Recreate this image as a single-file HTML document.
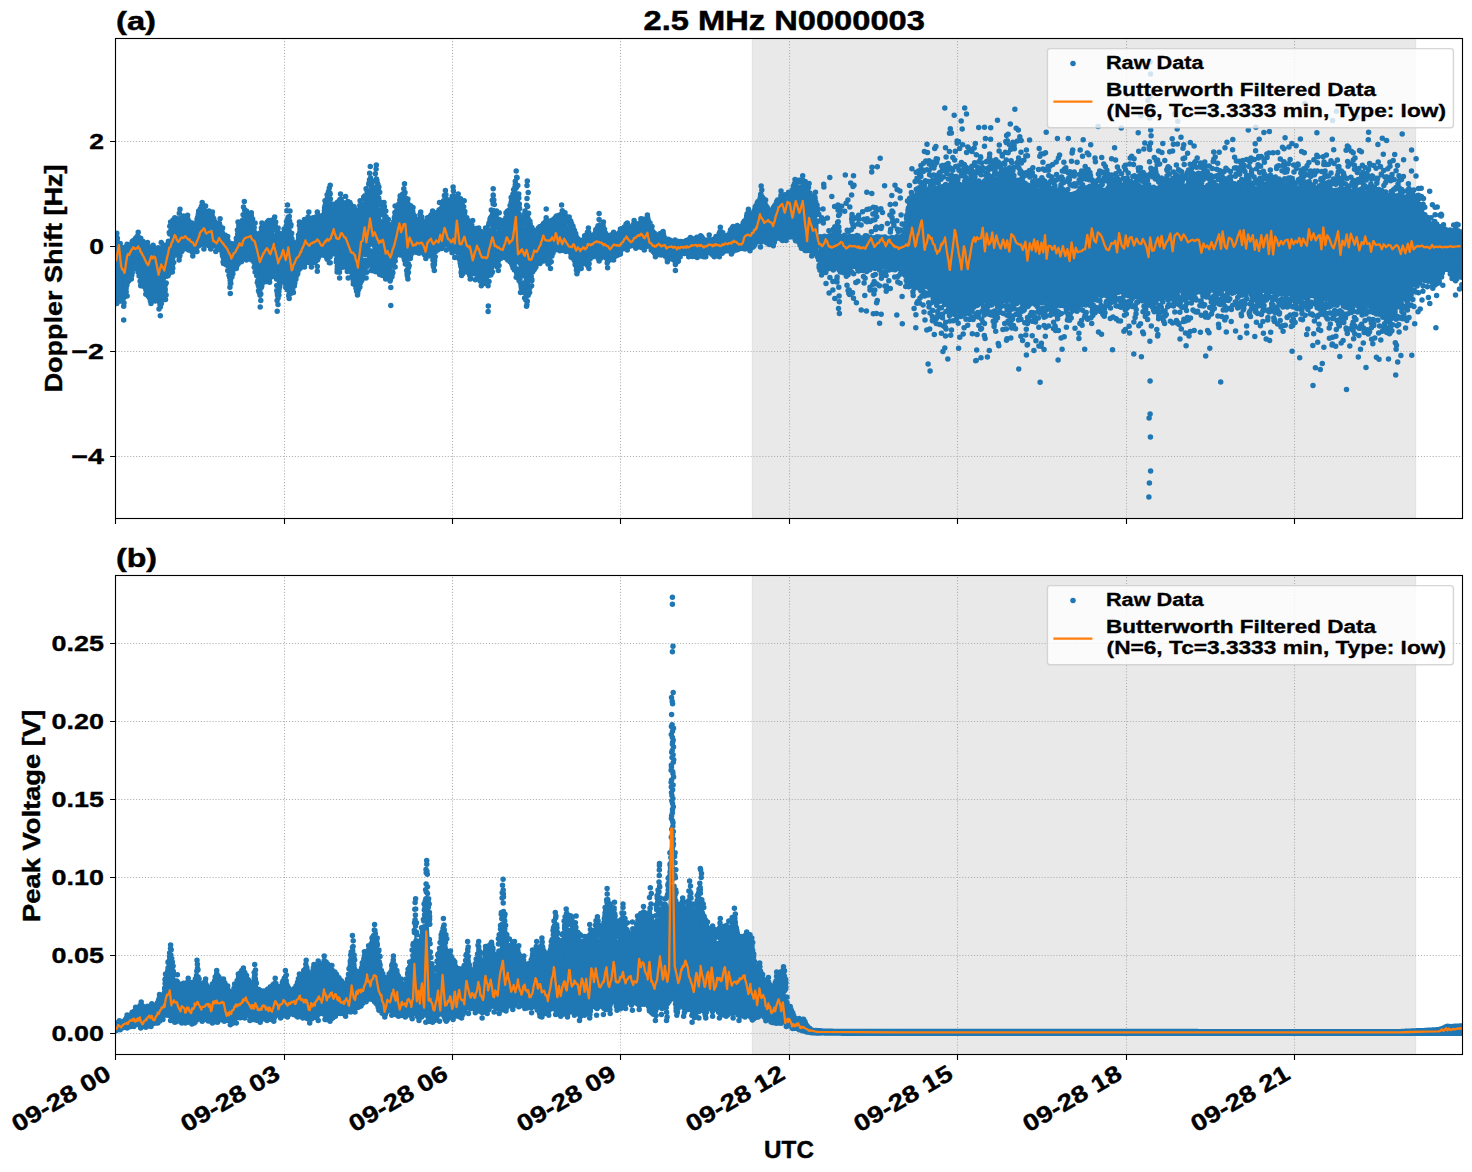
<!DOCTYPE html>
<html lang="en"><head><meta charset="utf-8"><title>2.5 MHz N0000003</title>
<style>html,body{margin:0;padding:0;background:#fff}svg{display:block}text{font-family:"Liberation Sans",sans-serif;font-weight:bold;fill:#000}</style></head><body>
<svg width="1472" height="1172" viewBox="0 0 1472 1172">
<rect width="1472" height="1172" fill="#fff"/>
<clipPath id="ca"><rect x="115.5" y="38.5" width="1347.0" height="480.0"/></clipPath>
<g clip-path="url(#ca)">
<rect x="752.4" y="33.5" width="663.2" height="490.0" fill="#d3d3d3" fill-opacity="0.5" stroke="#d3d3d3" stroke-opacity="0.5" stroke-width="1.11"/>
<path d="M115.50 518.5V38.5M284.50 518.5V38.5M452.50 518.5V38.5M620.50 518.5V38.5M789.50 518.5V38.5M957.50 518.5V38.5M1126.50 518.5V38.5M1294.50 518.5V38.5M115.5 141.50H1462.5M115.5 246.50H1462.5M115.5 351.50H1462.5M115.5 456.50H1462.5" stroke="#b0b0b0" stroke-width="1.11" stroke-dasharray="1.11 1.83" fill="none"/>
<path d="M115.5 246.3 116.5 244.8 117.5 246.5 118.5 245.2 119.5 249.0 120.5 255.7 121.5 255.9 122.5 255.8 123.5 256.7 124.5 257.1 125.5 255.2 126.5 253.3 127.5 252.0 128.5 251.6 129.5 251.2 130.5 249.6 131.5 247.7 132.5 246.0 133.5 245.0 134.5 244.4 135.5 244.2 136.5 242.9 137.5 241.6 138.5 241.9 139.5 244.7 140.5 247.2 141.5 247.7 142.5 247.9 143.5 249.2 144.5 251.1 145.5 252.9 146.5 253.4 147.5 254.0 148.5 254.6 149.5 256.0 150.5 256.2 151.5 255.0 152.5 252.9 153.5 252.0 154.5 254.3 155.5 256.9 156.5 258.0 157.5 257.5 158.5 256.9 159.5 256.7 160.5 256.3 161.5 255.3 162.5 254.7 163.5 254.0 164.5 255.5 165.5 255.9 166.5 254.6 167.5 251.7 168.5 246.3 169.5 239.3 170.5 233.3 171.5 232.0 172.5 230.0 173.5 227.6 174.5 225.7 175.5 225.1 176.5 225.0 177.5 226.2 178.5 227.6 179.5 227.6 180.5 226.8 181.5 227.3 182.5 227.5 183.5 227.7 184.5 226.8 185.5 225.3 186.5 223.9 187.5 224.1 188.5 227.3 189.5 230.8 190.5 232.3 191.5 233.7 192.5 234.5 193.5 234.8 194.5 235.0 195.5 233.9 196.5 229.3 197.5 224.6 198.5 221.1 199.5 218.4 200.5 216.5 201.5 215.1 202.5 214.5 203.5 216.1 204.5 218.3 205.5 220.2 206.5 220.7 207.5 220.6 208.5 221.5 209.5 222.3 210.5 222.6 211.5 221.6 212.5 222.0 213.5 224.9 214.5 228.0 215.5 231.0 216.5 231.8 217.5 231.1 218.5 230.3 219.5 229.7 220.5 230.9 221.5 233.9 222.5 237.2 223.5 239.2 224.5 239.8 225.5 240.3 226.5 242.0 227.5 244.8 228.5 248.6 229.5 250.5 230.5 251.5 231.5 251.0 232.5 250.3 233.5 249.9 234.5 248.7 235.5 247.0 236.5 244.1 237.5 236.5 238.5 231.7 239.5 231.0 240.5 231.7 241.5 232.5 242.5 230.2 243.5 223.4 244.5 218.9 245.5 223.0 246.5 226.9 247.5 225.7 248.5 223.4 249.5 221.4 250.5 221.8 251.5 222.8 252.5 226.5 253.5 231.2 254.5 235.9 255.5 238.8 256.5 242.4 257.5 245.5 258.5 247.6 259.5 248.8 260.5 244.3 261.5 239.1 262.5 236.5 263.5 236.1 264.5 236.4 265.5 235.7 266.5 234.0 267.5 232.7 268.5 233.0 269.5 233.4 270.5 233.2 271.5 231.3 272.5 229.4 273.5 229.4 274.5 232.0 275.5 237.8 276.5 240.0 277.5 241.5 278.5 243.8 279.5 247.4 280.5 250.0 281.5 248.6 282.5 246.6 283.5 245.2 284.5 243.6 285.5 240.0 286.5 235.2 287.5 230.1 288.5 230.9 289.5 232.3 290.5 236.5 291.5 246.4 292.5 250.3 293.5 251.6 294.5 251.8 295.5 252.0 296.5 252.0 297.5 251.6 298.5 244.2 299.5 235.0 300.5 233.2 301.5 231.6 302.5 232.1 303.5 232.5 304.5 231.7 305.5 229.3 306.5 227.5 307.5 227.1 308.5 227.1 309.5 227.8 310.5 228.0 311.5 228.3 312.5 230.2 313.5 232.0 314.5 232.4 315.5 229.1 316.5 225.7 317.5 224.6 318.5 226.8 319.5 229.0 320.5 229.4 321.5 229.6 322.5 227.1 323.5 223.5 324.5 219.8 325.5 215.8 326.5 212.1 327.5 208.4 328.5 206.4 329.5 205.9 330.5 211.5 331.5 216.0 332.5 219.6 333.5 218.3 334.5 216.3 335.5 215.7 336.5 216.3 337.5 215.7 338.5 214.4 339.5 213.0 340.5 211.1 341.5 211.8 342.5 213.2 343.5 213.9 344.5 214.5 345.5 215.3 346.5 215.5 347.5 215.4 348.5 215.8 349.5 217.4 350.5 218.8 351.5 221.1 352.5 223.9 353.5 226.4 354.5 225.7 355.5 224.4 356.5 225.0 357.5 227.6 358.5 228.1 359.5 226.3 360.5 224.1 361.5 221.1 362.5 216.3 363.5 210.6 364.5 208.1 365.5 209.3 366.5 210.1 367.5 204.4 368.5 198.8 369.5 194.5 370.5 193.7 371.5 197.3 372.5 200.1 373.5 201.5 374.5 200.4 375.5 197.0 376.5 194.7 377.5 199.4 378.5 205.2 379.5 208.6 380.5 213.9 381.5 218.9 382.5 220.4 383.5 219.3 384.5 219.4 385.5 223.8 386.5 227.7 387.5 231.1 388.5 234.3 389.5 236.0 390.5 236.8 391.5 236.1 392.5 235.6 393.5 230.9 394.5 226.4 395.5 222.3 396.5 219.1 397.5 215.9 398.5 212.6 399.5 209.5 400.5 208.4 401.5 207.3 402.5 205.5 403.5 204.1 404.5 203.6 405.5 208.5 406.5 213.0 407.5 217.1 408.5 216.7 409.5 215.6 410.5 215.9 411.5 218.0 412.5 220.4 413.5 222.8 414.5 224.4 415.5 226.1 416.5 228.7 417.5 228.3 418.5 228.0 419.5 225.8 420.5 223.5 421.5 225.2 422.5 228.3 423.5 231.8 424.5 235.0 425.5 235.9 426.5 234.1 427.5 229.8 428.5 227.0 429.5 225.3 430.5 224.0 431.5 223.5 432.5 224.1 433.5 224.9 434.5 224.8 435.5 223.5 436.5 222.5 437.5 221.1 438.5 220.2 439.5 218.5 440.5 217.0 441.5 217.1 442.5 214.5 443.5 210.0 444.5 205.9 445.5 205.8 446.5 209.1 447.5 212.1 448.5 214.5 449.5 213.8 450.5 212.4 451.5 211.1 452.5 209.2 453.5 208.6 454.5 210.4 455.5 209.9 456.5 208.2 457.5 209.3 458.5 210.4 459.5 211.5 460.5 212.5 461.5 215.0 462.5 216.4 463.5 217.9 464.5 220.8 465.5 226.1 466.5 229.3 467.5 229.2 468.5 230.6 469.5 233.3 470.5 236.0 471.5 237.4 472.5 238.6 473.5 238.3 474.5 237.4 475.5 236.6 476.5 236.9 477.5 237.9 478.5 239.4 479.5 239.7 480.5 239.7 481.5 241.1 482.5 243.0 483.5 244.3 484.5 243.4 485.5 242.5 486.5 240.4 487.5 238.1 488.5 235.1 489.5 232.1 490.5 229.1 491.5 220.6 492.5 212.5 493.5 209.8 494.5 217.3 495.5 224.5 496.5 230.5 497.5 230.4 498.5 229.8 499.5 229.3 500.5 228.9 501.5 228.4 502.5 229.2 503.5 229.7 504.5 229.0 505.5 225.7 506.5 221.7 507.5 219.9 508.5 220.0 509.5 220.1 510.5 216.4 511.5 212.0 512.5 207.8 513.5 204.2 514.5 200.3 515.5 194.8 516.5 194.6 517.5 204.3 518.5 213.4 519.5 221.1 520.5 230.2 521.5 237.6 522.5 236.1 523.5 232.4 524.5 228.4 525.5 224.1 526.5 220.5 527.5 220.1 528.5 226.2 529.5 232.9 530.5 235.9 531.5 237.5 532.5 238.4 533.5 239.7 534.5 241.3 535.5 242.0 536.5 239.7 537.5 237.2 538.5 235.5 539.5 234.6 540.5 234.0 541.5 232.8 542.5 230.8 543.5 229.5 544.5 230.4 545.5 231.6 546.5 230.6 547.5 229.5 548.5 228.6 549.5 229.5 550.5 230.4 551.5 229.4 552.5 227.4 553.5 226.2 554.5 225.3 555.5 224.1 556.5 223.9 557.5 224.0 558.5 223.8 559.5 222.4 560.5 222.0 561.5 222.1 562.5 222.3 563.5 221.7 564.5 222.3 565.5 223.7 566.5 224.8 567.5 225.4 568.5 225.9 569.5 226.8 570.5 229.0 571.5 231.3 572.5 233.4 573.5 235.3 574.5 238.0 575.5 240.1 576.5 242.0 577.5 243.4 578.5 245.2 579.5 247.1 580.5 246.3 581.5 245.0 582.5 244.3 583.5 244.8 584.5 245.6 585.5 244.0 586.5 240.9 587.5 237.9 588.5 238.0 589.5 240.2 590.5 240.9 591.5 240.7 592.5 240.0 593.5 238.7 594.5 237.8 595.5 236.7 596.5 235.1 597.5 233.3 598.5 231.8 599.5 231.2 600.5 231.8 601.5 231.6 602.5 231.5 603.5 232.0 604.5 234.9 605.5 237.8 606.5 241.3 607.5 243.0 608.5 242.8 609.5 241.7 610.5 240.4 611.5 239.8 612.5 239.8 613.5 239.6 614.5 239.3 615.5 238.9 616.5 238.7 617.5 238.7 618.5 238.6 619.5 237.3 620.5 235.8 621.5 234.2 622.5 233.6 623.5 233.0 624.5 231.8 625.5 230.4 626.5 229.1 627.5 229.7 628.5 230.7 629.5 231.5 630.5 232.1 631.5 232.2 632.5 230.7 633.5 229.1 634.5 228.2 635.5 228.7 636.5 229.3 637.5 229.1 638.5 228.4 639.5 227.7 640.5 226.4 641.5 225.4 642.5 225.4 643.5 226.2 644.5 227.0 645.5 226.1 646.5 225.0 647.5 224.4 648.5 226.6 649.5 229.3 650.5 231.7 651.5 234.2 652.5 236.6 653.5 237.3 654.5 238.1 655.5 239.5 656.5 241.0 657.5 240.9 658.5 239.9 659.5 238.9 660.5 238.2 661.5 237.9 662.5 237.5 663.5 238.6 664.5 241.1 665.5 243.5 666.5 243.6 667.5 243.5 668.5 243.6 669.5 243.7 670.5 243.7 671.5 244.5 672.5 244.9 673.5 245.3 674.5 245.6 675.5 245.9 676.5 245.5 677.5 245.3 678.5 245.0 679.5 244.8 680.5 244.7 681.5 244.9 682.5 245.3 683.5 245.2 684.5 245.0 685.5 244.2 686.5 243.5 687.5 243.2 688.5 242.8 689.5 242.4 690.5 241.9 691.5 241.8 692.5 242.3 693.5 242.8 694.5 242.7 695.5 241.9 696.5 241.0 697.5 241.3 698.5 241.6 699.5 241.7 700.5 241.1 701.5 240.7 702.5 241.4 703.5 242.6 704.5 243.6 705.5 243.4 706.5 243.2 707.5 242.9 708.5 242.6 709.5 242.5 710.5 242.6 711.5 242.8 712.5 242.8 713.5 242.4 714.5 241.9 715.5 242.2 716.5 242.1 717.5 241.4 718.5 239.8 719.5 237.9 720.5 236.3 721.5 236.8 722.5 237.5 723.5 239.5 724.5 241.5 725.5 241.1 726.5 240.4 727.5 239.9 728.5 238.5 729.5 236.7 730.5 234.8 731.5 234.1 732.5 233.2 733.5 232.9 734.5 233.7 735.5 234.6 736.5 234.6 737.5 234.6 738.5 234.4 739.5 233.7 740.5 232.9 741.5 231.9 742.5 230.8 743.5 229.0 744.5 226.8 745.5 224.8 746.5 222.9 747.5 220.8 748.5 219.1 749.5 221.6 750.5 224.0 751.5 224.9 752.5 223.2 753.5 219.8 754.5 216.9 755.5 214.7 756.5 212.6 757.5 210.6 758.5 208.6 759.5 206.0 760.5 203.7 761.5 203.0 762.5 205.2 763.5 207.3 764.5 209.6 765.5 211.8 766.5 212.6 767.5 213.6 768.5 214.7 769.5 216.1 770.5 217.0 771.5 218.0 772.5 218.1 773.5 216.5 774.5 212.6 775.5 210.1 776.5 207.7 777.5 206.0 778.5 205.4 779.5 204.4 780.5 203.4 781.5 202.4 782.5 202.6 783.5 203.2 784.5 202.6 785.5 201.6 786.5 201.0 787.5 200.5 788.5 201.0 789.5 201.0 790.5 200.9 791.5 200.2 792.5 199.2 793.5 196.0 794.5 192.8 795.5 190.3 796.5 190.4 797.5 191.0 798.5 191.6 799.5 191.9 800.5 191.1 801.5 191.0 802.5 190.9 803.5 193.2 804.5 194.6 805.5 195.8 806.5 199.8 807.5 203.3 808.5 203.7 809.5 204.3 810.5 207.3 811.5 208.4 812.5 207.7 813.5 206.4 814.5 207.7 815.5 209.4 816.5 214.0 817.5 218.4 818.5 222.7 L818.5 252.0 817.5 248.8 816.5 245.5 815.5 243.2 814.5 242.8 813.5 242.5 812.5 242.2 811.5 241.5 810.5 240.4 809.5 238.8 808.5 239.0 807.5 241.3 806.5 241.4 805.5 239.5 804.5 237.0 803.5 234.4 802.5 232.7 801.5 233.2 800.5 233.6 799.5 232.2 798.5 229.6 797.5 228.1 796.5 228.1 795.5 228.6 794.5 227.9 793.5 227.3 792.5 227.8 791.5 227.6 790.5 227.5 789.5 225.7 788.5 223.5 787.5 221.6 786.5 224.4 785.5 227.5 784.5 229.5 783.5 229.9 782.5 230.3 781.5 229.8 780.5 229.3 779.5 228.8 778.5 227.5 777.5 227.0 776.5 229.3 775.5 232.4 774.5 235.0 773.5 235.5 772.5 234.8 771.5 234.7 770.5 235.7 769.5 236.8 768.5 236.2 767.5 235.6 766.5 234.9 765.5 233.6 764.5 232.2 763.5 231.8 762.5 232.1 761.5 232.4 760.5 231.8 759.5 232.3 758.5 233.6 757.5 235.0 756.5 236.4 755.5 237.7 754.5 239.0 753.5 240.3 752.5 241.2 751.5 241.9 750.5 242.6 749.5 242.9 748.5 242.7 747.5 242.3 746.5 242.1 745.5 242.3 744.5 243.2 743.5 244.3 742.5 245.1 741.5 245.5 740.5 245.7 739.5 246.0 738.5 245.7 737.5 245.1 736.5 244.4 735.5 244.3 734.5 245.5 733.5 246.9 732.5 247.7 731.5 247.9 730.5 247.0 729.5 247.1 728.5 247.3 727.5 247.2 726.5 246.5 725.5 246.6 724.5 247.6 723.5 248.6 722.5 249.6 721.5 249.0 720.5 248.3 719.5 248.9 718.5 250.0 717.5 250.9 716.5 250.4 715.5 249.7 714.5 249.5 713.5 250.4 712.5 251.3 711.5 250.8 710.5 249.8 709.5 248.8 708.5 248.8 707.5 248.9 706.5 249.6 705.5 250.9 704.5 252.3 703.5 252.4 702.5 252.3 701.5 251.9 700.5 250.9 699.5 250.0 698.5 250.0 697.5 250.4 696.5 250.8 695.5 251.4 694.5 252.0 693.5 252.3 692.5 252.2 691.5 252.1 690.5 251.3 689.5 250.6 688.5 250.1 687.5 250.2 686.5 250.4 685.5 250.5 684.5 250.6 683.5 250.8 682.5 250.6 681.5 250.4 680.5 250.8 679.5 253.1 678.5 256.2 677.5 257.2 676.5 257.6 675.5 258.0 674.5 255.9 673.5 253.4 672.5 251.7 671.5 252.7 670.5 253.8 669.5 254.4 668.5 255.1 667.5 255.3 666.5 254.2 665.5 252.6 664.5 251.5 663.5 250.7 662.5 250.3 661.5 250.1 660.5 250.5 659.5 250.4 658.5 250.2 657.5 250.1 656.5 250.6 655.5 250.8 654.5 249.6 653.5 247.9 652.5 246.9 651.5 246.1 650.5 245.3 649.5 244.4 648.5 241.2 647.5 239.4 646.5 240.4 645.5 242.0 644.5 243.4 643.5 243.1 642.5 242.7 641.5 242.2 640.5 241.9 639.5 241.8 638.5 242.0 637.5 242.2 636.5 242.2 635.5 241.8 634.5 241.7 633.5 241.7 632.5 242.6 631.5 243.6 630.5 244.1 629.5 242.9 628.5 242.8 627.5 242.5 626.5 242.4 625.5 243.2 624.5 244.0 623.5 244.8 622.5 245.4 621.5 246.1 620.5 247.4 619.5 248.8 618.5 250.1 617.5 250.6 616.5 251.0 615.5 251.4 614.5 251.7 613.5 252.0 612.5 253.0 611.5 253.9 610.5 254.9 609.5 255.4 608.5 255.7 607.5 256.3 606.5 254.0 605.5 251.2 604.5 250.3 603.5 250.9 602.5 251.5 601.5 251.6 600.5 251.8 599.5 252.3 598.5 251.9 597.5 250.5 596.5 248.7 595.5 247.6 594.5 248.3 593.5 249.2 592.5 250.5 591.5 251.8 590.5 252.7 589.5 254.4 588.5 256.7 587.5 258.5 586.5 258.4 585.5 258.1 584.5 257.7 583.5 258.2 582.5 258.8 581.5 259.2 580.5 260.0 579.5 260.7 578.5 262.0 577.5 263.7 576.5 263.2 575.5 259.5 574.5 255.4 573.5 253.8 572.5 253.3 571.5 251.8 570.5 249.3 569.5 248.4 568.5 247.9 567.5 246.4 566.5 244.8 565.5 243.2 564.5 244.1 563.5 244.7 562.5 245.9 561.5 244.0 560.5 243.3 559.5 243.1 558.5 244.1 557.5 244.2 556.5 243.8 555.5 243.8 554.5 244.7 553.5 245.0 552.5 246.5 551.5 250.2 550.5 254.8 549.5 255.4 548.5 255.8 547.5 253.3 546.5 250.6 545.5 249.1 544.5 249.1 543.5 249.1 542.5 250.6 541.5 252.0 540.5 253.3 539.5 254.2 538.5 255.0 537.5 256.4 536.5 258.4 535.5 261.0 534.5 262.5 533.5 263.6 532.5 266.1 531.5 271.6 530.5 276.7 529.5 280.0 528.5 281.5 527.5 282.8 526.5 285.0 525.5 284.2 524.5 282.2 523.5 278.8 522.5 275.5 521.5 274.6 520.5 272.5 519.5 269.4 518.5 266.6 517.5 261.8 516.5 255.6 515.5 253.4 514.5 254.4 513.5 254.3 512.5 254.1 511.5 253.6 510.5 252.5 509.5 251.6 508.5 250.7 507.5 250.0 506.5 250.0 505.5 250.1 504.5 250.2 503.5 250.1 502.5 252.0 501.5 252.0 500.5 252.7 499.5 253.0 498.5 254.6 497.5 256.7 496.5 258.5 495.5 256.8 494.5 254.2 493.5 252.3 492.5 255.2 491.5 261.5 490.5 264.7 489.5 265.7 488.5 267.0 487.5 269.0 486.5 269.5 485.5 270.7 484.5 272.6 483.5 274.5 482.5 273.8 481.5 272.4 480.5 270.7 479.5 269.4 478.5 268.1 477.5 266.3 476.5 265.1 475.5 264.5 474.5 264.0 473.5 263.7 472.5 264.6 471.5 265.9 470.5 267.5 469.5 265.0 468.5 262.0 467.5 259.7 466.5 258.9 465.5 258.5 464.5 258.5 463.5 259.9 462.5 261.7 461.5 261.5 460.5 256.5 459.5 250.4 458.5 242.2 457.5 237.3 456.5 236.7 455.5 239.7 454.5 244.5 453.5 242.9 452.5 244.6 451.5 244.3 450.5 243.5 449.5 242.5 448.5 241.5 447.5 239.4 446.5 236.1 445.5 234.6 444.5 234.0 443.5 237.6 442.5 241.0 441.5 242.1 440.5 239.7 439.5 240.3 438.5 244.3 437.5 243.7 436.5 244.6 435.5 250.1 434.5 256.4 433.5 255.8 432.5 252.5 431.5 249.2 430.5 247.6 429.5 248.4 428.5 249.1 427.5 249.3 426.5 250.3 425.5 253.6 424.5 251.1 423.5 248.8 422.5 247.1 421.5 246.0 420.5 245.6 419.5 246.3 418.5 247.2 417.5 247.3 416.5 247.3 415.5 246.9 414.5 246.9 413.5 247.5 412.5 246.5 411.5 246.8 410.5 250.7 409.5 255.2 408.5 261.2 407.5 263.5 406.5 257.5 405.5 251.5 404.5 245.9 403.5 244.5 402.5 244.0 401.5 244.0 400.5 243.2 399.5 241.6 398.5 241.6 397.5 242.3 396.5 245.3 395.5 248.3 394.5 252.9 393.5 258.8 392.5 264.7 391.5 268.4 390.5 270.6 389.5 269.1 388.5 267.5 387.5 265.8 386.5 265.1 385.5 264.6 384.5 263.5 383.5 262.6 382.5 262.5 381.5 261.1 380.5 258.1 379.5 255.1 378.5 255.7 377.5 256.1 376.5 256.1 375.5 254.9 374.5 253.9 373.5 252.1 372.5 248.7 371.5 244.3 370.5 243.5 369.5 245.2 368.5 248.8 367.5 252.4 366.5 256.0 365.5 255.1 364.5 254.2 363.5 257.2 362.5 261.8 361.5 265.9 360.5 269.8 359.5 273.4 358.5 277.2 357.5 280.4 356.5 278.1 355.5 275.3 354.5 272.4 353.5 269.7 352.5 266.3 351.5 263.0 350.5 260.7 349.5 260.4 348.5 260.0 347.5 257.6 346.5 254.1 345.5 250.9 344.5 250.3 343.5 251.0 342.5 253.1 341.5 254.4 340.5 256.4 339.5 259.5 338.5 259.6 337.5 257.9 336.5 251.4 335.5 243.5 334.5 238.8 333.5 241.9 332.5 245.8 331.5 246.4 330.5 246.6 329.5 246.9 328.5 248.7 327.5 250.4 326.5 249.4 325.5 248.2 324.5 247.8 323.5 248.5 322.5 249.0 321.5 248.2 320.5 249.1 319.5 249.6 318.5 251.1 317.5 252.5 316.5 253.2 315.5 254.4 314.5 255.4 313.5 255.0 312.5 254.3 311.5 253.8 310.5 254.6 309.5 255.4 308.5 254.8 307.5 253.6 306.5 252.7 305.5 254.3 304.5 256.6 303.5 258.4 302.5 259.1 301.5 259.9 300.5 261.0 299.5 262.2 298.5 264.4 297.5 266.7 296.5 269.6 295.5 272.4 294.5 275.3 293.5 278.3 292.5 280.8 291.5 282.5 290.5 281.8 289.5 281.5 288.5 279.5 287.5 276.6 286.5 275.0 285.5 273.5 284.5 271.6 283.5 269.5 282.5 269.7 281.5 270.8 280.5 272.6 279.5 278.4 278.5 284.2 277.5 287.9 276.5 279.8 275.5 268.7 274.5 261.1 273.5 257.3 272.5 260.7 271.5 264.5 270.5 268.4 269.5 270.5 268.5 270.5 267.5 270.5 266.5 270.2 265.5 270.2 264.5 269.4 263.5 268.3 262.5 271.5 261.5 277.2 260.5 283.7 259.5 282.8 258.5 276.7 257.5 272.8 256.5 267.0 255.5 260.4 254.5 255.3 253.5 252.7 252.5 250.1 251.5 248.0 250.5 248.4 249.5 249.1 248.5 249.8 247.5 250.4 246.5 250.7 245.5 249.9 244.5 249.3 243.5 250.4 242.5 252.0 241.5 252.9 240.5 253.8 239.5 254.8 238.5 256.3 237.5 258.2 236.5 260.6 235.5 261.2 234.5 261.5 233.5 262.2 232.5 265.2 231.5 270.7 230.5 275.2 229.5 270.9 228.5 264.6 227.5 260.0 226.5 259.1 225.5 258.1 224.5 257.0 223.5 255.9 222.5 250.4 221.5 244.9 220.5 241.9 219.5 241.6 218.5 242.6 217.5 243.6 216.5 245.1 215.5 244.4 214.5 243.6 213.5 242.9 212.5 240.9 211.5 239.5 210.5 239.6 209.5 239.7 208.5 239.8 207.5 239.5 206.5 238.3 205.5 236.3 204.5 236.0 203.5 236.8 202.5 238.3 201.5 238.5 200.5 238.8 199.5 239.6 198.5 241.1 197.5 242.7 196.5 244.7 195.5 247.3 194.5 247.1 193.5 247.9 192.5 248.2 191.5 246.8 190.5 244.9 189.5 243.2 188.5 242.4 187.5 242.5 186.5 242.8 185.5 242.9 184.5 243.2 183.5 243.2 182.5 243.1 181.5 245.0 180.5 247.0 179.5 249.4 178.5 249.7 177.5 248.1 176.5 246.5 175.5 246.3 174.5 248.5 173.5 254.3 172.5 259.3 171.5 260.6 170.5 260.2 169.5 260.7 168.5 263.6 167.5 269.8 166.5 275.6 165.5 281.9 164.5 285.0 163.5 286.7 162.5 288.9 161.5 291.3 160.5 292.8 159.5 291.4 158.5 289.6 157.5 288.5 156.5 287.7 155.5 286.0 154.5 283.6 153.5 281.7 152.5 283.3 151.5 286.4 150.5 288.7 149.5 287.4 148.5 286.1 147.5 284.3 146.5 281.6 145.5 278.9 144.5 278.1 143.5 277.6 142.5 276.5 141.5 274.4 140.5 271.7 139.5 268.1 138.5 264.8 137.5 261.7 136.5 260.3 135.5 259.6 134.5 259.4 133.5 261.3 132.5 265.2 131.5 267.4 130.5 269.3 129.5 271.1 128.5 273.2 127.5 275.1 126.5 278.0 125.5 281.4 124.5 285.1 123.5 289.0 122.5 290.7 121.5 289.7 120.5 285.1 119.5 280.1 118.5 279.9 117.5 282.5 116.5 284.4 115.5 284.4ZM819.0 238.9 820.0 238.9 821.0 238.9 822.0 238.8 823.0 238.8 824.0 238.8 825.0 238.8 826.0 238.9 827.0 238.9 828.0 238.9 829.0 239.0 830.0 239.1 831.0 239.2 832.0 239.2 833.0 239.2 834.0 239.2 835.0 239.2 836.0 239.1 837.0 239.0 838.0 239.0 839.0 238.9 840.0 238.9 841.0 238.9 842.0 239.0 843.0 239.0 844.0 239.1 845.0 239.2 846.0 239.2 847.0 239.3 848.0 239.3 849.0 239.3 850.0 239.3 851.0 239.3 852.0 239.3 853.0 239.3 854.0 239.3 855.0 239.3 856.0 239.3 857.0 239.4 858.0 239.4 859.0 239.4 860.0 239.4 861.0 239.5 862.0 239.5 863.0 239.4 864.0 239.4 865.0 239.3 866.0 239.2 867.0 239.0 868.0 238.9 869.0 238.8 870.0 238.8 871.0 238.7 872.0 238.7 873.0 238.7 874.0 238.8 875.0 238.8 876.0 238.8 877.0 238.8 878.0 238.7 879.0 238.6 880.0 238.5 881.0 238.5 882.0 238.6 883.0 238.6 884.0 238.6 885.0 238.5 886.0 238.6 887.0 238.6 888.0 238.7 889.0 238.7 890.0 238.8 891.0 238.8 892.0 238.8 893.0 239.0 894.0 239.1 895.0 239.2 896.0 239.3 897.0 239.4 898.0 239.4 899.0 239.4 900.0 239.4 901.0 239.4 902.0 239.4 903.0 239.3 904.0 238.1 905.0 232.0 906.0 225.9 907.0 219.6 908.0 213.3 909.0 207.6 910.0 206.0 911.0 204.6 912.0 203.1 913.0 201.5 914.0 199.9 915.0 198.3 916.0 196.8 917.0 195.3 918.0 193.6 919.0 192.1 920.0 191.3 921.0 190.9 922.0 190.5 923.0 190.1 924.0 189.7 925.0 189.3 926.0 189.0 927.0 188.8 928.0 188.4 929.0 187.9 930.0 187.3 931.0 186.9 932.0 186.5 933.0 186.6 934.0 186.6 935.0 186.5 936.0 186.4 937.0 186.3 938.0 186.1 939.0 185.8 940.0 185.4 941.0 185.0 942.0 184.6 943.0 184.4 944.0 184.2 945.0 184.3 946.0 184.4 947.0 184.4 948.0 184.3 949.0 184.1 950.0 183.8 951.0 183.3 952.0 182.7 953.0 182.2 954.0 181.6 955.0 181.1 956.0 180.9 957.0 180.8 958.0 181.0 959.0 181.4 960.0 181.8 961.0 182.1 962.0 182.5 963.0 182.9 964.0 183.2 965.0 183.3 966.0 183.3 967.0 183.1 968.0 183.1 969.0 183.1 970.0 183.0 971.0 182.7 972.0 182.4 973.0 182.0 974.0 181.8 975.0 181.6 976.0 181.5 977.0 181.4 978.0 181.5 979.0 181.6 980.0 181.7 981.0 180.8 982.0 180.0 983.0 179.3 984.0 178.5 985.0 177.7 986.0 177.3 987.0 177.2 988.0 177.2 989.0 177.2 990.0 177.2 991.0 177.3 992.0 177.3 993.0 177.3 994.0 177.2 995.0 177.2 996.0 177.1 997.0 177.0 998.0 176.9 999.0 176.7 1000.0 176.6 1001.0 176.4 1002.0 176.3 1003.0 176.1 1004.0 176.0 1005.0 175.8 1006.0 175.6 1007.0 175.5 1008.0 175.3 1009.0 175.2 1010.0 175.0 1011.0 174.9 1012.0 175.5 1013.0 176.1 1014.0 176.7 1015.0 177.3 1016.0 178.0 1017.0 178.7 1018.0 179.4 1019.0 180.1 1020.0 180.8 1021.0 181.5 1022.0 182.2 1023.0 182.8 1024.0 183.5 1025.0 184.1 1026.0 184.7 1027.0 185.3 1028.0 185.8 1029.0 186.4 1030.0 187.0 1031.0 187.5 1032.0 187.9 1033.0 188.0 1034.0 188.2 1035.0 188.3 1036.0 188.4 1037.0 188.5 1038.0 188.6 1039.0 188.7 1040.0 188.8 1041.0 188.9 1042.0 189.0 1043.0 189.1 1044.0 189.3 1045.0 189.4 1046.0 189.5 1047.0 189.6 1048.0 189.8 1049.0 189.9 1050.0 190.0 1051.0 190.2 1052.0 190.3 1053.0 190.4 1054.0 190.6 1055.0 190.7 1056.0 190.9 1057.0 191.1 1058.0 191.3 1059.0 191.5 1060.0 191.8 1061.0 192.1 1062.0 192.5 1063.0 192.7 1064.0 192.7 1065.0 192.8 1066.0 192.7 1067.0 192.7 1068.0 192.6 1069.0 192.4 1070.0 192.2 1071.0 192.0 1072.0 191.7 1073.0 191.4 1074.0 191.0 1075.0 190.7 1076.0 190.4 1077.0 190.1 1078.0 189.7 1079.0 189.4 1080.0 189.1 1081.0 188.8 1082.0 188.4 1083.0 188.1 1084.0 187.7 1085.0 187.4 1086.0 187.0 1087.0 186.7 1088.0 186.3 1089.0 186.2 1090.0 186.2 1091.0 186.2 1092.0 186.2 1093.0 186.3 1094.0 186.3 1095.0 186.5 1096.0 186.6 1097.0 186.8 1098.0 186.9 1099.0 187.1 1100.0 187.2 1101.0 187.3 1102.0 187.5 1103.0 187.6 1104.0 187.7 1105.0 187.8 1106.0 187.9 1107.0 188.0 1108.0 188.0 1109.0 188.1 1110.0 188.2 1111.0 188.3 1112.0 188.4 1113.0 188.5 1114.0 188.4 1115.0 188.3 1116.0 188.1 1117.0 187.9 1118.0 187.7 1119.0 187.6 1120.0 187.4 1121.0 187.2 1122.0 187.0 1123.0 186.8 1124.0 186.7 1125.0 186.5 1126.0 186.3 1127.0 186.1 1128.0 185.9 1129.0 185.7 1130.0 185.5 1131.0 185.4 1132.0 185.2 1133.0 185.0 1134.0 184.8 1135.0 184.7 1136.0 184.5 1137.0 184.4 1138.0 184.3 1139.0 184.2 1140.0 184.4 1141.0 184.6 1142.0 184.8 1143.0 185.0 1144.0 185.2 1145.0 185.4 1146.0 185.5 1147.0 185.7 1148.0 185.9 1149.0 186.1 1150.0 186.2 1151.0 186.3 1152.0 186.3 1153.0 186.4 1154.0 186.4 1155.0 186.4 1156.0 186.4 1157.0 186.4 1158.0 186.3 1159.0 186.3 1160.0 186.3 1161.0 186.3 1162.0 186.3 1163.0 186.3 1164.0 186.3 1165.0 186.3 1166.0 186.2 1167.0 186.1 1168.0 186.0 1169.0 185.9 1170.0 185.8 1171.0 185.7 1172.0 185.6 1173.0 185.5 1174.0 185.4 1175.0 185.3 1176.0 185.2 1177.0 185.1 1178.0 185.0 1179.0 184.9 1180.0 184.8 1181.0 184.7 1182.0 184.6 1183.0 184.5 1184.0 184.5 1185.0 184.4 1186.0 184.4 1187.0 184.4 1188.0 184.4 1189.0 184.4 1190.0 184.4 1191.0 184.4 1192.0 184.4 1193.0 184.4 1194.0 184.4 1195.0 184.4 1196.0 184.4 1197.0 184.4 1198.0 184.4 1199.0 184.4 1200.0 184.4 1201.0 184.6 1202.0 184.7 1203.0 184.8 1204.0 184.9 1205.0 184.9 1206.0 185.0 1207.0 185.0 1208.0 185.0 1209.0 185.0 1210.0 184.9 1211.0 184.9 1212.0 184.8 1213.0 184.8 1214.0 184.7 1215.0 184.7 1216.0 184.6 1217.0 184.6 1218.0 184.6 1219.0 184.6 1220.0 184.7 1221.0 184.7 1222.0 184.8 1223.0 184.9 1224.0 185.0 1225.0 185.1 1226.0 185.3 1227.0 185.4 1228.0 185.4 1229.0 185.5 1230.0 185.5 1231.0 185.6 1232.0 185.6 1233.0 185.5 1234.0 185.5 1235.0 185.4 1236.0 185.4 1237.0 185.4 1238.0 185.4 1239.0 185.4 1240.0 185.4 1241.0 185.5 1242.0 185.5 1243.0 185.6 1244.0 185.6 1245.0 185.7 1246.0 185.7 1247.0 185.8 1248.0 185.8 1249.0 185.9 1250.0 186.0 1251.0 186.0 1252.0 186.0 1253.0 186.1 1254.0 186.1 1255.0 186.1 1256.0 186.2 1257.0 186.2 1258.0 186.2 1259.0 186.2 1260.0 186.2 1261.0 186.3 1262.0 186.3 1263.0 186.3 1264.0 186.3 1265.0 186.3 1266.0 186.4 1267.0 186.4 1268.0 186.4 1269.0 186.4 1270.0 186.4 1271.0 186.4 1272.0 186.5 1273.0 186.5 1274.0 186.5 1275.0 186.5 1276.0 186.4 1277.0 186.4 1278.0 186.4 1279.0 186.4 1280.0 186.4 1281.0 186.3 1282.0 186.3 1283.0 186.3 1284.0 186.3 1285.0 186.3 1286.0 186.2 1287.0 186.2 1288.0 186.2 1289.0 186.2 1290.0 186.1 1291.0 186.1 1292.0 186.1 1293.0 186.1 1294.0 186.1 1295.0 186.1 1296.0 186.1 1297.0 186.1 1298.0 186.1 1299.0 186.1 1300.0 186.1 1301.0 186.1 1302.0 186.1 1303.0 186.1 1304.0 186.1 1305.0 186.1 1306.0 186.1 1307.0 186.1 1308.0 186.1 1309.0 186.1 1310.0 186.1 1311.0 186.1 1312.0 186.1 1313.0 186.1 1314.0 186.1 1315.0 186.1 1316.0 186.2 1317.0 186.2 1318.0 186.3 1319.0 186.3 1320.0 186.4 1321.0 186.5 1322.0 186.6 1323.0 186.8 1324.0 186.9 1325.0 187.0 1326.0 187.2 1327.0 187.3 1328.0 187.4 1329.0 187.6 1330.0 187.7 1331.0 187.8 1332.0 188.0 1333.0 188.1 1334.0 188.2 1335.0 188.3 1336.0 188.3 1337.0 188.4 1338.0 188.5 1339.0 188.5 1340.0 188.6 1341.0 188.6 1342.0 188.6 1343.0 188.6 1344.0 188.7 1345.0 188.8 1346.0 188.8 1347.0 188.9 1348.0 189.0 1349.0 189.1 1350.0 189.1 1351.0 189.2 1352.0 189.3 1353.0 189.3 1354.0 189.4 1355.0 189.5 1356.0 189.6 1357.0 189.6 1358.0 189.7 1359.0 189.8 1360.0 189.8 1361.0 189.9 1362.0 190.0 1363.0 190.1 1364.0 190.3 1365.0 190.4 1366.0 190.6 1367.0 190.8 1368.0 191.0 1369.0 191.2 1370.0 191.5 1371.0 191.8 1372.0 192.0 1373.0 192.3 1374.0 192.5 1375.0 192.7 1376.0 192.9 1377.0 193.0 1378.0 193.2 1379.0 193.4 1380.0 193.6 1381.0 193.8 1382.0 194.0 1383.0 194.2 1384.0 194.4 1385.0 194.5 1386.0 194.7 1387.0 194.9 1388.0 195.1 1389.0 195.3 1390.0 195.4 1391.0 195.6 1392.0 195.8 1393.0 196.0 1394.0 196.1 1395.0 196.3 1396.0 196.5 1397.0 196.7 1398.0 196.9 1399.0 197.0 1400.0 197.2 1401.0 197.4 1402.0 197.6 1403.0 197.8 1404.0 197.9 1405.0 198.1 1406.0 198.3 1407.0 198.4 1408.0 198.8 1409.0 199.6 1410.0 200.5 1411.0 201.3 1412.0 202.1 1413.0 202.9 1414.0 203.7 1415.0 204.5 1416.0 206.7 1417.0 208.9 1418.0 211.1 1419.0 213.3 1420.0 215.6 1421.0 216.9 1422.0 218.3 1423.0 219.7 1424.0 221.1 1425.0 222.5 1426.0 223.9 1427.0 225.3 1428.0 226.7 1429.0 227.2 1430.0 227.8 1431.0 228.3 1432.0 228.9 1433.0 229.5 1434.0 230.0 1435.0 230.6 1436.0 231.0 1437.0 231.2 1438.0 231.4 1439.0 231.6 1440.0 231.8 1441.0 232.0 1442.0 232.2 1443.0 232.4 1444.0 232.6 1445.0 232.8 1446.0 233.0 1447.0 233.1 1448.0 233.3 1449.0 233.4 1450.0 233.5 1451.0 233.6 1452.0 233.7 1453.0 233.9 1454.0 234.0 1455.0 234.1 1456.0 234.2 1457.0 234.3 1458.0 234.5 1459.0 234.6 1460.0 234.7 1461.0 234.8 1462.0 235.0 L1462.0 270.1 1461.0 269.7 1460.0 269.3 1459.0 268.9 1458.0 268.5 1457.0 268.1 1456.0 267.7 1455.0 267.3 1454.0 266.9 1453.0 266.4 1452.0 266.0 1451.0 265.6 1450.0 265.2 1449.0 264.8 1448.0 264.4 1447.0 264.0 1446.0 263.6 1445.0 264.7 1444.0 265.8 1443.0 266.9 1442.0 268.0 1441.0 269.1 1440.0 270.2 1439.0 271.3 1438.0 272.4 1437.0 273.5 1436.0 274.6 1435.0 275.0 1434.0 275.0 1433.0 275.0 1432.0 275.0 1431.0 275.0 1430.0 275.0 1429.0 275.0 1428.0 275.0 1427.0 275.0 1426.0 274.9 1425.0 274.9 1424.0 274.9 1423.0 274.9 1422.0 274.9 1421.0 274.9 1420.0 274.9 1419.0 275.8 1418.0 276.6 1417.0 277.5 1416.0 278.4 1415.0 279.3 1414.0 281.8 1413.0 284.2 1412.0 286.7 1411.0 289.2 1410.0 291.7 1409.0 294.2 1408.0 296.6 1407.0 298.1 1406.0 298.8 1405.0 299.5 1404.0 300.2 1403.0 300.9 1402.0 301.6 1401.0 302.3 1400.0 302.9 1399.0 303.6 1398.0 304.3 1397.0 305.0 1396.0 305.7 1395.0 306.4 1394.0 306.6 1393.0 306.7 1392.0 306.8 1391.0 306.8 1390.0 306.9 1389.0 307.0 1388.0 307.1 1387.0 307.1 1386.0 307.2 1385.0 307.3 1384.0 307.3 1383.0 307.4 1382.0 307.5 1381.0 307.6 1380.0 307.6 1379.0 307.7 1378.0 307.8 1377.0 307.8 1376.0 307.9 1375.0 308.0 1374.0 308.0 1373.0 308.1 1372.0 308.1 1371.0 308.1 1370.0 308.1 1369.0 308.1 1368.0 307.8 1367.0 307.6 1366.0 307.3 1365.0 307.0 1364.0 306.8 1363.0 306.6 1362.0 306.4 1361.0 306.2 1360.0 306.0 1359.0 305.8 1358.0 305.7 1357.0 305.5 1356.0 305.4 1355.0 305.2 1354.0 305.0 1353.0 304.9 1352.0 304.7 1351.0 304.5 1350.0 304.4 1349.0 304.2 1348.0 304.1 1347.0 303.9 1346.0 303.7 1345.0 303.6 1344.0 303.4 1343.0 303.3 1342.0 303.1 1341.0 303.0 1340.0 302.9 1339.0 302.8 1338.0 302.7 1337.0 302.5 1336.0 302.4 1335.0 302.2 1334.0 302.0 1333.0 301.8 1332.0 301.7 1331.0 301.4 1330.0 301.2 1329.0 301.0 1328.0 300.8 1327.0 300.6 1326.0 300.4 1325.0 300.2 1324.0 300.0 1323.0 299.8 1322.0 299.6 1321.0 299.4 1320.0 299.2 1319.0 299.1 1318.0 298.9 1317.0 298.8 1316.0 298.6 1315.0 298.5 1314.0 298.4 1313.0 298.3 1312.0 298.2 1311.0 298.1 1310.0 298.0 1309.0 297.9 1308.0 297.8 1307.0 297.7 1306.0 297.6 1305.0 297.5 1304.0 297.5 1303.0 297.4 1302.0 297.3 1301.0 297.2 1300.0 297.1 1299.0 297.0 1298.0 296.9 1297.0 296.8 1296.0 296.7 1295.0 296.6 1294.0 296.5 1293.0 296.4 1292.0 296.3 1291.0 296.2 1290.0 296.1 1289.0 296.0 1288.0 295.9 1287.0 295.8 1286.0 295.7 1285.0 295.5 1284.0 295.4 1283.0 295.3 1282.0 295.2 1281.0 295.1 1280.0 295.0 1279.0 294.9 1278.0 294.7 1277.0 294.6 1276.0 294.5 1275.0 294.4 1274.0 294.2 1273.0 294.1 1272.0 294.0 1271.0 293.8 1270.0 293.7 1269.0 293.5 1268.0 293.4 1267.0 293.2 1266.0 293.1 1265.0 292.9 1264.0 292.8 1263.0 292.6 1262.0 292.5 1261.0 292.3 1260.0 292.2 1259.0 292.0 1258.0 291.9 1257.0 291.8 1256.0 291.6 1255.0 291.4 1254.0 291.3 1253.0 291.1 1252.0 291.0 1251.0 290.8 1250.0 290.6 1249.0 290.4 1248.0 290.3 1247.0 290.1 1246.0 289.9 1245.0 289.7 1244.0 289.5 1243.0 289.4 1242.0 289.2 1241.0 289.0 1240.0 289.1 1239.0 289.1 1238.0 289.2 1237.0 289.3 1236.0 289.4 1235.0 289.6 1234.0 289.7 1233.0 289.9 1232.0 290.0 1231.0 290.1 1230.0 290.2 1229.0 290.2 1228.0 290.3 1227.0 290.3 1226.0 290.3 1225.0 290.3 1224.0 290.3 1223.0 290.3 1222.0 290.3 1221.0 290.4 1220.0 290.4 1219.0 290.5 1218.0 290.6 1217.0 290.7 1216.0 290.8 1215.0 291.0 1214.0 291.1 1213.0 291.3 1212.0 291.4 1211.0 291.5 1210.0 291.7 1209.0 291.8 1208.0 291.9 1207.0 292.0 1206.0 292.1 1205.0 292.2 1204.0 292.2 1203.0 292.3 1202.0 292.3 1201.0 292.3 1200.0 292.3 1199.0 292.3 1198.0 292.3 1197.0 292.3 1196.0 292.3 1195.0 292.3 1194.0 292.3 1193.0 292.3 1192.0 292.3 1191.0 292.3 1190.0 292.3 1189.0 292.3 1188.0 292.4 1187.0 292.4 1186.0 292.4 1185.0 292.4 1184.0 292.5 1183.0 292.5 1182.0 292.6 1181.0 292.7 1180.0 292.8 1179.0 292.9 1178.0 293.0 1177.0 293.1 1176.0 293.2 1175.0 293.3 1174.0 293.4 1173.0 293.5 1172.0 293.6 1171.0 293.7 1170.0 293.8 1169.0 293.9 1168.0 293.9 1167.0 294.0 1166.0 294.1 1165.0 294.3 1164.0 294.3 1163.0 294.4 1162.0 294.5 1161.0 294.5 1160.0 294.6 1159.0 294.7 1158.0 294.8 1157.0 294.9 1156.0 295.0 1155.0 295.1 1154.0 295.1 1153.0 295.2 1152.0 295.2 1151.0 295.2 1150.0 295.2 1149.0 295.2 1148.0 295.1 1147.0 295.1 1146.0 295.0 1145.0 294.9 1144.0 294.8 1143.0 294.7 1142.0 294.6 1141.0 294.5 1140.0 294.4 1139.0 294.3 1138.0 294.2 1137.0 294.0 1136.0 293.9 1135.0 293.8 1134.0 293.7 1133.0 293.6 1132.0 293.5 1131.0 293.4 1130.0 293.4 1129.0 293.3 1128.0 293.2 1127.0 293.1 1126.0 293.1 1125.0 293.0 1124.0 292.9 1123.0 292.8 1122.0 292.8 1121.0 292.7 1120.0 292.6 1119.0 292.5 1118.0 292.4 1117.0 292.3 1116.0 292.3 1115.0 292.2 1114.0 292.1 1113.0 292.1 1112.0 292.3 1111.0 292.5 1110.0 292.7 1109.0 292.9 1108.0 293.0 1107.0 293.2 1106.0 293.4 1105.0 293.6 1104.0 293.7 1103.0 293.9 1102.0 294.0 1101.0 294.2 1100.0 294.3 1099.0 294.4 1098.0 294.6 1097.0 294.7 1096.0 294.8 1095.0 294.9 1094.0 295.1 1093.0 295.2 1092.0 295.4 1091.0 295.7 1090.0 295.9 1089.0 296.2 1088.0 296.5 1087.0 296.9 1086.0 297.2 1085.0 297.5 1084.0 297.9 1083.0 298.2 1082.0 298.5 1081.0 298.8 1080.0 299.1 1079.0 299.4 1078.0 299.8 1077.0 300.1 1076.0 300.4 1075.0 300.7 1074.0 301.0 1073.0 301.3 1072.0 301.6 1071.0 301.9 1070.0 302.1 1069.0 302.3 1068.0 302.5 1067.0 302.6 1066.0 302.7 1065.0 302.7 1064.0 302.7 1063.0 302.7 1062.0 302.6 1061.0 302.5 1060.0 302.4 1059.0 302.4 1058.0 302.4 1057.0 302.4 1056.0 302.4 1055.0 302.4 1054.0 302.5 1053.0 302.6 1052.0 302.7 1051.0 302.7 1050.0 302.8 1049.0 302.9 1048.0 303.0 1047.0 303.1 1046.0 303.1 1045.0 303.2 1044.0 303.3 1043.0 303.4 1042.0 303.5 1041.0 303.6 1040.0 303.7 1039.0 303.8 1038.0 303.9 1037.0 304.0 1036.0 304.1 1035.0 304.2 1034.0 304.3 1033.0 304.4 1032.0 304.4 1031.0 304.5 1030.0 304.5 1029.0 304.4 1028.0 304.4 1027.0 304.4 1026.0 304.3 1025.0 304.3 1024.0 304.2 1023.0 304.1 1022.0 304.0 1021.0 303.9 1020.0 303.7 1019.0 303.6 1018.0 303.4 1017.0 303.2 1016.0 303.1 1015.0 303.0 1014.0 302.9 1013.0 302.8 1012.0 302.7 1011.0 302.7 1010.0 302.7 1009.0 302.8 1008.0 302.8 1007.0 302.9 1006.0 303.0 1005.0 303.0 1004.0 303.1 1003.0 303.2 1002.0 303.2 1001.0 303.3 1000.0 303.4 999.0 303.4 998.0 303.5 997.0 303.5 996.0 303.5 995.0 303.5 994.0 303.5 993.0 303.4 992.0 303.4 991.0 303.3 990.0 303.2 989.0 303.1 988.0 303.0 987.0 303.0 986.0 302.9 985.0 302.9 984.0 302.9 983.0 302.8 982.0 302.8 981.0 302.8 980.0 302.9 979.0 302.9 978.0 302.9 977.0 302.9 976.0 303.0 975.0 303.2 974.0 303.5 973.0 303.8 972.0 304.2 971.0 304.6 970.0 304.9 969.0 305.0 968.0 305.1 967.0 305.3 966.0 305.5 965.0 305.6 964.0 305.6 963.0 305.4 962.0 305.2 961.0 305.0 960.0 304.7 959.0 304.5 958.0 304.2 957.0 303.9 956.0 303.5 955.0 303.4 954.0 303.4 953.0 303.5 952.0 303.5 951.0 303.6 950.0 303.7 949.0 303.6 948.0 303.3 947.0 303.0 946.0 302.6 945.0 302.1 944.0 301.4 943.0 300.8 942.0 300.2 941.0 299.8 940.0 299.4 939.0 299.0 938.0 298.4 937.0 297.9 936.0 297.2 935.0 296.5 934.0 295.8 933.0 295.0 932.0 294.3 931.0 293.2 930.0 292.3 929.0 291.5 928.0 290.6 927.0 289.6 926.0 288.5 925.0 287.4 924.0 286.4 923.0 285.4 922.0 284.4 921.0 283.4 920.0 282.5 919.0 281.7 918.0 280.9 917.0 280.2 916.0 279.4 915.0 278.7 914.0 278.0 913.0 277.3 912.0 276.5 911.0 275.7 910.0 274.8 909.0 274.1 908.0 272.2 907.0 270.2 906.0 268.2 905.0 266.1 904.0 263.9 903.0 263.5 902.0 263.6 901.0 263.6 900.0 263.6 899.0 263.6 898.0 263.6 897.0 263.6 896.0 263.5 895.0 263.5 894.0 263.3 893.0 263.2 892.0 263.1 891.0 263.1 890.0 263.1 889.0 263.0 888.0 263.0 887.0 262.9 886.0 262.9 885.0 262.9 884.0 262.9 883.0 262.9 882.0 262.9 881.0 262.9 880.0 262.9 879.0 262.9 878.0 263.0 877.0 263.1 876.0 263.1 875.0 263.1 874.0 263.1 873.0 263.0 872.0 263.0 871.0 263.0 870.0 263.1 869.0 263.1 868.0 263.2 867.0 263.3 866.0 263.4 865.0 263.5 864.0 263.6 863.0 263.6 862.0 263.7 861.0 263.7 860.0 263.6 859.0 263.6 858.0 263.6 857.0 263.6 856.0 263.5 855.0 263.5 854.0 263.5 853.0 263.5 852.0 263.5 851.0 263.5 850.0 263.5 849.0 263.5 848.0 263.5 847.0 263.5 846.0 263.5 845.0 263.4 844.0 263.4 843.0 263.3 842.0 263.3 841.0 263.2 840.0 263.2 839.0 263.2 838.0 263.2 837.0 263.3 836.0 263.3 835.0 263.4 834.0 263.4 833.0 263.5 832.0 263.5 831.0 263.4 830.0 263.3 829.0 263.2 828.0 263.2 827.0 263.2 826.0 263.1 825.0 263.1 824.0 263.1 823.0 263.1 822.0 263.1 821.0 263.2 820.0 263.2 819.0 263.2Z" fill="#1f77b4"/>
<path d="M115.1 235.3h0M115.9 244.3h0M115.4 246.0h0M115.6 295.9h0M115.3 286.8h0M115.3 286.5h0M116.2 234.4h0M116.9 238.6h0M116.4 235.4h0M116.8 296.5h0M116.5 287.5h0M116.8 290.3h0M117.4 238.3h0M117.0 246.4h0M117.2 246.2h0M117.6 293.0h0M117.3 281.8h0M117.8 284.9h0M118.5 243.1h0M118.3 248.2h0M118.8 248.9h0M118.7 291.3h0M118.1 284.5h0M118.3 280.8h0M119.3 248.4h0M119.8 248.0h0M119.5 250.1h0M119.3 290.1h0M119.9 279.9h0M120.0 283.0h0M120.6 249.5h0M120.7 253.9h0M120.4 255.0h0M120.8 295.5h0M120.1 295.1h0M120.4 284.5h0M121.4 248.1h0M122.0 250.3h0M121.7 251.4h0M121.6 300.9h0M121.2 294.8h0M121.7 289.1h0M122.6 247.8h0M122.9 255.4h0M122.3 254.6h0M122.8 300.5h0M122.9 300.7h0M122.2 290.1h0M123.2 247.7h0M123.7 249.1h0M123.9 250.5h0M124.0 297.6h0M123.1 291.6h0M123.9 292.2h0M124.3 248.2h0M124.1 257.2h0M124.7 257.1h0M124.4 292.2h0M124.3 292.2h0M124.3 288.9h0M125.4 247.0h0M125.1 252.9h0M125.6 251.0h0M126.0 288.8h0M125.3 288.8h0M125.8 282.7h0M126.6 246.3h0M126.8 248.4h0M126.5 252.4h0M126.9 284.9h0M126.8 284.2h0M126.0 282.0h0M127.7 245.6h0M127.1 251.2h0M127.8 249.0h0M127.7 281.9h0M127.0 277.3h0M127.9 279.4h0M128.6 246.0h0M128.3 251.3h0M128.8 248.9h0M128.8 280.7h0M128.6 276.5h0M128.7 273.7h0M129.4 245.9h0M129.9 246.7h0M129.2 246.2h0M129.5 277.7h0M129.9 271.5h0M130.0 278.2h0M130.2 244.7h0M130.7 245.0h0M130.7 245.0h0M130.7 275.8h0M130.9 274.9h0M130.9 271.2h0M132.0 242.9h0M131.6 245.6h0M131.3 247.4h0M131.0 274.9h0M131.3 268.6h0M131.3 267.6h0M132.2 241.6h0M133.0 243.0h0M132.7 245.6h0M132.2 272.8h0M132.9 266.3h0M132.1 271.4h0M133.1 240.8h0M134.0 243.7h0M133.1 241.0h0M133.4 267.2h0M133.9 264.8h0M133.9 263.9h0M134.2 240.1h0M134.2 244.0h0M134.7 242.5h0M134.7 264.4h0M134.6 262.4h0M134.4 262.4h0M135.8 239.6h0M135.7 240.1h0M135.1 241.3h0M135.5 265.0h0M135.2 260.7h0M135.8 261.0h0M136.9 237.8h0M136.4 242.6h0M136.8 239.7h0M136.1 266.8h0M136.6 260.5h0M136.4 260.5h0M137.1 236.4h0M137.4 240.3h0M137.3 239.2h0M137.3 269.3h0M137.0 265.9h0M137.0 264.4h0M138.2 236.8h0M138.1 239.7h0M138.8 239.6h0M138.8 272.2h0M138.0 272.0h0M138.0 270.9h0M140.0 239.6h0M139.6 241.2h0M139.1 241.1h0M139.1 275.9h0M139.3 268.8h0M139.4 273.0h0M140.5 241.6h0M140.8 243.3h0M140.3 242.6h0M140.1 281.2h0M140.7 271.7h0M140.8 271.6h0M141.7 241.2h0M141.6 246.9h0M141.7 243.5h0M141.0 284.2h0M141.9 276.2h0M141.3 277.0h0M142.8 241.2h0M142.1 247.3h0M142.4 241.6h0M142.3 286.1h0M142.9 277.2h0M142.3 283.6h0M143.9 242.7h0M144.0 247.4h0M143.8 249.1h0M143.3 286.2h0M143.3 278.5h0M143.8 277.6h0M144.8 244.6h0M144.3 247.5h0M144.3 250.9h0M144.0 286.5h0M144.3 281.4h0M144.3 279.2h0M145.2 246.4h0M145.8 252.5h0M145.4 248.3h0M145.6 287.7h0M145.8 287.0h0M145.6 281.2h0M146.7 246.2h0M146.0 250.8h0M146.9 249.4h0M146.2 290.5h0M146.2 282.7h0M146.7 288.8h0M147.3 246.1h0M147.4 253.8h0M147.8 246.0h0M147.1 293.0h0M147.9 293.3h0M147.1 291.5h0M149.0 247.7h0M148.5 249.7h0M148.9 253.3h0M148.3 296.2h0M148.0 285.8h0M148.3 292.2h0M149.3 249.3h0M149.8 253.9h0M149.1 253.9h0M149.7 297.9h0M149.9 291.6h0M149.4 289.7h0M150.7 251.6h0M150.9 254.4h0M150.4 256.9h0M150.4 301.1h0M150.8 287.9h0M150.6 287.9h0M151.4 248.9h0M151.2 250.2h0M151.3 252.8h0M151.5 297.6h0M151.1 292.5h0M151.7 292.0h0M153.0 245.4h0M152.8 247.1h0M152.5 247.8h0M152.2 292.6h0M153.0 289.9h0M152.6 282.9h0M153.1 245.2h0M153.9 248.9h0M153.2 251.2h0M153.8 290.7h0M153.7 290.9h0M153.8 281.4h0M154.6 247.7h0M155.0 250.2h0M154.1 251.6h0M154.6 293.8h0M154.2 290.4h0M154.0 287.6h0M155.0 251.9h0M155.2 254.6h0M155.4 256.0h0M155.3 297.5h0M155.5 287.3h0M155.2 297.1h0M156.0 251.4h0M156.8 252.1h0M156.1 252.9h0M156.7 298.3h0M156.7 291.5h0M156.9 288.0h0M157.6 249.8h0M157.4 254.0h0M157.2 257.7h0M157.1 298.0h0M157.2 292.7h0M157.4 293.9h0M158.3 247.8h0M158.7 257.0h0M158.2 249.5h0M158.9 299.0h0M158.8 295.5h0M158.4 296.0h0M159.8 248.5h0M159.9 250.7h0M159.6 248.5h0M159.6 302.2h0M159.0 294.6h0M159.8 292.6h0M160.9 248.1h0M160.2 250.6h0M160.0 251.1h0M160.3 303.6h0M160.0 304.8h0M160.1 300.3h0M161.8 247.7h0M161.6 252.4h0M161.4 254.7h0M161.4 303.6h0M161.6 291.1h0M161.4 294.8h0M163.0 245.8h0M163.0 246.1h0M162.1 253.1h0M162.9 299.7h0M162.1 290.5h0M162.2 299.2h0M163.4 244.9h0M163.4 254.0h0M163.5 247.3h0M163.0 295.1h0M163.4 286.7h0M163.4 291.3h0M164.8 246.6h0M164.6 248.4h0M164.7 255.4h0M164.7 292.9h0M164.6 290.3h0M164.8 286.7h0M166.0 249.4h0M165.2 254.9h0M165.7 255.4h0M165.2 289.2h0M165.5 284.2h0M165.5 283.9h0M166.6 248.8h0M166.8 248.7h0M166.4 248.8h0M166.2 282.9h0M166.8 276.3h0M166.6 276.2h0M167.4 246.9h0M167.9 250.9h0M167.1 246.3h0M168.0 275.7h0M167.4 270.9h0M167.2 270.4h0M168.4 241.3h0M168.4 245.2h0M169.0 241.4h0M168.3 269.4h0M168.8 264.5h0M168.2 268.8h0M169.3 232.5h0M169.8 234.1h0M169.4 232.9h0M169.0 267.5h0M169.4 265.6h0M169.3 261.1h0M170.9 225.0h0M170.5 231.2h0M170.5 232.8h0M170.9 268.2h0M170.7 266.8h0M170.7 263.5h0M171.4 223.7h0M171.8 225.2h0M171.4 230.8h0M171.0 269.7h0M171.2 269.1h0M171.2 267.0h0M172.5 222.2h0M172.3 229.6h0M172.0 229.8h0M172.8 268.2h0M172.4 259.8h0M172.5 261.2h0M173.0 219.9h0M174.0 226.3h0M173.5 224.3h0M173.7 262.5h0M173.6 254.5h0M173.1 257.0h0M174.3 219.2h0M174.4 225.7h0M174.1 225.1h0M174.6 255.1h0M174.7 250.1h0M174.4 254.5h0M175.9 218.5h0M175.5 224.2h0M175.4 222.8h0M175.8 252.4h0M175.4 251.7h0M175.8 247.3h0M176.3 218.2h0M176.2 223.0h0M176.2 222.3h0M176.3 252.6h0M176.3 246.8h0M176.3 247.6h0M177.8 219.7h0M177.9 225.3h0M177.0 223.9h0M177.1 254.1h0M178.0 249.0h0M178.0 250.5h0M178.3 220.9h0M178.2 226.9h0M178.6 222.8h0M178.5 255.8h0M178.9 255.3h0M178.7 249.8h0M179.4 221.1h0M179.6 227.2h0M179.1 227.2h0M179.7 256.1h0M179.9 255.2h0M179.8 253.8h0M180.5 221.0h0M180.4 224.4h0M180.5 224.9h0M180.0 253.6h0M180.8 247.4h0M180.2 252.7h0M181.2 221.9h0M181.4 222.8h0M181.5 222.0h0M181.8 251.3h0M181.7 245.3h0M181.7 251.4h0M182.4 222.9h0M182.2 227.1h0M182.8 223.3h0M182.2 248.3h0M182.8 245.0h0M182.9 243.5h0M183.7 222.6h0M183.9 227.4h0M183.6 226.6h0M183.7 248.8h0M183.3 248.8h0M183.2 247.5h0M184.7 221.3h0M184.7 225.9h0M184.1 226.5h0M184.5 248.7h0M184.1 244.0h0M184.4 243.6h0M185.5 219.0h0M185.5 225.1h0M185.0 224.2h0M185.6 248.5h0M185.2 246.3h0M185.1 245.3h0M186.8 217.1h0M186.5 223.3h0M186.3 217.7h0M186.1 247.5h0M186.8 243.7h0M186.3 247.1h0M187.3 217.3h0M187.3 223.6h0M187.6 218.6h0M187.6 246.9h0M187.6 245.4h0M187.5 243.3h0M188.2 221.6h0M188.9 226.2h0M189.0 221.7h0M188.3 246.6h0M188.3 243.6h0M188.9 246.7h0M189.5 226.5h0M189.7 229.0h0M189.7 226.7h0M189.6 247.0h0M189.6 246.6h0M189.8 245.1h0M190.8 227.9h0M191.0 231.4h0M190.2 229.3h0M190.3 249.1h0M190.1 245.4h0M190.9 246.4h0M191.5 229.1h0M191.2 232.1h0M191.3 230.9h0M191.8 251.6h0M191.0 250.0h0M191.3 248.4h0M192.3 230.2h0M192.0 231.6h0M192.6 230.3h0M192.8 253.0h0M192.3 251.5h0M192.6 248.7h0M193.9 230.1h0M193.8 234.2h0M193.2 230.9h0M193.6 252.3h0M193.5 248.8h0M193.4 249.8h0M194.3 230.0h0M194.8 231.3h0M194.7 234.6h0M194.6 250.6h0M194.6 250.9h0M194.4 248.6h0M195.7 228.8h0M195.1 228.4h0M195.9 232.7h0M195.3 249.6h0M195.1 248.1h0M195.0 247.0h0M196.1 223.5h0M196.3 227.8h0M196.1 225.5h0M196.2 248.4h0M196.4 246.3h0M196.3 245.0h0M197.7 217.2h0M197.0 220.2h0M197.1 218.9h0M197.4 246.8h0M197.1 243.1h0M197.7 245.5h0M199.0 213.8h0M198.3 214.2h0M198.7 216.9h0M198.8 245.7h0M198.6 245.3h0M198.3 244.4h0M199.3 210.9h0M199.6 217.2h0M199.5 214.5h0M199.8 244.1h0M199.9 241.6h0M199.4 241.0h0M200.3 209.0h0M200.9 216.3h0M200.3 211.7h0M200.7 243.7h0M200.5 240.5h0M200.5 243.9h0M201.4 206.4h0M202.0 213.9h0M201.4 212.9h0M201.8 243.9h0M201.7 238.7h0M201.6 244.0h0M202.9 206.5h0M202.5 214.6h0M202.6 214.0h0M202.9 244.6h0M202.5 238.5h0M202.1 239.3h0M203.6 209.8h0M203.5 214.8h0M203.1 214.1h0M203.0 242.7h0M203.8 237.1h0M203.3 241.1h0M204.9 211.9h0M204.2 218.1h0M204.6 213.3h0M204.8 241.0h0M204.6 240.7h0M204.1 240.8h0M205.7 214.5h0M205.5 215.4h0M205.3 217.2h0M205.6 240.7h0M205.5 241.2h0M205.8 237.0h0M206.1 214.5h0M206.5 214.4h0M206.2 220.3h0M206.9 243.3h0M206.0 242.1h0M206.3 241.4h0M207.7 214.3h0M207.3 219.6h0M207.8 214.6h0M207.7 244.6h0M207.8 244.9h0M207.3 243.2h0M208.9 215.8h0M208.7 218.8h0M208.5 221.0h0M208.7 245.3h0M208.2 242.0h0M208.5 245.6h0M209.8 216.5h0M210.0 221.0h0M209.8 222.1h0M209.7 245.0h0M209.5 240.0h0M209.3 241.8h0M210.6 217.0h0M211.0 221.3h0M210.4 221.8h0M210.1 244.9h0M210.1 240.1h0M210.8 244.1h0M211.3 215.5h0M211.1 218.3h0M211.2 221.4h0M211.2 244.7h0M211.2 243.3h0M211.7 242.5h0M212.2 215.3h0M212.3 219.9h0M212.3 220.8h0M212.2 245.3h0M212.8 242.3h0M212.8 241.3h0M213.6 218.4h0M213.5 218.2h0M214.0 219.9h0M213.5 246.1h0M213.7 246.1h0M213.4 243.9h0M215.0 222.1h0M214.5 225.7h0M214.0 225.7h0M214.7 245.8h0M214.7 244.6h0M214.4 245.3h0M215.2 225.7h0M215.7 228.6h0M215.2 228.6h0M215.0 246.0h0M215.6 244.2h0M215.7 244.1h0M216.5 226.5h0M216.5 231.1h0M216.2 231.1h0M216.6 246.6h0M216.2 245.1h0M216.7 245.2h0M217.1 225.9h0M217.3 226.8h0M217.5 228.8h0M217.3 246.7h0M217.7 243.9h0M217.9 245.5h0M218.9 225.6h0M219.0 228.4h0M218.3 229.8h0M218.4 246.3h0M218.9 244.5h0M218.1 243.4h0M219.6 224.7h0M219.2 225.1h0M219.4 227.8h0M219.8 245.3h0M219.6 245.0h0M219.9 243.2h0M220.3 226.4h0M220.7 229.2h0M220.7 230.1h0M220.1 244.9h0M220.9 243.7h0M221.0 244.6h0M222.0 229.5h0M221.9 230.1h0M221.7 233.5h0M221.9 248.8h0M221.1 245.8h0M221.7 246.9h0M222.4 233.1h0M222.7 236.7h0M222.6 236.7h0M222.5 255.7h0M222.2 252.8h0M222.3 253.9h0M223.4 235.3h0M223.5 236.6h0M223.1 238.2h0M223.1 262.1h0M223.4 258.0h0M223.3 256.9h0M224.9 235.0h0M224.3 236.2h0M224.6 237.4h0M224.6 262.9h0M224.1 257.2h0M224.3 261.6h0M225.1 235.2h0M225.3 237.8h0M225.0 240.0h0M225.5 264.3h0M225.0 262.2h0M225.3 260.3h0M226.7 237.0h0M226.2 241.6h0M226.7 237.5h0M226.5 265.1h0M226.2 260.4h0M226.5 260.7h0M227.9 240.4h0M228.0 243.8h0M227.6 243.5h0M227.4 265.5h0M227.7 263.3h0M227.0 260.3h0M228.3 244.3h0M228.9 247.1h0M228.2 247.6h0M228.3 270.8h0M228.5 266.3h0M228.8 264.9h0M229.8 245.4h0M229.2 248.8h0M229.9 246.9h0M229.7 277.6h0M229.3 271.1h0M229.0 275.2h0M230.4 245.2h0M230.0 246.9h0M230.6 250.6h0M230.3 283.6h0M230.5 280.3h0M230.2 280.4h0M231.2 245.4h0M231.8 247.9h0M231.3 250.8h0M231.9 277.0h0M231.4 270.9h0M231.1 277.3h0M232.1 245.9h0M232.4 248.2h0M232.3 247.4h0M232.9 270.2h0M232.9 265.8h0M232.2 265.6h0M233.5 245.7h0M233.5 248.9h0M233.3 249.4h0M233.1 267.0h0M233.6 264.8h0M233.0 263.8h0M234.1 244.9h0M234.4 246.1h0M234.1 245.2h0M234.0 266.4h0M234.6 266.2h0M234.2 262.6h0M235.4 243.2h0M235.5 246.5h0M235.8 245.8h0M235.8 266.9h0M235.1 266.0h0M235.7 264.4h0M236.9 239.8h0M236.6 242.4h0M236.4 241.8h0M236.5 266.8h0M236.3 263.0h0M236.9 264.5h0M237.4 230.1h0M237.7 234.1h0M237.8 235.4h0M237.7 264.6h0M237.1 261.4h0M237.9 261.8h0M238.8 224.5h0M238.5 231.5h0M238.9 227.0h0M238.2 263.7h0M238.3 257.1h0M238.4 260.0h0M239.7 224.4h0M239.9 226.7h0M239.0 224.9h0M239.6 261.7h0M239.9 259.2h0M239.5 255.4h0M240.2 225.3h0M240.4 231.6h0M240.0 231.2h0M240.6 260.2h0M240.9 257.2h0M240.3 254.8h0M241.1 226.4h0M241.1 229.4h0M241.1 227.9h0M241.3 258.5h0M241.6 258.6h0M241.2 257.2h0M242.7 223.6h0M242.6 228.5h0M242.8 227.5h0M242.8 257.8h0M242.1 254.3h0M243.0 255.3h0M243.1 214.7h0M243.1 223.0h0M243.2 220.4h0M243.9 257.1h0M243.5 256.6h0M243.7 252.5h0M244.6 209.7h0M244.5 219.1h0M244.2 215.2h0M244.4 257.7h0M245.0 256.5h0M244.3 254.2h0M245.9 215.4h0M245.6 222.1h0M245.3 218.3h0M245.3 257.4h0M245.7 258.6h0M245.6 252.9h0M246.9 221.4h0M246.3 226.7h0M246.4 226.8h0M246.4 258.4h0M246.2 254.0h0M246.3 251.2h0M247.7 219.0h0M247.3 221.0h0M247.4 220.5h0M247.7 257.9h0M247.8 253.1h0M247.2 256.2h0M248.3 216.4h0M249.0 223.4h0M248.7 215.4h0M248.0 258.0h0M248.7 255.3h0M249.0 256.0h0M249.8 213.2h0M249.4 219.8h0M249.3 217.3h0M249.9 256.3h0M249.9 251.2h0M249.3 254.2h0M250.3 213.0h0M250.6 218.1h0M250.7 221.6h0M250.4 255.6h0M250.7 248.6h0M250.2 249.2h0M251.3 215.3h0M251.1 216.7h0M251.6 220.0h0M251.5 254.3h0M251.5 248.5h0M251.3 253.8h0M252.7 219.1h0M252.6 225.1h0M252.2 224.7h0M252.1 256.7h0M252.4 250.3h0M252.8 251.4h0M253.3 224.6h0M253.6 228.2h0M253.6 228.1h0M253.2 258.9h0M253.1 255.2h0M253.5 257.4h0M254.1 231.2h0M254.3 233.7h0M254.9 234.3h0M254.1 262.4h0M254.3 257.0h0M254.7 260.2h0M255.8 233.5h0M255.1 238.1h0M255.6 238.3h0M255.7 267.8h0M255.4 260.7h0M255.6 266.5h0M256.2 237.1h0M256.2 238.1h0M256.5 242.2h0M256.6 275.6h0M256.2 269.8h0M256.5 270.7h0M257.3 238.9h0M257.7 244.0h0M258.0 239.2h0M257.4 282.2h0M257.8 280.8h0M257.3 282.5h0M258.6 241.1h0M258.2 243.8h0M258.1 240.8h0M258.9 285.6h0M258.2 283.6h0M258.8 286.4h0M259.8 240.7h0M259.2 239.9h0M259.2 248.3h0M259.2 292.6h0M259.8 291.8h0M259.3 284.3h0M260.2 232.9h0M260.3 243.4h0M260.1 237.9h0M260.8 294.1h0M260.6 284.3h0M260.9 284.5h0M261.4 228.0h0M261.5 228.5h0M261.2 237.0h0M261.3 287.4h0M261.9 276.8h0M261.8 285.9h0M262.4 225.8h0M262.1 235.4h0M262.3 235.4h0M262.2 280.1h0M262.5 274.7h0M262.6 271.7h0M263.8 227.3h0M263.2 232.5h0M263.2 230.3h0M263.3 276.3h0M263.8 268.7h0M263.3 268.8h0M264.4 227.9h0M264.9 234.5h0M265.0 228.9h0M264.4 278.8h0M264.4 273.6h0M264.3 279.2h0M265.8 227.5h0M265.8 234.8h0M265.8 230.6h0M265.1 280.4h0M266.0 273.3h0M265.3 279.7h0M266.0 225.2h0M266.6 228.3h0M266.3 232.1h0M266.2 281.6h0M266.4 272.7h0M266.7 270.2h0M267.2 222.1h0M267.2 231.7h0M268.0 225.2h0M267.3 281.3h0M267.8 279.2h0M267.9 276.0h0M268.6 222.4h0M269.0 232.2h0M268.9 233.4h0M268.1 280.2h0M268.5 279.7h0M268.5 280.0h0M269.3 224.2h0M269.6 233.1h0M269.3 222.9h0M269.3 280.2h0M269.6 272.3h0M269.5 277.5h0M270.7 223.8h0M270.6 233.7h0M270.2 233.7h0M270.4 277.4h0M270.4 273.6h0M270.6 275.3h0M271.6 221.4h0M271.5 228.0h0M271.1 231.8h0M271.2 273.1h0M271.7 264.9h0M271.2 266.8h0M272.2 219.9h0M272.2 228.3h0M272.5 223.9h0M272.7 268.9h0M272.3 261.0h0M272.6 260.7h0M273.3 220.7h0M273.4 219.9h0M273.8 229.3h0M273.5 264.4h0M273.5 260.7h0M273.0 259.3h0M274.6 223.7h0M274.1 226.6h0M274.3 229.4h0M274.7 268.7h0M274.7 261.9h0M274.1 265.7h0M275.6 229.6h0M275.9 236.9h0M275.6 238.0h0M275.7 276.7h0M275.5 276.7h0M275.0 276.7h0M276.2 230.2h0M277.0 234.7h0M276.8 236.7h0M276.8 290.4h0M276.5 279.1h0M276.7 285.4h0M277.2 230.5h0M277.6 237.4h0M277.9 239.2h0M277.1 300.5h0M277.7 294.2h0M277.5 295.3h0M278.9 233.1h0M278.7 237.5h0M278.1 235.6h0M278.9 295.0h0M278.9 291.3h0M278.8 286.4h0M279.7 240.0h0M279.5 244.6h0M279.2 240.0h0M279.2 288.3h0M279.8 286.3h0M279.4 280.1h0M280.6 244.9h0M281.0 248.4h0M280.1 247.8h0M280.4 280.7h0M280.6 272.8h0M280.7 275.8h0M281.2 243.7h0M281.6 247.6h0M281.7 245.0h0M281.8 279.4h0M281.1 271.5h0M281.1 279.0h0M282.2 241.6h0M282.9 245.9h0M283.0 243.0h0M282.7 278.6h0M282.3 271.8h0M282.8 271.8h0M283.9 239.4h0M283.6 239.6h0M283.1 244.8h0M283.8 277.9h0M283.7 278.7h0M283.9 269.2h0M284.1 236.6h0M284.9 239.3h0M284.6 242.7h0M284.6 280.3h0M284.5 273.0h0M284.6 280.1h0M285.6 230.6h0M285.1 234.1h0M285.5 232.4h0M285.2 283.4h0M285.8 273.2h0M285.4 280.9h0M286.2 226.0h0M286.8 235.7h0M286.2 228.3h0M286.1 286.7h0M286.5 279.4h0M286.8 280.5h0M287.3 219.9h0M287.2 227.7h0M287.4 225.5h0M287.3 289.8h0M287.7 278.6h0M287.2 276.3h0M288.7 220.5h0M288.4 231.1h0M288.4 228.1h0M288.7 295.7h0M288.2 288.1h0M288.8 284.7h0M289.0 220.9h0M289.2 230.9h0M289.7 222.1h0M289.0 294.8h0M289.1 290.6h0M289.5 281.4h0M290.3 224.5h0M290.7 226.2h0M290.1 224.0h0M290.4 293.7h0M290.1 284.1h0M290.1 292.6h0M291.0 235.1h0M291.9 238.7h0M291.2 245.0h0M291.4 292.0h0M291.3 286.8h0M291.7 288.5h0M292.9 242.0h0M292.9 244.4h0M292.4 243.9h0M292.2 289.6h0M292.7 288.9h0M292.1 287.2h0M293.3 244.3h0M293.4 250.6h0M293.7 245.4h0M293.0 285.3h0M293.6 280.4h0M293.4 280.5h0M294.5 245.6h0M294.4 251.4h0M294.3 250.2h0M294.8 282.9h0M295.0 279.6h0M294.5 279.5h0M295.6 246.7h0M295.9 246.9h0M295.2 249.9h0M295.9 279.3h0M295.4 274.2h0M295.8 273.1h0M296.9 246.7h0M296.2 251.5h0M296.4 251.1h0M296.7 275.6h0M296.7 271.7h0M296.6 269.8h0M297.1 247.2h0M297.6 247.0h0M297.2 249.8h0M297.8 272.0h0M297.1 270.0h0M297.9 267.8h0M298.6 237.5h0M298.7 238.8h0M298.0 240.9h0M298.2 270.6h0M298.7 265.2h0M298.0 265.5h0M299.4 225.6h0M299.6 232.8h0M299.8 233.8h0M299.9 268.5h0M299.4 268.9h0M299.9 264.2h0M300.9 223.6h0M300.3 226.2h0M300.5 233.5h0M300.2 268.2h0M300.4 262.6h0M300.7 265.6h0M301.8 222.9h0M301.3 229.6h0M301.5 229.7h0M301.6 266.7h0M301.4 266.3h0M301.2 262.8h0M302.6 224.0h0M302.5 227.5h0M302.4 231.9h0M302.2 266.7h0M302.7 266.1h0M302.9 266.3h0M303.3 225.0h0M303.4 230.0h0M303.1 230.6h0M303.9 265.6h0M303.4 261.9h0M303.5 262.0h0M304.7 224.8h0M304.4 230.9h0M304.7 226.3h0M304.3 264.7h0M304.2 259.5h0M304.6 261.7h0M305.3 221.9h0M305.2 228.8h0M305.5 226.1h0M305.8 261.2h0M305.6 259.1h0M305.4 255.0h0M306.8 219.9h0M306.9 222.0h0M306.3 220.9h0M307.0 258.7h0M306.6 255.7h0M306.8 257.9h0M307.5 219.4h0M307.4 219.9h0M307.5 224.8h0M307.0 260.4h0M307.8 254.3h0M307.9 253.6h0M308.5 219.3h0M308.9 219.6h0M308.8 225.3h0M308.4 262.6h0M308.3 255.2h0M308.6 262.5h0M309.1 219.4h0M309.9 221.0h0M309.0 219.1h0M309.3 262.6h0M309.5 255.9h0M309.9 256.5h0M310.4 219.4h0M310.7 227.7h0M310.5 225.3h0M310.6 261.2h0M310.9 257.2h0M310.9 257.8h0M311.7 220.4h0M311.1 225.3h0M311.9 224.7h0M312.0 260.2h0M311.9 254.6h0M311.0 254.2h0M312.2 222.4h0M312.8 229.6h0M312.9 227.6h0M312.1 261.2h0M312.2 255.3h0M312.9 259.1h0M313.6 225.6h0M313.7 229.2h0M313.8 226.8h0M313.5 262.2h0M313.2 257.2h0M313.8 255.1h0M314.2 226.3h0M314.0 232.2h0M314.6 230.6h0M314.8 262.4h0M314.6 257.2h0M314.2 255.3h0M315.6 221.8h0M315.9 224.9h0M315.4 227.6h0M315.3 262.1h0M315.8 254.8h0M315.8 258.0h0M316.5 216.4h0M316.2 221.1h0M316.0 222.5h0M316.6 260.1h0M316.0 257.0h0M316.4 256.1h0M318.0 215.2h0M317.7 221.3h0M317.9 221.7h0M317.5 259.9h0M317.2 256.8h0M317.5 252.8h0M318.9 219.1h0M318.2 222.7h0M318.8 225.5h0M318.3 257.8h0M318.6 252.3h0M318.2 255.2h0M319.9 222.1h0M319.9 225.2h0M319.5 223.3h0M319.3 255.5h0M319.9 252.0h0M319.8 250.6h0M320.2 222.6h0M320.4 229.3h0M320.4 224.3h0M320.1 254.4h0M320.5 250.2h0M320.3 249.3h0M321.1 223.5h0M321.6 224.9h0M321.2 228.9h0M321.6 253.1h0M321.8 249.4h0M321.9 250.4h0M322.4 219.6h0M322.3 221.2h0M322.8 222.0h0M322.6 254.5h0M322.2 253.9h0M322.9 254.8h0M323.0 215.0h0M323.9 214.5h0M324.0 219.3h0M323.3 255.0h0M323.2 250.1h0M323.9 249.0h0M324.4 210.6h0M324.7 217.7h0M324.4 214.3h0M324.3 254.8h0M324.2 248.8h0M325.0 250.8h0M325.1 205.5h0M325.9 215.9h0M325.4 204.9h0M325.3 255.7h0M325.9 252.5h0M325.7 251.5h0M326.9 199.2h0M326.0 207.6h0M326.7 210.5h0M326.8 258.2h0M326.6 253.4h0M326.9 257.0h0M327.1 194.7h0M327.7 200.8h0M327.4 207.5h0M327.2 259.2h0M327.9 250.3h0M327.2 250.0h0M328.5 191.4h0M328.2 198.5h0M328.5 207.0h0M328.6 258.0h0M328.3 250.9h0M328.3 255.6h0M329.0 192.2h0M329.2 194.0h0M330.0 198.7h0M329.7 255.4h0M329.9 246.8h0M329.7 251.3h0M330.4 198.9h0M330.3 206.4h0M330.6 203.7h0M330.9 254.7h0M330.2 250.7h0M330.7 248.1h0M331.4 207.1h0M331.1 211.0h0M331.1 215.4h0M331.7 254.2h0M331.6 251.3h0M331.5 247.8h0M332.1 212.8h0M332.1 214.4h0M332.7 218.6h0M332.1 253.7h0M332.2 251.7h0M332.1 253.7h0M333.3 212.2h0M333.8 217.5h0M333.2 217.0h0M333.9 249.3h0M333.5 244.9h0M333.1 244.9h0M334.7 208.6h0M334.2 216.5h0M334.5 208.8h0M334.6 244.5h0M334.1 240.3h0M334.3 244.3h0M335.4 205.8h0M335.4 208.2h0M335.5 214.2h0M335.9 249.0h0M335.9 243.7h0M335.1 246.4h0M336.7 205.1h0M336.8 205.7h0M336.5 214.8h0M336.6 259.3h0M336.1 254.6h0M336.1 251.7h0M337.7 203.4h0M337.5 211.3h0M337.2 211.2h0M337.6 269.3h0M337.2 269.1h0M337.2 261.8h0M339.0 201.0h0M338.8 205.6h0M338.1 208.0h0M339.0 271.4h0M338.7 262.9h0M338.7 271.2h0M339.9 199.5h0M339.2 204.8h0M339.3 213.8h0M339.2 271.6h0M339.5 261.6h0M339.9 259.9h0M341.0 198.9h0M340.2 205.2h0M340.3 211.8h0M340.9 267.8h0M340.9 265.2h0M340.5 264.2h0M341.2 200.0h0M341.8 212.6h0M341.3 206.5h0M341.0 266.4h0M341.2 257.4h0M341.1 263.7h0M342.5 202.2h0M342.2 207.2h0M342.2 208.4h0M342.2 263.8h0M342.5 261.3h0M342.5 252.5h0M343.1 203.9h0M343.7 205.3h0M343.7 206.9h0M343.4 261.3h0M343.7 258.6h0M343.6 257.4h0M344.8 203.5h0M344.9 214.7h0M344.5 206.0h0M344.7 259.0h0M344.2 250.0h0M344.3 257.0h0M345.8 204.1h0M345.1 209.1h0M345.2 213.1h0M345.4 259.4h0M345.8 252.5h0M345.6 253.5h0M346.3 202.8h0M346.6 212.2h0M346.8 212.7h0M346.2 263.2h0M346.5 255.2h0M346.7 261.4h0M348.0 201.6h0M347.6 203.7h0M347.9 211.1h0M347.6 266.7h0M347.5 257.2h0M347.4 265.3h0M348.4 203.0h0M348.8 212.8h0M348.2 212.7h0M348.1 269.4h0M348.6 259.9h0M348.1 263.6h0M349.0 203.0h0M349.9 205.7h0M349.4 218.3h0M349.7 269.5h0M349.6 263.4h0M349.6 267.8h0M350.7 204.6h0M350.7 218.4h0M350.6 205.0h0M350.3 268.2h0M350.6 261.9h0M350.5 260.6h0M351.6 206.3h0M351.0 207.4h0M351.0 219.4h0M351.3 271.9h0M351.1 262.8h0M351.5 267.2h0M352.4 211.3h0M352.6 216.1h0M352.3 214.9h0M352.1 276.0h0M352.5 267.6h0M352.9 274.0h0M353.3 214.6h0M353.8 224.0h0M353.9 215.3h0M353.3 280.7h0M353.5 276.8h0M353.4 278.4h0M354.4 211.7h0M354.7 220.9h0M355.0 223.5h0M354.4 284.6h0M354.2 272.6h0M354.9 282.1h0M355.6 211.1h0M355.0 225.6h0M356.0 223.9h0M355.9 287.8h0M355.0 277.4h0M355.7 284.0h0M356.6 209.9h0M356.2 216.1h0M356.4 223.1h0M356.6 291.2h0M356.2 282.7h0M356.1 288.6h0M357.2 211.9h0M357.2 217.3h0M357.8 228.8h0M357.7 292.9h0M357.9 287.8h0M357.8 282.1h0M358.8 214.3h0M358.1 227.1h0M358.9 221.3h0M358.6 289.5h0M358.1 282.1h0M358.8 282.7h0M359.0 213.7h0M359.4 224.7h0M359.2 220.9h0M359.9 287.1h0M359.4 278.2h0M359.1 282.4h0M360.8 213.6h0M360.4 221.9h0M360.2 213.8h0M360.5 282.8h0M360.6 273.9h0M360.7 275.2h0M361.8 210.0h0M361.3 218.4h0M361.8 221.1h0M361.9 278.0h0M362.0 275.3h0M361.5 279.5h0M362.1 204.5h0M362.1 217.1h0M362.9 210.5h0M362.9 273.8h0M362.7 262.0h0M362.1 267.7h0M363.7 196.9h0M363.7 206.1h0M363.8 206.5h0M363.6 268.4h0M363.9 266.3h0M364.0 263.0h0M364.9 195.8h0M364.8 203.7h0M364.4 206.2h0M364.9 265.6h0M364.9 263.9h0M364.9 260.2h0M365.2 197.4h0M365.3 208.3h0M365.8 205.7h0M365.6 265.5h0M365.4 254.5h0M365.9 261.5h0M366.9 195.2h0M366.8 199.7h0M367.0 203.0h0M366.4 265.9h0M366.5 267.0h0M366.6 266.8h0M367.7 190.9h0M367.1 205.6h0M367.1 191.8h0M367.5 263.6h0M367.2 261.7h0M367.8 253.9h0M368.7 184.0h0M368.7 199.3h0M369.0 194.6h0M368.4 260.6h0M368.2 250.0h0M368.2 254.4h0M369.5 179.8h0M369.2 182.7h0M369.9 194.9h0M369.4 257.0h0M369.3 244.5h0M369.1 245.3h0M370.4 179.3h0M371.0 185.0h0M370.2 192.9h0M370.2 256.4h0M370.6 251.0h0M370.4 243.4h0M371.5 183.5h0M371.8 188.3h0M371.5 186.9h0M372.0 255.1h0M371.5 255.6h0M371.1 253.6h0M372.5 186.5h0M372.6 196.7h0M372.3 186.9h0M372.8 260.9h0M372.5 252.7h0M372.0 259.7h0M373.8 188.2h0M373.3 197.2h0M373.7 202.1h0M373.1 265.1h0M373.5 251.0h0M373.8 257.1h0M374.0 187.6h0M374.3 192.8h0M374.7 192.7h0M374.3 267.9h0M374.4 257.2h0M374.3 257.7h0M375.2 180.7h0M375.2 193.9h0M375.4 191.2h0M375.2 269.2h0M375.6 260.8h0M375.8 269.3h0M376.5 178.9h0M376.0 188.6h0M376.4 189.8h0M376.4 271.7h0M376.5 260.2h0M376.1 271.8h0M377.3 183.0h0M377.4 197.6h0M377.9 184.5h0M377.3 269.8h0M377.7 261.8h0M377.3 261.8h0M378.5 190.2h0M378.9 201.2h0M378.9 204.3h0M378.7 266.3h0M378.3 257.4h0M378.6 262.0h0M379.1 192.8h0M379.0 200.2h0M379.1 204.4h0M379.3 264.7h0M379.4 259.9h0M379.0 262.9h0M380.7 202.5h0M380.1 214.8h0M380.9 210.4h0M380.0 269.4h0M380.2 266.3h0M380.8 258.7h0M381.9 208.6h0M381.0 210.8h0M381.8 213.8h0M381.8 273.0h0M381.5 268.1h0M381.7 271.3h0M382.6 209.9h0M382.6 211.4h0M382.1 211.5h0M382.4 275.4h0M382.2 267.8h0M382.7 261.8h0M383.2 207.8h0M383.0 207.5h0M383.9 212.9h0M383.5 273.7h0M383.7 263.2h0M384.0 262.5h0M384.4 206.4h0M385.0 216.1h0M384.7 220.0h0M384.3 274.5h0M384.7 264.2h0M384.3 268.6h0M385.8 211.1h0M385.4 224.7h0M385.8 222.0h0M385.8 273.2h0M385.9 266.5h0M385.5 270.8h0M386.1 217.0h0M386.7 226.1h0M387.0 221.6h0M386.6 273.4h0M386.4 267.4h0M386.3 273.8h0M387.0 220.3h0M387.8 231.5h0M387.4 229.9h0M387.2 273.8h0M387.3 273.4h0M387.9 273.0h0M388.9 224.4h0M388.3 233.0h0M388.7 227.4h0M388.5 275.3h0M388.0 275.5h0M388.2 276.0h0M389.9 226.3h0M389.6 227.3h0M389.4 229.1h0M389.2 277.1h0M389.8 269.3h0M389.8 272.3h0M390.2 225.8h0M390.5 230.3h0M390.7 236.9h0M390.2 278.9h0M390.6 271.4h0M390.4 279.5h0M391.6 226.0h0M391.7 230.6h0M391.8 233.8h0M391.8 276.9h0M392.0 276.2h0M391.2 271.5h0M392.0 227.1h0M392.3 229.7h0M392.0 227.9h0M392.4 271.7h0M392.6 265.9h0M392.9 272.8h0M393.5 222.0h0M393.6 230.9h0M393.1 230.6h0M393.1 265.8h0M393.5 260.2h0M393.3 264.3h0M394.3 217.9h0M394.3 225.1h0M394.1 224.2h0M394.9 259.3h0M394.6 254.6h0M394.5 255.6h0M395.0 212.9h0M395.9 221.3h0M395.6 222.6h0M395.0 254.9h0M395.7 248.7h0M395.5 248.4h0M396.7 210.7h0M396.9 217.2h0M396.2 215.7h0M396.8 252.0h0M396.3 246.0h0M396.6 249.6h0M397.2 207.1h0M397.4 216.2h0M397.8 211.6h0M397.4 249.2h0M397.9 242.7h0M397.5 244.0h0M398.6 204.2h0M398.8 212.9h0M398.6 212.8h0M398.9 249.3h0M398.7 248.1h0M398.1 243.9h0M399.8 200.3h0M399.8 207.8h0M399.2 207.5h0M399.9 250.5h0M399.6 249.6h0M400.0 242.0h0M400.3 198.0h0M400.2 207.5h0M400.4 208.9h0M400.9 252.2h0M400.5 248.6h0M400.2 252.1h0M402.0 196.5h0M401.2 208.0h0M401.2 207.4h0M401.6 253.1h0M401.4 253.7h0M401.2 253.1h0M402.7 193.9h0M402.6 196.8h0M402.5 204.1h0M402.3 253.2h0M402.6 253.3h0M402.2 244.6h0M403.6 193.6h0M403.3 199.7h0M403.7 201.7h0M403.1 255.7h0M403.2 250.4h0M403.4 254.6h0M404.8 193.1h0M404.1 199.3h0M405.0 200.0h0M404.1 258.0h0M404.6 256.7h0M404.9 247.4h0M405.7 198.1h0M405.2 207.4h0M405.6 208.1h0M405.3 263.9h0M405.5 263.8h0M405.6 255.1h0M406.8 201.6h0M406.9 202.2h0M406.8 213.7h0M406.7 270.4h0M406.2 256.7h0M406.2 259.4h0M407.6 204.4h0M407.9 211.1h0M407.5 218.0h0M407.3 275.8h0M407.8 265.9h0M407.5 270.8h0M408.4 205.0h0M408.5 215.2h0M408.8 205.8h0M408.4 272.5h0M408.3 263.8h0M408.0 265.1h0M409.2 205.3h0M409.9 214.9h0M409.5 216.1h0M409.2 265.8h0M409.2 255.5h0M409.9 257.2h0M410.7 205.8h0M410.3 214.7h0M410.4 215.2h0M410.3 258.4h0M410.5 256.4h0M410.4 250.5h0M411.7 207.8h0M411.3 217.3h0M411.8 217.7h0M411.8 253.4h0M411.7 249.4h0M411.7 248.4h0M412.7 211.3h0M413.0 213.5h0M412.0 217.0h0M412.2 249.5h0M412.2 246.5h0M412.8 247.3h0M413.2 214.4h0M414.0 219.6h0M413.4 218.1h0M413.8 249.8h0M413.5 247.6h0M413.9 248.6h0M414.4 215.7h0M414.0 220.4h0M414.9 221.8h0M414.6 250.8h0M414.8 248.8h0M414.7 249.8h0M415.1 218.8h0M415.9 225.4h0M415.3 222.7h0M415.4 251.8h0M415.1 248.2h0M415.4 248.8h0M416.8 221.5h0M416.1 228.2h0M416.8 221.7h0M416.9 252.4h0M416.2 251.5h0M416.1 250.9h0M417.4 222.1h0M417.9 227.6h0M417.6 226.6h0M417.9 252.4h0M417.9 251.4h0M417.8 249.6h0M419.0 221.4h0M418.1 224.9h0M418.7 225.3h0M418.8 252.6h0M418.7 250.4h0M418.5 249.7h0M419.5 218.5h0M419.5 222.7h0M419.3 225.0h0M419.2 251.3h0M419.0 248.7h0M419.3 247.0h0M420.0 214.5h0M420.6 220.8h0M420.9 219.1h0M420.6 250.5h0M420.3 246.1h0M420.9 246.0h0M421.7 217.5h0M421.7 217.7h0M421.8 217.1h0M421.4 250.8h0M421.5 247.4h0M421.7 249.3h0M422.7 221.0h0M422.1 221.1h0M422.3 228.0h0M422.8 251.7h0M422.2 250.7h0M422.4 247.5h0M423.6 224.7h0M423.5 225.1h0M423.6 228.8h0M424.0 253.0h0M423.3 249.4h0M423.5 250.9h0M424.3 228.4h0M424.3 231.5h0M424.7 234.9h0M424.2 254.4h0M425.0 251.1h0M424.5 252.3h0M425.6 230.0h0M425.2 230.1h0M425.5 234.9h0M425.7 255.4h0M425.0 252.6h0M425.1 253.1h0M426.7 228.7h0M426.2 230.4h0M426.2 232.1h0M426.0 255.0h0M427.0 254.1h0M426.7 254.2h0M427.5 223.7h0M427.5 227.0h0M427.5 228.3h0M427.1 255.3h0M428.0 250.3h0M427.9 252.2h0M428.8 220.3h0M428.6 224.5h0M428.1 227.1h0M428.4 255.7h0M428.2 249.2h0M428.9 249.4h0M429.2 217.8h0M429.6 219.7h0M429.3 224.1h0M429.2 254.3h0M429.4 248.6h0M429.7 252.3h0M430.4 216.1h0M430.7 220.9h0M430.4 219.5h0M430.5 253.6h0M430.1 247.8h0M430.7 247.9h0M431.2 214.8h0M431.8 214.9h0M431.1 220.7h0M431.2 256.1h0M431.5 250.0h0M431.1 255.2h0M432.1 215.7h0M432.5 223.9h0M432.3 217.6h0M432.9 259.9h0M432.4 255.8h0M432.7 253.6h0M433.7 216.1h0M433.6 220.0h0M434.0 222.0h0M433.1 264.6h0M433.9 258.6h0M433.9 258.0h0M434.5 215.7h0M434.9 218.9h0M434.4 221.8h0M434.4 264.4h0M434.6 260.6h0M434.1 260.3h0M435.6 215.4h0M435.9 216.0h0M435.6 219.0h0M435.2 256.8h0M435.7 250.1h0M435.4 251.8h0M436.2 214.1h0M436.4 219.2h0M436.6 214.5h0M436.3 250.0h0M436.8 244.8h0M436.7 244.8h0M437.1 212.6h0M437.3 220.3h0M437.4 220.9h0M437.1 245.2h0M437.3 241.3h0M437.6 241.2h0M438.8 212.1h0M438.6 220.4h0M439.0 220.0h0M438.2 243.7h0M438.9 243.5h0M438.0 242.9h0M439.0 210.0h0M439.9 215.6h0M439.3 218.3h0M439.6 243.3h0M439.3 243.2h0M439.7 240.0h0M440.3 209.2h0M440.2 213.9h0M441.0 215.6h0M440.2 245.9h0M440.3 242.7h0M440.7 241.9h0M441.2 208.5h0M441.7 216.5h0M442.0 213.2h0M441.5 248.5h0M442.0 242.6h0M441.6 245.9h0M442.8 205.0h0M442.1 207.2h0M442.9 214.4h0M442.8 247.2h0M442.8 247.0h0M442.2 241.4h0M443.6 200.7h0M443.7 201.7h0M443.6 208.8h0M444.0 243.5h0M443.5 243.9h0M443.7 239.5h0M444.4 195.7h0M444.2 205.6h0M444.4 202.1h0M444.7 239.7h0M444.3 234.5h0M444.3 238.2h0M445.9 194.8h0M445.4 206.4h0M446.0 205.7h0M445.9 239.7h0M445.6 236.7h0M445.7 237.4h0M446.9 199.4h0M446.1 204.5h0M446.4 202.9h0M446.8 241.2h0M446.7 241.0h0M447.0 238.8h0M447.7 201.2h0M447.6 212.4h0M447.4 211.4h0M447.3 242.8h0M447.6 242.7h0M447.6 242.7h0M448.6 204.8h0M448.0 205.2h0M448.2 214.7h0M449.0 244.5h0M448.3 240.6h0M448.2 241.8h0M449.2 202.9h0M449.1 206.0h0M449.9 209.2h0M449.4 246.3h0M449.1 241.2h0M449.6 242.6h0M450.9 200.8h0M451.0 207.9h0M450.6 209.0h0M450.6 248.3h0M450.6 245.3h0M450.7 243.4h0M451.6 200.1h0M451.4 209.4h0M451.0 210.2h0M451.9 251.1h0M452.0 247.1h0M451.0 247.4h0M452.0 197.7h0M453.0 207.4h0M452.4 199.4h0M452.1 252.7h0M452.2 244.9h0M452.3 251.0h0M453.9 197.5h0M453.3 195.8h0M453.7 200.4h0M453.8 250.3h0M453.1 246.4h0M453.3 244.8h0M454.2 198.5h0M454.0 210.3h0M454.3 204.2h0M454.6 248.0h0M454.4 245.9h0M454.2 248.0h0M455.8 198.8h0M455.1 207.5h0M455.1 202.2h0M455.3 245.5h0M455.4 244.1h0M455.3 242.3h0M456.4 199.9h0M456.9 208.2h0M456.3 201.7h0M456.4 244.1h0M456.8 237.1h0M456.8 241.7h0M457.4 200.2h0M457.1 204.4h0M457.3 203.3h0M457.3 245.2h0M457.4 244.1h0M457.1 238.5h0M458.1 199.7h0M458.6 210.9h0M458.4 202.7h0M458.5 248.9h0M458.5 244.5h0M458.5 248.7h0M459.3 198.5h0M459.6 207.5h0M459.9 208.5h0M459.4 259.3h0M459.4 250.4h0M460.0 257.2h0M460.6 198.7h0M460.0 212.1h0M460.6 213.5h0M460.8 266.3h0M460.2 263.1h0M460.7 256.1h0M461.8 201.2h0M461.8 210.1h0M461.4 215.1h0M461.1 272.2h0M461.4 265.2h0M461.2 272.7h0M462.2 204.6h0M462.4 213.3h0M462.7 216.3h0M462.7 273.7h0M462.1 272.0h0M463.0 273.1h0M463.0 207.0h0M463.1 217.1h0M463.3 217.8h0M463.1 271.5h0M463.5 271.4h0M463.0 260.6h0M464.8 211.5h0M464.6 212.9h0M464.0 217.2h0M465.0 269.7h0M464.8 258.6h0M464.7 264.0h0M465.4 217.6h0M465.7 220.0h0M465.0 223.1h0M465.3 268.2h0M465.5 258.3h0M466.0 260.5h0M466.9 220.4h0M466.5 229.1h0M466.0 227.7h0M466.6 267.6h0M466.0 265.9h0M466.8 259.3h0M467.7 220.2h0M467.2 225.7h0M467.0 226.2h0M467.0 267.0h0M467.5 259.6h0M467.3 259.7h0M468.4 222.0h0M468.3 225.6h0M468.1 221.5h0M468.2 270.3h0M468.3 264.0h0M469.0 261.7h0M469.8 225.4h0M469.7 233.5h0M469.2 228.8h0M469.7 275.2h0M469.4 267.2h0M469.9 274.0h0M470.7 228.1h0M470.3 236.1h0M470.7 236.2h0M470.5 278.1h0M470.2 268.7h0M470.2 274.3h0M471.6 229.4h0M471.2 229.7h0M471.7 237.3h0M471.8 274.0h0M471.1 266.9h0M471.8 273.3h0M473.0 230.6h0M472.1 238.3h0M472.3 238.0h0M472.7 270.5h0M472.7 265.3h0M472.9 266.1h0M473.1 230.1h0M473.2 234.9h0M474.0 230.8h0M473.8 269.4h0M473.4 264.2h0M473.4 270.0h0M474.5 229.3h0M475.0 230.1h0M474.9 230.3h0M474.1 270.8h0M474.9 268.7h0M474.4 265.8h0M476.0 228.5h0M475.8 236.6h0M475.7 230.5h0M475.6 271.7h0M475.6 270.5h0M475.9 271.1h0M476.6 228.7h0M476.4 228.9h0M476.4 237.1h0M476.3 273.3h0M476.0 272.7h0M476.8 266.2h0M477.2 230.3h0M477.2 236.8h0M477.9 233.1h0M477.9 275.5h0M477.4 273.7h0M477.9 268.3h0M478.7 231.6h0M478.6 231.9h0M478.5 238.6h0M478.5 276.8h0M478.0 268.6h0M478.0 275.1h0M479.3 231.9h0M479.0 238.5h0M479.2 236.3h0M479.5 278.6h0M479.3 271.1h0M479.4 270.1h0M481.0 231.4h0M480.3 236.7h0M480.7 239.4h0M480.2 279.7h0M480.5 274.5h0M480.0 270.4h0M481.3 231.8h0M481.8 234.3h0M481.9 240.1h0M481.6 281.4h0M481.1 278.3h0M481.9 272.8h0M482.7 234.5h0M482.3 240.7h0M482.6 234.9h0M482.3 283.5h0M482.9 274.4h0M482.2 278.4h0M483.1 236.6h0M483.5 244.4h0M483.3 242.4h0M483.8 283.4h0M483.7 282.4h0M483.8 283.6h0M484.7 235.3h0M484.1 242.9h0M484.4 243.6h0M484.4 281.5h0M484.0 277.8h0M484.4 277.5h0M485.5 233.5h0M485.2 236.9h0M485.9 237.4h0M485.9 278.8h0M485.4 271.5h0M485.2 275.1h0M486.7 231.2h0M486.1 239.2h0M486.7 234.1h0M486.4 277.2h0M486.5 270.1h0M486.7 275.7h0M487.6 228.9h0M487.3 236.1h0M487.7 238.4h0M487.0 276.8h0M487.9 270.5h0M487.4 273.0h0M488.7 224.6h0M488.2 231.2h0M488.8 230.0h0M488.9 275.3h0M489.0 270.3h0M488.6 267.7h0M489.2 222.5h0M489.1 232.1h0M490.0 223.5h0M489.4 275.3h0M489.6 269.8h0M489.7 269.7h0M490.0 219.1h0M491.0 223.3h0M491.0 220.4h0M490.8 275.0h0M490.1 270.1h0M490.2 267.4h0M491.3 210.1h0M491.6 216.4h0M491.9 216.1h0M491.7 273.3h0M491.1 264.8h0M491.3 272.2h0M492.3 200.3h0M492.8 212.9h0M492.7 213.1h0M492.2 264.6h0M492.3 254.7h0M493.0 254.9h0M493.2 195.1h0M494.0 210.8h0M493.1 203.8h0M493.4 262.0h0M493.8 253.1h0M493.2 258.8h0M494.3 204.5h0M494.2 217.4h0M494.7 216.9h0M494.9 262.6h0M494.5 260.6h0M494.5 256.7h0M495.4 215.8h0M495.2 222.1h0M495.8 215.9h0M495.8 264.9h0M495.8 258.5h0M495.0 257.2h0M496.7 223.2h0M496.5 227.3h0M496.0 227.5h0M496.9 266.8h0M496.3 258.3h0M496.4 261.5h0M497.2 222.9h0M497.5 226.6h0M497.6 224.7h0M497.3 263.8h0M497.4 263.6h0M497.3 260.3h0M498.7 222.2h0M498.9 226.3h0M498.4 222.2h0M498.3 261.1h0M498.3 255.4h0M498.8 254.9h0M499.9 220.9h0M499.3 229.5h0M499.9 220.9h0M500.0 258.1h0M499.6 258.0h0M499.1 258.7h0M500.6 220.6h0M500.6 222.9h0M500.9 228.4h0M500.6 258.4h0M501.0 252.8h0M501.0 252.8h0M501.5 220.4h0M501.5 224.2h0M501.8 220.4h0M501.4 258.1h0M501.8 253.2h0M501.3 253.2h0M502.6 222.2h0M502.2 227.9h0M502.2 229.4h0M502.7 255.5h0M502.4 255.3h0M502.0 250.5h0M503.9 223.5h0M503.7 223.8h0M503.3 227.2h0M503.5 255.8h0M503.4 250.7h0M503.5 255.6h0M504.5 222.5h0M504.9 226.6h0M504.7 225.4h0M504.8 256.0h0M504.8 254.1h0M504.6 251.9h0M505.9 218.1h0M505.5 219.9h0M506.0 221.8h0M505.6 257.2h0M505.5 256.1h0M505.2 250.3h0M506.4 212.6h0M506.7 221.9h0M506.0 221.4h0M506.0 258.1h0M506.0 255.9h0M506.8 251.5h0M507.3 211.3h0M507.9 220.3h0M507.9 215.1h0M507.8 257.5h0M507.7 253.8h0M507.1 253.9h0M508.7 210.2h0M508.2 210.8h0M508.3 219.7h0M508.9 258.4h0M509.0 251.0h0M508.1 253.3h0M509.4 210.4h0M509.9 218.0h0M509.3 220.5h0M509.4 259.4h0M509.7 254.2h0M509.1 253.9h0M510.1 205.6h0M510.8 214.8h0M510.2 215.7h0M510.0 261.8h0M510.2 256.3h0M510.1 258.2h0M511.6 198.8h0M511.3 206.3h0M511.8 212.2h0M511.5 263.2h0M511.3 253.5h0M511.1 258.2h0M512.9 194.3h0M512.5 205.1h0M512.1 205.0h0M512.1 264.9h0M512.9 263.9h0M512.9 264.3h0M513.6 189.8h0M513.4 195.2h0M513.6 196.3h0M513.0 267.7h0M513.9 265.7h0M513.5 261.9h0M514.9 187.4h0M514.7 191.3h0M514.3 201.3h0M514.5 269.4h0M514.8 255.6h0M514.4 270.1h0M515.3 181.3h0M515.3 184.7h0M515.2 192.9h0M515.3 269.3h0M515.1 267.6h0M515.2 267.9h0M516.7 177.3h0M516.1 185.6h0M516.4 187.6h0M516.4 270.3h0M516.1 259.9h0M516.8 254.6h0M517.8 185.5h0M517.7 202.9h0M517.5 201.0h0M517.3 274.5h0M517.8 261.7h0M517.9 261.0h0M518.3 197.6h0M518.8 213.5h0M518.2 209.8h0M518.9 277.5h0M518.5 276.0h0M518.7 270.7h0M519.0 206.3h0M519.1 216.5h0M519.3 220.1h0M519.0 280.5h0M519.0 270.0h0M520.0 278.7h0M520.0 219.3h0M520.8 230.5h0M520.7 227.0h0M520.9 284.1h0M520.6 273.7h0M520.3 277.1h0M522.0 228.5h0M521.9 229.2h0M521.6 232.0h0M521.1 286.3h0M521.8 285.6h0M521.9 275.4h0M522.1 227.2h0M522.2 234.8h0M522.8 229.8h0M522.4 287.5h0M522.4 285.7h0M522.7 275.3h0M523.9 222.3h0M523.4 223.9h0M523.6 229.2h0M523.9 292.4h0M523.8 286.3h0M523.1 285.0h0M524.2 214.5h0M524.9 222.9h0M524.6 216.8h0M524.6 298.0h0M524.5 282.7h0M524.9 286.6h0M525.0 211.1h0M525.6 213.3h0M525.4 218.0h0M525.8 299.9h0M525.3 283.4h0M525.2 284.7h0M526.7 205.3h0M526.2 218.3h0M526.8 218.8h0M526.9 304.8h0M526.5 292.9h0M527.0 284.3h0M527.6 206.4h0M527.6 215.1h0M527.0 217.5h0M527.3 301.3h0M527.8 281.6h0M527.8 289.1h0M528.6 213.2h0M528.2 218.9h0M528.7 226.9h0M528.2 295.2h0M528.4 293.5h0M528.9 287.5h0M529.8 221.2h0M529.7 223.0h0M529.8 222.9h0M529.6 292.6h0M529.2 279.2h0M529.2 291.8h0M530.2 224.0h0M530.4 235.4h0M530.7 236.4h0M530.1 287.4h0M530.5 279.5h0M531.0 278.9h0M531.9 227.6h0M531.1 233.1h0M531.2 231.4h0M531.1 279.6h0M531.2 276.3h0M531.8 279.6h0M532.1 229.2h0M532.4 237.9h0M532.5 232.7h0M532.6 272.1h0M532.2 266.9h0M532.8 266.2h0M533.8 232.7h0M533.8 232.9h0M533.4 237.2h0M533.9 269.9h0M534.0 264.2h0M533.1 267.7h0M534.1 234.8h0M534.3 235.9h0M534.7 236.6h0M534.3 269.5h0M534.1 263.2h0M534.7 263.7h0M535.5 236.8h0M535.6 240.2h0M535.1 239.6h0M535.3 267.7h0M535.8 264.9h0M535.9 263.4h0M536.8 233.8h0M536.9 236.5h0M536.2 238.6h0M536.6 263.7h0M536.2 260.7h0M536.7 262.1h0M537.6 230.3h0M537.4 236.1h0M537.1 230.2h0M537.6 261.4h0M537.5 258.4h0M537.8 256.8h0M538.4 228.0h0M538.2 233.8h0M538.8 229.2h0M538.0 260.3h0M538.2 255.3h0M538.5 255.6h0M539.0 227.5h0M539.9 227.4h0M539.3 234.5h0M539.1 259.6h0M539.4 256.5h0M539.5 255.3h0M540.0 227.7h0M540.4 233.9h0M540.8 230.1h0M540.0 259.0h0M540.0 258.1h0M540.6 254.2h0M541.3 226.8h0M541.2 229.8h0M541.0 228.6h0M541.3 258.3h0M541.9 256.5h0M541.4 257.5h0M542.4 225.3h0M542.2 228.5h0M542.3 227.7h0M542.3 256.3h0M542.6 256.3h0M542.7 252.1h0M543.5 223.5h0M543.2 227.7h0M543.1 229.3h0M543.0 254.9h0M543.2 250.3h0M543.5 249.3h0M544.4 224.9h0M544.3 224.6h0M544.0 225.9h0M544.7 255.0h0M544.5 249.3h0M544.8 251.1h0M545.7 226.0h0M545.2 231.4h0M545.5 228.9h0M545.9 254.0h0M545.8 253.3h0M545.6 250.0h0M546.7 224.4h0M546.4 229.6h0M546.8 229.8h0M546.8 257.1h0M546.1 255.5h0M546.2 255.5h0M547.1 222.8h0M547.6 228.5h0M547.6 222.6h0M547.0 260.7h0M547.3 258.7h0M547.7 255.4h0M548.2 221.4h0M549.0 225.9h0M548.6 227.4h0M548.0 263.9h0M548.4 263.6h0M548.5 264.3h0M549.3 222.3h0M549.8 229.5h0M549.8 228.7h0M549.9 262.8h0M549.3 256.7h0M549.5 259.7h0M550.4 223.9h0M550.3 225.0h0M550.6 229.4h0M550.2 261.9h0M550.1 254.8h0M550.4 256.2h0M551.5 223.0h0M551.2 228.2h0M551.5 228.7h0M551.9 255.9h0M551.3 255.9h0M551.2 251.3h0M552.7 221.5h0M552.1 221.1h0M552.4 227.3h0M552.5 252.3h0M553.0 249.2h0M552.7 248.3h0M553.7 219.6h0M553.6 223.3h0M553.2 220.5h0M553.7 250.1h0M553.8 245.6h0M553.9 246.6h0M554.3 218.7h0M554.0 225.0h0M554.4 225.2h0M555.0 249.5h0M554.5 248.1h0M554.6 247.1h0M555.6 217.3h0M555.2 224.0h0M555.3 218.4h0M555.3 249.3h0M555.4 244.4h0M555.9 246.4h0M556.1 217.5h0M556.5 223.8h0M556.3 223.7h0M556.1 249.8h0M556.5 247.9h0M556.6 245.4h0M557.0 217.2h0M557.7 217.1h0M557.6 220.4h0M557.6 249.0h0M557.3 248.5h0M557.6 244.9h0M559.0 216.6h0M558.6 217.5h0M558.7 217.9h0M558.7 248.8h0M558.3 244.6h0M558.2 246.4h0M559.0 215.2h0M560.0 222.4h0M559.1 222.4h0M559.6 248.4h0M559.5 243.5h0M559.1 246.1h0M560.2 215.3h0M560.8 221.8h0M560.1 220.0h0M560.2 248.8h0M560.1 245.6h0M560.6 246.8h0M561.1 214.5h0M561.3 217.9h0M561.9 215.8h0M561.1 250.0h0M561.0 244.2h0M562.0 244.2h0M562.8 214.0h0M562.7 218.2h0M562.3 221.1h0M562.0 250.3h0M562.1 247.1h0M562.2 247.6h0M563.3 213.4h0M563.4 221.6h0M563.1 215.7h0M563.0 250.2h0M563.3 245.5h0M563.8 246.0h0M564.4 214.1h0M564.3 220.6h0M564.2 222.0h0M564.9 249.4h0M564.4 249.1h0M564.3 244.3h0M565.4 216.5h0M565.2 221.9h0M565.7 217.3h0M565.5 247.6h0M565.5 243.6h0M565.6 247.1h0M566.3 217.4h0M566.7 222.6h0M566.3 222.3h0M566.3 246.6h0M566.6 244.0h0M566.8 243.5h0M567.6 217.1h0M567.7 221.1h0M567.7 219.4h0M567.4 248.2h0M568.0 244.9h0M567.6 245.3h0M568.7 218.2h0M568.5 218.0h0M568.6 219.2h0M568.4 250.0h0M568.1 248.6h0M568.5 248.3h0M569.1 218.4h0M569.0 222.4h0M570.0 226.5h0M569.9 252.0h0M569.3 249.2h0M569.9 248.1h0M570.7 220.9h0M570.2 226.5h0M570.2 228.8h0M571.0 254.1h0M570.9 250.1h0M570.5 250.2h0M571.6 223.6h0M571.0 230.3h0M571.4 231.1h0M571.1 257.2h0M571.6 253.1h0M571.6 252.6h0M572.7 226.9h0M573.0 226.3h0M572.6 232.2h0M572.8 258.3h0M572.9 257.1h0M572.4 255.4h0M573.7 229.3h0M573.1 233.6h0M573.1 230.1h0M573.8 258.8h0M574.0 255.7h0M573.3 254.3h0M574.2 231.6h0M574.1 236.2h0M574.4 234.2h0M574.4 260.5h0M574.8 256.5h0M574.7 256.0h0M575.7 233.6h0M575.2 238.8h0M575.1 235.6h0M575.3 264.9h0M575.1 260.1h0M575.1 264.5h0M576.2 236.3h0M576.5 239.0h0M576.4 238.5h0M576.4 270.0h0M576.7 266.5h0M576.9 264.4h0M577.6 238.6h0M577.9 240.3h0M577.8 239.8h0M577.5 271.2h0M577.6 270.0h0M577.1 268.3h0M578.1 240.4h0M578.7 244.4h0M578.1 242.3h0M578.7 267.7h0M578.5 267.5h0M578.2 264.8h0M579.7 243.0h0M579.8 242.9h0M579.8 246.4h0M579.2 265.5h0M579.9 265.6h0M579.0 264.5h0M580.9 242.2h0M580.9 245.8h0M580.2 242.8h0M580.4 265.2h0M580.7 262.8h0M580.4 262.0h0M581.1 240.5h0M581.2 243.5h0M581.3 244.5h0M582.0 264.3h0M581.7 261.3h0M581.7 259.6h0M582.2 239.9h0M582.3 241.0h0M582.8 243.6h0M582.1 263.7h0M582.6 262.4h0M582.3 263.1h0M583.9 240.9h0M583.8 244.0h0M583.8 243.5h0M583.8 263.4h0M583.6 258.9h0M583.2 260.6h0M584.5 241.7h0M584.7 242.1h0M584.7 242.1h0M584.9 262.7h0M584.5 260.6h0M584.2 260.4h0M585.5 239.8h0M585.3 240.1h0M585.2 242.7h0M585.4 262.9h0M585.1 263.0h0M585.7 262.3h0M586.3 236.2h0M586.6 239.7h0M586.6 239.9h0M586.6 263.9h0M586.7 258.9h0M586.8 263.8h0M587.4 232.2h0M587.7 237.7h0M587.1 236.7h0M587.5 265.5h0M587.5 258.8h0M588.0 260.7h0M588.7 232.2h0M588.1 236.1h0M588.3 237.7h0M588.7 263.1h0M588.6 258.2h0M588.2 257.0h0M589.0 235.8h0M589.3 238.9h0M589.3 236.2h0M590.0 259.1h0M589.2 255.2h0M589.5 255.1h0M590.2 236.7h0M590.1 239.6h0M590.1 240.4h0M590.6 257.0h0M590.6 253.9h0M590.7 254.6h0M591.2 236.4h0M591.2 237.8h0M591.8 237.6h0M591.5 255.7h0M591.4 253.6h0M591.4 252.4h0M592.6 235.9h0M592.2 238.7h0M592.5 239.5h0M592.0 254.4h0M592.9 252.4h0M592.0 252.9h0M593.1 235.0h0M593.9 237.5h0M593.5 237.9h0M593.7 252.9h0M593.9 250.6h0M593.6 249.6h0M594.7 233.9h0M594.7 237.1h0M594.1 235.1h0M594.8 252.0h0M594.1 251.1h0M594.3 249.2h0M595.8 233.0h0M595.6 236.3h0M595.4 232.7h0M595.9 251.4h0M595.7 250.3h0M595.4 248.0h0M596.0 230.4h0M596.6 232.1h0M596.2 231.5h0M596.7 253.6h0M596.8 251.0h0M596.7 250.2h0M597.4 227.8h0M597.2 231.4h0M597.7 228.4h0M597.9 255.7h0M597.9 251.2h0M597.1 254.2h0M598.1 225.7h0M598.1 228.4h0M598.2 230.7h0M598.3 258.8h0M598.9 252.3h0M598.1 258.1h0M599.9 224.9h0M599.3 229.9h0M599.4 226.5h0M599.8 258.7h0M599.6 252.4h0M599.7 253.6h0M600.4 226.0h0M600.9 226.9h0M600.9 227.1h0M600.3 258.4h0M600.5 257.7h0M601.0 251.9h0M601.4 225.5h0M602.0 228.0h0M601.5 229.0h0M601.1 258.0h0M601.0 251.9h0M601.4 251.8h0M602.5 225.4h0M602.1 228.3h0M602.8 225.7h0M602.6 257.0h0M602.7 253.2h0M602.1 256.5h0M603.1 225.5h0M603.7 231.8h0M603.8 232.0h0M603.6 256.3h0M603.2 252.5h0M603.8 251.2h0M604.5 229.2h0M604.1 234.5h0M604.4 230.6h0M604.7 255.1h0M604.3 250.7h0M604.4 252.3h0M605.6 233.2h0M605.7 237.3h0M605.5 236.9h0M605.3 255.4h0M605.4 255.7h0M605.9 253.7h0M606.0 237.6h0M607.0 240.6h0M606.4 240.3h0M606.6 258.5h0M606.7 257.0h0M606.3 256.3h0M607.5 239.1h0M607.4 242.0h0M607.4 241.7h0M607.8 261.2h0M608.0 256.8h0M607.7 256.6h0M608.5 239.0h0M608.4 241.1h0M608.9 241.5h0M608.4 260.0h0M608.2 260.6h0M608.1 259.2h0M609.3 237.3h0M609.6 241.4h0M609.6 237.9h0M610.0 259.9h0M609.3 257.1h0M609.4 256.3h0M610.3 235.3h0M610.5 237.9h0M610.9 237.2h0M610.9 259.1h0M610.2 255.6h0M610.0 256.8h0M611.6 234.7h0M611.2 239.3h0M611.8 238.7h0M611.0 257.9h0M612.0 255.5h0M611.5 256.5h0M612.1 235.2h0M612.4 238.7h0M612.5 239.4h0M612.6 257.5h0M612.4 256.4h0M612.9 255.9h0M613.1 235.3h0M613.6 238.7h0M613.2 236.1h0M613.0 256.0h0M613.6 255.8h0M613.8 256.6h0M614.9 235.3h0M614.2 236.0h0M614.5 237.7h0M614.9 256.3h0M614.1 252.7h0M614.1 252.6h0M616.0 234.5h0M615.1 237.9h0M615.7 238.3h0M615.9 256.1h0M615.3 252.9h0M615.6 251.9h0M616.3 234.7h0M616.1 238.1h0M616.5 238.1h0M616.1 255.8h0M616.4 254.1h0M616.3 255.6h0M617.2 234.8h0M617.2 236.6h0M618.0 237.8h0M617.7 255.3h0M617.7 251.7h0M617.2 252.9h0M618.9 234.6h0M618.1 234.6h0M618.4 236.4h0M618.8 254.6h0M618.7 250.7h0M618.2 250.6h0M619.1 232.7h0M619.8 232.7h0M619.9 233.1h0M619.8 252.9h0M619.2 249.9h0M619.1 251.7h0M620.7 230.9h0M620.8 233.1h0M620.7 231.9h0M620.5 251.0h0M620.6 248.5h0M620.4 249.4h0M621.2 229.5h0M621.6 233.6h0M621.2 229.2h0M621.8 249.2h0M621.9 247.2h0M621.5 248.0h0M622.5 228.5h0M623.0 231.9h0M622.7 231.4h0M622.9 248.7h0M622.2 246.2h0M622.3 248.2h0M623.0 228.2h0M623.5 231.1h0M623.9 232.3h0M623.3 248.7h0M623.4 245.5h0M623.9 248.2h0M624.3 226.9h0M624.6 231.5h0M624.7 229.4h0M624.2 247.8h0M624.9 245.0h0M624.7 245.1h0M625.8 225.7h0M625.4 228.3h0M625.3 226.5h0M625.6 246.9h0M625.1 244.2h0M625.3 244.8h0M626.1 224.0h0M626.9 228.7h0M626.7 224.0h0M626.0 246.6h0M626.4 245.7h0M626.5 246.0h0M627.2 224.9h0M627.4 226.6h0M627.4 229.4h0M627.2 246.1h0M627.6 244.3h0M627.1 245.1h0M628.3 226.4h0M628.5 226.9h0M628.1 227.9h0M628.3 246.7h0M628.0 243.5h0M628.7 243.9h0M629.6 226.7h0M629.1 228.6h0M629.7 227.9h0M629.9 246.3h0M629.2 244.9h0M629.4 244.7h0M630.8 227.5h0M630.7 231.7h0M630.3 231.7h0M630.4 246.1h0M630.7 243.5h0M630.7 244.0h0M631.1 227.7h0M631.6 231.4h0M631.9 230.3h0M631.9 245.3h0M631.9 244.7h0M631.7 242.6h0M632.9 225.7h0M632.4 230.2h0M632.1 229.5h0M632.6 245.2h0M632.1 242.5h0M632.3 242.4h0M633.2 224.4h0M633.5 227.2h0M633.9 227.6h0M633.3 245.4h0M633.1 245.5h0M633.6 244.3h0M634.5 223.1h0M634.2 226.7h0M634.4 225.6h0M634.7 245.5h0M634.5 243.8h0M634.4 242.2h0M635.3 224.0h0M635.4 227.4h0M635.7 226.3h0M635.7 245.8h0M635.9 242.2h0M635.2 244.8h0M636.8 225.3h0M636.1 228.7h0M636.8 228.9h0M636.8 247.0h0M636.5 243.7h0M636.7 243.2h0M637.6 225.2h0M637.5 227.5h0M637.5 227.1h0M637.7 247.0h0M637.3 244.0h0M637.7 244.0h0M638.5 224.2h0M638.1 223.8h0M638.3 226.7h0M638.9 246.4h0M639.0 243.7h0M638.4 246.0h0M639.8 223.3h0M639.6 226.9h0M639.8 227.2h0M639.3 246.6h0M639.6 244.4h0M639.5 244.0h0M641.0 221.2h0M640.6 222.4h0M640.1 225.8h0M641.0 246.7h0M640.0 244.7h0M640.5 243.1h0M641.1 219.6h0M641.9 222.2h0M641.4 224.9h0M641.1 247.0h0M641.0 243.1h0M641.3 247.4h0M642.4 219.1h0M642.9 223.8h0M642.4 224.8h0M642.7 247.9h0M642.5 243.2h0M642.9 244.5h0M643.4 220.8h0M643.7 226.1h0M643.8 225.3h0M643.2 248.1h0M644.0 245.1h0M643.9 247.3h0M644.1 221.6h0M644.8 225.7h0M644.7 226.5h0M644.5 247.9h0M644.1 244.9h0M644.3 247.0h0M645.3 220.1h0M645.1 224.9h0M646.0 220.8h0M645.9 246.7h0M645.4 243.3h0M645.9 242.5h0M646.2 218.8h0M646.5 222.0h0M646.7 220.6h0M647.0 244.8h0M646.5 242.8h0M646.3 243.2h0M647.8 218.3h0M647.9 223.4h0M647.3 224.1h0M647.1 243.3h0M647.8 240.3h0M647.8 241.3h0M648.5 221.1h0M648.7 226.3h0M648.8 225.6h0M648.5 245.1h0M648.0 242.2h0M648.5 241.9h0M650.0 222.9h0M649.1 223.6h0M649.0 229.1h0M649.2 246.0h0M649.3 244.7h0M650.0 244.2h0M650.8 226.6h0M650.6 228.9h0M650.9 230.2h0M650.6 246.6h0M650.8 244.3h0M650.6 246.2h0M651.5 229.5h0M651.7 233.4h0M651.5 231.9h0M651.1 247.6h0M651.1 247.5h0M651.3 245.7h0M652.8 232.6h0M652.3 235.8h0M652.8 234.5h0M652.9 249.3h0M652.4 247.6h0M652.2 247.7h0M653.6 232.6h0M653.5 233.9h0M653.4 236.0h0M653.1 251.4h0M653.1 250.6h0M653.3 248.7h0M654.8 233.6h0M654.7 234.0h0M654.6 234.3h0M654.4 252.9h0M654.9 251.1h0M654.4 250.8h0M655.7 234.9h0M655.4 235.5h0M655.8 236.3h0M655.3 254.4h0M655.7 251.3h0M655.8 252.9h0M656.8 237.1h0M656.4 240.5h0M656.4 239.6h0M656.7 254.2h0M657.0 253.5h0M656.4 251.5h0M657.6 237.5h0M657.8 237.7h0M657.2 238.9h0M657.9 254.0h0M657.4 253.1h0M657.3 252.4h0M658.4 236.4h0M658.9 236.5h0M658.5 237.4h0M659.0 253.9h0M658.4 251.3h0M658.8 250.9h0M659.8 234.6h0M659.6 234.8h0M659.6 238.3h0M659.4 254.7h0M659.4 251.1h0M659.2 253.1h0M660.2 233.5h0M661.0 237.5h0M660.8 234.0h0M660.6 254.7h0M660.6 252.5h0M660.1 254.5h0M661.5 232.9h0M661.7 237.3h0M661.0 236.9h0M661.5 254.0h0M661.6 253.5h0M661.8 251.5h0M662.3 232.8h0M662.9 234.2h0M662.9 234.8h0M662.7 254.1h0M662.7 252.0h0M662.2 250.9h0M663.4 234.0h0M664.0 236.8h0M663.8 236.2h0M663.4 254.6h0M663.8 253.1h0M663.3 251.4h0M664.3 237.6h0M664.5 240.4h0M664.1 237.6h0M664.6 255.3h0M664.6 252.9h0M664.4 252.0h0M665.6 240.4h0M665.9 240.5h0M665.3 240.6h0M665.3 256.3h0M666.0 253.1h0M665.1 254.4h0M666.1 240.2h0M666.4 240.9h0M666.2 241.1h0M667.0 258.1h0M666.1 255.1h0M666.5 256.0h0M667.3 239.6h0M667.9 241.1h0M667.1 243.0h0M667.3 259.3h0M667.3 256.7h0M667.8 259.3h0M668.7 239.6h0M668.5 243.1h0M668.5 240.9h0M668.5 259.3h0M668.1 257.6h0M668.6 255.5h0M669.5 239.9h0M669.5 240.6h0M669.8 241.9h0M669.7 258.6h0M670.0 255.5h0M669.5 257.7h0M670.3 240.3h0M670.4 243.2h0M671.0 241.0h0M670.3 257.8h0M671.0 257.9h0M670.2 256.2h0M671.6 241.6h0M671.1 243.8h0M671.4 241.8h0M671.7 256.1h0M671.4 255.0h0M671.2 253.6h0M672.7 242.8h0M672.4 242.9h0M672.8 244.3h0M672.0 254.5h0M672.2 252.9h0M672.9 253.4h0M673.6 244.0h0M673.3 245.1h0M673.6 244.6h0M673.6 256.9h0M673.8 254.2h0M673.9 255.8h0M674.1 243.1h0M674.7 243.4h0M674.4 243.5h0M674.5 259.7h0M674.6 259.8h0M674.1 257.4h0M675.3 241.8h0M675.9 244.4h0M675.1 243.4h0M675.2 262.1h0M675.4 258.7h0M675.8 259.2h0M676.3 241.7h0M676.5 244.9h0M676.1 244.7h0M676.4 261.9h0M676.7 261.7h0M676.6 259.1h0M677.8 241.7h0M677.4 242.3h0M677.8 243.1h0M677.6 261.8h0M677.8 257.8h0M677.5 258.0h0M678.7 241.4h0M678.8 243.5h0M678.2 242.9h0M678.4 260.9h0M678.0 256.6h0M678.4 256.8h0M679.1 241.7h0M679.4 244.2h0M679.0 243.2h0M679.5 256.4h0M679.2 253.8h0M679.8 254.5h0M680.7 241.6h0M680.1 242.6h0M680.0 242.1h0M680.5 253.4h0M680.8 251.5h0M681.0 252.4h0M681.7 242.1h0M681.3 243.9h0M681.5 241.9h0M681.2 252.6h0M681.9 252.3h0M681.6 251.1h0M682.6 242.6h0M682.2 243.4h0M682.8 242.8h0M682.6 253.2h0M682.9 252.7h0M682.2 251.5h0M683.7 243.3h0M683.9 244.5h0M683.9 245.0h0M683.1 253.2h0M683.9 253.4h0M683.8 252.8h0M684.8 242.5h0M684.8 244.4h0M684.4 243.7h0M684.7 253.4h0M685.0 252.6h0M684.1 253.0h0M685.8 241.0h0M685.2 243.0h0M685.1 242.7h0M685.7 253.2h0M685.3 251.6h0M686.0 252.7h0M686.3 240.4h0M686.9 242.1h0M686.0 241.7h0M686.5 253.1h0M686.8 251.6h0M686.7 252.3h0M687.7 239.9h0M687.3 242.6h0M687.8 242.6h0M687.2 253.2h0M687.3 251.0h0M687.7 253.0h0M688.8 239.5h0M688.2 242.1h0M688.8 240.3h0M688.4 252.9h0M688.6 250.9h0M688.0 251.9h0M689.6 239.1h0M689.5 241.7h0M689.2 239.4h0M689.1 253.7h0M689.4 251.2h0M689.8 251.3h0M690.2 238.3h0M690.7 238.5h0M690.2 241.2h0M690.2 254.7h0M690.4 251.9h0M690.8 254.5h0M691.2 238.0h0M691.5 240.3h0M691.2 239.6h0M691.2 256.0h0M691.2 252.8h0M691.7 256.1h0M692.8 239.0h0M692.5 240.6h0M692.6 241.8h0M692.5 256.4h0M692.2 253.4h0M692.7 254.6h0M693.6 239.9h0M693.1 240.6h0M693.0 242.1h0M694.0 256.2h0M693.1 253.6h0M693.6 253.5h0M694.6 239.6h0M694.7 242.1h0M695.0 242.1h0M694.3 255.9h0M694.9 252.6h0M694.3 252.7h0M695.9 238.3h0M695.6 238.5h0M695.4 239.7h0M695.2 255.2h0M695.9 254.9h0M695.6 253.0h0M696.9 237.3h0M696.0 240.2h0M696.9 240.4h0M696.0 254.2h0M696.2 251.4h0M696.8 253.0h0M697.9 237.8h0M697.6 239.3h0M697.9 239.3h0M697.3 253.9h0M697.4 251.7h0M698.0 253.2h0M698.3 238.4h0M698.8 240.4h0M698.5 240.6h0M698.1 253.4h0M698.9 250.8h0M698.0 252.9h0M700.0 238.4h0M699.2 240.4h0M699.3 240.5h0M699.1 253.1h0M699.7 251.3h0M699.7 252.0h0M700.2 237.6h0M700.1 240.5h0M700.2 240.6h0M700.3 254.6h0M700.2 252.8h0M700.4 251.4h0M701.7 236.8h0M701.5 238.4h0M701.8 240.3h0M701.3 256.0h0M701.8 252.3h0M702.0 252.9h0M702.1 237.7h0M702.1 239.6h0M702.6 238.3h0M702.9 256.5h0M702.9 252.7h0M702.4 253.5h0M703.3 239.3h0M703.6 239.5h0M703.3 241.9h0M703.8 256.7h0M703.8 253.0h0M703.3 254.5h0M704.8 240.9h0M704.5 242.7h0M704.0 240.8h0M704.5 256.6h0M704.5 255.4h0M704.5 255.2h0M705.3 240.5h0M705.2 242.3h0M705.7 242.7h0M705.4 254.7h0M705.1 253.8h0M705.9 254.2h0M706.5 240.3h0M706.8 241.6h0M706.0 242.2h0M706.2 252.7h0M706.7 251.0h0M706.3 252.3h0M707.8 240.1h0M707.7 240.9h0M707.5 241.8h0M707.1 251.7h0M707.6 250.1h0M707.3 251.5h0M708.5 240.1h0M708.1 241.6h0M708.6 241.2h0M708.3 251.7h0M709.0 249.5h0M708.3 251.9h0M709.6 239.7h0M709.3 241.5h0M709.6 241.8h0M709.5 251.9h0M709.2 250.1h0M709.9 250.8h0M710.7 239.9h0M710.3 240.0h0M710.3 240.1h0M710.7 253.1h0M710.9 252.1h0M710.5 250.5h0M711.4 240.1h0M711.9 241.0h0M711.4 240.2h0M711.7 254.3h0M711.1 251.9h0M711.3 252.8h0M713.0 240.2h0M712.6 241.6h0M712.2 241.8h0M713.0 255.2h0M712.7 254.8h0M712.3 253.6h0M713.8 239.3h0M713.6 240.8h0M713.3 240.0h0M713.6 254.1h0M713.5 251.5h0M713.8 251.8h0M714.3 238.9h0M714.8 240.3h0M714.9 239.8h0M714.7 252.5h0M714.2 252.0h0M714.5 250.8h0M715.5 239.1h0M715.1 241.1h0M715.6 239.5h0M715.2 253.1h0M715.3 251.1h0M715.1 252.3h0M716.8 239.3h0M716.2 240.2h0M716.3 240.9h0M716.4 254.2h0M716.4 250.9h0M716.6 252.3h0M717.1 238.3h0M717.1 240.5h0M717.7 240.3h0M717.6 255.2h0M717.3 252.8h0M717.8 253.5h0M718.5 236.3h0M718.5 238.7h0M718.7 236.8h0M718.1 253.9h0M718.6 253.0h0M718.5 250.9h0M719.2 233.6h0M719.8 233.3h0M719.3 236.9h0M719.4 252.2h0M719.8 250.0h0M719.1 249.6h0M720.0 231.4h0M720.9 232.4h0M721.0 233.6h0M720.3 251.8h0M720.4 248.9h0M720.5 249.5h0M721.6 232.0h0M721.2 234.9h0M721.4 235.2h0M721.5 252.9h0M721.2 249.5h0M721.7 250.4h0M722.8 232.8h0M723.0 234.8h0M722.2 235.7h0M722.2 253.3h0M722.3 250.4h0M722.0 252.4h0M723.7 235.9h0M723.3 236.5h0M723.4 237.3h0M723.3 252.1h0M723.3 251.5h0M723.7 250.6h0M724.5 238.9h0M724.8 240.5h0M724.0 240.8h0M724.3 250.7h0M724.2 250.1h0M724.7 250.4h0M726.0 238.5h0M725.9 239.7h0M725.3 240.4h0M725.6 249.2h0M725.2 248.6h0M725.3 248.0h0M726.8 237.5h0M726.1 239.4h0M726.5 238.9h0M726.7 249.5h0M726.9 248.7h0M726.6 248.2h0M727.2 237.1h0M727.8 237.8h0M727.6 239.0h0M728.0 250.6h0M728.0 248.4h0M727.7 250.3h0M728.0 234.9h0M728.5 237.1h0M728.7 235.9h0M728.1 250.8h0M728.1 250.4h0M728.3 247.9h0M730.0 232.4h0M729.8 236.1h0M729.7 234.6h0M730.0 250.8h0M730.0 247.9h0M729.0 250.7h0M730.5 230.0h0M730.4 232.7h0M730.2 233.5h0M730.8 250.7h0M730.7 247.6h0M730.8 248.2h0M732.0 228.9h0M731.4 231.2h0M731.3 233.8h0M731.8 252.2h0M732.0 251.5h0M731.1 251.9h0M732.1 228.1h0M732.0 229.8h0M732.5 232.7h0M732.0 252.5h0M732.8 251.3h0M732.5 248.1h0M733.7 228.3h0M733.9 229.4h0M733.5 230.3h0M733.0 251.5h0M733.4 247.7h0M733.9 247.2h0M734.1 229.3h0M734.3 233.1h0M734.1 232.8h0M734.3 249.4h0M734.1 248.0h0M734.7 249.3h0M735.5 230.6h0M736.0 232.4h0M735.5 231.6h0M735.7 247.8h0M735.4 245.3h0M735.5 245.0h0M736.4 230.5h0M736.2 234.1h0M736.0 233.9h0M736.1 247.7h0M737.0 245.0h0M736.8 246.2h0M738.0 230.6h0M737.6 232.9h0M737.8 233.9h0M737.3 248.8h0M737.3 248.5h0M737.4 245.9h0M738.5 229.9h0M738.1 233.9h0M738.3 232.3h0M738.4 249.3h0M738.2 249.3h0M738.4 249.0h0M739.7 229.3h0M739.8 232.0h0M739.2 229.8h0M740.0 248.4h0M739.5 246.8h0M739.4 246.2h0M740.2 228.1h0M740.2 232.2h0M740.2 231.8h0M740.3 247.7h0M740.9 246.6h0M740.7 247.6h0M741.6 227.1h0M741.2 226.5h0M741.7 227.3h0M741.4 247.9h0M742.0 246.3h0M741.5 247.0h0M742.8 225.6h0M742.8 230.1h0M742.9 230.5h0M743.0 248.5h0M742.3 246.0h0M742.8 245.4h0M743.1 223.0h0M743.6 223.8h0M743.8 226.2h0M743.4 248.6h0M743.9 246.0h0M743.4 244.7h0M744.1 221.3h0M744.1 224.6h0M744.7 225.9h0M744.3 247.7h0M744.2 244.6h0M744.9 243.6h0M746.0 219.2h0M745.1 224.1h0M745.6 220.2h0M745.4 247.0h0M745.6 247.3h0M745.3 245.8h0M746.7 216.1h0M746.9 218.7h0M746.2 221.5h0M746.2 247.5h0M746.2 242.7h0M746.9 246.8h0M747.0 214.1h0M747.9 213.9h0M747.4 220.2h0M747.5 248.3h0M747.7 244.3h0M748.0 245.4h0M748.3 211.8h0M748.4 215.3h0M748.5 214.9h0M748.6 248.7h0M748.3 245.7h0M749.0 243.8h0M750.0 214.5h0M749.0 220.9h0M749.8 221.4h0M749.7 249.2h0M750.0 243.2h0M749.5 248.4h0M751.0 218.7h0M750.4 223.4h0M750.1 223.7h0M750.5 248.7h0M750.8 246.8h0M750.2 246.0h0M751.2 219.7h0M751.6 224.0h0M751.4 222.5h0M751.4 247.4h0M751.3 242.8h0M751.7 244.7h0M752.6 218.0h0M752.9 222.9h0M752.1 218.7h0M752.7 247.3h0M752.8 242.5h0M752.2 245.5h0M753.9 213.3h0M753.3 219.4h0M753.6 215.6h0M753.8 246.2h0M753.8 240.5h0M753.5 246.3h0M754.3 210.2h0M754.4 214.3h0M754.3 213.7h0M754.9 244.5h0M755.0 239.2h0M754.7 241.0h0M755.1 207.0h0M755.5 209.4h0M755.1 213.8h0M755.2 243.4h0M755.9 238.5h0M755.9 240.7h0M756.0 205.4h0M756.7 212.3h0M756.0 208.8h0M757.0 242.0h0M756.6 236.7h0M757.0 239.8h0M757.4 202.4h0M757.6 210.2h0M757.6 207.2h0M757.4 241.5h0M757.1 235.3h0M758.0 235.3h0M758.3 201.6h0M758.1 201.5h0M758.7 205.6h0M758.9 241.0h0M758.8 237.5h0M758.5 233.8h0M760.0 198.7h0M759.9 199.7h0M759.6 204.6h0M759.7 240.2h0M759.7 238.2h0M759.2 232.1h0M760.7 196.6h0M760.1 202.4h0M760.6 196.1h0M760.4 239.9h0M760.3 235.5h0M761.0 234.3h0M761.0 194.3h0M761.9 196.7h0M761.7 203.2h0M761.2 241.5h0M761.8 232.3h0M761.0 232.5h0M762.8 197.7h0M762.2 205.2h0M762.5 203.3h0M762.3 240.1h0M762.9 237.1h0M762.3 235.8h0M763.4 200.2h0M763.8 207.2h0M763.0 203.8h0M763.3 238.5h0M763.2 236.8h0M763.4 232.7h0M764.9 201.8h0M764.1 208.6h0M764.5 209.3h0M764.4 238.0h0M764.5 233.0h0M764.4 236.4h0M765.8 205.2h0M765.7 207.5h0M765.4 210.6h0M765.9 239.7h0M765.4 239.9h0M765.7 238.2h0M766.8 206.9h0M766.9 208.8h0M766.0 212.3h0M766.3 242.5h0M766.3 235.7h0M766.7 236.6h0M767.4 208.1h0M767.5 212.0h0M767.0 208.6h0M767.2 242.9h0M767.2 237.5h0M767.7 239.2h0M768.4 209.5h0M768.6 214.4h0M768.3 214.3h0M768.8 244.2h0M768.7 239.8h0M768.4 236.1h0M769.0 211.4h0M769.2 215.4h0M769.6 211.6h0M769.3 244.6h0M769.9 236.6h0M769.1 236.7h0M770.5 212.4h0M770.3 216.4h0M770.4 216.6h0M770.1 242.6h0M770.8 238.5h0M770.4 240.7h0M771.1 213.4h0M771.6 216.6h0M771.7 215.1h0M771.3 240.8h0M771.9 239.3h0M771.3 236.6h0M772.1 213.0h0M772.0 214.5h0M772.4 217.4h0M772.5 240.8h0M772.7 239.9h0M773.0 236.7h0M773.4 210.5h0M773.6 213.8h0M773.1 216.3h0M774.0 242.0h0M773.3 236.5h0M773.1 235.8h0M774.6 205.8h0M774.6 211.6h0M774.1 206.7h0M774.3 242.2h0M774.3 235.1h0M774.0 242.0h0M775.9 204.0h0M775.6 208.1h0M775.4 209.6h0M775.6 239.0h0M775.8 232.5h0M775.1 238.2h0M776.7 201.6h0M776.7 205.6h0M777.0 207.5h0M776.3 236.1h0M776.5 229.9h0M776.5 234.7h0M777.6 199.9h0M777.9 202.8h0M777.3 204.4h0M777.8 234.0h0M777.1 232.4h0M777.3 232.6h0M778.3 199.9h0M778.5 203.7h0M778.7 200.5h0M778.5 235.5h0M778.0 227.6h0M778.3 235.0h0M779.4 200.6h0M779.3 202.9h0M779.4 201.7h0M779.0 237.4h0M779.6 236.2h0M779.5 234.2h0M780.5 199.8h0M780.2 203.8h0M781.0 200.8h0M780.7 238.9h0M781.0 238.6h0M781.0 234.5h0M781.6 198.8h0M781.5 200.8h0M781.5 200.7h0M782.0 239.3h0M781.9 233.6h0M781.8 231.3h0M782.5 198.7h0M782.6 202.2h0M782.7 202.9h0M782.5 240.5h0M782.8 230.8h0M782.6 238.6h0M783.1 197.9h0M783.4 202.9h0M783.3 198.9h0M783.6 239.3h0M783.5 231.1h0M783.6 233.1h0M784.5 196.4h0M784.5 201.9h0M784.5 202.1h0M784.1 238.6h0M784.0 233.3h0M784.5 233.0h0M785.1 194.8h0M785.2 196.5h0M785.4 200.0h0M785.4 235.8h0M785.1 233.5h0M785.3 229.0h0M786.9 195.1h0M786.4 199.3h0M786.5 200.2h0M786.7 232.5h0M786.9 226.9h0M786.0 227.6h0M787.5 195.2h0M787.2 196.8h0M787.5 195.1h0M787.6 228.5h0M787.6 226.0h0M787.6 221.6h0M788.9 196.3h0M788.4 198.3h0M788.8 197.5h0M788.5 231.9h0M788.5 226.5h0M788.2 224.9h0M789.3 195.7h0M789.0 200.8h0M789.0 197.5h0M789.6 234.0h0M789.9 231.3h0M789.5 229.5h0M790.3 194.6h0M790.9 199.9h0M790.9 200.3h0M790.0 236.5h0M790.7 233.0h0M790.1 237.1h0M792.0 192.7h0M792.0 194.9h0M791.2 200.1h0M791.1 235.2h0M791.9 227.4h0M791.7 233.0h0M792.5 189.9h0M792.4 198.4h0M793.0 199.1h0M792.4 234.4h0M792.2 231.5h0M792.6 227.8h0M793.3 186.2h0M794.0 194.0h0M793.8 186.3h0M793.8 235.3h0M793.9 228.4h0M793.3 232.9h0M794.4 183.7h0M794.4 192.1h0M794.1 190.8h0M794.6 236.9h0M794.0 233.1h0M794.6 227.8h0M795.9 181.0h0M795.2 189.1h0M796.0 188.7h0M795.0 239.1h0M795.6 235.1h0M795.6 240.8h0M796.7 180.9h0M796.5 188.0h0M796.4 182.1h0M796.3 239.3h0M796.9 230.3h0M796.5 227.8h0M797.1 181.1h0M797.7 189.3h0M798.0 188.9h0M797.8 237.5h0M797.1 228.6h0M797.8 228.3h0M798.6 180.2h0M798.6 182.0h0M798.8 191.7h0M798.4 239.0h0M798.7 233.8h0M798.2 229.2h0M799.5 180.8h0M800.0 188.5h0M799.6 190.2h0M799.3 242.8h0M799.1 233.2h0M799.7 238.4h0M800.9 179.9h0M800.7 187.3h0M800.7 189.4h0M800.1 245.3h0M800.9 244.4h0M800.6 243.0h0M801.1 180.9h0M801.8 191.2h0M801.9 186.9h0M801.0 245.0h0M801.0 232.5h0M801.4 232.3h0M802.8 182.3h0M802.7 186.6h0M802.9 182.9h0M802.6 247.1h0M802.3 234.1h0M802.1 234.8h0M803.1 184.0h0M803.2 193.6h0M803.5 189.4h0M803.6 246.9h0M803.9 235.7h0M803.9 239.6h0M804.8 183.5h0M805.0 188.5h0M804.0 193.3h0M804.5 249.2h0M804.8 236.4h0M804.9 248.2h0M805.2 181.5h0M805.2 191.9h0M805.5 196.3h0M805.1 250.5h0M805.3 243.8h0M805.9 250.2h0M806.6 186.1h0M806.6 199.9h0M806.7 198.6h0M807.0 250.4h0M807.0 243.1h0M806.0 249.5h0M807.8 191.9h0M807.6 190.8h0M807.3 203.8h0M807.1 249.8h0M807.9 248.4h0M807.8 241.2h0M808.3 193.3h0M808.6 199.4h0M808.8 202.2h0M808.5 249.5h0M808.6 242.4h0M808.3 245.6h0M809.0 195.5h0M809.1 202.4h0M809.4 203.5h0M809.7 249.8h0M809.8 248.6h0M809.3 239.3h0M810.7 199.8h0M810.8 202.9h0M810.4 207.2h0M810.7 250.9h0M810.1 245.7h0M810.9 245.4h0M811.5 199.9h0M811.8 202.9h0M811.8 201.6h0M811.5 251.4h0M811.2 242.2h0M812.0 241.0h0M813.0 198.5h0M812.7 199.6h0M812.4 205.3h0M812.5 251.2h0M812.3 246.5h0M812.7 247.2h0M813.9 196.1h0M813.1 206.3h0M813.8 204.9h0M813.8 251.8h0M813.5 246.8h0M813.6 247.1h0M814.7 197.0h0M814.5 197.6h0M814.5 208.2h0M814.3 250.9h0M814.9 250.8h0M814.1 244.1h0M815.1 198.6h0M815.3 209.8h0M815.7 202.1h0M815.5 251.8h0M815.8 248.3h0M815.0 244.6h0M817.0 205.0h0M816.7 214.3h0M816.4 210.2h0M816.1 254.0h0M816.8 246.2h0M816.5 246.4h0M817.6 210.1h0M817.8 213.3h0M817.9 209.1h0M817.9 257.2h0M817.4 256.8h0M817.0 252.0h0M818.8 214.3h0M818.3 213.8h0M818.5 221.3h0M818.6 259.7h0M818.4 254.0h0M818.2 256.7h0M116.8 233.2h0M116.4 238.8h0M117.8 242.3h0M120.2 243.4h0M120.9 247.9h0M119.4 252.2h0M127.1 244.3h0M126.8 248.5h0M127.8 252.9h0M135.6 238.3h0M138.2 232.3h0M138.1 236.7h0M140.7 238.3h0M139.7 244.5h0M147.5 242.6h0M147.6 249.3h0M161.2 242.6h0M162.0 249.4h0M168.0 243.4h0M168.5 247.7h0M170.6 222.1h0M169.8 226.2h0M171.5 233.0h0M174.8 217.8h0M174.4 224.5h0M180.0 209.3h0M179.3 213.3h0M180.4 218.6h0M183.4 216.1h0M182.4 221.6h0M187.6 215.3h0M188.6 220.7h0M191.9 223.0h0M191.7 228.8h0M195.3 224.7h0M195.7 229.7h0M198.7 211.0h0M198.4 217.4h0M202.2 202.5h0M201.5 206.3h0M202.2 212.3h0M205.6 205.9h0M206.2 211.2h0M205.6 215.6h0M209.0 211.0h0M209.0 217.0h0M212.4 211.9h0M211.7 215.7h0M215.8 223.0h0M215.0 229.1h0M220.1 218.7h0M219.4 223.4h0M222.6 228.1h0M227.7 236.6h0M227.4 240.9h0M231.2 243.4h0M231.9 247.7h0M236.3 238.3h0M236.7 242.0h0M238.0 222.1h0M238.9 226.2h0M238.1 230.0h0M242.3 220.4h0M243.1 225.8h0M244.3 201.6h0M243.5 207.1h0M244.9 210.7h0M244.0 216.0h0M246.5 211.0h0M246.9 215.6h0M247.1 220.2h0M251.3 212.7h0M251.0 216.5h0M252.0 222.7h0M255.1 223.0h0M254.2 227.5h0M254.2 232.6h0M259.3 238.3h0M259.6 244.8h0M261.9 223.0h0M262.2 227.9h0M262.6 234.3h0M261.7 238.3h0M268.7 220.4h0M268.8 224.7h0M269.0 228.5h0M274.7 217.0h0M275.7 222.1h0M275.5 226.1h0M278.1 228.1h0M277.6 232.1h0M277.4 239.0h0M280.6 234.9h0M280.5 240.6h0M280.2 245.2h0M284.1 228.9h0M283.3 233.3h0M284.3 237.2h0M287.5 205.0h0M286.9 210.7h0M288.1 217.2h0M286.5 221.5h0M290.0 211.0h0M289.3 216.5h0M289.6 220.9h0M291.0 224.8h0M291.7 233.2h0M290.9 240.1h0M291.7 247.0h0M297.7 243.4h0M297.7 248.2h0M299.4 222.1h0M300.0 229.0h0M298.5 234.9h0M304.5 219.5h0M303.8 225.8h0M308.8 211.9h0M308.1 217.1h0M309.0 223.8h0M313.1 217.8h0M312.8 222.4h0M313.2 228.2h0M317.3 211.9h0M318.3 217.2h0M317.6 224.0h0M321.6 216.1h0M321.3 222.4h0M325.0 200.8h0M324.6 207.4h0M324.2 214.0h0M329.3 188.0h0M329.9 193.0h0M328.7 197.2h0M329.8 202.5h0M330.2 193.9h0M329.4 200.7h0M330.1 206.7h0M333.7 204.2h0M334.3 209.1h0M333.4 214.4h0M337.1 202.5h0M336.4 206.1h0M336.3 211.1h0M337.0 217.1h0M340.5 193.9h0M340.1 200.0h0M341.3 205.3h0M340.8 212.1h0M345.6 196.5h0M345.7 202.8h0M344.9 209.5h0M346.4 214.0h0M349.9 202.5h0M349.6 207.5h0M350.0 211.7h0M349.3 215.4h0M354.1 206.7h0M353.8 212.6h0M353.7 216.2h0M353.9 220.6h0M360.1 200.8h0M359.8 205.4h0M360.3 209.9h0M360.3 216.0h0M366.1 188.8h0M366.8 195.5h0M365.1 199.3h0M365.3 203.8h0M370.3 166.6h0M369.6 173.3h0M370.6 177.9h0M369.6 182.8h0M376.3 164.9h0M376.1 169.1h0M375.3 173.8h0M376.9 180.4h0M378.9 187.1h0M379.7 192.3h0M378.7 198.1h0M378.4 203.4h0M384.0 202.5h0M383.8 207.5h0M384.4 212.0h0M384.7 216.7h0M388.3 219.5h0M389.0 226.4h0M388.4 230.9h0M392.5 224.7h0M392.8 228.4h0M391.7 233.0h0M395.1 205.9h0M394.9 212.4h0M394.4 217.2h0M400.2 195.7h0M400.6 200.4h0M399.8 207.1h0M404.5 183.7h0M403.8 188.8h0M405.0 192.5h0M404.6 197.4h0M407.9 199.1h0M407.8 203.1h0M408.9 207.9h0M407.0 212.2h0M413.0 207.6h0M413.2 214.2h0M413.6 218.0h0M416.4 219.5h0M415.6 223.0h0M420.7 211.9h0M421.5 216.6h0M421.0 220.5h0M424.1 226.4h0M424.5 232.5h0M427.5 217.8h0M426.6 221.9h0M427.5 226.3h0M432.6 211.0h0M432.2 215.3h0M432.6 218.9h0M439.5 202.5h0M440.2 209.2h0M440.1 213.2h0M445.4 190.5h0M444.4 195.5h0M444.5 201.3h0M446.0 205.3h0M448.8 200.8h0M448.6 207.3h0M448.6 211.5h0M453.1 187.1h0M453.4 191.0h0M452.2 196.2h0M453.3 201.7h0M458.2 193.9h0M457.8 200.2h0M457.7 207.1h0M464.2 200.8h0M463.7 206.7h0M463.8 211.4h0M464.8 216.3h0M466.8 217.8h0M467.4 223.6h0M466.3 227.3h0M472.7 220.4h0M471.8 225.1h0M472.3 230.3h0M472.8 234.0h0M478.7 228.1h0M479.4 232.8h0M478.5 238.0h0M485.5 228.1h0M486.5 234.0h0M485.5 239.1h0M490.6 217.8h0M490.7 224.0h0M491.6 229.7h0M493.2 188.8h0M493.2 195.5h0M493.8 200.1h0M493.2 203.9h0M496.6 211.0h0M496.1 215.8h0M496.8 221.8h0M499.2 212.7h0M498.6 219.3h0M498.7 223.9h0M506.0 212.7h0M505.9 217.6h0M505.3 223.4h0M511.1 197.4h0M511.1 202.2h0M511.4 206.5h0M511.4 212.1h0M516.2 170.9h0M517.1 177.7h0M515.5 184.7h0M515.3 188.8h0M518.8 193.9h0M518.8 197.9h0M519.3 204.0h0M519.6 208.4h0M521.4 219.5h0M521.3 223.5h0M521.1 229.3h0M527.3 181.1h0M527.0 185.5h0M528.2 192.5h0M527.0 198.4h0M529.9 221.2h0M529.9 228.1h0M529.5 231.9h0M535.0 230.6h0M535.7 235.8h0M540.0 226.4h0M539.9 231.5h0M541.1 226.4h0M540.2 233.2h0M546.2 217.8h0M545.3 221.7h0M545.6 225.8h0M551.3 220.4h0M551.5 226.4h0M556.5 216.1h0M556.1 219.8h0M557.0 223.7h0M561.6 205.0h0M562.3 210.7h0M562.1 215.5h0M565.0 212.7h0M565.2 218.6h0M569.2 217.0h0M569.3 221.6h0M574.4 230.6h0M575.3 235.0h0M579.5 240.0h0M584.6 235.8h0M584.3 241.7h0M588.4 228.1h0M588.6 232.3h0M592.3 235.8h0M595.7 229.8h0M599.1 219.5h0M599.9 226.2h0M603.4 222.1h0M603.2 227.0h0M606.8 234.9h0M607.5 240.0h0M613.6 232.3h0M613.0 236.9h0M620.4 228.9h0M620.8 232.6h0M627.3 223.0h0M627.3 228.0h0M634.1 220.4h0M634.2 227.3h0M640.9 218.7h0M641.3 223.0h0M647.7 217.8h0M648.2 222.8h0M652.0 226.4h0M652.3 231.1h0M656.3 235.8h0M663.1 231.5h0M668.2 239.2h0M675.1 240.0h0M683.6 241.7h0M690.4 237.5h0M700.6 235.8h0M709.2 234.9h0M716.0 236.6h0M720.3 227.2h0M719.9 232.1h0M724.5 236.6h0M733.1 226.4h0M732.7 232.0h0M737.3 225.5h0M737.5 231.0h0M743.3 223.0h0M742.5 227.7h0M748.4 209.3h0M747.6 214.3h0M752.8 212.8h0M753.0 219.3h0M761.2 185.9h0M761.8 190.0h0M760.7 194.3h0M760.3 199.4h0M765.6 200.0h0M766.1 206.9h0M773.3 207.7h0M773.1 212.8h0M781.0 191.1h0M780.9 195.6h0M788.6 192.3h0M789.5 197.3h0M795.0 179.5h0M795.7 186.0h0M795.8 189.7h0M802.7 175.7h0M802.7 179.9h0M803.2 186.7h0M809.1 183.4h0M808.5 187.4h0M809.9 193.0h0M809.1 199.8h0M815.5 192.3h0M815.0 197.4h0M814.6 202.6h0M116.8 303.6h0M117.2 298.8h0M116.5 293.8h0M116.4 290.2h0M120.2 301.1h0M119.3 297.1h0M120.2 292.8h0M120.5 287.2h0M123.7 306.2h0M122.9 300.7h0M123.5 295.9h0M122.7 292.1h0M127.1 296.0h0M126.2 291.7h0M126.2 287.6h0M126.2 282.9h0M131.3 278.9h0M131.8 275.2h0M132.0 269.2h0M133.9 268.6h0M134.7 262.3h0M137.3 268.6h0M137.4 261.8h0M140.7 285.7h0M141.3 281.1h0M140.0 276.1h0M145.8 294.2h0M145.6 288.9h0M146.5 284.8h0M151.0 303.6h0M151.8 299.5h0M150.4 292.5h0M151.8 288.6h0M155.2 301.1h0M155.0 296.9h0M156.2 292.8h0M154.6 287.1h0M160.3 307.0h0M160.3 300.2h0M160.3 295.5h0M160.3 291.4h0M165.5 299.4h0M166.1 295.0h0M165.1 291.0h0M168.9 273.8h0M169.6 269.2h0M172.3 272.1h0M172.4 266.1h0M172.2 260.0h0M174.8 255.0h0M173.9 249.2h0M179.1 260.1h0M179.5 256.5h0M179.1 252.7h0M182.5 249.9h0M182.7 244.9h0M188.5 249.9h0M188.3 246.0h0M192.8 255.9h0M197.0 251.6h0M203.9 249.0h0M203.4 242.4h0M210.7 249.0h0M211.4 244.4h0M215.8 251.6h0M220.9 249.9h0M220.9 246.3h0M223.5 263.5h0M224.1 259.0h0M227.7 270.4h0M227.1 264.2h0M230.3 293.4h0M229.9 287.2h0M230.8 283.5h0M232.9 273.8h0M233.3 269.6h0M236.3 268.6h0M235.7 264.6h0M241.4 261.8h0M242.2 257.6h0M246.5 260.1h0M245.6 254.8h0M251.6 260.1h0M252.0 256.3h0M252.5 252.0h0M255.1 272.1h0M254.2 267.3h0M255.7 263.1h0M258.5 290.8h0M258.4 285.4h0M258.9 278.5h0M260.2 307.0h0M260.8 300.5h0M260.0 295.3h0M260.1 288.8h0M263.6 282.3h0M264.1 276.3h0M264.6 271.7h0M269.6 282.3h0M269.9 277.4h0M268.6 272.3h0M273.8 272.1h0M273.0 268.2h0M274.0 261.8h0M277.2 311.3h0M278.0 304.4h0M278.1 298.0h0M277.3 292.9h0M280.6 282.3h0M281.0 278.4h0M280.3 273.5h0M285.8 287.4h0M285.4 280.7h0M286.0 276.2h0M289.2 298.5h0M289.4 292.8h0M288.8 286.7h0M289.5 281.3h0M293.4 292.5h0M294.3 285.9h0M297.7 273.8h0M298.3 267.5h0M304.5 266.9h0M305.5 260.0h0M311.4 266.9h0M311.2 262.4h0M310.6 258.9h0M317.3 271.2h0M317.3 266.6h0M316.3 259.9h0M321.6 255.0h0M322.1 250.3h0M329.3 262.7h0M329.8 255.7h0M329.7 252.1h0M330.2 262.7h0M330.1 256.7h0M330.2 252.4h0M334.5 251.6h0M334.6 244.7h0M337.1 272.1h0M337.3 266.2h0M336.3 262.1h0M337.2 258.1h0M339.6 278.0h0M339.5 272.2h0M339.6 268.1h0M338.9 264.4h0M343.9 266.9h0M343.5 261.1h0M344.3 254.2h0M348.2 278.0h0M347.3 271.4h0M348.9 264.7h0M353.3 284.0h0M353.8 277.2h0M353.1 273.3h0M357.5 295.1h0M357.3 288.3h0M357.7 281.7h0M361.8 280.6h0M362.7 276.3h0M362.2 269.7h0M360.9 262.8h0M366.1 278.0h0M366.8 272.3h0M365.1 266.6h0M366.9 260.4h0M371.2 270.4h0M371.4 265.6h0M370.2 261.6h0M371.4 256.3h0M374.6 271.2h0M374.2 264.3h0M375.5 259.6h0M374.6 254.0h0M379.7 274.6h0M379.7 269.2h0M380.2 264.7h0M379.7 259.0h0M385.7 278.9h0M385.2 273.9h0M385.0 268.0h0M390.8 287.4h0M390.1 281.1h0M391.7 275.6h0M395.1 266.9h0M395.2 260.9h0M395.4 256.5h0M400.2 255.0h0M400.4 248.6h0M400.8 243.8h0M404.5 260.1h0M405.3 253.1h0M404.4 246.3h0M407.9 278.9h0M407.1 273.7h0M408.5 267.8h0M412.2 253.3h0M412.7 248.0h0M419.0 253.3h0M425.8 258.4h0M425.2 253.2h0M430.9 255.0h0M431.7 251.1h0M434.3 270.4h0M433.5 266.8h0M434.6 261.0h0M437.7 249.9h0M438.1 244.0h0M446.3 249.9h0M447.2 244.7h0M445.3 240.3h0M454.8 257.6h0M455.7 251.6h0M458.2 253.3h0M457.9 248.6h0M457.4 242.6h0M461.6 275.5h0M461.6 269.5h0M460.7 264.5h0M466.8 272.1h0M467.3 268.5h0M466.2 263.4h0M470.2 278.9h0M470.5 274.6h0M470.5 270.6h0M469.4 265.4h0M475.3 279.7h0M475.5 274.1h0M474.4 270.0h0M481.3 285.7h0M480.3 281.3h0M480.3 277.1h0M488.1 285.7h0M489.0 281.5h0M487.5 274.9h0M492.4 272.1h0M491.4 268.1h0M492.4 263.8h0M492.3 259.7h0M498.3 270.4h0M499.1 265.5h0M499.2 259.3h0M502.6 256.7h0M502.6 251.9h0M507.7 260.1h0M507.3 255.1h0M506.9 251.1h0M512.8 266.9h0M512.7 260.8h0M512.6 254.2h0M516.2 277.2h0M516.7 273.3h0M517.1 269.2h0M515.3 262.6h0M520.5 292.5h0M521.4 288.3h0M520.4 282.6h0M520.0 276.2h0M526.5 306.2h0M526.6 300.7h0M526.3 296.8h0M526.2 289.9h0M531.6 285.7h0M531.9 280.6h0M530.8 275.5h0M535.9 266.9h0M535.7 261.0h0M540.0 263.5h0M540.7 259.8h0M539.6 255.4h0M543.7 261.0h0M544.4 254.3h0M550.5 268.6h0M551.2 261.7h0M549.7 258.1h0M553.0 253.3h0M553.7 247.9h0M559.9 250.7h0M559.5 244.0h0M565.8 251.6h0M565.0 245.4h0M571.0 256.7h0M571.9 252.4h0M576.9 273.8h0M576.6 266.8h0M581.2 268.6h0M581.9 262.6h0M588.9 268.6h0M589.1 263.7h0M593.1 256.7h0M592.3 251.7h0M595.7 253.3h0M595.6 248.3h0M599.1 261.0h0M599.6 255.6h0M605.1 256.7h0M607.6 267.8h0M607.2 262.9h0M613.6 260.1h0M620.4 254.1h0M619.7 250.1h0M627.3 249.9h0M626.5 245.2h0M635.8 248.2h0M635.8 242.8h0M644.3 249.9h0M651.2 249.9h0M650.3 246.2h0M655.4 256.7h0M661.4 255.0h0M661.1 251.1h0M667.4 261.8h0M672.5 259.3h0M675.4 270.4h0M675.4 264.6h0M680.2 256.7h0M688.7 256.7h0M697.2 257.6h0M705.8 256.7h0M714.3 256.7h0M719.4 256.7h0M719.3 252.5h0M726.2 250.7h0M731.4 254.1h0M731.3 249.0h0M736.5 249.9h0M745.0 249.0h0M744.2 244.1h0M750.0 250.7h0M750.9 245.1h0M760.5 247.0h0M761.3 242.1h0M760.8 237.2h0M773.3 245.7h0M773.2 240.8h0M786.1 240.6h0M786.9 234.5h0M785.6 229.9h0M801.4 248.3h0M802.3 244.5h0M800.9 238.7h0M801.5 232.1h0M811.7 255.9h0M811.7 249.4h0M811.1 243.8h0M123.7 320.0h0M160.3 315.8h0M390.8 305.5h0M488.1 311.5h0M488.3 306.0h0M330.2 185.2h0M124.0 303.0h0M159.0 309.0h0M546.2 209.1h0M599.1 213.4h0M647.4 215.1h0M819.3 239.8h0M818.8 238.6h0M819.1 238.8h0M819.2 265.2h0M819.2 265.3h0M819.1 267.6h0M819.5 238.9h0M820.2 237.0h0M820.3 236.7h0M820.4 266.7h0M820.0 270.2h0M819.7 260.0h0M820.7 239.2h0M821.3 239.2h0M821.0 239.7h0M820.5 265.0h0M820.9 263.2h0M821.1 262.3h0M822.2 237.4h0M822.4 236.9h0M821.5 237.2h0M821.6 275.1h0M822.3 260.5h0M822.3 261.4h0M822.8 238.9h0M823.5 239.4h0M823.3 239.2h0M822.5 271.1h0M823.3 265.8h0M823.4 263.7h0M824.2 238.6h0M823.8 239.0h0M824.0 239.3h0M824.0 264.8h0M824.1 271.7h0M824.0 269.2h0M825.0 237.1h0M824.7 236.2h0M825.3 239.6h0M825.1 260.5h0M824.6 271.0h0M824.8 263.2h0M826.5 238.7h0M826.4 239.4h0M826.0 238.5h0M826.2 266.5h0M826.2 269.1h0M826.1 262.6h0M827.0 239.1h0M826.6 237.0h0M826.7 239.0h0M826.6 261.8h0M827.2 265.0h0M826.5 263.6h0M827.9 238.9h0M828.3 238.3h0M828.4 237.4h0M828.3 264.7h0M828.3 261.0h0M828.1 263.1h0M829.0 238.7h0M828.7 239.4h0M829.0 236.3h0M828.5 261.6h0M829.1 268.6h0M829.4 262.4h0M830.2 237.2h0M830.5 240.0h0M829.5 239.3h0M830.5 264.1h0M830.1 260.1h0M830.3 262.8h0M831.3 239.2h0M830.6 238.9h0M830.8 239.3h0M830.8 264.4h0M831.1 262.5h0M831.5 262.8h0M831.6 235.6h0M832.0 238.9h0M832.0 239.6h0M831.8 264.7h0M832.1 260.9h0M832.1 267.7h0M832.8 239.9h0M833.0 239.8h0M832.8 239.8h0M832.6 261.9h0M832.5 262.0h0M832.6 262.7h0M833.8 240.0h0M834.0 237.2h0M834.4 240.0h0M834.4 262.6h0M834.2 268.7h0M834.3 261.2h0M834.9 239.8h0M835.5 238.6h0M834.9 237.7h0M835.1 262.3h0M835.0 265.4h0M834.7 261.5h0M835.9 239.9h0M835.6 239.8h0M836.4 234.9h0M836.0 262.9h0M835.8 261.9h0M835.9 262.9h0M837.0 237.8h0M837.5 236.1h0M837.4 237.6h0M837.2 266.2h0M837.4 261.0h0M836.6 265.9h0M837.6 238.4h0M837.5 237.9h0M838.0 237.9h0M838.3 267.3h0M837.5 262.9h0M838.2 260.5h0M838.6 239.1h0M838.8 238.2h0M838.9 238.9h0M839.2 270.0h0M838.9 263.4h0M838.6 261.4h0M839.7 235.9h0M840.5 238.8h0M839.6 236.8h0M839.5 264.3h0M840.3 272.1h0M839.9 263.2h0M840.7 238.5h0M841.2 239.2h0M840.9 236.6h0M840.8 267.9h0M841.2 263.6h0M841.4 264.3h0M841.6 238.1h0M842.1 237.6h0M842.3 239.8h0M841.7 269.4h0M842.4 261.7h0M842.1 262.6h0M842.5 238.3h0M842.7 237.8h0M842.8 239.4h0M842.9 272.1h0M842.9 260.7h0M843.5 264.0h0M844.0 239.5h0M844.3 239.5h0M843.8 239.4h0M843.6 263.1h0M843.7 272.7h0M844.0 266.0h0M844.6 239.9h0M844.7 237.1h0M845.5 237.1h0M844.7 266.7h0M844.9 266.6h0M845.1 269.5h0M845.9 239.7h0M845.7 240.2h0M845.5 240.0h0M846.2 266.2h0M845.6 261.0h0M845.7 268.5h0M847.4 237.3h0M847.5 238.9h0M846.8 239.2h0M847.4 262.2h0M847.4 262.0h0M847.0 261.6h0M848.2 239.4h0M847.8 237.6h0M847.7 240.4h0M847.9 263.7h0M848.4 260.7h0M847.6 270.5h0M849.1 239.7h0M849.0 237.7h0M848.6 237.8h0M848.7 264.0h0M848.9 264.4h0M849.0 261.5h0M849.7 239.7h0M850.3 237.7h0M850.3 236.5h0M849.6 260.9h0M850.5 264.7h0M849.5 261.0h0M851.5 239.7h0M851.3 238.5h0M850.7 240.2h0M851.2 262.9h0M850.9 266.7h0M850.8 263.9h0M852.5 240.4h0M851.8 239.2h0M852.5 236.6h0M851.9 262.4h0M852.1 261.3h0M852.3 263.9h0M852.8 240.3h0M852.9 239.1h0M852.9 240.0h0M852.7 266.2h0M852.8 264.5h0M853.5 262.7h0M854.0 237.5h0M853.9 239.7h0M853.7 240.0h0M853.8 262.9h0M854.1 261.2h0M854.0 262.2h0M855.4 238.7h0M854.6 240.6h0M855.3 238.2h0M855.2 261.9h0M855.2 262.8h0M854.5 261.0h0M855.8 240.4h0M856.5 239.1h0M855.9 239.8h0M855.5 266.5h0M855.9 265.0h0M856.5 261.2h0M856.9 239.7h0M856.9 235.5h0M857.2 237.8h0M856.8 261.0h0M856.7 264.3h0M857.0 261.8h0M857.8 240.5h0M858.0 235.8h0M858.2 237.6h0M858.2 265.1h0M858.4 263.9h0M858.1 268.1h0M859.4 238.3h0M858.9 238.5h0M858.6 238.1h0M859.3 261.6h0M859.4 261.2h0M858.6 270.9h0M860.3 239.5h0M859.9 237.7h0M860.3 239.0h0M860.2 269.9h0M859.5 261.0h0M860.1 265.2h0M861.5 238.3h0M861.5 240.7h0M860.6 240.7h0M860.5 263.1h0M860.9 262.4h0M860.5 263.8h0M862.3 239.7h0M861.8 239.2h0M861.7 240.5h0M862.1 263.6h0M861.6 267.3h0M862.3 262.0h0M862.9 238.7h0M862.8 240.5h0M862.9 238.6h0M863.4 261.0h0M863.5 269.9h0M863.3 270.5h0M863.7 240.5h0M864.3 239.9h0M864.0 240.7h0M864.4 265.6h0M864.0 268.3h0M864.2 263.8h0M864.7 238.5h0M865.4 235.8h0M864.5 240.2h0M865.1 278.2h0M865.1 265.9h0M865.0 268.1h0M866.3 239.4h0M866.4 239.6h0M865.9 239.6h0M866.3 262.3h0M866.0 264.4h0M866.0 260.5h0M867.4 238.8h0M866.9 236.1h0M867.2 238.5h0M866.7 271.6h0M866.6 265.5h0M867.0 260.5h0M867.6 239.4h0M867.8 237.0h0M868.2 239.6h0M867.6 266.9h0M868.0 261.5h0M867.8 260.6h0M869.2 238.9h0M869.0 239.6h0M868.8 238.7h0M869.2 264.2h0M868.7 264.0h0M868.8 262.9h0M869.5 238.2h0M870.4 238.4h0M870.0 237.5h0M869.8 268.5h0M869.7 263.8h0M869.9 268.2h0M870.8 239.1h0M870.7 238.3h0M870.6 237.2h0M870.8 260.0h0M871.0 263.7h0M871.1 263.2h0M872.3 239.2h0M872.0 238.0h0M871.7 238.4h0M872.2 263.2h0M871.6 260.5h0M872.2 261.6h0M872.7 239.2h0M873.4 239.2h0M872.9 239.0h0M872.8 262.0h0M873.2 275.6h0M873.3 267.4h0M874.0 238.8h0M874.0 239.3h0M874.5 237.9h0M873.7 262.5h0M874.1 265.0h0M874.5 268.2h0M875.3 237.6h0M875.3 239.2h0M874.7 238.1h0M874.7 267.8h0M875.4 268.3h0M875.4 260.1h0M876.1 239.0h0M876.3 239.0h0M876.4 238.9h0M875.7 259.9h0M876.0 264.4h0M875.7 264.9h0M877.1 236.8h0M876.8 239.0h0M877.2 238.6h0M877.3 263.8h0M876.8 262.1h0M876.7 263.2h0M878.0 237.8h0M877.7 238.4h0M877.8 239.1h0M878.0 262.0h0M878.0 266.9h0M877.7 264.5h0M879.3 237.1h0M879.2 238.1h0M878.8 239.1h0M879.4 260.1h0M878.6 262.2h0M878.9 268.2h0M879.8 238.6h0M880.1 238.7h0M880.5 238.0h0M879.5 270.0h0M880.3 259.7h0M880.1 265.4h0M881.2 238.3h0M880.7 237.4h0M880.6 238.5h0M880.8 264.8h0M881.5 265.3h0M881.3 265.2h0M881.7 237.2h0M882.5 238.8h0M881.7 238.6h0M882.2 261.4h0M881.7 266.7h0M882.4 265.5h0M882.9 238.0h0M883.4 237.4h0M882.8 238.0h0M882.6 264.7h0M882.9 261.2h0M883.4 259.6h0M883.7 237.3h0M884.1 239.1h0M884.4 238.0h0M883.6 264.5h0M883.6 271.9h0M883.6 263.3h0M884.8 238.3h0M885.2 237.9h0M885.1 237.1h0M884.8 265.1h0M885.2 259.6h0M885.1 262.2h0M885.6 238.3h0M885.8 238.6h0M885.7 238.9h0M885.7 259.6h0M885.5 262.5h0M885.7 266.9h0M887.2 238.7h0M887.0 238.6h0M887.4 238.3h0M887.3 260.8h0M886.7 264.2h0M886.6 260.4h0M888.3 239.2h0M888.3 238.9h0M888.1 238.6h0M888.1 263.5h0M887.6 261.5h0M888.3 259.9h0M889.2 238.3h0M889.0 238.6h0M889.0 239.1h0M888.9 265.0h0M888.7 261.9h0M888.6 263.6h0M890.5 238.4h0M890.4 238.6h0M890.3 238.8h0M889.6 267.1h0M889.7 264.6h0M890.0 263.3h0M891.3 239.4h0M891.3 239.3h0M891.1 238.6h0M891.1 262.2h0M891.3 264.0h0M890.9 265.0h0M892.1 237.6h0M892.4 239.6h0M892.0 239.0h0M891.6 263.4h0M891.7 259.7h0M891.6 261.0h0M893.0 239.3h0M893.3 239.2h0M892.7 239.7h0M893.2 269.6h0M893.4 264.7h0M892.9 262.0h0M894.0 238.7h0M893.8 239.4h0M894.4 239.1h0M894.4 264.5h0M893.7 267.3h0M893.6 267.0h0M895.2 239.7h0M894.6 240.1h0M895.0 239.2h0M894.9 263.8h0M895.3 262.6h0M895.0 269.8h0M896.3 239.3h0M895.6 240.4h0M895.7 240.2h0M896.1 261.0h0M896.5 261.1h0M896.1 261.1h0M896.6 238.6h0M896.7 236.7h0M897.3 239.5h0M897.5 263.7h0M897.1 265.4h0M897.5 262.4h0M897.7 239.7h0M897.8 240.8h0M897.7 239.3h0M897.9 263.0h0M898.1 262.1h0M898.0 263.2h0M899.0 240.2h0M899.0 240.1h0M898.9 240.2h0M899.0 263.2h0M898.7 268.6h0M898.7 261.2h0M900.0 239.2h0M899.8 238.0h0M899.7 240.6h0M900.0 263.2h0M899.7 264.1h0M899.9 261.3h0M901.2 237.1h0M900.7 237.3h0M900.9 238.8h0M901.4 264.4h0M901.1 265.3h0M901.2 261.1h0M901.8 240.3h0M902.2 240.5h0M901.5 240.7h0M901.8 268.3h0M901.9 266.1h0M902.0 271.2h0M903.1 236.3h0M902.7 238.2h0M903.0 240.5h0M903.2 268.6h0M902.9 263.5h0M903.5 261.6h0M903.9 236.8h0M903.8 236.5h0M904.2 238.3h0M903.8 234.3h0M904.2 261.1h0M903.7 268.2h0M903.9 261.1h0M904.1 262.0h0M905.3 227.0h0M905.3 231.0h0M905.0 233.2h0M904.6 231.7h0M905.0 266.5h0M904.9 266.2h0M905.2 275.6h0M904.8 265.4h0M905.7 226.8h0M906.5 218.5h0M906.0 223.1h0M905.6 225.1h0M906.2 264.5h0M905.7 286.5h0M906.3 270.9h0M906.2 280.2h0M906.7 223.0h0M907.2 222.7h0M906.7 215.4h0M907.3 221.0h0M907.1 273.2h0M906.7 269.1h0M907.4 285.5h0M907.1 283.1h0M907.6 214.0h0M907.5 201.1h0M908.4 208.0h0M908.0 210.3h0M907.9 277.3h0M907.6 273.7h0M908.1 276.2h0M908.0 276.9h0M909.3 207.1h0M909.5 185.4h0M909.4 206.6h0M909.4 203.1h0M908.6 281.9h0M908.6 278.0h0M909.0 276.9h0M908.8 286.7h0M909.9 205.3h0M909.5 198.6h0M909.8 202.9h0M909.6 203.5h0M909.7 270.3h0M910.2 285.8h0M909.9 277.3h0M910.4 280.1h0M911.4 192.6h0M910.6 197.7h0M911.4 205.7h0M910.7 207.2h0M911.1 283.1h0M911.0 270.8h0M911.2 278.5h0M911.4 274.0h0M912.0 194.5h0M912.4 208.2h0M911.9 168.8h0M911.7 197.0h0M912.0 281.2h0M911.7 279.2h0M911.7 284.3h0M912.4 272.2h0M913.3 202.4h0M913.0 204.6h0M912.9 203.3h0M912.6 202.8h0M912.7 273.0h0M913.2 273.7h0M913.2 295.6h0M912.9 292.1h0M913.6 199.7h0M914.1 203.9h0M914.0 202.8h0M913.6 198.2h0M914.4 285.0h0M914.1 308.4h0M914.1 274.5h0M914.0 288.6h0M915.1 195.9h0M914.8 202.0h0M914.6 197.2h0M915.1 181.5h0M914.7 283.5h0M915.4 279.2h0M914.6 281.4h0M915.4 277.8h0M916.5 203.2h0M916.2 172.2h0M916.2 199.1h0M916.3 189.3h0M915.9 314.8h0M915.8 327.8h0M916.3 276.3h0M915.8 278.5h0M917.0 201.5h0M917.0 178.2h0M917.2 191.4h0M917.3 197.6h0M916.8 303.2h0M917.1 275.0h0M917.0 277.4h0M917.0 284.9h0M917.6 192.2h0M917.5 200.3h0M918.2 198.6h0M918.0 195.9h0M918.2 282.8h0M918.3 278.5h0M917.8 301.4h0M918.4 274.7h0M918.9 170.8h0M919.1 190.7h0M918.9 172.9h0M918.6 188.1h0M918.9 288.1h0M919.4 302.9h0M919.0 280.5h0M919.5 274.6h0M919.9 182.1h0M920.1 191.2h0M920.5 175.6h0M919.6 176.4h0M919.8 276.0h0M919.9 288.7h0M920.0 276.2h0M919.9 298.2h0M920.9 165.4h0M921.1 169.4h0M920.9 176.5h0M920.9 186.8h0M920.9 285.9h0M920.9 290.7h0M921.4 282.1h0M920.7 276.5h0M922.5 193.9h0M921.7 197.5h0M921.6 197.5h0M922.0 189.9h0M921.7 296.3h0M921.9 287.1h0M922.4 283.3h0M922.3 283.3h0M923.3 193.9h0M922.7 197.5h0M923.3 171.4h0M923.4 163.2h0M923.1 305.0h0M923.3 287.3h0M923.3 279.9h0M922.9 280.8h0M924.4 151.5h0M923.7 170.2h0M924.4 184.8h0M924.2 196.7h0M924.0 311.9h0M924.5 292.4h0M923.9 286.2h0M924.1 295.2h0M924.9 196.8h0M925.4 180.7h0M924.5 181.9h0M925.0 196.4h0M924.7 296.1h0M924.8 279.3h0M924.6 281.1h0M925.0 320.0h0M925.7 189.8h0M925.8 161.1h0M926.0 194.4h0M926.5 194.4h0M926.1 284.8h0M925.9 282.2h0M926.0 286.4h0M925.9 281.7h0M927.0 169.7h0M927.5 152.5h0M927.0 144.3h0M926.6 192.2h0M926.8 330.1h0M927.4 293.2h0M926.5 281.2h0M926.6 285.9h0M928.3 181.6h0M927.7 195.9h0M927.6 189.3h0M927.9 194.0h0M927.6 282.7h0M927.6 284.6h0M928.1 364.1h0M928.2 295.0h0M929.5 194.4h0M929.2 164.0h0M929.2 170.1h0M929.0 160.8h0M928.8 284.9h0M928.7 302.7h0M929.4 285.5h0M929.0 307.1h0M930.2 195.7h0M929.6 174.7h0M930.3 186.3h0M929.5 192.8h0M930.0 313.1h0M930.3 287.2h0M929.7 329.0h0M930.1 371.0h0M931.2 186.6h0M931.2 193.2h0M931.3 175.5h0M930.8 192.5h0M931.3 285.2h0M931.2 292.2h0M930.7 284.1h0M931.0 303.0h0M932.0 189.1h0M931.6 165.7h0M931.7 187.0h0M932.3 162.3h0M932.3 316.6h0M932.1 292.6h0M931.8 291.3h0M932.4 320.7h0M932.9 184.8h0M933.3 186.4h0M932.5 191.2h0M932.5 180.4h0M932.8 295.8h0M933.2 298.3h0M932.8 310.4h0M933.2 297.9h0M933.7 174.9h0M933.9 168.0h0M934.2 180.5h0M933.9 196.6h0M934.3 299.7h0M933.5 299.9h0M934.2 300.7h0M934.3 334.6h0M934.8 165.1h0M934.7 148.5h0M935.4 191.4h0M934.9 182.9h0M934.8 298.0h0M934.9 293.0h0M934.9 302.3h0M935.0 287.9h0M935.8 188.8h0M936.2 158.8h0M935.9 146.6h0M936.3 176.6h0M936.2 323.4h0M935.6 293.9h0M936.4 299.2h0M936.4 318.4h0M936.7 162.4h0M937.4 159.0h0M937.1 182.4h0M937.4 194.9h0M936.5 292.4h0M937.2 300.2h0M936.8 305.6h0M937.4 297.6h0M937.7 191.1h0M938.2 183.2h0M938.0 188.6h0M938.0 178.0h0M938.0 314.1h0M937.7 311.4h0M937.7 315.9h0M938.3 316.5h0M938.7 174.5h0M938.6 192.6h0M939.2 173.2h0M938.6 293.4h0M939.4 307.7h0M939.2 301.6h0M938.6 296.3h0M940.2 172.3h0M940.1 194.8h0M939.7 194.6h0M940.3 175.8h0M939.7 324.4h0M940.3 299.9h0M940.1 294.9h0M939.6 294.0h0M940.6 194.1h0M940.6 192.2h0M940.6 187.6h0M941.0 179.3h0M941.2 299.2h0M941.4 307.8h0M941.3 294.1h0M941.4 333.3h0M942.5 165.5h0M941.6 166.0h0M941.8 187.6h0M942.3 189.8h0M942.5 317.7h0M942.5 314.3h0M942.0 297.6h0M941.9 292.2h0M943.4 177.0h0M942.5 168.8h0M942.6 193.8h0M943.0 186.4h0M942.5 298.3h0M942.9 351.6h0M943.5 326.1h0M943.5 298.0h0M943.8 188.3h0M943.8 169.4h0M944.1 190.7h0M944.4 191.9h0M944.1 302.4h0M944.1 300.3h0M944.3 293.1h0M943.8 295.9h0M944.8 170.9h0M944.5 165.5h0M944.7 190.9h0M944.8 107.9h0M945.4 327.5h0M944.7 298.5h0M944.8 348.1h0M944.7 304.5h0M945.5 147.7h0M945.7 184.6h0M945.7 186.7h0M946.1 157.0h0M945.9 311.4h0M946.0 329.1h0M945.5 336.1h0M945.7 322.2h0M946.5 185.9h0M946.7 172.7h0M947.1 173.6h0M946.6 164.7h0M946.6 302.1h0M947.5 303.0h0M947.0 303.0h0M946.8 298.4h0M948.1 163.5h0M948.3 179.1h0M947.9 196.1h0M947.6 167.1h0M947.8 297.5h0M947.8 359.1h0M947.6 301.2h0M948.2 309.7h0M948.8 193.4h0M949.4 151.6h0M948.5 169.6h0M949.5 133.2h0M948.9 302.4h0M948.9 311.1h0M948.9 308.1h0M949.4 315.8h0M950.3 128.7h0M950.5 168.0h0M950.4 192.2h0M949.5 189.4h0M950.0 321.0h0M949.7 303.7h0M950.0 301.2h0M949.7 299.4h0M951.4 133.0h0M951.3 175.1h0M950.6 184.5h0M951.3 193.7h0M950.7 302.4h0M951.5 329.9h0M951.0 301.8h0M950.7 335.2h0M951.7 175.6h0M951.6 176.9h0M951.7 183.1h0M952.2 169.3h0M952.5 305.4h0M952.2 306.4h0M952.1 298.0h0M952.1 310.9h0M952.8 170.3h0M953.0 192.0h0M953.1 179.2h0M952.8 157.4h0M953.3 301.6h0M952.5 303.4h0M953.2 320.8h0M953.1 309.5h0M954.0 176.7h0M953.9 192.2h0M954.0 184.2h0M954.2 115.3h0M954.2 300.1h0M954.4 314.4h0M954.2 295.4h0M954.1 297.1h0M954.6 160.1h0M954.9 183.9h0M955.3 151.3h0M954.5 181.8h0M954.7 295.2h0M954.9 312.4h0M954.8 296.3h0M954.6 301.2h0M956.5 183.6h0M955.7 166.4h0M955.8 176.4h0M955.6 178.0h0M956.0 302.9h0M956.1 305.1h0M956.2 310.7h0M955.8 298.6h0M957.1 140.9h0M957.2 143.3h0M956.7 192.1h0M956.7 190.1h0M956.9 308.0h0M956.8 304.3h0M957.5 309.6h0M956.6 319.3h0M958.3 166.1h0M957.8 179.7h0M957.7 166.4h0M957.8 191.0h0M957.6 303.0h0M958.1 296.0h0M958.1 296.6h0M958.2 323.3h0M959.0 191.6h0M958.9 170.2h0M959.3 190.2h0M958.5 141.4h0M959.4 316.1h0M958.9 302.1h0M958.8 310.2h0M958.6 348.2h0M960.2 191.6h0M960.4 191.5h0M959.6 148.6h0M960.4 186.6h0M960.1 310.0h0M960.4 304.8h0M960.4 314.0h0M959.8 337.3h0M961.2 120.9h0M961.3 174.6h0M961.4 162.6h0M961.1 175.7h0M961.1 309.8h0M960.6 310.7h0M961.0 316.6h0M960.6 298.7h0M962.5 165.1h0M962.2 129.1h0M962.0 188.4h0M962.0 192.3h0M961.8 296.8h0M962.1 307.1h0M962.1 303.1h0M962.3 303.5h0M962.7 144.7h0M962.9 172.8h0M963.5 193.8h0M962.7 190.6h0M962.6 298.9h0M962.5 307.9h0M963.2 334.1h0M962.8 305.2h0M963.6 169.7h0M963.6 174.9h0M964.3 164.5h0M964.0 190.9h0M963.9 302.1h0M963.6 314.0h0M963.8 308.7h0M964.1 327.8h0M964.7 181.2h0M964.9 176.8h0M965.2 183.4h0M964.7 108.1h0M965.4 312.1h0M964.8 309.1h0M965.3 313.5h0M965.4 303.1h0M966.3 192.2h0M965.8 166.9h0M966.2 177.7h0M965.7 170.5h0M966.0 319.2h0M966.0 318.9h0M966.2 309.4h0M965.8 311.8h0M966.9 180.9h0M967.2 171.8h0M966.6 152.6h0M966.5 113.9h0M967.3 304.7h0M967.1 302.0h0M966.7 304.4h0M967.5 302.9h0M968.2 192.6h0M967.8 146.9h0M967.6 192.7h0M967.7 190.3h0M967.7 325.3h0M967.5 306.8h0M967.9 296.8h0M968.2 310.6h0M968.7 171.7h0M969.4 149.1h0M968.7 180.1h0M969.3 189.8h0M969.1 300.1h0M969.1 300.4h0M969.5 298.2h0M968.7 304.4h0M969.9 183.1h0M970.0 184.2h0M969.7 185.9h0M970.1 179.1h0M969.9 314.2h0M970.2 296.9h0M969.7 319.4h0M970.3 309.8h0M970.8 167.8h0M971.0 174.2h0M971.4 171.7h0M970.7 186.8h0M970.7 307.7h0M971.2 300.4h0M970.6 298.4h0M971.0 298.7h0M972.1 192.5h0M971.9 151.4h0M972.4 170.9h0M971.9 166.2h0M972.3 295.1h0M971.7 306.6h0M972.3 333.8h0M972.1 311.0h0M973.2 187.9h0M973.0 176.4h0M973.1 184.4h0M973.2 171.7h0M973.2 298.9h0M973.0 306.2h0M973.4 317.6h0M973.1 319.4h0M974.3 180.9h0M974.2 165.3h0M974.2 148.1h0M974.1 188.6h0M974.2 293.7h0M974.1 296.1h0M974.5 297.1h0M974.0 306.9h0M975.4 191.4h0M974.6 162.8h0M975.3 143.4h0M974.9 177.0h0M974.9 304.1h0M974.6 303.7h0M974.6 317.1h0M975.5 293.0h0M976.4 172.2h0M975.8 190.7h0M976.5 184.8h0M976.3 154.8h0M976.2 360.6h0M975.8 303.6h0M975.7 360.7h0M975.9 314.2h0M976.6 186.3h0M976.5 189.4h0M976.8 183.7h0M977.4 167.1h0M976.6 300.7h0M976.7 350.0h0M977.1 334.5h0M977.5 305.3h0M978.1 182.8h0M978.4 172.8h0M977.6 182.6h0M977.9 170.2h0M978.1 299.2h0M978.4 314.1h0M977.7 312.4h0M978.3 317.1h0M979.4 189.6h0M978.9 181.1h0M979.1 161.5h0M978.7 127.6h0M979.1 302.4h0M978.9 325.6h0M978.7 295.8h0M979.5 299.9h0M980.0 187.1h0M980.5 186.4h0M979.6 185.5h0M979.6 189.2h0M980.2 302.0h0M979.8 296.9h0M980.1 292.3h0M979.7 296.9h0M981.1 174.8h0M980.7 157.6h0M980.5 185.7h0M980.5 156.7h0M981.2 301.7h0M981.0 357.7h0M981.5 328.6h0M980.7 329.2h0M981.7 186.8h0M982.5 186.3h0M982.4 170.7h0M981.6 162.7h0M981.7 319.2h0M982.5 295.1h0M982.2 311.1h0M981.6 303.4h0M982.6 187.0h0M982.8 188.8h0M982.5 167.6h0M982.7 188.1h0M983.4 306.7h0M982.6 291.8h0M983.0 295.7h0M982.8 322.2h0M984.1 184.0h0M984.5 146.3h0M984.5 186.3h0M983.9 185.2h0M984.2 301.0h0M984.5 323.4h0M984.3 335.5h0M984.1 315.1h0M984.9 180.8h0M984.5 127.3h0M985.4 138.4h0M985.3 185.0h0M984.7 293.9h0M985.1 338.4h0M984.6 299.0h0M984.8 311.5h0M985.9 183.2h0M986.1 185.3h0M986.3 161.8h0M985.9 175.6h0M985.8 301.0h0M985.9 314.1h0M986.0 310.6h0M986.4 306.3h0M986.8 173.2h0M986.6 161.5h0M987.2 183.2h0M987.2 168.4h0M987.4 307.1h0M986.7 296.0h0M987.5 297.9h0M987.4 356.9h0M988.2 183.1h0M988.3 170.1h0M988.4 160.4h0M988.4 174.9h0M988.0 294.9h0M988.2 293.1h0M987.5 301.0h0M988.2 304.5h0M989.4 161.9h0M989.3 168.7h0M988.8 187.5h0M989.5 157.3h0M989.3 350.5h0M988.9 312.5h0M989.4 312.0h0M988.7 296.1h0M989.7 153.9h0M989.9 166.7h0M989.9 180.7h0M989.9 176.2h0M989.8 314.6h0M989.5 305.1h0M989.9 296.9h0M990.4 299.8h0M990.5 180.0h0M990.6 139.2h0M990.8 184.1h0M990.7 127.7h0M990.9 303.3h0M991.2 314.9h0M990.7 293.0h0M990.6 313.2h0M992.0 160.8h0M992.4 177.5h0M992.4 178.9h0M992.0 188.7h0M992.1 299.5h0M991.6 305.1h0M992.0 303.9h0M992.0 301.1h0M993.2 181.9h0M992.8 169.0h0M993.2 177.6h0M992.5 183.6h0M993.5 297.7h0M993.2 297.7h0M992.7 312.0h0M993.2 321.2h0M993.8 188.6h0M994.2 164.1h0M994.2 186.8h0M993.7 187.1h0M993.8 292.9h0M994.2 324.1h0M994.5 311.0h0M994.1 326.5h0M995.2 183.8h0M995.1 170.8h0M995.0 168.5h0M994.7 173.4h0M994.8 303.0h0M995.0 316.7h0M995.2 311.6h0M994.9 316.0h0M995.5 180.5h0M996.5 174.1h0M995.9 159.8h0M996.4 186.2h0M995.8 320.4h0M995.7 331.2h0M996.0 315.6h0M995.6 293.3h0M996.7 188.2h0M996.7 187.2h0M997.4 180.1h0M996.5 300.8h0M997.5 296.7h0M997.2 303.9h0M997.1 296.5h0M998.2 161.9h0M997.5 120.2h0M997.7 165.3h0M997.8 182.4h0M997.5 306.5h0M998.2 343.5h0M998.1 294.1h0M997.5 317.8h0M999.3 145.1h0M999.1 150.9h0M999.3 176.2h0M999.1 175.7h0M998.9 293.4h0M998.6 301.1h0M998.8 312.7h0M998.8 345.7h0M1000.2 173.6h0M999.7 181.7h0M1000.3 167.5h0M1000.2 177.3h0M999.8 311.3h0M1000.2 296.9h0M999.6 295.9h0M1000.0 297.8h0M1000.8 164.0h0M1001.1 172.1h0M1000.6 177.2h0M1000.8 177.6h0M1001.4 293.3h0M1001.0 299.8h0M1001.2 304.9h0M1000.5 298.6h0M1001.5 179.9h0M1002.2 154.8h0M1002.1 172.6h0M1002.3 156.1h0M1001.6 306.2h0M1002.4 305.7h0M1001.9 297.0h0M1001.6 292.4h0M1002.8 171.3h0M1003.1 187.1h0M1002.8 183.9h0M1003.2 174.1h0M1002.9 329.5h0M1003.3 313.6h0M1003.4 300.5h0M1002.8 292.2h0M1003.6 163.3h0M1003.9 184.6h0M1004.0 187.0h0M1003.9 175.7h0M1003.7 296.8h0M1003.9 297.9h0M1003.6 296.7h0M1003.8 296.5h0M1005.3 169.3h0M1004.7 164.3h0M1005.4 152.3h0M1005.5 172.4h0M1005.4 296.5h0M1005.5 296.6h0M1004.7 323.5h0M1004.8 299.4h0M1006.5 142.8h0M1006.3 160.1h0M1005.6 173.1h0M1005.8 141.6h0M1006.3 328.9h0M1006.4 297.3h0M1006.4 306.6h0M1006.5 340.3h0M1007.3 140.7h0M1006.5 174.0h0M1006.6 135.5h0M1007.2 170.8h0M1006.7 315.0h0M1007.1 309.5h0M1006.9 305.1h0M1007.0 338.8h0M1008.2 181.3h0M1008.0 180.7h0M1008.1 134.2h0M1008.1 152.7h0M1008.2 295.3h0M1008.0 321.2h0M1007.7 294.5h0M1007.5 296.3h0M1009.2 172.3h0M1008.7 180.7h0M1009.5 178.0h0M1009.2 181.4h0M1008.9 297.6h0M1009.4 306.7h0M1009.0 312.7h0M1008.7 316.1h0M1010.3 123.9h0M1009.6 167.8h0M1010.3 183.8h0M1009.7 145.0h0M1010.3 294.7h0M1009.9 324.3h0M1010.2 310.0h0M1010.4 293.6h0M1010.9 172.3h0M1010.6 149.4h0M1011.1 160.8h0M1010.6 173.3h0M1010.8 338.1h0M1011.2 320.6h0M1011.1 298.3h0M1011.3 307.5h0M1012.1 181.7h0M1011.5 183.4h0M1011.7 162.5h0M1011.7 180.4h0M1012.1 296.0h0M1012.0 309.1h0M1012.2 302.7h0M1011.7 328.1h0M1012.8 180.7h0M1012.9 142.2h0M1012.9 170.7h0M1012.7 175.6h0M1012.6 319.1h0M1012.9 315.9h0M1013.2 292.5h0M1012.9 297.2h0M1013.9 175.4h0M1014.1 145.3h0M1013.9 167.6h0M1014.4 148.7h0M1014.1 308.7h0M1014.1 304.5h0M1013.5 300.2h0M1013.5 325.4h0M1015.1 184.7h0M1015.0 186.9h0M1014.9 109.2h0M1015.4 183.8h0M1015.1 299.1h0M1014.5 293.9h0M1015.4 300.1h0M1015.3 299.4h0M1016.0 184.2h0M1016.4 180.2h0M1016.0 180.9h0M1016.2 128.2h0M1016.1 314.3h0M1015.6 303.9h0M1015.6 328.8h0M1015.5 301.8h0M1017.0 163.1h0M1017.4 165.5h0M1016.7 187.6h0M1017.4 141.0h0M1016.6 300.8h0M1016.8 303.4h0M1016.8 295.1h0M1017.1 298.4h0M1017.6 183.1h0M1017.8 187.9h0M1018.3 129.9h0M1017.8 162.1h0M1018.5 320.0h0M1018.5 310.8h0M1018.2 310.1h0M1018.0 309.9h0M1018.8 181.8h0M1019.0 168.2h0M1019.0 189.6h0M1018.5 158.0h0M1018.9 313.7h0M1019.1 294.4h0M1019.3 295.7h0M1018.7 369.1h0M1020.3 191.7h0M1020.0 173.3h0M1019.8 136.8h0M1019.6 179.9h0M1020.0 296.6h0M1020.2 294.1h0M1019.6 315.3h0M1019.8 312.4h0M1020.5 170.7h0M1021.4 163.0h0M1021.2 140.6h0M1021.0 152.2h0M1021.4 311.4h0M1021.0 319.3h0M1020.6 311.4h0M1020.9 336.2h0M1021.5 190.3h0M1022.0 178.1h0M1021.8 160.9h0M1022.3 179.7h0M1021.7 311.1h0M1021.9 307.8h0M1022.3 303.6h0M1022.0 294.0h0M1023.0 188.7h0M1023.1 193.2h0M1023.3 189.1h0M1023.1 183.5h0M1023.3 310.7h0M1022.6 340.5h0M1023.3 294.6h0M1023.5 304.1h0M1023.6 188.1h0M1023.9 160.3h0M1024.3 176.0h0M1023.8 172.9h0M1024.4 300.3h0M1024.1 299.1h0M1023.6 297.3h0M1024.2 310.0h0M1025.2 191.2h0M1025.1 183.3h0M1025.3 185.8h0M1024.6 191.3h0M1024.7 299.7h0M1024.8 322.8h0M1025.5 304.0h0M1024.9 300.4h0M1025.8 156.0h0M1025.6 192.1h0M1026.5 189.1h0M1026.4 149.9h0M1026.3 298.8h0M1026.3 329.3h0M1026.4 355.1h0M1025.8 334.9h0M1027.5 155.8h0M1026.6 193.4h0M1027.1 174.7h0M1026.9 172.5h0M1027.5 344.6h0M1027.2 344.9h0M1027.4 323.5h0M1026.8 306.8h0M1028.0 194.3h0M1027.6 184.9h0M1028.3 185.9h0M1028.0 195.8h0M1027.8 301.6h0M1027.8 306.6h0M1027.8 320.5h0M1027.5 317.6h0M1029.1 174.7h0M1029.1 187.2h0M1028.6 189.7h0M1028.8 195.1h0M1028.5 320.3h0M1028.7 296.7h0M1028.6 305.4h0M1028.9 295.4h0M1029.8 177.0h0M1029.6 170.4h0M1029.6 140.1h0M1029.6 195.1h0M1030.2 315.1h0M1030.5 299.1h0M1029.8 295.6h0M1029.7 296.0h0M1031.0 175.9h0M1031.4 194.4h0M1030.7 187.8h0M1031.0 195.9h0M1030.7 303.7h0M1031.4 312.4h0M1030.9 301.3h0M1031.0 315.6h0M1031.8 192.3h0M1032.3 172.6h0M1032.4 188.4h0M1032.4 184.7h0M1031.9 303.0h0M1032.2 335.8h0M1032.2 321.3h0M1032.5 303.1h0M1033.4 195.3h0M1032.9 167.7h0M1032.7 181.7h0M1033.1 184.1h0M1032.8 295.4h0M1033.4 312.8h0M1032.9 296.5h0M1032.5 315.7h0M1034.0 184.8h0M1034.2 190.2h0M1033.9 191.6h0M1033.8 198.5h0M1033.6 297.4h0M1033.9 295.0h0M1033.9 350.5h0M1034.2 298.9h0M1035.2 198.3h0M1035.2 195.1h0M1034.8 189.7h0M1034.8 176.8h0M1034.6 316.8h0M1034.7 320.5h0M1035.1 318.3h0M1035.0 296.4h0M1035.7 198.9h0M1036.3 184.6h0M1035.5 182.2h0M1036.4 186.8h0M1035.7 304.8h0M1035.7 297.4h0M1035.9 340.7h0M1035.5 321.9h0M1037.4 194.6h0M1037.4 181.4h0M1037.0 191.9h0M1037.3 198.3h0M1037.1 296.9h0M1037.2 303.9h0M1036.8 318.3h0M1037.2 306.6h0M1037.9 198.4h0M1038.3 184.2h0M1038.2 199.3h0M1038.1 198.6h0M1037.7 311.9h0M1038.3 298.2h0M1037.6 299.2h0M1038.3 317.9h0M1039.2 148.6h0M1039.3 191.4h0M1038.6 169.4h0M1038.9 193.1h0M1038.8 327.3h0M1038.7 309.4h0M1038.9 345.9h0M1038.6 299.1h0M1039.9 180.9h0M1039.9 180.3h0M1039.6 192.9h0M1039.8 156.3h0M1039.6 308.8h0M1040.1 382.2h0M1039.8 297.3h0M1039.7 312.7h0M1040.7 185.1h0M1041.5 187.5h0M1040.5 196.6h0M1040.9 154.0h0M1041.4 343.2h0M1040.6 299.1h0M1041.1 346.2h0M1040.9 302.7h0M1042.2 183.9h0M1041.9 177.7h0M1042.1 198.0h0M1041.8 181.7h0M1042.2 296.6h0M1042.0 302.3h0M1042.1 308.6h0M1041.9 294.5h0M1042.9 162.3h0M1043.2 188.2h0M1043.2 190.2h0M1043.0 169.1h0M1042.9 311.7h0M1043.4 315.2h0M1043.4 302.7h0M1043.4 309.4h0M1043.8 153.7h0M1043.6 195.2h0M1044.0 197.3h0M1044.1 191.7h0M1044.1 325.4h0M1044.1 317.2h0M1044.0 294.4h0M1044.1 349.4h0M1045.3 186.6h0M1044.6 181.1h0M1045.5 152.7h0M1044.7 170.3h0M1044.7 308.3h0M1045.0 312.4h0M1045.3 336.3h0M1044.6 317.0h0M1045.5 188.4h0M1046.3 170.0h0M1046.2 132.2h0M1045.9 191.6h0M1046.1 308.7h0M1045.9 316.2h0M1045.8 327.6h0M1046.4 300.0h0M1047.3 193.6h0M1046.9 188.1h0M1046.8 182.9h0M1046.6 183.6h0M1046.5 294.7h0M1046.9 300.0h0M1046.8 300.6h0M1046.7 309.6h0M1048.0 166.6h0M1047.8 199.3h0M1048.1 198.3h0M1048.5 170.2h0M1048.5 296.7h0M1047.8 305.7h0M1047.6 299.4h0M1048.1 294.6h0M1048.8 175.5h0M1049.3 193.0h0M1049.4 194.9h0M1048.6 185.5h0M1048.6 326.1h0M1048.8 297.1h0M1049.1 295.8h0M1048.6 300.5h0M1050.5 196.6h0M1049.8 187.9h0M1049.9 166.2h0M1050.0 197.6h0M1050.2 298.5h0M1050.4 315.3h0M1049.7 304.7h0M1049.6 298.6h0M1050.7 181.2h0M1050.6 181.5h0M1051.2 196.8h0M1050.5 196.9h0M1051.1 306.3h0M1050.7 300.3h0M1051.5 312.1h0M1051.0 308.6h0M1051.8 177.1h0M1051.7 193.3h0M1052.0 178.6h0M1052.1 193.1h0M1052.1 306.2h0M1051.8 309.6h0M1052.3 296.8h0M1052.1 314.2h0M1052.7 195.6h0M1053.5 190.5h0M1052.7 164.4h0M1052.6 198.1h0M1052.6 310.2h0M1053.2 293.0h0M1052.9 295.4h0M1053.0 303.5h0M1053.6 191.5h0M1054.0 183.2h0M1053.5 194.5h0M1054.3 193.7h0M1054.3 297.3h0M1053.6 322.3h0M1053.5 328.6h0M1054.2 298.7h0M1054.6 188.3h0M1055.2 192.0h0M1055.0 189.5h0M1054.9 185.8h0M1055.2 326.7h0M1055.0 326.0h0M1054.5 297.3h0M1054.7 311.1h0M1056.4 180.1h0M1056.2 162.0h0M1056.3 196.8h0M1056.3 198.4h0M1056.0 296.8h0M1055.8 306.1h0M1055.6 330.6h0M1055.8 294.0h0M1056.6 174.5h0M1057.4 138.4h0M1057.0 193.8h0M1057.5 200.6h0M1057.1 311.1h0M1057.0 315.6h0M1056.9 294.4h0M1057.0 301.1h0M1058.4 158.0h0M1058.3 199.5h0M1057.6 193.3h0M1057.7 192.3h0M1058.4 330.5h0M1058.1 359.9h0M1057.6 318.7h0M1058.3 312.1h0M1059.4 193.7h0M1059.2 197.9h0M1059.3 178.5h0M1059.1 200.1h0M1058.6 304.5h0M1059.3 314.4h0M1059.4 296.8h0M1059.0 294.2h0M1060.1 189.0h0M1059.6 154.9h0M1059.8 198.1h0M1060.0 198.1h0M1059.6 300.9h0M1060.2 305.5h0M1060.2 303.4h0M1060.2 295.7h0M1060.8 192.2h0M1061.5 188.2h0M1060.8 187.1h0M1061.0 184.8h0M1061.1 300.2h0M1061.1 337.9h0M1061.3 313.4h0M1061.0 299.0h0M1061.6 188.6h0M1061.5 179.8h0M1061.6 176.9h0M1062.3 171.1h0M1062.1 349.2h0M1061.9 297.5h0M1061.9 303.1h0M1062.4 296.2h0M1063.4 182.7h0M1063.0 195.1h0M1063.0 179.2h0M1063.0 189.4h0M1063.0 305.6h0M1062.8 304.2h0M1063.1 298.3h0M1062.8 296.4h0M1063.9 162.2h0M1063.6 195.0h0M1063.9 194.9h0M1063.9 200.1h0M1064.2 336.8h0M1063.6 303.8h0M1063.7 295.8h0M1063.6 300.3h0M1064.5 192.8h0M1064.6 169.1h0M1065.1 171.3h0M1065.2 196.9h0M1065.0 295.2h0M1064.6 297.2h0M1064.8 302.8h0M1064.6 302.6h0M1066.1 198.2h0M1066.4 200.7h0M1065.8 167.7h0M1065.9 194.0h0M1066.4 327.2h0M1065.5 298.8h0M1066.2 312.3h0M1066.3 309.6h0M1066.7 202.2h0M1067.0 200.3h0M1066.6 201.0h0M1067.2 194.1h0M1067.0 300.7h0M1067.4 320.1h0M1066.5 295.9h0M1066.6 309.4h0M1067.8 189.6h0M1068.3 138.5h0M1067.9 181.5h0M1068.5 172.9h0M1068.2 304.1h0M1068.2 316.2h0M1068.0 305.5h0M1068.1 298.6h0M1068.7 204.0h0M1069.3 179.8h0M1068.6 178.2h0M1069.4 194.8h0M1068.8 308.1h0M1068.5 294.7h0M1069.1 316.8h0M1069.2 300.6h0M1070.5 176.0h0M1069.5 200.4h0M1069.9 171.8h0M1070.1 184.5h0M1069.6 307.4h0M1070.1 314.3h0M1069.6 320.3h0M1070.1 297.6h0M1071.5 161.3h0M1071.5 174.9h0M1071.4 196.6h0M1071.0 197.4h0M1070.6 300.0h0M1071.2 318.1h0M1070.6 317.5h0M1071.0 318.1h0M1072.5 200.1h0M1072.2 152.2h0M1072.0 196.2h0M1072.1 153.1h0M1072.0 296.4h0M1072.1 311.3h0M1071.6 300.2h0M1072.2 301.9h0M1072.5 199.7h0M1072.6 185.8h0M1072.7 150.1h0M1072.8 196.8h0M1072.6 301.9h0M1072.9 309.5h0M1073.0 306.2h0M1072.5 301.3h0M1074.2 176.0h0M1074.2 201.8h0M1074.4 195.1h0M1074.3 172.0h0M1074.2 305.8h0M1074.1 293.7h0M1073.8 295.9h0M1075.4 184.0h0M1075.4 194.5h0M1075.3 186.0h0M1074.5 183.8h0M1075.4 302.0h0M1075.4 293.3h0M1075.0 328.2h0M1074.6 297.5h0M1076.4 194.9h0M1075.9 198.7h0M1076.2 198.3h0M1076.3 198.1h0M1076.4 297.9h0M1076.2 305.2h0M1076.1 296.1h0M1075.9 310.3h0M1077.2 199.8h0M1077.3 193.1h0M1077.4 193.9h0M1077.1 162.2h0M1077.2 292.6h0M1076.5 307.9h0M1077.0 311.3h0M1076.9 305.2h0M1077.6 199.0h0M1078.5 192.7h0M1078.3 183.0h0M1078.1 199.0h0M1078.0 304.7h0M1078.3 292.5h0M1078.2 309.5h0M1078.5 294.7h0M1078.8 195.8h0M1079.2 179.7h0M1079.3 174.4h0M1079.1 190.7h0M1079.0 294.2h0M1078.9 333.2h0M1078.8 299.5h0M1078.9 338.4h0M1080.3 188.3h0M1080.3 195.5h0M1080.2 149.9h0M1079.8 193.1h0M1079.6 298.1h0M1080.4 294.1h0M1080.4 294.2h0M1079.9 323.5h0M1080.7 199.2h0M1081.0 176.0h0M1081.2 179.9h0M1081.1 177.3h0M1080.7 303.2h0M1081.2 304.9h0M1081.1 300.9h0M1080.7 295.9h0M1081.9 194.2h0M1082.4 189.5h0M1082.5 156.3h0M1081.6 171.0h0M1081.5 320.6h0M1082.0 300.6h0M1082.1 293.9h0M1082.1 325.3h0M1082.6 184.7h0M1082.9 193.3h0M1083.2 139.8h0M1082.5 197.8h0M1082.9 303.6h0M1082.6 310.2h0M1083.0 296.0h0M1083.5 297.7h0M1083.6 191.2h0M1084.2 197.8h0M1084.2 192.3h0M1084.1 188.1h0M1084.5 289.0h0M1084.3 302.2h0M1083.6 302.7h0M1083.9 292.3h0M1085.5 188.5h0M1084.8 175.6h0M1085.2 166.4h0M1084.8 172.2h0M1084.7 349.3h0M1084.6 317.1h0M1085.2 314.7h0M1085.1 290.5h0M1086.5 179.0h0M1086.5 169.0h0M1085.9 178.9h0M1086.3 175.5h0M1086.0 316.7h0M1085.7 304.9h0M1086.2 312.6h0M1085.7 304.6h0M1087.2 188.6h0M1086.6 193.7h0M1087.4 194.3h0M1087.3 153.0h0M1087.0 289.0h0M1086.9 297.0h0M1086.5 292.5h0M1087.1 294.9h0M1087.6 187.4h0M1088.4 179.4h0M1087.8 190.1h0M1088.1 169.5h0M1088.2 298.4h0M1087.6 319.2h0M1088.3 295.1h0M1087.7 298.3h0M1089.0 179.7h0M1089.4 193.7h0M1088.8 154.8h0M1088.7 192.8h0M1089.1 302.0h0M1089.1 288.1h0M1088.9 287.6h0M1088.9 299.8h0M1089.6 187.1h0M1089.9 172.4h0M1089.9 192.8h0M1090.1 186.2h0M1090.0 292.2h0M1090.3 305.6h0M1090.3 300.0h0M1089.7 291.3h0M1090.5 175.4h0M1090.5 188.8h0M1090.7 144.8h0M1090.8 195.3h0M1091.0 317.8h0M1091.0 291.9h0M1091.3 295.2h0M1091.3 295.4h0M1092.3 190.3h0M1092.1 191.0h0M1092.0 179.7h0M1092.1 191.5h0M1092.4 300.0h0M1091.7 323.5h0M1092.0 291.9h0M1092.1 311.8h0M1092.6 186.6h0M1092.9 181.5h0M1093.4 189.2h0M1092.8 194.6h0M1092.6 309.7h0M1093.1 291.4h0M1093.1 305.1h0M1092.8 315.5h0M1093.6 191.8h0M1094.3 181.3h0M1094.0 193.8h0M1094.1 188.1h0M1093.7 285.9h0M1094.4 286.5h0M1093.6 294.4h0M1094.2 298.7h0M1095.2 188.4h0M1095.2 184.6h0M1095.0 158.1h0M1095.4 161.7h0M1095.1 312.7h0M1095.4 294.6h0M1094.7 289.8h0M1095.0 288.0h0M1095.5 187.4h0M1095.5 186.2h0M1095.8 190.9h0M1095.9 185.5h0M1096.1 295.2h0M1096.2 307.5h0M1096.2 288.1h0M1095.5 290.2h0M1096.7 181.0h0M1097.3 192.3h0M1096.7 190.5h0M1097.3 188.5h0M1097.2 295.2h0M1096.8 289.3h0M1096.8 300.0h0M1097.3 288.0h0M1098.4 174.1h0M1098.2 180.1h0M1098.1 126.6h0M1097.8 190.0h0M1097.7 285.0h0M1098.0 291.0h0M1097.8 289.7h0M1097.7 292.2h0M1098.8 179.2h0M1098.5 192.0h0M1099.1 174.7h0M1098.5 190.4h0M1098.5 332.0h0M1098.6 308.8h0M1099.1 285.3h0M1099.4 309.6h0M1099.8 187.6h0M1099.7 190.8h0M1099.6 191.8h0M1099.7 171.1h0M1100.4 287.9h0M1099.6 300.6h0M1100.4 311.6h0M1099.9 300.9h0M1100.5 180.9h0M1100.5 186.1h0M1100.6 190.7h0M1101.2 195.1h0M1101.0 308.2h0M1101.1 309.9h0M1101.3 287.7h0M1101.1 305.4h0M1102.4 193.3h0M1101.7 157.4h0M1102.2 184.4h0M1102.2 172.0h0M1102.3 284.9h0M1101.5 295.7h0M1101.5 334.3h0M1101.5 286.0h0M1102.8 196.2h0M1103.3 191.5h0M1103.0 181.1h0M1102.9 314.4h0M1103.0 289.9h0M1102.7 286.9h0M1103.3 285.8h0M1104.3 193.1h0M1103.7 194.9h0M1104.1 177.9h0M1103.8 164.0h0M1103.5 286.5h0M1104.3 287.7h0M1104.3 316.3h0M1103.8 309.6h0M1105.4 166.6h0M1105.3 191.4h0M1104.7 195.6h0M1104.8 173.8h0M1105.0 312.7h0M1104.5 308.7h0M1105.4 285.4h0M1104.6 292.4h0M1106.1 195.4h0M1105.7 195.0h0M1106.2 196.5h0M1106.0 171.5h0M1106.0 306.0h0M1106.1 291.6h0M1106.2 302.5h0M1105.7 293.5h0M1106.6 180.4h0M1106.9 170.2h0M1106.9 191.2h0M1107.0 181.0h0M1106.6 301.5h0M1106.5 295.7h0M1106.5 289.1h0M1107.2 296.0h0M1108.0 188.2h0M1108.2 192.2h0M1108.2 175.6h0M1108.1 195.2h0M1108.1 292.9h0M1108.0 305.3h0M1108.2 291.2h0M1108.0 301.3h0M1109.3 175.0h0M1109.0 174.9h0M1109.2 175.1h0M1109.4 185.3h0M1108.9 305.7h0M1108.5 288.2h0M1109.2 293.3h0M1108.6 295.1h0M1109.8 197.2h0M1110.5 195.3h0M1110.1 190.9h0M1110.1 187.9h0M1110.3 318.4h0M1110.5 308.0h0M1109.6 302.2h0M1110.3 283.6h0M1111.4 175.0h0M1111.1 197.5h0M1110.8 177.2h0M1111.3 182.9h0M1110.8 299.8h0M1111.0 285.4h0M1111.1 302.6h0M1111.2 289.6h0M1111.8 181.4h0M1111.8 182.6h0M1111.7 195.8h0M1111.6 158.8h0M1112.4 284.9h0M1112.1 295.4h0M1111.9 299.7h0M1112.5 290.9h0M1112.7 194.1h0M1113.3 190.3h0M1112.6 179.2h0M1113.2 195.6h0M1112.5 349.8h0M1113.2 297.3h0M1113.0 317.1h0M1112.9 285.2h0M1114.4 193.7h0M1113.7 188.8h0M1114.5 183.8h0M1114.3 191.5h0M1114.0 292.8h0M1114.0 294.3h0M1114.3 295.0h0M1114.3 299.1h0M1115.1 188.5h0M1114.7 184.9h0M1114.6 147.8h0M1114.9 196.5h0M1114.6 283.8h0M1115.0 297.6h0M1114.8 294.3h0M1114.8 301.6h0M1115.6 160.1h0M1116.2 178.5h0M1115.8 173.8h0M1116.0 178.5h0M1116.3 318.9h0M1116.4 284.3h0M1116.2 318.7h0M1116.0 305.8h0M1116.8 176.7h0M1117.4 166.9h0M1116.9 182.1h0M1117.5 179.1h0M1116.7 289.5h0M1116.7 291.5h0M1116.7 305.9h0M1117.0 291.3h0M1118.0 183.4h0M1117.6 181.7h0M1118.3 180.1h0M1118.1 192.6h0M1118.4 292.2h0M1117.9 287.2h0M1118.4 320.7h0M1118.0 286.3h0M1119.4 186.8h0M1119.1 171.0h0M1119.1 193.1h0M1118.5 192.5h0M1118.9 299.8h0M1119.0 288.2h0M1119.4 306.5h0M1118.7 287.9h0M1120.1 193.2h0M1119.8 180.1h0M1120.3 184.3h0M1120.2 187.5h0M1120.4 291.6h0M1119.7 298.5h0M1120.5 321.0h0M1119.7 286.9h0M1120.5 191.0h0M1121.2 188.2h0M1121.3 128.1h0M1121.2 185.1h0M1121.0 305.5h0M1120.9 307.2h0M1120.7 301.8h0M1120.9 285.3h0M1121.6 173.7h0M1121.9 187.5h0M1121.7 192.6h0M1121.7 193.7h0M1122.3 285.8h0M1122.5 289.3h0M1122.0 285.1h0M1122.0 301.3h0M1123.5 190.7h0M1123.1 186.4h0M1123.0 194.2h0M1123.5 178.4h0M1123.0 303.0h0M1123.2 290.2h0M1123.2 300.2h0M1123.3 305.4h0M1123.5 191.7h0M1123.7 189.4h0M1123.7 185.8h0M1124.3 166.8h0M1124.4 315.2h0M1123.7 288.2h0M1123.9 331.3h0M1123.9 295.5h0M1125.5 169.8h0M1125.4 182.9h0M1125.3 165.3h0M1125.2 194.1h0M1125.4 329.6h0M1125.5 308.3h0M1125.2 309.7h0M1124.8 288.2h0M1126.4 187.8h0M1126.0 184.4h0M1125.7 185.7h0M1126.5 178.3h0M1126.3 304.2h0M1125.9 291.2h0M1126.4 308.4h0M1126.3 314.1h0M1127.2 178.0h0M1126.7 186.1h0M1127.3 178.9h0M1127.5 192.0h0M1126.9 304.0h0M1126.6 293.8h0M1127.5 307.5h0M1127.1 288.5h0M1128.5 182.5h0M1128.2 173.1h0M1127.7 181.7h0M1128.1 195.1h0M1127.9 302.1h0M1128.4 303.5h0M1128.0 293.7h0M1128.0 295.6h0M1129.2 186.6h0M1129.4 182.1h0M1128.7 183.6h0M1129.1 190.9h0M1129.1 326.2h0M1129.1 301.2h0M1128.8 291.6h0M1129.5 294.3h0M1130.3 188.4h0M1129.7 164.0h0M1130.4 190.9h0M1130.2 157.9h0M1129.9 285.9h0M1129.6 333.0h0M1130.3 291.6h0M1129.5 294.1h0M1130.9 194.4h0M1131.5 189.2h0M1130.6 189.3h0M1130.7 181.6h0M1131.2 295.2h0M1131.3 293.0h0M1131.4 292.5h0M1130.8 303.4h0M1131.9 188.3h0M1131.6 184.7h0M1131.7 156.2h0M1132.3 191.7h0M1131.7 287.5h0M1132.2 306.4h0M1131.6 299.3h0M1132.2 285.3h0M1132.8 176.5h0M1132.9 189.3h0M1133.5 164.4h0M1133.3 194.0h0M1132.9 290.5h0M1133.2 297.5h0M1133.4 296.6h0M1132.6 292.5h0M1134.0 190.2h0M1134.1 188.4h0M1134.1 158.7h0M1134.4 175.8h0M1134.0 287.3h0M1133.9 322.1h0M1133.8 354.1h0M1133.8 290.9h0M1135.5 187.5h0M1135.4 183.9h0M1135.1 189.3h0M1134.6 189.3h0M1134.6 289.1h0M1135.4 288.7h0M1135.2 305.7h0M1135.1 317.4h0M1136.5 191.7h0M1135.5 190.6h0M1136.1 181.3h0M1136.1 177.1h0M1136.0 313.7h0M1136.4 289.1h0M1136.2 309.5h0M1135.9 294.2h0M1137.4 178.9h0M1137.5 192.1h0M1136.7 177.7h0M1136.7 191.2h0M1136.8 287.8h0M1136.8 302.3h0M1137.4 295.5h0M1137.4 296.7h0M1138.3 168.0h0M1138.5 187.7h0M1138.2 132.8h0M1137.8 176.7h0M1138.5 285.5h0M1137.6 302.2h0M1138.2 285.6h0M1138.5 297.2h0M1138.7 171.1h0M1138.8 185.4h0M1138.7 151.3h0M1139.3 191.0h0M1139.2 287.4h0M1138.8 325.8h0M1139.4 290.2h0M1139.3 291.8h0M1140.2 190.0h0M1140.4 167.8h0M1140.4 175.8h0M1140.0 192.2h0M1139.9 285.4h0M1139.6 292.8h0M1139.9 285.5h0M1140.5 297.0h0M1141.2 191.3h0M1140.9 115.7h0M1141.0 189.1h0M1140.6 180.3h0M1140.6 290.5h0M1141.4 289.9h0M1141.4 356.7h0M1140.5 323.7h0M1141.7 194.1h0M1141.6 193.9h0M1142.4 178.3h0M1142.3 187.6h0M1141.6 289.9h0M1141.5 292.8h0M1142.1 300.8h0M1141.8 288.3h0M1143.1 176.1h0M1142.7 179.7h0M1143.2 172.5h0M1143.5 190.5h0M1142.7 332.0h0M1143.5 333.7h0M1143.0 288.2h0M1143.0 311.8h0M1143.5 181.7h0M1143.9 149.0h0M1144.4 188.4h0M1143.9 174.8h0M1143.7 287.9h0M1144.0 306.2h0M1144.3 299.0h0M1143.9 297.6h0M1144.8 143.1h0M1144.9 189.8h0M1145.3 186.3h0M1145.0 184.8h0M1145.3 316.4h0M1144.5 306.4h0M1145.3 300.9h0M1144.9 309.3h0M1145.5 188.2h0M1145.8 189.9h0M1146.4 187.7h0M1146.0 194.0h0M1146.2 303.4h0M1146.2 298.0h0M1145.9 296.8h0M1145.7 308.7h0M1146.5 195.4h0M1146.9 183.0h0M1147.1 190.9h0M1146.6 175.3h0M1147.0 314.0h0M1146.8 286.7h0M1147.1 302.9h0M1146.5 295.0h0M1147.9 100.4h0M1147.7 176.8h0M1147.5 180.2h0M1147.5 196.1h0M1147.7 313.2h0M1148.5 296.5h0M1147.6 319.4h0M1148.3 290.1h0M1149.2 174.9h0M1149.2 146.3h0M1149.5 161.8h0M1148.7 184.8h0M1149.3 300.5h0M1149.1 303.0h0M1149.2 304.9h0M1149.3 289.2h0M1149.7 149.6h0M1150.3 187.9h0M1150.5 174.9h0M1150.3 196.9h0M1149.9 341.3h0M1150.2 288.6h0M1150.5 296.6h0M1149.6 290.8h0M1150.9 168.2h0M1151.5 169.4h0M1151.1 135.7h0M1150.7 173.4h0M1150.6 294.5h0M1150.9 302.9h0M1151.3 325.9h0M1150.9 294.8h0M1152.4 176.7h0M1151.8 189.4h0M1152.3 169.5h0M1151.6 196.0h0M1152.4 306.9h0M1152.1 300.5h0M1152.2 300.3h0M1152.0 294.3h0M1152.8 194.2h0M1153.3 190.9h0M1152.8 196.3h0M1152.7 174.1h0M1153.3 298.9h0M1152.8 305.2h0M1153.3 288.2h0M1152.9 302.1h0M1154.2 187.9h0M1154.1 190.4h0M1154.3 157.5h0M1153.6 187.2h0M1153.7 307.1h0M1154.0 293.4h0M1153.5 309.9h0M1154.3 311.8h0M1155.2 177.2h0M1155.4 179.1h0M1155.4 176.7h0M1155.4 169.1h0M1155.2 308.5h0M1155.4 294.1h0M1155.2 300.7h0M1155.5 302.0h0M1156.1 160.6h0M1155.6 172.2h0M1156.4 194.0h0M1155.9 172.1h0M1156.3 289.1h0M1155.9 302.2h0M1156.0 295.8h0M1156.5 290.9h0M1157.2 175.6h0M1157.2 164.4h0M1157.4 179.4h0M1157.2 191.0h0M1157.2 292.7h0M1157.5 311.2h0M1156.8 329.6h0M1156.8 307.9h0M1158.2 195.2h0M1158.5 195.4h0M1157.6 160.1h0M1158.3 188.1h0M1157.6 335.9h0M1157.9 334.5h0M1158.2 287.7h0M1157.7 296.1h0M1158.6 151.0h0M1158.8 189.1h0M1158.7 182.1h0M1159.1 195.5h0M1159.3 305.4h0M1159.2 292.4h0M1158.6 318.8h0M1158.7 315.8h0M1160.2 191.5h0M1159.9 194.1h0M1159.6 163.9h0M1159.5 195.4h0M1159.9 292.6h0M1160.1 298.8h0M1160.3 290.4h0M1160.1 297.7h0M1160.7 183.9h0M1161.4 190.1h0M1161.4 178.0h0M1160.6 196.0h0M1161.3 307.3h0M1161.0 288.3h0M1160.8 296.1h0M1160.6 288.2h0M1161.9 152.4h0M1162.3 193.1h0M1162.3 194.3h0M1162.2 194.2h0M1161.8 299.5h0M1162.4 287.5h0M1162.3 290.5h0M1162.0 312.1h0M1162.9 182.1h0M1162.8 143.4h0M1163.0 184.2h0M1162.9 194.3h0M1162.7 293.3h0M1163.3 297.8h0M1162.8 302.0h0M1163.0 317.4h0M1164.2 194.6h0M1164.4 186.0h0M1164.1 195.1h0M1164.5 194.1h0M1163.7 321.3h0M1164.4 285.9h0M1164.5 312.6h0M1164.5 286.8h0M1164.6 193.3h0M1164.9 187.2h0M1164.8 160.6h0M1164.7 191.5h0M1164.6 323.6h0M1165.1 315.9h0M1165.0 311.0h0M1165.0 289.4h0M1166.3 192.0h0M1166.4 183.7h0M1165.5 181.0h0M1166.1 189.4h0M1166.3 292.5h0M1166.3 314.6h0M1166.4 295.3h0M1166.3 285.7h0M1166.6 177.9h0M1167.5 194.2h0M1167.0 176.1h0M1166.8 169.7h0M1166.7 284.9h0M1166.8 287.1h0M1167.3 293.7h0M1167.0 290.2h0M1167.6 168.1h0M1167.6 171.0h0M1168.3 189.8h0M1168.2 166.8h0M1167.7 306.8h0M1168.3 290.7h0M1168.1 300.0h0M1168.3 286.7h0M1168.9 180.6h0M1169.4 174.0h0M1169.1 192.4h0M1169.3 192.3h0M1168.6 295.5h0M1168.5 305.1h0M1168.5 297.2h0M1168.6 293.2h0M1169.5 167.9h0M1169.7 186.2h0M1169.7 187.8h0M1169.7 151.7h0M1169.6 304.8h0M1169.6 289.3h0M1170.4 321.3h0M1169.8 291.7h0M1171.4 194.4h0M1171.3 190.4h0M1171.0 181.5h0M1170.6 180.7h0M1171.0 294.1h0M1170.7 305.3h0M1170.7 289.3h0M1170.9 298.7h0M1171.9 181.5h0M1172.2 138.7h0M1172.0 182.1h0M1171.9 186.2h0M1172.2 298.0h0M1172.5 322.9h0M1171.6 289.6h0M1172.1 291.9h0M1173.5 172.0h0M1173.4 144.2h0M1172.6 150.9h0M1172.8 178.6h0M1172.9 294.7h0M1173.3 304.5h0M1173.5 305.9h0M1172.9 298.3h0M1174.3 183.7h0M1174.2 190.1h0M1174.4 192.7h0M1174.0 187.9h0M1174.3 288.0h0M1174.4 286.4h0M1174.3 298.1h0M1173.5 291.4h0M1174.9 178.1h0M1174.6 178.6h0M1175.2 192.8h0M1174.6 114.1h0M1175.0 289.4h0M1174.7 301.5h0M1174.8 312.0h0M1175.0 290.9h0M1175.8 175.6h0M1176.4 164.9h0M1175.6 174.6h0M1175.9 190.4h0M1175.9 294.4h0M1176.4 320.6h0M1176.0 288.5h0M1175.8 283.9h0M1177.3 175.8h0M1177.5 143.9h0M1176.8 179.5h0M1177.2 129.1h0M1177.3 323.3h0M1177.3 294.8h0M1176.8 293.2h0M1177.3 296.5h0M1178.2 182.7h0M1177.6 188.0h0M1178.4 185.0h0M1177.8 121.2h0M1178.4 285.9h0M1178.0 289.3h0M1178.1 287.6h0M1178.1 322.8h0M1178.6 169.8h0M1179.3 191.4h0M1179.1 192.6h0M1179.3 183.1h0M1178.7 304.4h0M1179.1 285.8h0M1179.2 299.2h0M1179.0 324.5h0M1180.3 171.0h0M1180.5 178.3h0M1179.7 184.2h0M1179.8 193.6h0M1179.9 312.2h0M1180.2 303.1h0M1180.0 338.9h0M1179.5 287.7h0M1181.0 137.2h0M1180.6 180.4h0M1181.3 184.1h0M1180.7 188.9h0M1181.4 286.0h0M1181.1 306.4h0M1181.2 289.2h0M1181.3 329.1h0M1181.8 176.4h0M1181.6 171.7h0M1182.3 181.1h0M1182.2 193.3h0M1181.5 283.5h0M1181.9 290.1h0M1182.4 307.4h0M1181.8 297.5h0M1183.1 158.8h0M1182.6 187.4h0M1183.4 178.4h0M1183.0 148.2h0M1183.1 292.9h0M1183.3 299.8h0M1183.3 291.3h0M1183.4 294.2h0M1183.8 144.7h0M1183.7 192.0h0M1184.3 188.3h0M1184.2 164.6h0M1183.6 321.6h0M1183.9 319.3h0M1184.4 287.3h0M1183.5 283.0h0M1184.9 186.9h0M1184.7 158.1h0M1185.5 187.3h0M1184.6 186.1h0M1185.4 306.2h0M1185.4 321.1h0M1185.4 290.8h0M1184.9 293.2h0M1185.6 191.6h0M1185.9 191.0h0M1185.9 175.5h0M1186.2 186.8h0M1186.1 294.8h0M1185.5 332.9h0M1185.7 293.3h0M1186.1 345.7h0M1186.6 189.8h0M1187.2 178.5h0M1187.2 172.9h0M1186.9 188.7h0M1186.8 303.2h0M1187.4 317.4h0M1186.5 310.4h0M1187.1 298.2h0M1188.4 193.5h0M1188.1 171.5h0M1187.6 153.3h0M1188.1 186.2h0M1188.3 320.1h0M1188.3 293.4h0M1188.2 293.1h0M1188.3 295.5h0M1188.6 182.7h0M1188.6 185.4h0M1189.4 191.5h0M1188.6 170.0h0M1188.6 285.1h0M1188.7 286.6h0M1189.0 336.1h0M1188.8 283.8h0M1190.1 189.3h0M1190.5 173.5h0M1190.3 142.5h0M1190.1 164.3h0M1190.2 331.6h0M1190.4 297.6h0M1189.9 284.5h0M1190.4 289.8h0M1191.2 186.9h0M1190.9 192.8h0M1190.8 183.7h0M1191.5 177.2h0M1190.5 317.9h0M1191.4 303.1h0M1190.9 295.4h0M1191.4 293.3h0M1191.6 168.8h0M1191.5 181.5h0M1192.3 190.7h0M1191.5 192.0h0M1192.3 295.3h0M1191.6 297.5h0M1191.6 290.5h0M1192.1 299.8h0M1193.5 193.2h0M1192.8 178.1h0M1192.9 178.8h0M1193.1 184.6h0M1192.9 296.1h0M1192.7 294.6h0M1193.4 293.0h0M1193.0 309.9h0M1194.1 145.9h0M1194.2 187.0h0M1193.6 173.8h0M1193.6 184.4h0M1194.2 330.6h0M1194.0 284.3h0M1194.1 311.0h0M1194.0 285.5h0M1195.5 174.9h0M1194.7 189.9h0M1194.9 166.0h0M1194.6 162.4h0M1195.4 288.1h0M1194.7 293.8h0M1195.3 286.1h0M1194.6 291.8h0M1195.7 161.3h0M1196.4 192.4h0M1196.0 182.8h0M1195.8 175.0h0M1196.3 300.1h0M1195.6 298.6h0M1196.4 284.1h0M1195.8 312.0h0M1196.6 167.2h0M1197.2 157.9h0M1197.0 183.9h0M1197.0 178.2h0M1197.0 285.7h0M1197.1 292.0h0M1197.4 288.3h0M1196.7 286.6h0M1197.8 186.8h0M1197.5 188.0h0M1197.9 180.3h0M1198.4 173.3h0M1198.2 285.7h0M1197.7 284.5h0M1197.6 312.0h0M1197.6 311.2h0M1198.8 187.8h0M1199.5 191.0h0M1198.5 184.8h0M1198.6 182.7h0M1199.0 284.4h0M1198.8 287.4h0M1199.0 283.4h0M1198.6 283.8h0M1199.7 177.9h0M1199.8 166.9h0M1199.9 181.2h0M1199.5 191.2h0M1199.9 305.5h0M1199.5 284.2h0M1199.8 283.6h0M1200.4 332.2h0M1200.8 188.3h0M1201.2 177.4h0M1201.3 192.3h0M1200.5 162.9h0M1201.1 300.7h0M1201.3 315.3h0M1200.6 300.9h0M1201.2 292.2h0M1202.0 167.5h0M1202.4 165.5h0M1202.3 163.9h0M1201.6 183.1h0M1202.1 290.8h0M1202.0 303.4h0M1202.4 291.2h0M1202.4 305.7h0M1202.6 173.1h0M1202.7 167.0h0M1202.9 194.3h0M1203.1 179.8h0M1202.9 294.7h0M1203.0 292.7h0M1202.9 296.0h0M1203.3 285.1h0M1204.3 172.1h0M1203.5 178.5h0M1204.2 174.0h0M1204.2 170.8h0M1203.6 306.0h0M1204.0 291.0h0M1204.4 290.4h0M1203.9 294.2h0M1205.1 188.5h0M1204.8 162.0h0M1204.7 189.1h0M1204.8 178.3h0M1205.4 289.0h0M1205.5 317.1h0M1205.3 285.2h0M1204.6 304.8h0M1205.9 166.3h0M1205.8 190.4h0M1205.9 189.3h0M1206.0 192.9h0M1205.5 283.8h0M1205.7 355.9h0M1206.3 296.9h0M1205.6 313.0h0M1207.0 192.0h0M1206.7 188.8h0M1207.3 171.9h0M1207.2 171.5h0M1206.7 287.7h0M1206.6 292.3h0M1206.8 284.6h0M1206.6 316.2h0M1207.7 176.4h0M1208.1 187.5h0M1208.4 178.3h0M1207.7 185.4h0M1208.1 317.3h0M1207.9 294.8h0M1207.6 330.6h0M1207.6 284.6h0M1209.2 191.3h0M1209.1 193.5h0M1208.7 178.6h0M1209.2 166.1h0M1209.2 291.3h0M1208.8 288.4h0M1208.6 316.2h0M1209.0 332.7h0M1209.9 174.9h0M1209.7 192.3h0M1210.1 183.1h0M1209.6 179.1h0M1209.7 307.5h0M1209.8 348.2h0M1210.0 297.8h0M1210.0 283.7h0M1211.4 189.8h0M1211.3 177.7h0M1210.6 182.4h0M1210.9 175.6h0M1211.3 302.0h0M1210.9 285.0h0M1211.3 288.8h0M1210.8 285.8h0M1212.2 168.5h0M1211.8 183.5h0M1211.9 180.3h0M1211.5 183.9h0M1212.4 310.6h0M1211.5 314.0h0M1211.8 307.0h0M1211.5 300.0h0M1212.5 190.8h0M1213.0 193.6h0M1212.6 187.0h0M1213.2 161.5h0M1213.1 284.2h0M1213.3 289.6h0M1213.4 287.2h0M1213.0 286.8h0M1213.7 152.0h0M1213.9 182.4h0M1213.8 159.2h0M1213.8 187.8h0M1214.2 283.5h0M1214.0 303.7h0M1213.8 296.3h0M1214.3 308.4h0M1215.2 157.1h0M1215.2 189.8h0M1215.1 192.3h0M1215.3 176.2h0M1215.0 298.1h0M1214.8 285.4h0M1215.1 285.7h0M1214.7 291.2h0M1216.2 188.9h0M1216.1 185.9h0M1215.8 184.9h0M1215.6 191.9h0M1215.9 293.2h0M1215.7 295.9h0M1216.0 300.2h0M1215.8 296.2h0M1217.4 191.5h0M1216.9 189.6h0M1216.8 169.2h0M1217.1 188.1h0M1217.4 292.7h0M1216.8 300.8h0M1216.7 284.0h0M1216.9 285.4h0M1218.1 175.2h0M1218.2 179.6h0M1217.7 188.5h0M1217.7 163.2h0M1218.0 282.9h0M1217.7 298.9h0M1218.4 302.8h0M1217.9 315.9h0M1218.7 187.5h0M1219.2 152.3h0M1219.1 187.9h0M1218.8 186.3h0M1218.5 324.3h0M1218.9 293.6h0M1219.0 303.9h0M1218.9 327.6h0M1220.0 170.7h0M1219.6 193.0h0M1219.6 189.2h0M1220.3 172.7h0M1220.2 289.0h0M1220.4 304.4h0M1220.3 282.5h0M1220.4 282.5h0M1220.9 179.4h0M1221.4 186.0h0M1221.2 184.3h0M1220.9 193.6h0M1221.4 284.3h0M1220.9 299.4h0M1220.7 381.9h0M1220.6 302.3h0M1222.1 174.1h0M1221.6 190.1h0M1222.4 193.9h0M1221.8 189.4h0M1222.4 282.4h0M1221.7 290.6h0M1222.0 298.9h0M1221.7 316.5h0M1222.9 181.0h0M1223.3 178.6h0M1223.1 186.6h0M1223.2 184.5h0M1223.4 301.3h0M1223.2 309.9h0M1222.7 285.7h0M1222.6 295.2h0M1223.6 178.2h0M1224.1 182.4h0M1224.3 179.9h0M1224.1 171.4h0M1224.1 288.4h0M1223.6 302.2h0M1223.8 288.6h0M1223.9 301.4h0M1225.0 147.8h0M1224.7 184.4h0M1224.8 194.0h0M1224.8 186.3h0M1224.7 286.0h0M1225.0 306.5h0M1225.2 283.0h0M1224.8 320.0h0M1225.6 185.6h0M1226.2 191.7h0M1225.9 168.2h0M1226.0 188.6h0M1226.3 332.1h0M1226.4 283.3h0M1226.0 310.0h0M1226.2 317.3h0M1226.6 189.0h0M1227.3 169.7h0M1227.1 194.0h0M1227.0 142.2h0M1227.2 285.8h0M1226.7 287.0h0M1226.8 298.3h0M1227.1 295.3h0M1228.2 178.6h0M1227.8 194.3h0M1228.2 192.5h0M1228.4 181.1h0M1227.8 282.3h0M1227.7 292.6h0M1228.2 287.8h0M1227.6 297.0h0M1228.7 185.1h0M1229.3 181.9h0M1229.0 177.8h0M1229.0 182.6h0M1229.0 287.6h0M1229.3 284.7h0M1228.6 283.4h0M1228.5 300.5h0M1230.4 194.2h0M1230.3 179.7h0M1230.4 171.4h0M1230.2 190.1h0M1230.5 290.1h0M1229.8 298.8h0M1229.6 308.3h0M1230.0 284.2h0M1231.5 185.0h0M1230.8 194.3h0M1230.7 176.6h0M1230.7 181.0h0M1231.2 321.6h0M1231.4 281.3h0M1231.4 309.4h0M1230.9 290.0h0M1232.1 191.9h0M1232.4 189.2h0M1231.8 188.6h0M1232.1 184.5h0M1231.7 290.4h0M1232.2 281.0h0M1232.2 293.2h0M1232.5 281.7h0M1232.5 193.6h0M1232.6 149.7h0M1232.9 189.0h0M1232.8 139.6h0M1232.7 305.3h0M1232.7 283.1h0M1233.2 289.3h0M1233.0 292.3h0M1233.7 187.1h0M1234.0 192.8h0M1234.4 185.6h0M1234.4 183.8h0M1234.0 283.3h0M1234.3 292.5h0M1234.1 291.6h0M1233.5 288.9h0M1235.3 176.3h0M1234.6 157.3h0M1234.8 190.9h0M1234.5 167.9h0M1235.3 303.6h0M1235.3 302.0h0M1235.1 288.4h0M1234.6 284.4h0M1236.1 167.8h0M1236.1 174.0h0M1235.6 185.0h0M1236.4 161.0h0M1235.6 280.9h0M1235.8 301.8h0M1235.6 330.9h0M1236.3 301.9h0M1236.9 168.1h0M1236.9 192.1h0M1236.5 193.3h0M1236.9 190.6h0M1236.7 303.4h0M1237.5 288.6h0M1237.3 284.0h0M1237.0 284.6h0M1238.2 185.7h0M1238.2 184.7h0M1238.2 169.6h0M1237.9 192.8h0M1237.7 308.0h0M1238.0 290.3h0M1237.9 289.5h0M1237.7 297.4h0M1239.0 161.3h0M1239.2 193.3h0M1238.9 168.3h0M1239.3 182.5h0M1239.4 292.6h0M1239.3 281.0h0M1238.6 279.9h0M1238.7 279.8h0M1239.7 174.2h0M1240.1 170.8h0M1240.2 194.0h0M1240.5 191.3h0M1240.3 306.3h0M1240.1 337.4h0M1239.5 295.8h0M1239.7 291.8h0M1240.6 182.9h0M1241.3 165.7h0M1241.2 190.1h0M1241.0 192.9h0M1241.2 314.1h0M1240.8 282.5h0M1241.5 315.8h0M1241.5 286.2h0M1241.6 183.4h0M1241.8 161.5h0M1241.7 179.5h0M1242.5 191.3h0M1241.8 290.4h0M1241.6 301.8h0M1241.9 280.2h0M1242.1 292.1h0M1243.1 192.5h0M1243.1 191.2h0M1243.3 181.1h0M1242.7 160.6h0M1243.2 310.0h0M1242.7 279.8h0M1242.5 292.7h0M1242.6 294.9h0M1243.9 190.1h0M1243.9 170.1h0M1244.0 165.2h0M1243.6 166.4h0M1243.6 306.6h0M1243.8 300.9h0M1244.0 287.0h0M1243.8 308.4h0M1244.9 171.5h0M1244.5 180.2h0M1244.7 189.7h0M1244.9 182.5h0M1244.8 301.0h0M1245.0 304.1h0M1244.6 282.8h0M1245.2 290.0h0M1245.8 188.1h0M1245.6 179.6h0M1246.5 175.9h0M1246.0 183.9h0M1246.4 285.6h0M1245.8 291.9h0M1246.0 295.5h0M1246.4 280.5h0M1246.6 159.6h0M1246.8 192.7h0M1247.2 194.5h0M1246.7 175.2h0M1246.8 299.1h0M1247.1 290.0h0M1246.8 333.1h0M1246.6 325.9h0M1248.2 181.9h0M1247.8 182.8h0M1248.3 129.9h0M1248.4 193.6h0M1248.3 291.6h0M1248.1 282.3h0M1248.5 282.4h0M1247.9 282.2h0M1249.0 179.9h0M1249.0 166.6h0M1249.2 194.2h0M1249.3 175.8h0M1248.5 291.7h0M1249.2 313.0h0M1248.9 283.2h0M1249.1 283.4h0M1249.7 190.9h0M1250.0 185.5h0M1249.9 186.4h0M1249.9 162.0h0M1249.6 291.0h0M1249.7 314.9h0M1249.8 311.5h0M1250.2 304.1h0M1250.8 191.7h0M1251.3 189.2h0M1251.0 158.0h0M1251.3 183.4h0M1251.1 292.1h0M1250.5 316.4h0M1250.7 283.4h0M1251.4 308.9h0M1252.0 187.5h0M1251.5 172.0h0M1251.9 174.9h0M1251.7 170.1h0M1252.4 297.7h0M1251.7 295.1h0M1251.7 301.8h0M1252.0 287.0h0M1252.9 159.4h0M1252.7 191.1h0M1252.6 194.5h0M1253.0 187.9h0M1252.8 296.9h0M1253.2 282.1h0M1252.9 287.4h0M1253.0 285.4h0M1253.6 190.3h0M1254.1 176.9h0M1253.8 189.1h0M1254.3 159.5h0M1254.2 284.8h0M1254.3 307.4h0M1253.6 295.3h0M1254.0 299.0h0M1255.1 181.6h0M1254.7 195.4h0M1255.2 183.1h0M1255.2 143.7h0M1255.5 290.2h0M1255.3 305.9h0M1254.8 336.6h0M1254.8 287.0h0M1255.9 127.2h0M1255.6 150.8h0M1256.4 191.9h0M1256.4 191.7h0M1256.4 322.2h0M1255.8 310.2h0M1256.0 298.1h0M1255.7 312.0h0M1256.6 180.2h0M1256.5 168.7h0M1256.9 194.6h0M1257.5 192.6h0M1256.6 299.9h0M1256.5 286.6h0M1257.3 295.2h0M1257.2 301.3h0M1257.6 191.4h0M1258.0 164.7h0M1258.5 158.0h0M1258.3 194.8h0M1258.1 303.1h0M1258.4 304.1h0M1258.4 296.0h0M1257.6 313.5h0M1258.7 156.4h0M1259.2 139.3h0M1259.0 181.8h0M1259.1 185.6h0M1259.4 304.3h0M1258.6 305.7h0M1259.3 293.6h0M1259.3 294.6h0M1259.7 172.5h0M1260.3 178.9h0M1259.9 178.6h0M1260.2 178.3h0M1260.4 325.7h0M1259.6 300.0h0M1260.0 305.8h0M1259.9 300.5h0M1261.2 156.6h0M1261.2 179.8h0M1260.7 186.6h0M1260.6 166.3h0M1260.9 300.4h0M1261.4 314.4h0M1260.7 295.2h0M1261.0 288.4h0M1262.5 194.8h0M1262.3 179.7h0M1262.2 193.2h0M1262.0 183.9h0M1262.3 284.0h0M1261.6 287.1h0M1262.5 311.5h0M1262.1 287.8h0M1262.9 194.8h0M1262.8 188.1h0M1263.0 177.5h0M1263.4 171.3h0M1263.4 333.2h0M1263.2 304.3h0M1262.9 290.3h0M1262.9 321.6h0M1264.4 162.2h0M1264.0 159.2h0M1263.9 132.5h0M1264.3 178.2h0M1263.6 299.0h0M1264.0 305.6h0M1264.2 287.7h0M1263.6 309.8h0M1264.6 184.4h0M1264.7 189.2h0M1265.0 189.1h0M1264.5 174.2h0M1265.1 288.4h0M1265.2 296.5h0M1265.3 283.7h0M1265.4 289.3h0M1265.9 177.7h0M1265.7 192.9h0M1266.4 192.2h0M1265.9 192.9h0M1265.9 287.9h0M1266.2 339.1h0M1265.8 287.8h0M1266.3 300.1h0M1267.1 157.4h0M1267.4 176.4h0M1266.8 154.0h0M1266.8 191.8h0M1267.1 286.6h0M1266.7 293.4h0M1266.7 310.3h0M1266.6 287.5h0M1267.7 180.0h0M1268.5 184.1h0M1267.7 187.1h0M1268.3 186.4h0M1267.7 320.1h0M1268.0 289.0h0M1268.2 291.9h0M1267.9 317.5h0M1268.9 179.2h0M1269.4 131.5h0M1268.8 152.9h0M1269.1 191.8h0M1268.6 294.1h0M1268.8 291.7h0M1269.1 312.0h0M1269.2 309.7h0M1270.3 181.1h0M1270.3 170.0h0M1269.9 184.7h0M1270.5 175.2h0M1270.2 284.4h0M1269.9 297.3h0M1269.7 340.6h0M1270.5 285.1h0M1270.5 188.8h0M1271.1 184.7h0M1271.3 187.9h0M1270.6 178.4h0M1271.5 286.4h0M1271.3 289.7h0M1270.8 288.6h0M1270.7 332.3h0M1272.0 193.9h0M1272.3 185.0h0M1272.2 184.1h0M1272.1 185.9h0M1272.1 311.0h0M1272.3 299.9h0M1271.7 303.7h0M1271.7 307.1h0M1273.1 187.7h0M1273.0 152.7h0M1273.3 179.1h0M1273.1 181.0h0M1272.9 304.7h0M1272.7 305.0h0M1272.9 291.7h0M1272.9 286.6h0M1274.2 180.7h0M1274.4 195.7h0M1274.4 185.0h0M1273.5 179.0h0M1273.8 318.1h0M1274.0 320.4h0M1274.3 319.3h0M1273.9 296.9h0M1275.4 193.7h0M1275.4 177.0h0M1274.8 179.1h0M1275.3 187.1h0M1274.5 321.4h0M1275.3 312.7h0M1275.4 293.7h0M1274.6 297.1h0M1276.4 180.3h0M1276.0 181.5h0M1276.4 183.7h0M1275.8 182.4h0M1275.7 309.3h0M1275.8 311.6h0M1275.8 299.2h0M1276.1 299.2h0M1276.6 168.5h0M1276.8 166.8h0M1277.4 189.4h0M1277.4 182.2h0M1277.2 293.2h0M1276.8 307.2h0M1277.2 294.8h0M1277.2 291.9h0M1277.7 152.5h0M1278.5 190.8h0M1277.8 185.2h0M1277.8 166.0h0M1278.4 301.2h0M1277.9 292.4h0M1277.7 310.2h0M1277.6 324.0h0M1279.1 178.9h0M1278.7 165.7h0M1278.6 193.2h0M1279.1 179.8h0M1279.3 313.9h0M1279.1 304.8h0M1279.3 292.3h0M1279.5 312.8h0M1279.9 190.7h0M1279.8 185.5h0M1280.3 159.0h0M1279.6 189.7h0M1280.0 302.2h0M1279.7 288.4h0M1280.2 320.5h0M1279.5 289.6h0M1281.3 185.1h0M1280.8 192.3h0M1281.0 187.7h0M1280.5 191.3h0M1280.9 289.3h0M1281.0 327.0h0M1280.9 293.6h0M1281.1 299.8h0M1282.2 180.7h0M1281.7 182.7h0M1282.0 170.7h0M1282.2 193.5h0M1282.0 293.8h0M1282.5 287.8h0M1282.3 300.5h0M1281.9 299.1h0M1283.3 189.4h0M1283.0 186.3h0M1282.9 165.5h0M1282.5 147.3h0M1282.6 325.8h0M1283.4 289.5h0M1283.0 307.1h0M1283.1 331.2h0M1284.3 166.1h0M1284.0 148.8h0M1283.5 189.0h0M1284.0 161.7h0M1284.0 288.3h0M1284.5 288.8h0M1283.6 303.6h0M1283.8 299.9h0M1284.7 178.7h0M1284.9 172.3h0M1285.3 185.6h0M1285.1 137.7h0M1285.4 304.2h0M1285.3 298.4h0M1285.3 299.4h0M1285.3 325.3h0M1285.5 194.9h0M1286.4 186.7h0M1285.6 184.2h0M1286.2 191.1h0M1286.5 294.7h0M1286.1 292.5h0M1286.5 298.9h0M1286.3 302.8h0M1286.7 170.2h0M1287.3 169.6h0M1286.8 171.7h0M1287.3 186.3h0M1287.1 317.5h0M1287.3 306.9h0M1287.4 289.5h0M1287.4 317.0h0M1288.2 186.9h0M1288.2 194.6h0M1288.5 163.8h0M1287.7 183.2h0M1287.9 299.5h0M1288.3 291.2h0M1287.6 287.4h0M1287.9 302.7h0M1288.6 179.2h0M1289.2 184.0h0M1289.0 146.9h0M1288.6 178.1h0M1289.4 303.0h0M1288.8 305.8h0M1288.8 286.8h0M1288.7 300.5h0M1289.9 193.2h0M1290.5 177.9h0M1290.2 178.1h0M1290.1 159.5h0M1290.2 314.9h0M1289.6 301.3h0M1290.0 289.2h0M1289.8 290.4h0M1291.0 193.4h0M1291.4 194.1h0M1291.4 178.4h0M1290.7 188.6h0M1291.3 326.6h0M1290.9 291.4h0M1290.6 299.4h0M1290.7 294.3h0M1291.9 143.6h0M1291.7 191.1h0M1292.2 178.6h0M1292.2 187.5h0M1292.1 351.2h0M1292.4 306.7h0M1291.7 294.2h0M1291.9 321.0h0M1292.6 187.5h0M1292.9 182.8h0M1292.9 182.0h0M1292.7 181.6h0M1293.4 319.4h0M1292.9 299.9h0M1292.5 297.6h0M1292.7 325.4h0M1293.7 165.1h0M1294.0 172.1h0M1293.5 186.8h0M1294.3 191.7h0M1294.0 289.5h0M1294.0 289.2h0M1293.6 295.1h0M1294.1 314.2h0M1294.7 182.7h0M1295.2 184.7h0M1295.3 194.2h0M1294.8 193.6h0M1294.9 293.5h0M1295.1 322.4h0M1295.5 303.0h0M1294.8 290.3h0M1296.1 145.7h0M1296.4 190.6h0M1296.4 168.6h0M1296.4 188.3h0M1296.0 297.3h0M1295.8 314.4h0M1295.9 308.1h0M1295.8 305.9h0M1297.0 194.9h0M1297.2 194.8h0M1296.6 190.1h0M1297.0 165.7h0M1297.4 286.9h0M1297.4 292.9h0M1297.5 302.0h0M1297.4 308.7h0M1297.9 164.0h0M1298.2 164.9h0M1298.4 181.3h0M1298.4 179.8h0M1297.6 300.2h0M1298.2 292.9h0M1297.8 292.2h0M1297.5 286.5h0M1299.0 195.0h0M1299.2 180.9h0M1298.8 193.5h0M1298.6 189.4h0M1299.4 289.9h0M1299.5 292.0h0M1298.6 290.8h0M1298.8 295.8h0M1300.0 193.8h0M1300.4 139.1h0M1300.2 192.0h0M1299.9 189.3h0M1299.7 298.1h0M1300.0 301.4h0M1300.2 286.6h0M1299.7 357.8h0M1301.5 170.0h0M1300.8 173.1h0M1301.1 177.8h0M1300.8 184.5h0M1301.2 309.2h0M1301.3 306.3h0M1300.9 319.3h0M1301.4 297.4h0M1302.4 192.8h0M1301.6 151.6h0M1301.9 189.3h0M1301.7 180.4h0M1302.0 313.6h0M1301.8 310.2h0M1302.5 304.9h0M1302.3 307.7h0M1302.7 179.6h0M1302.7 175.8h0M1302.9 181.4h0M1303.2 186.1h0M1302.5 319.8h0M1303.2 295.9h0M1303.2 292.4h0M1303.3 297.5h0M1303.8 168.7h0M1304.2 193.9h0M1304.3 152.7h0M1303.8 176.3h0M1303.9 305.4h0M1303.9 303.1h0M1304.0 304.5h0M1304.5 291.5h0M1304.8 103.6h0M1304.5 173.5h0M1304.9 182.0h0M1304.8 189.3h0M1305.1 315.2h0M1304.8 287.2h0M1305.1 287.7h0M1305.3 303.0h0M1305.7 187.0h0M1306.4 185.8h0M1305.8 169.2h0M1306.3 186.1h0M1306.1 291.4h0M1305.7 294.7h0M1306.4 306.7h0M1305.5 289.1h0M1306.6 186.3h0M1306.5 187.8h0M1307.3 185.4h0M1307.1 165.8h0M1307.2 303.5h0M1306.6 334.5h0M1307.0 289.5h0M1307.4 292.6h0M1307.9 174.7h0M1307.8 191.1h0M1308.4 194.0h0M1308.5 190.8h0M1307.7 298.4h0M1307.9 309.6h0M1307.5 299.0h0M1307.8 329.0h0M1308.9 162.6h0M1309.3 192.8h0M1309.1 181.5h0M1309.4 186.0h0M1309.4 294.7h0M1308.6 291.6h0M1308.6 295.1h0M1309.3 291.0h0M1309.7 190.3h0M1309.6 174.0h0M1309.8 193.7h0M1310.0 186.7h0M1310.3 306.6h0M1309.8 292.0h0M1310.1 303.8h0M1310.4 314.0h0M1310.5 170.9h0M1311.3 192.3h0M1311.0 192.0h0M1310.7 176.4h0M1310.6 289.3h0M1310.5 306.4h0M1311.5 302.2h0M1310.6 293.4h0M1312.0 185.3h0M1311.5 192.4h0M1312.3 191.6h0M1312.1 187.6h0M1311.9 314.0h0M1312.2 295.2h0M1311.6 286.9h0M1312.0 295.0h0M1312.8 191.7h0M1312.6 187.1h0M1312.9 191.4h0M1313.3 185.0h0M1313.1 315.2h0M1313.0 385.5h0M1312.9 291.7h0M1312.8 345.4h0M1314.4 171.0h0M1313.9 159.7h0M1313.6 186.4h0M1314.4 174.7h0M1313.7 333.8h0M1314.4 321.1h0M1313.7 292.0h0M1314.4 288.1h0M1315.4 190.8h0M1315.0 172.9h0M1315.5 181.5h0M1315.0 173.2h0M1315.4 367.7h0M1314.6 303.5h0M1314.8 290.9h0M1315.1 293.3h0M1316.3 193.5h0M1315.5 188.9h0M1315.7 188.6h0M1316.3 188.7h0M1316.3 304.9h0M1316.3 299.1h0M1315.5 290.2h0M1316.4 301.9h0M1316.9 191.5h0M1316.9 132.8h0M1317.4 171.0h0M1316.8 155.3h0M1317.2 307.8h0M1317.3 297.5h0M1316.8 300.3h0M1317.5 316.8h0M1317.6 190.7h0M1317.7 188.2h0M1317.9 156.7h0M1317.5 162.8h0M1317.6 289.9h0M1318.4 315.2h0M1318.5 294.0h0M1317.7 342.3h0M1319.3 186.6h0M1319.4 191.1h0M1319.3 186.7h0M1319.1 186.0h0M1318.6 329.6h0M1318.6 300.4h0M1319.0 324.2h0M1318.9 300.7h0M1319.9 191.2h0M1319.7 192.1h0M1319.9 188.1h0M1320.2 190.8h0M1320.0 309.3h0M1320.1 314.5h0M1320.3 369.4h0M1319.8 288.7h0M1320.7 190.8h0M1321.1 184.9h0M1320.9 178.8h0M1320.9 180.0h0M1320.7 304.7h0M1321.5 298.4h0M1320.8 293.9h0M1320.7 330.5h0M1321.6 171.5h0M1322.2 192.0h0M1322.5 192.9h0M1322.0 193.4h0M1321.5 300.0h0M1322.3 292.8h0M1322.3 363.6h0M1321.8 289.6h0M1323.1 185.0h0M1323.5 189.6h0M1322.8 181.6h0M1323.1 156.7h0M1323.0 310.9h0M1323.4 295.6h0M1322.6 291.7h0M1322.5 313.0h0M1323.8 164.4h0M1323.7 192.2h0M1323.7 177.7h0M1324.1 162.1h0M1323.9 347.2h0M1323.5 309.6h0M1323.7 304.5h0M1324.3 293.2h0M1325.4 185.0h0M1325.1 171.0h0M1325.1 174.1h0M1325.3 187.7h0M1325.4 313.0h0M1324.6 314.9h0M1324.8 304.1h0M1325.5 305.0h0M1326.5 190.9h0M1326.0 187.4h0M1326.4 164.4h0M1326.4 155.1h0M1325.8 298.8h0M1325.5 314.6h0M1325.7 290.1h0M1325.9 307.6h0M1327.5 183.1h0M1326.7 193.8h0M1326.8 176.2h0M1327.5 194.4h0M1326.6 296.1h0M1327.0 298.3h0M1326.6 303.8h0M1326.9 317.9h0M1328.5 191.9h0M1327.9 191.6h0M1327.7 194.1h0M1328.3 189.7h0M1327.6 319.1h0M1327.8 297.7h0M1328.1 290.1h0M1327.5 305.4h0M1329.2 190.6h0M1328.6 164.2h0M1328.9 182.1h0M1328.7 176.1h0M1329.4 338.3h0M1329.2 307.1h0M1328.5 306.8h0M1329.2 328.1h0M1330.2 183.6h0M1330.5 189.8h0M1329.9 187.6h0M1330.4 183.3h0M1330.3 324.0h0M1330.4 306.3h0M1330.2 296.3h0M1329.7 312.9h0M1330.8 182.0h0M1331.0 172.9h0M1331.0 160.7h0M1330.9 190.5h0M1330.6 302.1h0M1330.6 305.8h0M1331.3 297.3h0M1330.5 313.0h0M1332.0 193.2h0M1331.9 195.1h0M1332.3 139.3h0M1332.1 182.8h0M1332.5 313.0h0M1332.5 300.8h0M1332.0 345.0h0M1332.3 343.9h0M1332.6 190.8h0M1332.8 195.0h0M1332.6 120.4h0M1333.1 183.6h0M1333.4 316.9h0M1333.2 297.1h0M1332.7 337.3h0M1332.5 318.4h0M1333.6 197.2h0M1334.1 163.6h0M1333.7 149.8h0M1333.6 178.9h0M1334.0 304.8h0M1334.0 315.7h0M1334.0 292.1h0M1333.7 291.8h0M1335.0 196.8h0M1334.8 196.7h0M1335.2 196.4h0M1334.9 179.6h0M1334.8 300.7h0M1335.1 297.2h0M1334.7 310.4h0M1334.9 301.7h0M1336.0 190.2h0M1335.8 184.3h0M1336.4 111.3h0M1336.0 183.6h0M1335.7 346.2h0M1336.4 297.5h0M1336.3 329.6h0M1335.9 336.2h0M1336.6 193.3h0M1336.6 194.2h0M1337.4 160.1h0M1337.4 175.2h0M1336.9 312.4h0M1337.1 313.6h0M1337.0 320.6h0M1337.0 305.3h0M1337.9 196.1h0M1337.7 193.1h0M1338.1 167.3h0M1338.3 172.0h0M1338.3 296.9h0M1337.7 311.9h0M1338.4 311.4h0M1337.6 301.5h0M1339.0 190.1h0M1339.0 197.4h0M1339.1 182.6h0M1338.9 166.6h0M1339.3 326.0h0M1338.6 324.1h0M1338.7 300.8h0M1338.9 313.4h0M1339.9 180.4h0M1339.7 197.7h0M1339.8 178.6h0M1340.3 188.9h0M1339.8 319.6h0M1339.8 356.6h0M1340.1 310.7h0M1339.5 302.7h0M1341.3 184.4h0M1340.6 194.0h0M1341.3 171.0h0M1340.8 196.2h0M1341.0 293.7h0M1341.4 316.9h0M1341.2 343.0h0M1341.0 312.0h0M1342.2 190.1h0M1342.4 179.1h0M1341.7 184.2h0M1341.6 188.6h0M1342.0 312.5h0M1341.5 299.1h0M1342.5 318.4h0M1342.1 302.1h0M1343.3 176.4h0M1343.3 192.5h0M1343.0 195.0h0M1343.4 173.1h0M1343.1 340.6h0M1343.4 322.4h0M1343.4 306.1h0M1343.5 304.4h0M1344.5 197.5h0M1344.0 175.3h0M1343.8 190.0h0M1343.6 183.4h0M1343.8 322.6h0M1343.8 317.0h0M1344.0 300.2h0M1344.1 304.1h0M1345.1 189.6h0M1345.4 184.0h0M1344.8 192.5h0M1344.8 190.0h0M1345.0 307.0h0M1345.4 317.9h0M1345.4 317.2h0M1345.3 302.0h0M1346.1 150.3h0M1345.9 195.2h0M1346.4 189.5h0M1345.6 193.9h0M1346.3 329.5h0M1346.1 328.0h0M1346.4 307.2h0M1346.2 305.8h0M1347.0 178.6h0M1347.3 187.5h0M1346.7 194.8h0M1347.4 146.0h0M1346.8 307.1h0M1347.3 333.5h0M1346.5 389.6h0M1346.8 314.1h0M1347.6 161.4h0M1347.8 188.9h0M1348.1 166.3h0M1348.2 186.1h0M1348.5 299.7h0M1347.9 313.7h0M1348.0 300.9h0M1348.1 304.5h0M1348.9 189.1h0M1348.7 147.2h0M1348.6 196.7h0M1349.1 197.1h0M1349.4 308.6h0M1349.4 295.9h0M1348.8 300.1h0M1349.1 307.3h0M1349.7 193.6h0M1349.9 198.1h0M1350.5 197.4h0M1349.5 194.6h0M1349.8 303.1h0M1350.1 328.8h0M1349.8 346.0h0M1350.1 294.6h0M1350.9 177.2h0M1350.7 163.7h0M1351.2 197.5h0M1351.3 151.3h0M1351.3 297.3h0M1350.5 311.5h0M1350.5 303.8h0M1351.3 312.4h0M1351.9 192.4h0M1352.2 182.4h0M1351.7 197.2h0M1351.6 184.9h0M1352.4 308.2h0M1351.7 298.1h0M1352.1 301.0h0M1352.3 325.0h0M1352.9 195.4h0M1353.2 152.8h0M1353.1 197.0h0M1353.3 159.9h0M1353.4 304.9h0M1353.1 322.3h0M1353.4 303.8h0M1353.1 330.6h0M1353.6 184.5h0M1354.4 165.2h0M1354.5 169.3h0M1353.9 180.5h0M1354.0 298.7h0M1353.6 338.8h0M1354.4 317.4h0M1353.6 311.3h0M1354.8 187.4h0M1355.0 188.9h0M1354.7 189.6h0M1355.0 158.0h0M1354.9 326.7h0M1354.7 333.7h0M1354.9 325.9h0M1354.7 295.2h0M1355.7 189.2h0M1355.7 184.2h0M1356.1 196.2h0M1355.7 184.7h0M1355.6 295.3h0M1355.9 305.1h0M1356.0 319.4h0M1356.0 302.3h0M1357.3 172.5h0M1356.6 191.2h0M1356.9 117.2h0M1357.1 190.6h0M1356.6 304.1h0M1356.6 298.2h0M1357.4 295.6h0M1356.9 301.0h0M1358.1 182.2h0M1357.7 192.4h0M1358.1 179.6h0M1357.7 191.9h0M1358.1 299.3h0M1357.6 312.1h0M1358.5 296.1h0M1358.3 357.0h0M1359.5 150.4h0M1359.0 194.4h0M1359.1 192.2h0M1359.0 168.5h0M1359.1 298.5h0M1359.2 308.3h0M1358.9 335.4h0M1359.0 328.2h0M1360.2 197.6h0M1360.4 189.4h0M1359.6 180.3h0M1360.1 181.9h0M1360.2 307.1h0M1360.3 300.1h0M1360.5 349.3h0M1360.4 328.2h0M1360.6 180.0h0M1361.0 194.0h0M1361.0 191.6h0M1361.4 151.7h0M1361.4 299.9h0M1360.6 297.5h0M1360.8 310.1h0M1360.7 325.7h0M1361.5 193.9h0M1362.4 165.2h0M1361.8 173.7h0M1361.5 176.4h0M1362.1 314.9h0M1362.5 296.9h0M1361.6 324.3h0M1361.7 312.7h0M1363.0 180.0h0M1362.9 172.6h0M1362.8 188.1h0M1362.5 190.2h0M1363.2 310.2h0M1363.3 342.9h0M1362.8 304.0h0M1363.1 305.3h0M1363.8 173.6h0M1363.7 185.0h0M1363.9 193.8h0M1364.4 185.4h0M1363.5 328.1h0M1363.7 307.2h0M1364.1 332.6h0M1364.0 305.2h0M1365.0 167.6h0M1364.7 197.3h0M1364.9 176.4h0M1364.9 195.6h0M1364.8 297.2h0M1365.2 310.2h0M1365.1 302.7h0M1365.0 320.5h0M1366.5 188.0h0M1366.2 180.1h0M1366.5 199.2h0M1366.1 187.7h0M1365.9 314.1h0M1365.6 302.2h0M1366.0 367.4h0M1366.2 301.4h0M1366.8 197.4h0M1366.9 196.8h0M1367.0 173.3h0M1366.7 199.8h0M1367.1 329.8h0M1366.8 300.8h0M1367.0 300.0h0M1367.3 299.4h0M1367.8 195.2h0M1368.2 176.4h0M1367.7 187.3h0M1368.3 139.7h0M1368.3 304.6h0M1368.2 334.1h0M1368.3 306.0h0M1367.5 300.4h0M1369.0 192.0h0M1368.9 188.7h0M1368.5 169.4h0M1368.6 132.2h0M1369.5 332.0h0M1368.6 302.0h0M1369.1 318.9h0M1368.9 311.8h0M1369.6 163.6h0M1370.4 191.5h0M1370.2 165.1h0M1370.4 189.0h0M1370.3 305.8h0M1369.6 301.8h0M1369.8 297.6h0M1369.6 306.0h0M1370.9 184.0h0M1371.0 197.8h0M1371.4 185.5h0M1371.4 196.2h0M1371.3 311.5h0M1371.4 327.7h0M1371.3 322.9h0M1371.2 299.3h0M1372.0 176.0h0M1371.6 179.0h0M1372.3 176.0h0M1372.2 197.1h0M1371.6 339.2h0M1372.0 301.8h0M1372.1 301.1h0M1371.6 309.6h0M1373.2 189.9h0M1372.9 198.9h0M1373.1 191.7h0M1372.5 200.1h0M1373.1 319.4h0M1373.2 309.7h0M1373.4 312.5h0M1372.8 343.7h0M1373.7 165.4h0M1373.6 196.3h0M1374.0 192.1h0M1374.4 187.4h0M1373.8 325.6h0M1373.8 324.2h0M1373.7 309.8h0M1374.3 307.3h0M1375.2 201.0h0M1374.8 192.8h0M1374.6 178.0h0M1375.3 194.9h0M1374.8 337.9h0M1375.1 298.8h0M1374.7 312.8h0M1375.1 311.6h0M1376.1 168.3h0M1375.6 194.5h0M1376.3 198.9h0M1376.5 196.4h0M1376.1 298.1h0M1376.3 313.9h0M1376.4 357.3h0M1376.3 308.3h0M1376.8 183.2h0M1377.0 201.1h0M1377.0 180.9h0M1377.0 200.7h0M1376.6 297.6h0M1376.9 298.2h0M1377.4 310.8h0M1377.3 297.4h0M1377.9 198.8h0M1377.9 144.5h0M1378.2 162.0h0M1377.6 178.3h0M1377.9 320.3h0M1377.7 300.3h0M1378.1 307.0h0M1378.2 305.6h0M1378.5 193.2h0M1379.2 194.7h0M1378.8 189.6h0M1379.3 194.7h0M1378.7 332.9h0M1379.0 359.3h0M1378.6 306.6h0M1378.5 299.5h0M1380.4 166.4h0M1379.5 196.9h0M1380.5 166.7h0M1380.1 201.7h0M1380.0 314.5h0M1380.3 306.4h0M1379.6 326.1h0M1380.2 300.8h0M1381.5 190.6h0M1380.7 201.1h0M1381.4 174.7h0M1381.3 173.9h0M1380.8 340.0h0M1380.6 314.2h0M1380.9 312.3h0M1380.9 304.0h0M1382.3 138.2h0M1382.1 191.3h0M1382.3 199.9h0M1382.5 201.2h0M1382.2 331.2h0M1382.0 304.3h0M1381.8 310.8h0M1381.7 312.4h0M1382.9 192.0h0M1382.6 202.9h0M1383.3 154.3h0M1383.0 200.9h0M1382.9 297.9h0M1382.9 317.3h0M1382.7 300.4h0M1382.7 307.6h0M1384.1 202.8h0M1383.9 185.4h0M1383.8 170.4h0M1383.6 198.4h0M1383.7 301.4h0M1384.0 328.3h0M1384.2 305.9h0M1384.5 301.4h0M1385.0 176.9h0M1385.5 182.7h0M1384.8 195.9h0M1384.8 202.4h0M1384.7 307.2h0M1385.3 326.8h0M1385.5 297.2h0M1384.6 323.7h0M1386.4 176.9h0M1386.0 196.6h0M1385.8 198.2h0M1385.6 191.9h0M1386.4 298.2h0M1385.8 311.6h0M1386.3 302.6h0M1386.4 321.6h0M1386.7 200.3h0M1387.0 176.9h0M1386.7 179.8h0M1386.6 140.5h0M1386.7 297.0h0M1386.8 332.4h0M1386.5 313.9h0M1386.8 318.9h0M1387.8 201.1h0M1387.8 168.7h0M1388.3 203.4h0M1387.9 204.4h0M1388.2 307.0h0M1388.3 298.6h0M1388.5 358.9h0M1388.1 299.4h0M1389.3 199.3h0M1389.3 201.9h0M1388.7 204.2h0M1388.8 198.4h0M1388.6 327.9h0M1389.1 302.1h0M1388.8 310.3h0M1389.9 162.3h0M1390.4 194.9h0M1389.7 179.1h0M1390.0 166.2h0M1390.4 332.4h0M1390.3 323.4h0M1389.5 333.8h0M1389.6 314.3h0M1390.8 201.8h0M1391.2 191.4h0M1390.6 180.7h0M1391.0 197.9h0M1390.6 326.9h0M1390.7 319.1h0M1391.2 313.1h0M1390.9 323.9h0M1391.8 177.3h0M1392.1 203.6h0M1391.7 204.9h0M1392.0 174.5h0M1392.0 313.2h0M1391.9 330.7h0M1391.8 304.9h0M1391.9 298.6h0M1393.0 194.5h0M1393.2 160.6h0M1392.9 195.7h0M1393.3 189.9h0M1392.7 304.6h0M1393.4 314.3h0M1392.8 324.7h0M1392.7 308.3h0M1394.1 179.6h0M1394.3 200.3h0M1394.4 198.1h0M1394.2 189.3h0M1393.7 310.2h0M1393.7 316.9h0M1394.1 309.6h0M1394.0 312.3h0M1395.2 199.0h0M1394.6 201.8h0M1395.5 200.5h0M1394.7 154.6h0M1395.0 313.0h0M1395.0 311.2h0M1395.3 318.6h0M1395.3 342.7h0M1395.7 189.0h0M1396.0 187.5h0M1396.1 170.8h0M1396.1 187.4h0M1396.1 349.3h0M1396.1 319.3h0M1395.7 374.9h0M1396.5 345.3h0M1397.5 165.4h0M1396.6 204.5h0M1396.8 198.7h0M1396.6 188.4h0M1397.2 325.8h0M1397.0 307.0h0M1397.1 306.7h0M1397.0 299.3h0M1397.7 202.9h0M1397.6 195.8h0M1398.0 184.0h0M1397.6 197.9h0M1397.6 316.5h0M1397.7 361.9h0M1398.1 295.9h0M1398.3 306.3h0M1399.4 187.9h0M1399.0 175.8h0M1398.6 198.7h0M1399.3 180.4h0M1399.1 332.0h0M1398.7 324.5h0M1399.5 299.4h0M1399.5 317.9h0M1399.5 202.8h0M1400.5 190.4h0M1400.0 201.5h0M1400.4 199.4h0M1400.1 302.7h0M1399.7 298.4h0M1400.3 302.5h0M1400.0 307.1h0M1401.4 197.1h0M1400.6 192.3h0M1400.7 198.7h0M1401.5 179.5h0M1401.4 304.2h0M1400.9 355.6h0M1401.0 301.4h0M1401.3 306.3h0M1401.7 193.6h0M1401.8 202.6h0M1401.8 189.6h0M1402.2 134.1h0M1401.9 311.5h0M1402.1 298.0h0M1402.4 298.7h0M1401.8 317.1h0M1403.4 176.4h0M1403.1 200.0h0M1403.2 205.0h0M1403.2 191.5h0M1403.1 296.5h0M1402.5 318.8h0M1402.5 298.2h0M1402.7 298.7h0M1404.0 199.9h0M1403.7 203.3h0M1403.6 159.7h0M1404.2 198.3h0M1403.8 314.3h0M1404.0 306.6h0M1404.3 292.9h0M1404.1 307.7h0M1404.8 204.0h0M1405.1 205.9h0M1405.5 202.5h0M1405.2 202.8h0M1404.5 298.7h0M1405.2 292.6h0M1405.0 290.6h0M1405.3 294.4h0M1406.3 204.0h0M1406.0 202.5h0M1406.1 196.9h0M1405.9 206.5h0M1405.9 318.3h0M1405.6 328.0h0M1406.2 295.8h0M1406.1 307.1h0M1407.1 190.8h0M1407.4 204.3h0M1406.8 203.5h0M1407.3 190.9h0M1407.1 302.0h0M1406.9 320.6h0M1407.4 310.0h0M1407.5 297.9h0M1407.9 203.6h0M1408.4 183.8h0M1408.3 201.8h0M1407.7 200.9h0M1407.5 298.7h0M1407.7 288.9h0M1407.7 300.0h0M1407.9 297.3h0M1408.9 188.6h0M1408.8 193.2h0M1409.3 208.1h0M1408.6 201.0h0M1409.5 291.4h0M1409.2 287.7h0M1409.0 317.4h0M1409.0 289.4h0M1410.0 199.1h0M1409.6 193.9h0M1410.1 208.1h0M1410.4 195.9h0M1410.4 296.4h0M1409.6 305.5h0M1410.1 285.0h0M1410.3 289.4h0M1411.2 202.3h0M1410.5 208.6h0M1410.6 201.6h0M1411.0 192.2h0M1411.3 291.2h0M1411.1 295.3h0M1411.0 305.1h0M1410.6 286.9h0M1411.6 150.1h0M1411.5 171.1h0M1412.4 192.3h0M1411.8 202.7h0M1412.3 282.7h0M1412.3 285.0h0M1411.6 281.4h0M1411.8 355.3h0M1412.8 204.3h0M1413.5 199.7h0M1412.8 196.7h0M1412.8 209.1h0M1412.6 280.7h0M1412.7 282.4h0M1412.8 299.4h0M1412.7 278.4h0M1413.9 196.8h0M1413.8 189.9h0M1413.9 208.7h0M1413.6 204.8h0M1414.0 290.4h0M1413.6 276.9h0M1414.0 290.2h0M1413.8 283.0h0M1415.1 206.9h0M1414.6 199.6h0M1414.8 207.1h0M1414.8 210.2h0M1415.4 284.2h0M1414.7 280.1h0M1414.7 323.7h0M1414.7 274.5h0M1416.3 196.1h0M1416.0 176.0h0M1416.4 209.4h0M1416.5 204.7h0M1415.7 277.2h0M1415.8 291.9h0M1415.6 274.4h0M1415.6 273.6h0M1416.6 204.9h0M1417.0 210.1h0M1417.5 208.2h0M1417.4 201.0h0M1417.3 276.4h0M1417.1 285.9h0M1417.2 273.7h0M1416.9 279.2h0M1417.8 208.5h0M1418.1 198.6h0M1418.4 195.2h0M1418.0 207.7h0M1418.3 278.2h0M1418.1 277.1h0M1418.4 292.8h0M1418.0 275.2h0M1418.6 188.4h0M1419.3 217.9h0M1418.8 215.9h0M1419.4 219.0h0M1418.5 273.3h0M1418.9 283.3h0M1419.2 281.7h0M1418.9 276.9h0M1419.6 212.1h0M1420.1 218.6h0M1420.2 204.6h0M1420.1 198.3h0M1420.2 278.9h0M1420.1 274.7h0M1419.6 281.7h0M1420.2 308.9h0M1420.6 216.6h0M1421.4 196.5h0M1420.9 219.8h0M1421.2 206.8h0M1421.1 279.3h0M1421.5 273.1h0M1420.5 280.4h0M1421.3 274.9h0M1422.2 223.0h0M1422.1 219.2h0M1421.7 211.2h0M1422.0 204.7h0M1421.8 276.1h0M1422.1 274.1h0M1421.5 279.3h0M1422.1 273.0h0M1423.3 207.7h0M1423.1 204.3h0M1423.1 223.8h0M1422.6 219.5h0M1422.7 274.5h0M1422.5 270.8h0M1423.2 275.1h0M1423.0 285.8h0M1424.1 222.0h0M1423.7 225.0h0M1423.9 219.7h0M1424.0 218.2h0M1424.0 277.7h0M1423.8 273.3h0M1423.9 271.9h0M1424.0 277.6h0M1424.8 207.2h0M1424.6 216.9h0M1424.8 218.6h0M1424.8 214.7h0M1424.8 272.8h0M1424.8 273.5h0M1425.0 270.9h0M1425.3 273.2h0M1426.3 220.6h0M1426.1 222.0h0M1426.5 219.0h0M1426.0 225.3h0M1426.1 272.1h0M1425.6 278.5h0M1425.7 277.4h0M1426.3 271.8h0M1427.4 226.4h0M1427.3 228.9h0M1427.0 217.3h0M1426.6 220.9h0M1426.6 272.0h0M1426.6 271.6h0M1427.4 286.7h0M1427.1 275.5h0M1428.0 230.1h0M1428.2 220.8h0M1428.1 226.4h0M1428.1 222.8h0M1428.1 273.0h0M1427.9 276.3h0M1428.0 273.5h0M1428.2 281.3h0M1429.1 228.0h0M1429.4 225.4h0M1429.4 227.1h0M1428.8 221.2h0M1428.9 273.4h0M1429.5 273.3h0M1428.6 276.9h0M1429.3 272.7h0M1430.2 229.4h0M1430.2 228.6h0M1430.1 230.2h0M1429.9 230.1h0M1430.5 276.5h0M1429.6 271.3h0M1429.9 276.7h0M1429.8 275.3h0M1430.7 223.9h0M1430.9 217.8h0M1430.6 228.6h0M1430.7 228.0h0M1431.1 273.4h0M1431.1 278.7h0M1430.8 271.2h0M1431.2 272.1h0M1432.0 225.2h0M1432.0 231.5h0M1432.2 229.3h0M1431.8 224.9h0M1431.6 272.4h0M1431.6 278.3h0M1431.6 275.2h0M1431.9 278.2h0M1432.6 226.9h0M1433.0 232.4h0M1432.6 230.2h0M1432.7 226.5h0M1432.5 285.4h0M1433.3 275.6h0M1433.3 275.5h0M1433.2 284.7h0M1434.4 226.7h0M1433.7 231.2h0M1434.2 230.0h0M1434.0 223.8h0M1434.1 278.1h0M1433.5 273.9h0M1433.8 275.1h0M1433.6 280.4h0M1434.7 233.1h0M1435.3 224.8h0M1434.7 221.6h0M1434.9 233.2h0M1435.3 276.3h0M1434.7 272.4h0M1434.6 282.0h0M1435.0 285.0h0M1435.9 226.1h0M1435.6 231.5h0M1436.1 232.2h0M1435.7 232.0h0M1436.0 271.4h0M1435.8 270.8h0M1435.9 327.7h0M1436.0 282.8h0M1437.3 232.2h0M1437.0 233.7h0M1436.7 224.1h0M1436.8 227.8h0M1436.6 295.5h0M1437.4 273.6h0M1437.0 275.1h0M1437.2 283.5h0M1438.3 231.0h0M1437.8 234.0h0M1438.4 232.3h0M1437.8 230.5h0M1437.6 272.2h0M1438.1 281.7h0M1438.4 276.8h0M1438.4 275.5h0M1438.8 227.9h0M1439.1 226.4h0M1439.1 228.0h0M1438.9 230.2h0M1439.1 268.4h0M1439.2 268.6h0M1439.3 273.5h0M1439.1 273.6h0M1439.9 233.5h0M1439.9 232.9h0M1440.4 230.3h0M1439.5 234.6h0M1440.2 266.7h0M1440.4 269.8h0M1440.1 268.2h0M1439.7 273.7h0M1441.4 232.9h0M1441.0 228.7h0M1440.9 228.5h0M1440.6 228.1h0M1440.5 265.7h0M1441.1 269.6h0M1441.5 268.8h0M1440.8 271.5h0M1442.3 228.4h0M1441.8 234.6h0M1441.8 231.2h0M1441.8 234.2h0M1441.8 273.3h0M1441.5 270.5h0M1442.3 272.9h0M1442.3 270.8h0M1442.8 227.6h0M1443.1 228.1h0M1442.7 234.0h0M1443.0 233.6h0M1443.1 269.6h0M1442.8 285.3h0M1443.2 264.4h0M1442.9 265.7h0M1443.9 232.9h0M1443.5 224.7h0M1443.7 231.6h0M1444.0 231.3h0M1444.3 266.2h0M1443.6 264.3h0M1443.6 265.5h0M1443.6 265.5h0M1444.8 229.7h0M1444.6 231.7h0M1445.3 229.2h0M1444.8 232.1h0M1444.8 269.5h0M1445.4 264.3h0M1445.1 269.5h0M1444.9 269.2h0M1446.0 235.2h0M1446.1 233.9h0M1446.2 235.0h0M1445.5 235.3h0M1446.1 264.3h0M1445.9 269.0h0M1445.8 264.4h0M1445.7 262.8h0M1447.2 232.9h0M1447.2 233.7h0M1447.4 231.8h0M1447.2 231.8h0M1447.5 269.2h0M1446.8 265.6h0M1446.5 263.0h0M1446.8 261.3h0M1448.3 231.2h0M1448.1 234.2h0M1447.9 231.8h0M1448.2 231.6h0M1448.0 266.2h0M1447.9 267.2h0M1447.6 262.8h0M1447.7 263.7h0M1449.5 234.6h0M1448.8 235.5h0M1448.7 234.9h0M1449.1 233.8h0M1448.6 266.3h0M1449.1 264.9h0M1449.4 262.4h0M1449.5 270.3h0M1449.8 235.4h0M1450.0 229.9h0M1449.6 232.8h0M1449.8 233.1h0M1450.4 263.5h0M1449.6 266.6h0M1450.3 273.9h0M1450.3 265.5h0M1451.0 235.8h0M1450.5 234.8h0M1451.0 235.8h0M1451.1 233.3h0M1450.5 273.4h0M1451.3 262.8h0M1451.1 268.4h0M1450.9 266.2h0M1451.8 231.2h0M1452.0 232.4h0M1451.6 234.2h0M1452.5 231.9h0M1452.1 278.6h0M1451.7 272.6h0M1452.3 271.3h0M1451.7 273.1h0M1453.1 230.7h0M1452.8 231.7h0M1452.8 235.5h0M1453.1 236.0h0M1452.6 264.5h0M1453.0 266.6h0M1453.5 265.2h0M1453.2 266.3h0M1453.7 225.0h0M1454.0 232.2h0M1454.4 230.5h0M1453.8 234.6h0M1454.3 267.7h0M1453.8 268.3h0M1453.8 276.6h0M1454.3 275.1h0M1454.7 235.4h0M1455.4 232.7h0M1455.3 235.2h0M1455.3 236.2h0M1455.1 264.2h0M1455.0 269.5h0M1455.2 263.7h0M1455.3 264.7h0M1456.1 230.9h0M1455.8 236.1h0M1456.4 232.2h0M1455.8 226.5h0M1455.5 294.9h0M1455.6 280.8h0M1456.0 274.5h0M1455.6 273.7h0M1456.8 224.2h0M1456.6 235.6h0M1456.8 231.9h0M1457.2 233.3h0M1457.5 266.7h0M1456.9 278.7h0M1456.7 276.5h0M1457.4 275.1h0M1457.7 235.3h0M1458.1 224.8h0M1458.4 236.5h0M1458.1 230.7h0M1458.4 264.9h0M1457.6 265.8h0M1457.6 272.8h0M1458.3 273.4h0M1459.3 235.1h0M1458.9 232.6h0M1459.2 236.6h0M1458.5 235.3h0M1458.6 266.3h0M1459.2 270.7h0M1459.3 267.2h0M1458.7 267.6h0M1460.2 234.7h0M1460.4 234.0h0M1459.6 235.9h0M1459.9 234.1h0M1460.1 274.3h0M1460.1 268.9h0M1460.1 269.5h0M1459.5 289.0h0M1461.3 236.1h0M1461.3 233.9h0M1460.9 233.9h0M1461.5 234.8h0M1460.5 271.4h0M1461.0 269.0h0M1460.5 266.9h0M1461.4 267.5h0M1461.9 232.1h0M1461.9 233.6h0M1462.4 235.2h0M1461.6 236.5h0M1461.9 270.2h0M1462.4 267.0h0M1462.1 277.5h0M1461.8 284.8h0M823.0 220.7h0M821.7 217.7h0M821.5 266.1h0M822.0 262.6h0M822.6 268.2h0M823.0 209.0h0M823.7 184.3h0M823.9 187.1h0M823.7 219.6h0M823.3 223.1h0M822.9 269.5h0M824.7 267.6h0M823.3 258.9h0M827.4 217.9h0M825.8 272.6h0M826.0 283.5h0M825.8 272.0h0M829.8 177.4h0M828.9 230.8h0M829.1 292.9h0M829.9 277.6h0M830.5 263.8h0M831.8 196.5h0M832.9 290.1h0M833.3 270.0h0M832.0 264.7h0M832.9 281.5h0M833.3 229.3h0M834.6 206.6h0M834.3 230.6h0M833.9 231.0h0M834.8 226.7h0M833.9 269.0h0M834.8 298.5h0M838.2 221.8h0M838.1 210.2h0M837.8 234.9h0M838.0 204.9h0M837.2 225.2h0M837.6 222.4h0M838.6 215.6h0M838.5 308.6h0M837.1 276.9h0M836.9 278.8h0M837.0 281.9h0M839.1 231.2h0M839.6 214.1h0M840.2 210.8h0M839.7 207.7h0M838.8 227.1h0M839.1 296.0h0M839.3 301.8h0M838.8 287.3h0M839.4 313.4h0M840.3 268.9h0M841.6 206.2h0M840.9 269.1h0M841.7 259.8h0M844.5 235.2h0M844.7 211.2h0M845.3 175.0h0M847.2 230.3h0M846.1 203.2h0M847.0 285.3h0M846.4 276.2h0M848.4 231.5h0M848.7 237.0h0M847.9 199.9h0M849.8 207.1h0M849.6 294.6h0M848.8 293.2h0M848.1 290.4h0M848.1 274.8h0M849.2 290.1h0M851.6 195.1h0M852.0 214.5h0M850.7 182.9h0M852.0 216.3h0M851.7 219.1h0M851.3 229.7h0M852.0 221.9h0M851.5 271.8h0M853.6 226.7h0M853.5 219.1h0M852.9 224.7h0M854.0 185.2h0M853.8 217.5h0M853.0 186.5h0M853.5 175.7h0M852.5 292.7h0M853.7 273.7h0M853.5 298.3h0M856.7 237.8h0M855.8 282.4h0M856.4 302.7h0M856.1 282.6h0M857.9 224.0h0M858.6 215.3h0M859.0 219.2h0M858.0 218.5h0M859.0 263.8h0M857.9 281.2h0M857.7 269.2h0M862.1 238.0h0M862.6 211.8h0M861.1 225.1h0M861.8 270.3h0M861.9 267.3h0M861.2 309.9h0M864.0 219.3h0M864.1 283.0h0M863.5 276.6h0M864.8 295.4h0M866.8 192.3h0M867.0 221.7h0M867.2 218.7h0M866.0 221.3h0M867.0 209.4h0M866.5 262.7h0M866.4 311.0h0M866.3 269.5h0M866.1 266.8h0M869.3 208.9h0M870.3 221.4h0M870.0 287.3h0M870.0 290.1h0M870.6 263.3h0M870.7 267.7h0M869.7 269.7h0M871.4 231.7h0M872.5 220.2h0M871.7 172.0h0M871.8 193.6h0M872.9 214.1h0M873.3 207.2h0M872.0 167.3h0M872.8 284.5h0M872.7 262.6h0M873.3 313.8h0M875.7 212.3h0M875.7 227.8h0M874.9 219.7h0M875.7 229.5h0M873.9 294.1h0M874.8 290.1h0M875.3 274.4h0M875.7 260.2h0M874.2 281.6h0M876.7 216.8h0M876.5 227.0h0M875.8 207.7h0M877.3 166.8h0M875.8 261.6h0M877.3 300.5h0M876.4 313.5h0M877.0 284.0h0M876.6 302.8h0M879.4 209.4h0M880.2 158.2h0M880.0 264.6h0M879.4 285.7h0M879.6 323.3h0M882.5 212.5h0M880.9 208.8h0M881.0 228.5h0M881.6 226.5h0M881.3 274.3h0M881.2 314.2h0M881.4 278.3h0M882.4 275.5h0M884.6 185.7h0M885.3 272.4h0M884.2 262.6h0M884.9 286.0h0M884.7 263.2h0M887.4 223.6h0M886.4 287.6h0M886.4 258.2h0M886.2 291.2h0M886.3 286.0h0M886.1 275.5h0M890.7 229.3h0M890.3 232.0h0M889.9 215.1h0M890.2 204.6h0M890.3 288.4h0M889.1 270.1h0M888.8 280.7h0M892.7 222.0h0M893.3 222.1h0M892.0 217.4h0M891.8 195.6h0M892.0 211.1h0M892.8 220.4h0M892.9 212.3h0M893.9 225.4h0M895.4 204.0h0M895.0 185.2h0M894.7 276.9h0M896.8 220.8h0M897.1 189.6h0M898.4 231.8h0M898.6 230.7h0M897.4 229.2h0M897.8 282.1h0M897.6 267.2h0M896.8 314.9h0M897.8 276.6h0M899.9 191.0h0M900.5 229.9h0M900.3 198.0h0M901.1 215.1h0M899.4 269.1h0M899.5 267.3h0M900.2 274.3h0M900.1 283.3h0M902.1 224.1h0M901.6 236.4h0M902.9 224.3h0M902.2 268.8h0M902.1 296.5h0M902.3 323.8h0M1418.8 195.7h0M1429.7 191.2h0M1428.4 297.6h0M1422.9 291.3h0M1429.8 303.4h0M1422.0 300.1h0M1439.9 215.2h0M1415.3 214.1h0M1441.1 215.9h0M1441.6 276.9h0M1441.1 214.2h0M1435.1 207.2h0M1432.4 204.8h0M1432.8 288.2h0M1435.1 214.8h0M1435.5 279.2h0M1429.2 277.8h0M1418.0 311.7h0M1414.9 206.1h0M1423.5 198.4h0M1413.9 306.4h0M1421.2 188.3h0M1438.5 278.1h0M1439.2 281.6h0M1441.6 215.0h0M1437.9 283.2h0M1431.1 281.5h0M1438.0 280.0h0M1424.9 280.6h0M1425.4 280.4h0M1435.6 282.1h0M1437.2 206.9h0M1438.5 278.8h0M1416.1 158.8h0M1150.1 381.0h0M1150.1 414.0h0M1149.1 418.0h0M1150.4 437.0h0M1150.6 471.0h0M1149.4 483.0h0M1148.9 497.0h0M1150.6 143.0h0M1150.7 130.0h0M1149.7 118.0h0M1150.3 108.0h0M1150.0 96.0h0M1150.5 74.0h0M1150.0 62.0h0" stroke="#1f77b4" stroke-width="5.5" stroke-linecap="round" fill="none"/>
<path d="M116.1 261.2 117.0 256.1 118.2 248.7 118.9 245.2 119.6 251.6 120.8 263.2 121.1 266.1 122.2 269.5 123.2 269.7 124.5 273.0 124.7 272.3 125.7 265.5 126.8 258.1 127.1 256.2 128.1 254.0 129.3 254.9 129.6 253.3 130.5 252.0 131.6 249.8 132.8 248.4 133.0 247.4 133.8 247.6 135.0 249.0 135.6 249.0 136.5 248.1 137.6 248.1 138.2 246.4 138.6 247.9 139.7 248.7 140.8 252.4 141.6 252.7 142.3 254.7 143.8 256.8 144.9 259.7 145.0 259.6 146.3 262.5 147.5 264.1 147.9 265.2 148.5 264.5 150.0 260.2 151.0 256.9 151.5 256.3 152.7 258.3 153.8 256.4 154.9 257.5 155.2 257.3 156.0 261.6 157.2 267.6 158.3 272.7 158.6 274.8 159.6 270.4 161.1 265.2 161.2 264.4 162.1 266.2 163.6 268.9 164.3 270.5 164.7 268.3 166.0 262.5 167.0 257.9 168.1 253.7 168.9 249.5 169.3 247.7 170.6 246.8 171.7 242.5 172.3 242.1 173.2 239.1 174.4 236.3 174.8 235.0 175.9 236.9 177.0 240.3 178.0 240.7 178.3 241.9 179.4 240.8 180.6 238.2 180.8 238.1 181.8 237.3 182.9 238.0 184.2 237.4 185.1 236.2 185.6 236.5 186.7 237.7 188.1 239.6 189.3 239.1 190.2 240.8 190.4 241.2 191.7 242.1 192.8 242.4 194.3 245.5 195.3 245.7 195.4 245.4 196.8 241.6 198.2 238.7 199.6 235.0 199.6 233.9 200.9 231.5 202.0 230.8 203.4 228.8 203.9 228.3 204.4 228.7 205.7 232.4 206.4 233.5 207.0 233.1 208.3 232.4 209.0 231.9 209.6 231.8 211.0 231.3 211.5 231.0 212.2 234.5 213.2 241.2 213.2 240.5 214.7 241.6 216.1 242.9 216.7 243.3 217.2 242.2 218.2 240.2 219.2 238.0 219.7 239.2 221.1 241.1 222.5 243.0 223.5 243.7 223.7 244.5 224.9 246.1 226.1 247.3 227.6 249.6 227.7 250.4 228.7 252.3 230.2 254.8 231.2 257.7 231.3 258.5 232.6 256.1 233.9 253.0 235.4 252.2 236.3 249.9 236.8 248.9 238.1 246.8 239.2 244.0 239.7 243.2 240.6 244.8 241.4 245.6 242.1 245.3 243.1 240.8 244.3 239.2 244.8 238.2 245.4 238.0 246.8 237.4 248.2 237.1 249.6 236.5 250.7 235.9 250.8 236.4 251.9 239.1 253.0 240.2 254.4 240.9 255.1 242.4 255.5 244.7 256.8 248.8 258.2 255.0 259.5 260.5 259.8 262.0 260.9 259.3 262.3 256.2 263.4 253.3 263.6 253.7 264.8 251.4 265.9 249.6 266.9 248.7 267.0 248.2 268.2 250.1 269.3 252.8 270.4 254.2 270.4 254.3 271.6 250.2 272.8 248.0 273.8 243.9 273.9 245.2 275.1 249.8 276.5 255.4 277.8 260.8 278.1 263.3 279.1 260.5 280.2 257.8 280.6 257.8 281.3 256.3 282.5 251.8 283.2 249.9 283.7 252.1 285.0 257.3 285.8 260.0 286.5 256.3 287.5 252.8 288.3 247.5 288.9 251.8 290.3 261.2 291.4 268.0 291.7 270.4 292.4 269.5 293.5 264.8 294.7 263.0 295.2 261.4 295.8 260.1 296.8 257.8 298.0 257.2 299.4 255.1 300.6 251.7 301.1 252.2 301.8 249.2 303.1 246.9 304.4 243.8 305.4 240.4 305.5 241.6 306.7 242.9 307.9 244.6 308.8 245.2 309.3 245.8 310.6 243.7 311.9 243.4 313.0 242.3 313.9 242.6 314.0 241.8 315.1 241.8 316.4 240.9 317.3 239.4 317.6 239.8 318.7 240.9 319.7 242.7 321.2 245.4 322.2 245.2 322.5 245.9 323.2 244.4 324.6 242.5 325.9 240.4 326.0 241.7 327.4 238.9 328.6 240.6 330.0 239.2 330.0 238.8 331.0 238.4 331.1 236.9 332.2 233.7 333.5 230.5 333.7 229.2 334.7 233.8 335.8 236.0 336.2 238.1 337.2 238.8 338.6 238.1 338.8 239.1 339.7 237.3 340.8 233.5 341.3 233.1 341.9 233.1 343.2 235.3 344.4 237.3 345.6 237.7 345.7 238.5 346.8 240.6 347.9 244.0 349.3 247.4 350.6 250.9 350.7 251.9 351.8 252.8 353.0 252.7 354.4 255.0 355.0 255.1 355.6 258.8 357.1 262.9 357.9 267.6 358.2 263.3 359.4 255.6 360.7 245.1 361.0 242.0 361.9 241.4 362.7 240.7 363.2 237.2 364.2 230.1 364.7 227.4 365.7 235.0 366.4 242.4 366.9 238.3 368.3 230.8 369.5 222.5 370.0 218.4 370.9 224.4 372.0 231.1 372.9 236.1 373.0 235.9 374.5 232.3 374.6 232.2 375.7 234.9 376.8 237.7 378.0 240.5 378.9 242.5 379.0 243.1 380.2 240.8 381.3 242.1 382.7 239.8 383.1 240.6 383.9 244.3 385.0 249.5 385.7 253.7 386.2 251.6 387.4 251.3 387.5 251.1 388.9 254.7 390.1 256.3 390.3 257.6 391.4 254.7 392.6 249.8 394.0 246.3 395.1 242.1 395.2 241.2 396.5 236.6 397.8 230.0 399.2 224.3 399.4 223.3 400.2 227.5 401.1 232.2 401.3 231.1 402.3 228.9 403.6 224.2 403.7 224.9 405.0 224.1 405.3 224.0 406.0 231.0 407.4 245.7 407.5 247.5 408.8 240.6 409.6 237.5 410.0 238.5 411.2 241.0 412.6 244.8 413.0 245.9 414.1 244.6 415.6 245.2 417.0 242.6 417.3 243.3 418.3 243.3 419.6 243.5 420.8 242.7 421.8 242.7 422.4 243.6 423.3 245.2 424.8 249.2 425.5 251.8 425.9 250.2 426.9 245.4 427.5 242.4 428.2 242.3 429.3 240.1 430.5 239.9 430.9 238.6 432.0 241.6 433.4 244.2 433.5 244.0 434.8 242.9 436.0 240.9 436.1 240.3 437.5 241.5 438.6 242.5 439.0 240.3 440.3 234.7 440.4 234.9 441.9 241.0 442.0 240.5 443.2 233.8 444.5 228.6 444.6 227.8 445.6 230.6 446.8 235.2 448.0 239.0 448.0 239.1 449.5 239.6 450.6 241.7 451.4 242.4 451.8 241.9 453.1 239.0 453.2 239.7 454.5 242.4 454.8 243.3 455.6 233.9 456.8 220.7 456.9 220.6 457.9 229.8 458.9 238.2 459.6 243.8 460.1 243.4 461.2 244.5 461.6 243.9 462.3 241.9 463.4 239.3 464.2 236.7 464.6 237.1 466.0 242.6 466.8 245.8 467.1 245.3 468.6 247.3 469.7 246.2 470.2 247.8 470.9 251.3 472.2 257.5 472.7 260.4 473.5 257.9 475.0 251.5 476.2 249.6 477.0 245.6 477.6 247.8 478.8 249.1 480.3 253.8 481.8 257.2 482.1 257.6 483.0 257.5 484.0 257.5 485.3 257.5 486.5 258.3 487.2 257.4 487.8 256.4 488.9 250.1 490.3 245.7 491.5 240.1 492.4 237.3 492.8 238.3 493.9 242.2 494.9 246.2 495.3 245.4 496.4 246.4 497.7 247.7 498.3 247.2 499.0 247.8 500.1 249.0 501.4 249.4 502.6 250.0 502.8 249.6 504.0 245.8 505.2 243.1 506.5 237.7 506.9 237.3 507.9 239.4 509.1 242.5 509.4 243.5 510.3 241.8 511.4 241.0 512.5 239.7 512.8 238.6 513.8 232.3 514.8 224.3 515.9 217.0 516.1 221.3 517.5 246.7 518.0 254.4 518.6 253.5 519.8 252.6 521.2 249.9 522.2 249.3 522.3 249.8 523.8 254.3 524.8 255.8 525.2 253.7 526.5 250.1 526.5 249.9 527.8 254.4 529.0 259.5 529.3 258.8 530.4 259.9 531.6 259.3 531.8 258.8 533.3 254.1 534.2 250.5 534.7 251.9 535.7 251.2 536.7 251.8 536.9 251.5 538.4 249.0 539.4 246.4 540.0 245.7 540.6 244.8 541.1 242.0 541.7 241.3 542.8 237.1 543.3 235.5 543.9 236.9 545.4 240.4 545.4 240.4 546.5 240.3 547.8 240.7 549.3 240.4 550.5 240.5 550.7 239.8 552.2 237.3 552.2 237.5 553.4 239.6 553.9 240.8 554.8 237.6 555.8 233.1 555.9 233.1 557.0 237.0 558.0 243.8 558.2 243.0 559.2 239.2 559.9 237.3 560.4 238.9 561.7 242.5 562.4 244.2 562.9 242.6 564.1 238.8 564.2 238.7 565.5 241.3 566.6 242.8 567.7 244.7 568.4 245.7 569.0 246.4 570.1 246.7 571.3 247.2 571.8 247.1 572.7 245.4 573.5 244.2 574.1 244.7 575.3 248.6 576.1 250.6 576.7 249.9 577.7 247.3 577.8 248.6 578.9 248.4 580.1 250.0 580.3 251.2 581.5 248.8 582.7 248.8 582.9 247.4 583.9 247.3 585.3 249.3 585.5 248.9 586.8 247.6 587.9 244.0 588.0 245.1 589.2 244.2 590.5 245.3 591.4 245.0 591.7 244.1 592.8 244.3 593.9 242.6 594.8 242.4 595.3 242.3 596.7 241.3 597.8 242.0 599.1 241.8 599.1 242.2 600.2 242.6 601.3 242.6 602.5 244.0 603.4 243.8 603.6 245.3 604.8 244.2 606.0 245.3 607.3 246.2 608.5 246.4 608.6 247.5 610.1 249.4 610.2 249.3 611.3 247.9 612.5 246.1 613.6 245.0 614.0 244.5 615.4 245.2 616.6 245.6 617.0 245.0 617.8 245.2 618.9 245.9 620.4 244.3 620.4 245.4 621.8 242.5 623.0 242.2 624.4 238.9 625.9 238.2 626.4 236.3 626.9 237.1 628.0 239.2 629.2 240.3 630.4 241.6 630.7 242.1 631.5 242.0 632.9 240.6 634.1 237.9 635.5 238.1 635.8 237.4 637.0 236.3 638.3 235.1 639.6 235.9 640.9 233.8 641.0 234.8 642.3 234.5 643.6 237.5 644.3 237.9 644.7 238.2 645.7 235.9 646.9 234.0 647.4 232.8 648.0 236.3 649.3 241.7 649.5 242.7 650.4 243.0 651.5 243.8 652.8 245.8 653.9 245.4 654.6 246.7 655.0 246.1 656.1 246.3 657.1 244.8 658.5 244.7 658.8 243.8 659.7 244.7 660.8 245.9 661.4 246.6 662.2 245.9 663.5 245.3 664.0 245.3 664.9 245.1 666.0 247.5 666.5 248.5 667.1 248.1 668.3 247.1 669.6 246.9 670.9 246.9 671.6 246.2 671.9 246.5 673.4 247.9 674.6 246.7 675.8 247.4 676.8 248.1 676.8 249.5 678.2 247.1 679.6 248.5 680.9 246.9 682.1 246.9 683.3 247.8 683.6 247.2 684.5 246.6 685.9 247.8 687.0 246.2 688.1 247.6 689.6 246.7 690.6 245.9 692.0 245.3 692.1 245.8 693.3 245.3 694.8 245.1 696.0 244.8 697.2 246.4 698.6 244.9 699.9 246.1 700.6 244.9 701.1 245.3 702.5 246.1 703.9 247.5 704.1 247.0 705.4 246.2 706.6 246.4 707.6 245.5 709.0 244.4 709.2 244.9 710.3 244.9 711.5 244.8 712.6 246.2 712.9 244.8 714.2 245.7 715.5 244.1 716.0 244.4 716.5 245.2 717.6 244.8 718.8 245.4 719.4 245.5 720.2 246.1 721.3 245.8 722.6 244.3 723.8 245.0 725.1 243.5 726.2 243.7 726.3 243.7 727.7 244.3 728.9 243.1 730.4 243.1 731.4 243.6 731.7 241.9 732.8 242.3 733.8 241.6 733.9 240.7 735.0 241.9 736.5 242.0 737.6 243.7 738.9 243.8 739.0 244.5 740.2 244.1 741.4 244.6 742.5 242.8 742.8 243.0 744.2 237.6 745.0 236.7 745.2 236.0 746.7 235.3 747.6 234.5 748.2 234.8 749.5 235.4 750.0 235.6 750.8 235.8 751.9 233.0 753.3 232.9 754.3 229.6 755.4 230.1 756.5 227.0 756.6 228.4 757.8 223.4 758.9 219.5 760.0 214.1 760.0 215.4 761.3 217.9 762.7 219.4 763.8 221.8 764.3 223.0 765.1 222.3 766.6 221.1 768.0 220.8 768.2 220.0 769.0 221.3 770.3 222.3 771.8 222.9 773.2 226.2 773.3 225.2 774.6 221.4 775.6 216.7 776.8 213.5 778.1 209.4 778.4 207.2 779.5 206.9 780.8 205.1 782.2 204.0 782.3 204.0 783.6 208.5 784.7 212.6 784.8 212.6 786.2 207.2 787.4 202.2 787.5 201.9 788.6 202.5 789.8 204.3 789.9 203.4 791.0 210.0 792.3 216.8 792.5 217.7 793.5 213.0 794.8 204.8 795.8 201.0 796.3 202.7 797.4 206.3 798.8 211.2 799.4 212.7 800.2 210.5 801.5 205.5 802.7 201.8 802.7 200.9 803.7 209.4 805.0 222.8 806.4 233.4 807.1 241.1 807.8 231.5 809.1 217.8 809.3 219.2 810.5 223.2 812.0 227.5 812.9 230.8 813.1 230.5 814.1 230.0 815.5 229.2 815.5 229.1 817.0 234.7 818.1 240.5 819.3 244.3 819.3 244.3 820.6 244.0 822.0 246.2 822.4 246.2 823.3 244.7 824.5 242.9 825.7 239.3 826.0 240.0 827.0 241.1 828.4 245.5 829.6 247.0 829.8 246.5 830.8 246.7 831.9 247.7 833.2 246.6 834.3 246.5 835.8 245.5 836.0 245.8 837.2 245.1 838.3 244.4 839.4 243.8 840.9 241.9 841.1 242.1 842.4 242.5 843.5 245.7 844.9 246.6 846.1 248.5 846.2 248.4 847.4 247.8 848.6 246.4 850.0 246.0 850.1 245.7 851.3 246.3 852.8 246.3 853.9 246.1 854.9 246.2 856.4 246.9 857.4 247.6 857.7 247.3 858.6 246.3 859.7 248.4 860.8 247.3 862.1 248.5 863.4 247.2 864.8 248.3 865.4 248.7 866.0 247.2 867.1 245.1 868.3 243.1 869.4 240.9 870.6 239.3 871.0 238.3 871.6 239.3 872.7 242.9 874.1 245.6 874.4 246.9 875.3 246.0 876.5 244.5 877.7 242.9 879.0 242.8 880.4 239.8 881.7 239.4 882.1 238.2 883.0 241.2 884.3 242.1 885.8 246.3 885.9 245.7 887.1 243.7 888.2 240.7 889.0 239.8 889.5 239.7 890.5 242.5 891.9 243.7 892.9 244.8 893.6 246.3 894.2 245.5 895.3 247.1 896.6 246.9 897.7 247.4 898.7 248.2 898.8 249.1 900.0 247.7 901.0 247.9 902.2 247.0 903.6 246.8 905.0 245.9 906.1 244.4 907.5 246.1 908.8 242.5 908.9 245.0 910.0 237.6 911.5 231.4 912.0 227.6 912.6 231.1 913.8 237.2 914.9 244.6 915.3 246.6 916.0 244.7 917.1 238.2 917.9 233.7 918.2 235.3 919.6 228.0 921.1 222.4 921.7 220.4 922.3 224.3 923.4 236.8 924.5 248.8 924.8 249.9 925.6 245.1 926.6 243.7 928.1 236.3 928.1 234.9 929.6 236.4 930.7 238.7 931.8 238.0 932.0 239.5 933.1 243.8 934.5 244.8 935.9 250.8 936.9 251.8 937.1 253.8 937.9 250.9 939.1 251.5 940.4 247.9 941.5 243.6 942.2 244.7 942.6 243.6 943.8 240.9 944.8 239.2 945.0 237.3 946.1 246.1 947.3 254.1 948.4 260.3 949.7 269.8 949.9 269.9 951.1 259.6 952.2 251.8 953.6 240.7 954.7 229.9 955.0 230.0 956.2 235.5 957.6 247.1 957.6 245.2 958.8 254.3 960.1 260.1 961.2 266.5 961.4 269.5 962.6 258.7 963.8 247.0 964.0 246.3 965.0 249.9 966.3 260.7 967.6 268.2 967.8 269.0 968.8 261.7 970.2 254.6 971.7 245.1 972.8 240.5 972.9 240.3 974.3 237.3 975.5 241.9 977.0 237.1 978.3 239.2 979.3 238.3 981.0 238.4 982.7 227.7 984.9 251.3 986.7 233.4 988.8 244.6 990.6 242.0 992.3 232.3 994.1 247.9 996.4 235.5 998.0 242.1 1000.6 248.6 1003.1 239.6 1005.4 248.0 1007.2 240.3 1009.3 251.6 1011.4 234.1 1013.8 236.6 1016.1 242.3 1018.6 244.4 1020.9 244.5 1022.9 250.0 1025.4 241.6 1027.4 260.6 1029.7 243.2 1031.9 250.2 1034.2 239.4 1035.8 251.5 1037.5 241.2 1039.3 253.8 1041.4 242.7 1043.1 252.3 1045.0 235.1 1046.6 258.9 1048.4 245.9 1050.7 246.2 1052.3 249.8 1054.7 245.7 1056.4 253.3 1058.4 247.8 1060.4 256.6 1062.9 246.1 1065.3 256.1 1067.4 249.2 1069.6 261.1 1071.6 242.3 1074.0 258.2 1075.8 247.6 1077.5 252.1 1079.5 251.5 1081.7 251.1 1083.5 249.3 1085.1 249.3 1087.3 234.8 1089.4 247.7 1091.8 228.5 1094.1 240.3 1096.0 242.6 1097.9 232.3 1100.1 234.2 1102.0 237.3 1104.5 244.8 1106.6 249.5 1108.8 250.2 1111.4 243.1 1113.3 243.7 1115.2 240.8 1117.1 252.4 1119.1 233.1 1121.6 245.2 1124.1 248.6 1125.8 235.3 1127.7 246.4 1129.8 237.6 1131.6 237.1 1134.0 245.5 1136.5 238.6 1139.0 243.3 1141.2 244.1 1142.8 238.9 1144.9 243.1 1146.6 247.6 1148.5 257.1 1150.2 237.5 1152.2 250.8 1154.0 250.4 1156.2 242.0 1158.0 237.5 1159.8 246.6 1161.6 235.8 1163.8 248.6 1166.1 242.8 1168.3 239.8 1170.3 233.5 1172.6 251.3 1174.5 236.0 1177.1 233.2 1179.1 235.1 1181.2 240.2 1183.6 234.4 1185.6 237.3 1188.0 242.4 1190.4 240.8 1192.4 239.8 1194.8 240.9 1197.3 239.4 1199.0 240.1 1201.4 252.8 1203.5 243.4 1205.5 247.3 1207.4 245.5 1209.2 249.2 1211.6 242.0 1213.9 249.2 1216.5 241.8 1219.1 234.2 1221.0 248.9 1222.6 231.5 1224.9 246.4 1226.8 248.7 1228.9 237.6 1231.4 239.2 1233.8 246.8 1235.8 243.4 1237.6 236.9 1240.0 230.6 1242.0 245.0 1243.6 230.1 1246.1 248.5 1248.1 234.3 1250.3 241.5 1252.8 235.1 1254.8 249.8 1256.5 239.9 1259.0 251.0 1261.3 235.2 1263.4 247.3 1265.3 238.0 1267.0 234.7 1268.8 254.2 1271.2 230.9 1273.1 254.5 1275.1 236.6 1276.7 239.6 1278.7 245.9 1281.0 240.9 1283.2 244.4 1285.2 240.5 1287.7 239.7 1289.7 248.4 1291.5 239.2 1293.7 244.2 1295.5 240.7 1297.2 242.7 1299.3 238.0 1301.3 245.9 1303.1 238.6 1305.1 242.7 1306.9 245.7 1309.0 229.1 1311.1 240.0 1313.6 233.3 1315.8 240.5 1318.2 235.9 1319.8 235.1 1321.4 249.3 1323.3 227.5 1325.3 245.2 1327.3 235.3 1329.4 238.8 1331.9 245.8 1333.6 248.3 1335.7 241.2 1338.1 231.2 1340.4 255.0 1342.4 240.6 1344.7 245.4 1346.7 234.4 1348.8 247.4 1350.8 233.7 1352.7 239.1 1354.6 244.7 1356.7 237.0 1359.3 250.4 1361.7 242.1 1363.6 244.2 1365.2 236.3 1367.0 243.8 1369.5 243.2 1371.1 251.8 1373.4 240.9 1375.9 245.1 1378.2 244.5 1379.8 244.4 1381.8 249.3 1383.7 244.3 1386.1 247.2 1388.5 244.9 1390.6 245.6 1392.4 249.2 1394.9 246.7 1396.7 245.0 1398.6 247.1 1400.8 254.1 1402.8 245.5 1405.4 253.4 1407.9 243.7 1409.8 251.9 1411.6 241.2 1413.6 249.4 1416.1 246.7 1417.8 246.1 1419.8 246.5 1422.1 245.5 1424.2 247.3 1426.1 246.9 1427.8 247.0 1430.1 248.4 1432.1 244.9 1433.8 247.5 1436.0 246.7 1438.1 247.1 1439.8 246.4 1442.0 247.4 1443.8 246.9 1445.6 247.0 1448.1 247.0 1450.6 246.2 1452.5 247.0 1454.7 246.7 1457.2 246.4 1458.8 246.1 1460.6 246.3" stroke="#ff7f0e" stroke-width="2.3" stroke-linejoin="round" stroke-linecap="butt" fill="none"/>
</g>
<clipPath id="cb"><rect x="115.5" y="575.5" width="1347.0" height="479.0"/></clipPath>
<g clip-path="url(#cb)">
<rect x="752.4" y="570.5" width="663.2" height="489.0" fill="#d3d3d3" fill-opacity="0.5" stroke="#d3d3d3" stroke-opacity="0.5" stroke-width="1.11"/>
<path d="M115.50 1054.5V575.5M284.50 1054.5V575.5M452.50 1054.5V575.5M620.50 1054.5V575.5M789.50 1054.5V575.5M957.50 1054.5V575.5M1126.50 1054.5V575.5M1294.50 1054.5V575.5M115.5 1033.50H1462.5M115.5 955.50H1462.5M115.5 877.50H1462.5M115.5 799.50H1462.5M115.5 721.50H1462.5M115.5 643.50H1462.5" stroke="#b0b0b0" stroke-width="1.11" stroke-dasharray="1.11 1.83" fill="none"/>
<path d="M115.5 1026.0 116.5 1025.2 117.5 1024.3 118.5 1023.7 119.5 1023.8 120.5 1024.5 121.5 1024.7 122.5 1024.5 123.5 1023.5 124.5 1022.3 125.5 1021.1 126.5 1019.9 127.5 1019.0 128.5 1018.4 129.5 1017.8 130.5 1017.2 131.5 1016.5 132.5 1015.8 133.5 1014.6 134.5 1013.5 135.5 1012.2 136.5 1012.3 137.5 1012.6 138.5 1012.0 139.5 1010.4 140.5 1009.2 141.5 1009.1 142.5 1010.8 143.5 1011.6 144.5 1011.9 145.5 1011.1 146.5 1010.7 147.5 1010.3 148.5 1009.9 149.5 1009.4 150.5 1009.0 151.5 1008.7 152.5 1008.8 153.5 1009.0 154.5 1009.3 155.5 1009.1 156.5 1008.2 157.5 1005.8 158.5 1003.6 159.5 1001.3 160.5 1000.5 161.5 999.6 162.5 998.9 163.5 999.1 164.5 993.0 165.5 984.9 166.5 981.2 167.5 975.8 168.5 970.0 169.5 963.1 170.5 959.7 171.5 969.3 172.5 978.0 173.5 986.9 174.5 990.3 175.5 989.1 176.5 987.9 177.5 987.3 178.5 990.1 179.5 992.9 180.5 993.9 181.5 993.1 182.5 992.3 183.5 992.3 184.5 991.7 185.5 990.9 186.5 989.5 187.5 988.3 188.5 988.8 189.5 990.5 190.5 992.2 191.5 993.2 192.5 992.8 193.5 991.8 194.5 990.7 195.5 987.8 196.5 979.0 197.5 976.8 198.5 983.8 199.5 989.1 200.5 991.6 201.5 993.1 202.5 991.6 203.5 990.2 204.5 988.7 205.5 987.8 206.5 989.7 207.5 991.7 208.5 993.8 209.5 995.1 210.5 995.3 211.5 995.6 212.5 993.1 213.5 989.3 214.5 986.2 215.5 983.1 216.5 980.4 217.5 981.8 218.5 983.9 219.5 985.9 220.5 986.8 221.5 986.2 222.5 985.9 223.5 986.7 224.5 989.1 225.5 991.5 226.5 993.4 227.5 994.6 228.5 996.0 229.5 997.6 230.5 999.9 231.5 1000.6 232.5 998.2 233.5 995.9 234.5 993.7 235.5 991.7 236.5 989.6 237.5 986.5 238.5 983.5 239.5 981.3 240.5 979.9 241.5 978.7 242.5 977.6 243.5 976.8 244.5 979.4 245.5 981.9 246.5 984.4 247.5 985.7 248.5 986.7 249.5 987.7 250.5 989.0 251.5 991.0 252.5 990.8 253.5 989.0 254.5 980.2 255.5 985.3 256.5 993.5 257.5 996.4 258.5 997.7 259.5 996.6 260.5 995.6 261.5 995.9 262.5 996.6 263.5 997.3 264.5 997.4 265.5 996.5 266.5 995.4 267.5 994.3 268.5 994.0 269.5 993.8 270.5 993.7 271.5 992.7 272.5 991.6 273.5 990.1 274.5 988.5 275.5 987.7 276.5 990.7 277.5 993.8 278.5 995.0 279.5 993.6 280.5 992.2 281.5 990.9 282.5 989.4 283.5 986.7 284.5 984.2 285.5 982.4 286.5 986.4 287.5 990.5 288.5 993.6 289.5 993.4 290.5 993.4 291.5 993.5 292.5 993.7 293.5 994.0 294.5 994.0 295.5 992.4 296.5 990.0 297.5 987.1 298.5 984.1 299.5 981.4 300.5 981.2 301.5 981.2 302.5 981.2 303.5 981.2 304.5 978.9 305.5 976.0 306.5 974.7 307.5 978.1 308.5 981.5 309.5 984.3 310.5 982.6 311.5 980.3 312.5 978.2 313.5 976.2 314.5 975.4 315.5 975.0 316.5 974.4 317.5 974.0 318.5 973.6 319.5 973.6 320.5 973.9 321.5 973.5 322.5 971.8 323.5 970.0 324.5 969.0 325.5 970.2 326.5 971.3 327.5 972.3 328.5 974.4 329.5 976.3 330.5 977.4 331.5 976.6 332.5 976.8 333.5 978.1 334.5 978.6 335.5 979.6 336.5 981.0 337.5 982.2 338.5 983.6 339.5 985.1 340.5 986.4 341.5 987.8 342.5 988.8 343.5 989.9 344.5 990.5 345.5 989.9 346.5 988.9 347.5 984.7 348.5 980.6 349.5 975.9 350.5 969.2 351.5 960.8 352.5 955.9 353.5 966.0 354.5 974.7 355.5 980.8 356.5 981.0 357.5 979.0 358.5 977.2 359.5 976.7 360.5 976.5 361.5 973.9 362.5 969.5 363.5 965.9 364.5 962.4 365.5 961.5 366.5 959.4 367.5 957.7 368.5 956.3 369.5 954.6 370.5 953.6 371.5 951.9 372.5 949.1 373.5 944.8 374.5 940.9 375.5 944.3 376.5 948.6 377.5 953.5 378.5 959.4 379.5 965.3 380.5 971.6 381.5 977.8 382.5 980.5 383.5 983.2 384.5 986.2 385.5 988.1 386.5 986.8 387.5 984.6 388.5 983.2 389.5 981.4 390.5 978.6 391.5 975.6 392.5 971.4 393.5 968.1 394.5 972.7 395.5 976.4 396.5 978.1 397.5 979.5 398.5 982.5 399.5 985.3 400.5 986.7 401.5 987.8 402.5 988.5 403.5 989.5 404.5 990.1 405.5 988.9 406.5 986.0 407.5 980.6 408.5 976.8 409.5 974.5 410.5 972.8 411.5 970.5 412.5 965.0 413.5 952.6 414.5 934.4 415.5 923.5 416.5 939.1 417.5 953.6 418.5 960.0 419.5 958.0 420.5 953.5 421.5 947.7 422.5 941.8 423.5 937.4 424.5 926.8 425.5 907.1 426.5 889.3 427.5 902.8 428.5 920.1 429.5 937.1 430.5 956.1 431.5 974.6 432.5 982.2 433.5 984.4 434.5 986.3 435.5 984.2 436.5 976.5 437.5 968.8 438.5 963.0 439.5 959.3 440.5 956.4 441.5 949.8 442.5 942.3 443.5 940.5 444.5 947.3 445.5 953.0 446.5 961.8 447.5 969.5 448.5 968.5 449.5 967.4 450.5 966.0 451.5 967.7 452.5 969.0 453.5 969.4 454.5 971.4 455.5 974.7 456.5 979.0 457.5 978.6 458.5 977.8 459.5 977.4 460.5 977.3 461.5 977.1 462.5 976.5 463.5 975.7 464.5 973.8 465.5 967.4 466.5 961.3 467.5 958.0 468.5 964.1 469.5 971.3 470.5 978.1 471.5 980.0 472.5 978.2 473.5 977.0 474.5 975.8 475.5 973.6 476.5 967.4 477.5 961.1 478.5 956.1 479.5 961.0 480.5 967.7 481.5 972.8 482.5 973.6 483.5 968.3 484.5 962.1 485.5 956.4 486.5 956.4 487.5 956.5 488.5 956.0 489.5 955.0 490.5 954.0 491.5 954.3 492.5 958.5 493.5 962.6 494.5 965.5 495.5 968.3 496.5 966.8 497.5 964.1 498.5 959.0 499.5 950.6 500.5 939.6 501.5 926.6 502.5 909.7 503.5 910.8 504.5 929.9 505.5 944.3 506.5 951.1 507.5 953.4 508.5 955.4 509.5 957.3 510.5 956.7 511.5 955.2 512.5 952.8 513.5 953.5 514.5 956.1 515.5 959.2 516.5 960.0 517.5 959.5 518.5 960.0 519.5 962.0 520.5 964.8 521.5 967.4 522.5 968.6 523.5 969.3 524.5 969.8 525.5 970.7 526.5 971.7 527.5 973.3 528.5 974.1 529.5 972.4 530.5 970.7 531.5 968.0 532.5 965.0 533.5 962.7 534.5 960.0 535.5 957.3 536.5 955.9 537.5 957.3 538.5 958.5 539.5 959.6 540.5 958.1 541.5 955.9 542.5 957.4 543.5 961.0 544.5 964.1 545.5 966.7 546.5 969.3 547.5 970.2 548.5 967.2 549.5 963.1 550.5 959.1 551.5 954.7 552.5 948.1 553.5 941.4 554.5 933.9 555.5 931.5 556.5 940.0 557.5 947.2 558.5 952.1 559.5 955.9 560.5 957.8 561.5 958.0 562.5 953.9 563.5 945.6 564.5 937.4 565.5 931.3 566.5 929.8 567.5 930.2 568.5 930.0 569.5 931.2 570.5 934.7 571.5 937.8 572.5 939.2 573.5 940.2 574.5 941.2 575.5 943.1 576.5 943.2 577.5 944.1 578.5 945.9 579.5 948.9 580.5 951.8 581.5 952.0 582.5 953.1 583.5 954.5 584.5 955.6 585.5 952.6 586.5 949.9 587.5 949.9 588.5 949.9 589.5 947.3 590.5 944.5 591.5 942.1 592.5 943.4 593.5 944.0 594.5 940.7 595.5 936.2 596.5 933.6 597.5 934.5 598.5 938.7 599.5 942.4 600.5 944.6 601.5 945.2 602.5 941.1 603.5 935.9 604.5 930.5 605.5 924.1 606.5 916.2 607.5 914.8 608.5 920.7 609.5 924.4 610.5 926.9 611.5 925.6 612.5 923.5 613.5 921.5 614.5 922.9 615.5 930.1 616.5 936.7 617.5 942.0 618.5 944.3 619.5 941.1 620.5 936.3 621.5 931.7 622.5 927.9 623.5 927.7 624.5 931.3 625.5 936.0 626.5 939.8 627.5 942.6 628.5 943.0 629.5 943.5 630.5 944.1 631.5 945.4 632.5 945.7 633.5 944.8 634.5 943.0 635.5 940.9 636.5 937.8 637.5 934.6 638.5 929.4 639.5 926.8 640.5 926.8 641.5 926.1 642.5 924.8 643.5 923.9 644.5 925.9 645.5 928.0 646.5 931.8 647.5 936.2 648.5 931.3 649.5 923.3 650.5 921.9 651.5 931.2 652.5 939.0 653.5 944.7 654.5 939.9 655.5 930.7 656.5 922.3 657.5 916.9 658.5 908.7 659.5 903.7 660.5 912.8 661.5 923.0 662.5 931.0 663.5 929.4 664.5 924.9 665.5 920.6 666.5 916.0 667.5 911.7 668.5 903.6 669.5 891.2 670.5 886.7 671.5 889.6 672.5 892.9 673.5 896.3 674.5 894.3 675.5 897.7 676.5 909.8 677.5 923.1 678.5 924.0 679.5 921.7 680.5 919.5 681.5 919.3 682.5 919.9 683.5 922.1 684.5 924.1 685.5 925.0 686.5 924.5 687.5 921.6 688.5 916.3 689.5 909.7 690.5 912.0 691.5 916.2 692.5 924.1 693.5 928.4 694.5 928.2 695.5 924.5 696.5 920.3 697.5 917.2 698.5 912.0 699.5 909.0 700.5 904.7 701.5 915.6 702.5 924.2 703.5 929.9 704.5 931.1 705.5 932.9 706.5 937.7 707.5 942.0 708.5 944.3 709.5 945.8 710.5 943.7 711.5 939.5 712.5 939.2 713.5 941.1 714.5 942.6 715.5 942.5 716.5 942.6 717.5 942.8 718.5 943.8 719.5 944.5 720.5 943.6 721.5 942.9 722.5 941.5 723.5 939.5 724.5 937.5 725.5 937.3 726.5 938.8 727.5 941.7 728.5 942.2 729.5 944.0 730.5 944.1 731.5 943.1 732.5 940.2 733.5 935.6 734.5 931.2 735.5 935.9 736.5 940.9 737.5 946.2 738.5 946.7 739.5 947.1 740.5 947.7 741.5 948.5 742.5 948.3 743.5 948.0 744.5 947.3 745.5 946.9 746.5 947.0 747.5 948.4 748.5 951.1 749.5 952.0 750.5 953.7 751.5 955.6 752.5 960.5 753.5 966.6 754.5 969.6 755.5 972.4 756.5 976.0 757.5 975.4 758.5 974.1 759.5 973.1 760.5 977.1 761.5 981.3 762.5 983.3 763.5 984.7 764.5 986.9 765.5 989.4 766.5 989.9 767.5 988.8 768.5 987.1 769.5 989.4 770.5 991.8 771.5 994.2 772.5 995.0 773.5 995.8 774.5 994.6 775.5 989.5 776.5 983.2 777.5 981.0 778.5 980.0 779.5 980.6 780.5 981.6 781.5 980.8 782.5 978.9 783.5 978.7 784.5 985.1 785.5 991.3 786.5 1002.9 787.5 1009.2 788.5 1009.7 789.5 1010.3 790.5 1011.7 791.5 1013.9 792.5 1016.1 793.5 1018.1 794.5 1020.2 795.5 1021.7 796.5 1021.4 797.5 1021.2 798.5 1021.3 799.5 1021.6 800.5 1022.0 801.5 1022.0 802.5 1022.0 803.5 1022.1 804.5 1023.6 805.5 1025.3 806.5 1026.9 807.5 1028.0 808.5 1028.9 809.5 1029.7 810.5 1030.4 811.5 1030.6 812.5 1030.8 813.5 1030.9 814.5 1031.0 815.5 1027.8 816.5 1028.0 817.5 1028.2 818.5 1028.2 819.5 1028.2 820.5 1028.3 821.5 1028.3 822.5 1028.3 823.5 1028.4 824.5 1028.4 825.5 1028.4 826.5 1028.5 827.5 1028.5 828.5 1028.5 829.5 1028.6 830.5 1028.6 831.5 1028.6 832.5 1028.6 833.5 1028.7 834.5 1028.7 835.5 1028.7 836.5 1028.7 837.5 1028.7 838.5 1028.7 839.5 1028.7 840.5 1028.7 841.5 1028.7 842.5 1028.7 843.5 1028.7 844.5 1028.7 845.5 1028.7 846.5 1028.7 847.5 1028.7 848.5 1028.7 849.5 1028.7 850.5 1028.7 851.5 1028.7 852.5 1028.7 853.5 1028.7 854.5 1028.7 855.5 1028.7 856.5 1028.7 857.5 1028.7 858.5 1028.7 859.5 1028.7 860.5 1028.7 861.5 1028.7 862.5 1028.7 863.5 1028.7 864.5 1028.7 865.5 1028.7 866.5 1028.7 867.5 1028.7 868.5 1028.7 869.5 1028.7 870.5 1028.7 871.5 1028.7 872.5 1028.7 873.5 1028.7 874.5 1028.7 875.5 1028.7 876.5 1028.7 877.5 1028.7 878.5 1028.7 879.5 1028.7 880.5 1028.7 881.5 1028.7 882.5 1028.7 883.5 1028.7 884.5 1028.7 885.5 1028.7 886.5 1028.8 887.5 1028.8 888.5 1028.8 889.5 1028.8 890.5 1028.8 891.5 1028.8 892.5 1028.8 893.5 1028.8 894.5 1028.8 895.5 1028.8 896.5 1028.8 897.5 1028.8 898.5 1028.8 899.5 1028.8 900.5 1028.8 901.5 1028.8 902.5 1028.8 903.5 1028.8 904.5 1028.8 905.5 1028.8 906.5 1028.8 907.5 1028.8 908.5 1028.8 909.5 1028.8 910.5 1028.8 911.5 1028.8 912.5 1028.8 913.5 1028.8 914.5 1028.8 915.5 1028.8 916.5 1028.8 917.5 1028.8 918.5 1028.8 919.5 1028.8 920.5 1028.8 921.5 1028.8 922.5 1028.8 923.5 1028.8 924.5 1028.8 925.5 1028.8 926.5 1028.8 927.5 1028.8 928.5 1028.8 929.5 1028.8 930.5 1028.8 931.5 1028.8 932.5 1028.8 933.5 1028.8 934.5 1028.8 935.5 1028.8 936.5 1028.8 937.5 1028.8 938.5 1028.8 939.5 1028.8 940.5 1028.8 941.5 1028.8 942.5 1028.8 943.5 1028.8 944.5 1028.8 945.5 1028.8 946.5 1028.8 947.5 1028.8 948.5 1028.8 949.5 1028.8 950.5 1028.8 951.5 1028.8 952.5 1028.8 953.5 1028.8 954.5 1028.8 955.5 1028.8 956.5 1028.8 957.5 1028.8 958.5 1028.8 959.5 1028.8 960.5 1028.8 961.5 1028.8 962.5 1028.8 963.5 1028.8 964.5 1028.8 965.5 1028.8 966.5 1028.8 967.5 1028.8 968.5 1028.8 969.5 1028.8 970.5 1028.8 971.5 1028.8 972.5 1028.8 973.5 1028.8 974.5 1028.8 975.5 1028.8 976.5 1028.8 977.5 1028.8 978.5 1028.8 979.5 1028.8 980.5 1028.8 981.5 1028.8 982.5 1028.8 983.5 1028.8 984.5 1028.8 985.5 1028.8 986.5 1028.8 987.5 1028.8 988.5 1028.8 989.5 1028.8 990.5 1028.8 991.5 1028.8 992.5 1028.8 993.5 1028.8 994.5 1028.8 995.5 1028.8 996.5 1028.8 997.5 1028.8 998.5 1028.8 999.5 1028.8 1000.5 1028.8 1001.5 1028.8 1002.5 1028.8 1003.5 1028.8 1004.5 1028.8 1005.5 1028.8 1006.5 1028.8 1007.5 1028.8 1008.5 1028.8 1009.5 1028.8 1010.5 1028.8 1011.5 1028.8 1012.5 1028.8 1013.5 1028.8 1014.5 1028.8 1015.5 1028.8 1016.5 1028.8 1017.5 1028.8 1018.5 1028.8 1019.5 1028.8 1020.5 1028.8 1021.5 1028.8 1022.5 1028.8 1023.5 1028.8 1024.5 1028.8 1025.5 1028.8 1026.5 1028.8 1027.5 1028.8 1028.5 1028.8 1029.5 1028.8 1030.5 1028.8 1031.5 1028.8 1032.5 1028.8 1033.5 1028.8 1034.5 1028.8 1035.5 1028.8 1036.5 1028.8 1037.5 1028.8 1038.5 1028.8 1039.5 1028.8 1040.5 1028.8 1041.5 1028.8 1042.5 1028.8 1043.5 1028.8 1044.5 1028.8 1045.5 1028.8 1046.5 1028.8 1047.5 1028.8 1048.5 1028.8 1049.5 1028.8 1050.5 1028.8 1051.5 1028.8 1052.5 1028.8 1053.5 1028.8 1054.5 1028.8 1055.5 1028.8 1056.5 1028.8 1057.5 1028.8 1058.5 1028.8 1059.5 1028.8 1060.5 1028.8 1061.5 1028.8 1062.5 1028.8 1063.5 1028.8 1064.5 1028.8 1065.5 1028.8 1066.5 1028.8 1067.5 1028.8 1068.5 1028.8 1069.5 1028.8 1070.5 1028.8 1071.5 1028.8 1072.5 1028.8 1073.5 1028.8 1074.5 1028.8 1075.5 1028.8 1076.5 1028.8 1077.5 1028.8 1078.5 1028.8 1079.5 1028.8 1080.5 1028.8 1081.5 1028.8 1082.5 1028.8 1083.5 1028.8 1084.5 1028.8 1085.5 1028.8 1086.5 1028.8 1087.5 1028.8 1088.5 1028.8 1089.5 1028.8 1090.5 1028.8 1091.5 1028.8 1092.5 1028.8 1093.5 1028.8 1094.5 1028.8 1095.5 1028.8 1096.5 1028.8 1097.5 1028.8 1098.5 1028.8 1099.5 1028.8 1100.5 1028.8 1101.5 1028.8 1102.5 1028.8 1103.5 1028.8 1104.5 1028.8 1105.5 1028.8 1106.5 1028.8 1107.5 1028.8 1108.5 1028.8 1109.5 1028.8 1110.5 1028.8 1111.5 1028.8 1112.5 1028.8 1113.5 1028.8 1114.5 1028.8 1115.5 1028.8 1116.5 1028.8 1117.5 1028.8 1118.5 1028.8 1119.5 1028.8 1120.5 1028.8 1121.5 1028.8 1122.5 1028.8 1123.5 1028.8 1124.5 1028.8 1125.5 1028.8 1126.5 1028.8 1127.5 1028.8 1128.5 1028.8 1129.5 1028.8 1130.5 1028.8 1131.5 1028.8 1132.5 1028.8 1133.5 1028.8 1134.5 1028.8 1135.5 1028.8 1136.5 1028.8 1137.5 1028.8 1138.5 1028.8 1139.5 1028.8 1140.5 1028.8 1141.5 1028.8 1142.5 1028.8 1143.5 1028.8 1144.5 1028.8 1145.5 1028.8 1146.5 1028.8 1147.5 1028.8 1148.5 1028.8 1149.5 1028.8 1150.5 1028.8 1151.5 1028.8 1152.5 1028.8 1153.5 1028.8 1154.5 1028.8 1155.5 1028.8 1156.5 1028.8 1157.5 1028.8 1158.5 1028.8 1159.5 1028.8 1160.5 1028.8 1161.5 1028.8 1162.5 1028.8 1163.5 1028.8 1164.5 1028.8 1165.5 1028.8 1166.5 1028.8 1167.5 1028.8 1168.5 1028.8 1169.5 1028.8 1170.5 1028.8 1171.5 1028.8 1172.5 1028.8 1173.5 1028.8 1174.5 1028.8 1175.5 1028.8 1176.5 1028.8 1177.5 1028.8 1178.5 1028.8 1179.5 1028.8 1180.5 1028.8 1181.5 1028.8 1182.5 1028.8 1183.5 1028.8 1184.5 1028.8 1185.5 1028.8 1186.5 1028.8 1187.5 1028.8 1188.5 1028.8 1189.5 1028.8 1190.5 1028.8 1191.5 1028.8 1192.5 1028.8 1193.5 1028.8 1194.5 1028.8 1195.5 1028.8 1196.5 1028.8 1197.5 1028.8 1198.5 1028.9 1199.5 1028.9 1200.5 1028.9 1201.5 1028.9 1202.5 1028.9 1203.5 1028.9 1204.5 1028.9 1205.5 1028.9 1206.5 1028.9 1207.5 1028.9 1208.5 1028.9 1209.5 1028.9 1210.5 1028.9 1211.5 1028.9 1212.5 1028.9 1213.5 1028.9 1214.5 1028.9 1215.5 1028.9 1216.5 1028.9 1217.5 1028.9 1218.5 1028.9 1219.5 1028.9 1220.5 1028.9 1221.5 1028.9 1222.5 1028.9 1223.5 1028.9 1224.5 1028.9 1225.5 1028.9 1226.5 1028.9 1227.5 1028.9 1228.5 1028.9 1229.5 1028.9 1230.5 1028.9 1231.5 1028.9 1232.5 1028.9 1233.5 1028.9 1234.5 1028.9 1235.5 1028.9 1236.5 1028.9 1237.5 1028.9 1238.5 1028.9 1239.5 1028.9 1240.5 1028.9 1241.5 1028.9 1242.5 1028.9 1243.5 1028.9 1244.5 1028.9 1245.5 1028.9 1246.5 1028.9 1247.5 1028.9 1248.5 1028.9 1249.5 1028.9 1250.5 1028.9 1251.5 1028.9 1252.5 1028.9 1253.5 1028.9 1254.5 1028.9 1255.5 1028.9 1256.5 1028.9 1257.5 1028.9 1258.5 1028.9 1259.5 1028.9 1260.5 1028.9 1261.5 1028.9 1262.5 1028.9 1263.5 1028.9 1264.5 1028.9 1265.5 1028.9 1266.5 1028.9 1267.5 1028.9 1268.5 1028.9 1269.5 1028.9 1270.5 1028.9 1271.5 1028.9 1272.5 1028.9 1273.5 1028.9 1274.5 1028.9 1275.5 1028.9 1276.5 1028.9 1277.5 1028.9 1278.5 1028.9 1279.5 1028.9 1280.5 1028.9 1281.5 1028.9 1282.5 1028.9 1283.5 1028.9 1284.5 1028.9 1285.5 1028.9 1286.5 1028.9 1287.5 1028.9 1288.5 1028.9 1289.5 1028.9 1290.5 1028.9 1291.5 1028.9 1292.5 1028.9 1293.5 1028.9 1294.5 1028.9 1295.5 1028.9 1296.5 1028.9 1297.5 1028.9 1298.5 1028.9 1299.5 1028.9 1300.5 1028.9 1301.5 1028.9 1302.5 1028.9 1303.5 1028.9 1304.5 1028.9 1305.5 1028.9 1306.5 1028.9 1307.5 1028.9 1308.5 1028.9 1309.5 1028.9 1310.5 1028.9 1311.5 1028.9 1312.5 1028.9 1313.5 1028.9 1314.5 1028.9 1315.5 1028.9 1316.5 1028.9 1317.5 1028.9 1318.5 1028.9 1319.5 1028.9 1320.5 1028.9 1321.5 1028.9 1322.5 1028.9 1323.5 1028.9 1324.5 1028.9 1325.5 1028.9 1326.5 1028.9 1327.5 1028.9 1328.5 1028.9 1329.5 1028.9 1330.5 1028.9 1331.5 1028.9 1332.5 1028.9 1333.5 1028.9 1334.5 1028.9 1335.5 1028.9 1336.5 1028.9 1337.5 1028.9 1338.5 1028.9 1339.5 1028.9 1340.5 1028.9 1341.5 1028.9 1342.5 1028.9 1343.5 1028.9 1344.5 1028.9 1345.5 1028.9 1346.5 1028.9 1347.5 1028.9 1348.5 1028.9 1349.5 1028.9 1350.5 1028.9 1351.5 1028.9 1352.5 1028.9 1353.5 1028.9 1354.5 1028.9 1355.5 1028.9 1356.5 1028.9 1357.5 1028.9 1358.5 1028.9 1359.5 1028.9 1360.5 1028.9 1361.5 1028.9 1362.5 1028.9 1363.5 1028.9 1364.5 1028.9 1365.5 1028.9 1366.5 1028.9 1367.5 1028.9 1368.5 1028.9 1369.5 1028.9 1370.5 1028.9 1371.5 1028.9 1372.5 1028.9 1373.5 1028.9 1374.5 1028.9 1375.5 1028.9 1376.5 1028.9 1377.5 1028.9 1378.5 1028.9 1379.5 1028.9 1380.5 1028.9 1381.5 1028.9 1382.5 1028.9 1383.5 1028.9 1384.5 1028.9 1385.5 1028.9 1386.5 1028.9 1387.5 1028.9 1388.5 1028.9 1389.5 1028.9 1390.5 1028.9 1391.5 1028.9 1392.5 1028.9 1393.5 1028.9 1394.5 1028.9 1395.5 1028.9 1396.5 1028.9 1397.5 1028.9 1398.5 1028.9 1399.5 1028.9 1400.5 1028.9 1401.5 1028.8 1402.5 1028.8 1403.5 1028.7 1404.5 1028.7 1405.5 1028.6 1406.5 1028.6 1407.5 1028.5 1408.5 1028.5 1409.5 1028.4 1410.5 1028.4 1411.5 1028.3 1412.5 1028.3 1413.5 1028.3 1414.5 1028.2 1415.5 1028.2 1416.5 1028.1 1417.5 1028.1 1418.5 1028.1 1419.5 1028.0 1420.5 1028.0 1421.5 1027.9 1422.5 1027.9 1423.5 1027.9 1424.5 1027.8 1425.5 1027.8 1426.5 1027.7 1427.5 1027.6 1428.5 1027.6 1429.5 1027.5 1430.5 1027.5 1431.5 1027.4 1432.5 1027.3 1433.5 1027.3 1434.5 1027.2 1435.5 1027.2 1436.5 1027.1 1437.5 1027.0 1438.5 1026.9 1439.5 1026.6 1440.5 1026.3 1441.5 1025.9 1442.5 1025.5 1443.5 1025.0 1444.5 1024.5 1445.5 1024.0 1446.5 1023.7 1447.5 1023.6 1448.5 1023.7 1449.5 1023.8 1450.5 1024.0 1451.5 1024.0 1452.5 1023.8 1453.5 1023.8 1454.5 1023.6 1455.5 1023.6 1456.5 1023.5 1457.5 1023.4 1458.5 1023.4 1459.5 1023.3 1460.5 1023.3 1461.5 1023.3 1462.5 1023.2 L1462.5 1036.1 1461.5 1036.1 1460.5 1036.1 1459.5 1036.1 1458.5 1036.1 1457.5 1036.1 1456.5 1036.1 1455.5 1036.1 1454.5 1036.1 1453.5 1036.1 1452.5 1036.1 1451.5 1036.1 1450.5 1036.1 1449.5 1036.1 1448.5 1036.1 1447.5 1036.1 1446.5 1036.1 1445.5 1036.1 1444.5 1036.1 1443.5 1036.1 1442.5 1036.1 1441.5 1036.1 1440.5 1036.1 1439.5 1036.1 1438.5 1036.1 1437.5 1036.1 1436.5 1036.1 1435.5 1036.1 1434.5 1036.1 1433.5 1036.1 1432.5 1036.1 1431.5 1036.1 1430.5 1036.1 1429.5 1036.1 1428.5 1036.1 1427.5 1036.1 1426.5 1036.1 1425.5 1036.1 1424.5 1036.1 1423.5 1036.1 1422.5 1036.1 1421.5 1036.1 1420.5 1036.1 1419.5 1036.1 1418.5 1036.1 1417.5 1036.1 1416.5 1036.1 1415.5 1036.1 1414.5 1036.1 1413.5 1036.1 1412.5 1036.1 1411.5 1036.1 1410.5 1036.1 1409.5 1036.1 1408.5 1036.1 1407.5 1036.1 1406.5 1036.1 1405.5 1036.1 1404.5 1036.1 1403.5 1036.1 1402.5 1036.1 1401.5 1036.1 1400.5 1036.1 1399.5 1036.1 1398.5 1036.1 1397.5 1036.1 1396.5 1036.1 1395.5 1036.1 1394.5 1036.1 1393.5 1036.1 1392.5 1036.1 1391.5 1036.1 1390.5 1036.1 1389.5 1036.1 1388.5 1036.1 1387.5 1036.1 1386.5 1036.1 1385.5 1036.1 1384.5 1036.1 1383.5 1036.1 1382.5 1036.1 1381.5 1036.1 1380.5 1036.1 1379.5 1036.1 1378.5 1036.1 1377.5 1036.1 1376.5 1036.1 1375.5 1036.1 1374.5 1036.1 1373.5 1036.1 1372.5 1036.1 1371.5 1036.1 1370.5 1036.1 1369.5 1036.1 1368.5 1036.1 1367.5 1036.1 1366.5 1036.1 1365.5 1036.1 1364.5 1036.1 1363.5 1036.1 1362.5 1036.1 1361.5 1036.1 1360.5 1036.1 1359.5 1036.1 1358.5 1036.1 1357.5 1036.1 1356.5 1036.1 1355.5 1036.1 1354.5 1036.1 1353.5 1036.1 1352.5 1036.1 1351.5 1036.1 1350.5 1036.1 1349.5 1036.1 1348.5 1036.1 1347.5 1036.1 1346.5 1036.1 1345.5 1036.1 1344.5 1036.1 1343.5 1036.1 1342.5 1036.1 1341.5 1036.1 1340.5 1036.1 1339.5 1036.1 1338.5 1036.1 1337.5 1036.1 1336.5 1036.1 1335.5 1036.1 1334.5 1036.1 1333.5 1036.1 1332.5 1036.1 1331.5 1036.1 1330.5 1036.1 1329.5 1036.1 1328.5 1036.1 1327.5 1036.1 1326.5 1036.1 1325.5 1036.1 1324.5 1036.1 1323.5 1036.1 1322.5 1036.1 1321.5 1036.1 1320.5 1036.1 1319.5 1036.1 1318.5 1036.1 1317.5 1036.1 1316.5 1036.1 1315.5 1036.1 1314.5 1036.1 1313.5 1036.1 1312.5 1036.1 1311.5 1036.1 1310.5 1036.1 1309.5 1036.1 1308.5 1036.1 1307.5 1036.1 1306.5 1036.1 1305.5 1036.1 1304.5 1036.1 1303.5 1036.1 1302.5 1036.1 1301.5 1036.1 1300.5 1036.1 1299.5 1036.1 1298.5 1036.1 1297.5 1036.1 1296.5 1036.1 1295.5 1036.1 1294.5 1036.1 1293.5 1036.1 1292.5 1036.1 1291.5 1036.1 1290.5 1036.1 1289.5 1036.1 1288.5 1036.1 1287.5 1036.1 1286.5 1036.1 1285.5 1036.1 1284.5 1036.1 1283.5 1036.1 1282.5 1036.1 1281.5 1036.1 1280.5 1036.1 1279.5 1036.1 1278.5 1036.1 1277.5 1036.1 1276.5 1036.1 1275.5 1036.1 1274.5 1036.1 1273.5 1036.1 1272.5 1036.1 1271.5 1036.1 1270.5 1036.1 1269.5 1036.1 1268.5 1036.1 1267.5 1036.1 1266.5 1036.1 1265.5 1036.1 1264.5 1036.1 1263.5 1036.1 1262.5 1036.1 1261.5 1036.1 1260.5 1036.1 1259.5 1036.1 1258.5 1036.1 1257.5 1036.1 1256.5 1036.1 1255.5 1036.1 1254.5 1036.1 1253.5 1036.1 1252.5 1036.1 1251.5 1036.1 1250.5 1036.1 1249.5 1036.1 1248.5 1036.1 1247.5 1036.1 1246.5 1036.1 1245.5 1036.1 1244.5 1036.1 1243.5 1036.1 1242.5 1036.1 1241.5 1036.1 1240.5 1036.1 1239.5 1036.1 1238.5 1036.1 1237.5 1036.1 1236.5 1036.1 1235.5 1036.1 1234.5 1036.1 1233.5 1036.1 1232.5 1036.1 1231.5 1036.1 1230.5 1036.1 1229.5 1036.1 1228.5 1036.1 1227.5 1036.1 1226.5 1036.1 1225.5 1036.1 1224.5 1036.1 1223.5 1036.1 1222.5 1036.1 1221.5 1036.1 1220.5 1036.1 1219.5 1036.1 1218.5 1036.1 1217.5 1036.1 1216.5 1036.1 1215.5 1036.1 1214.5 1036.1 1213.5 1036.1 1212.5 1036.1 1211.5 1036.1 1210.5 1036.1 1209.5 1036.1 1208.5 1036.1 1207.5 1036.1 1206.5 1036.1 1205.5 1036.1 1204.5 1036.1 1203.5 1036.1 1202.5 1036.1 1201.5 1036.1 1200.5 1036.1 1199.5 1036.1 1198.5 1036.1 1197.5 1036.1 1196.5 1036.1 1195.5 1036.1 1194.5 1036.1 1193.5 1036.1 1192.5 1036.1 1191.5 1036.1 1190.5 1036.1 1189.5 1036.1 1188.5 1036.1 1187.5 1036.1 1186.5 1036.1 1185.5 1036.1 1184.5 1036.1 1183.5 1036.1 1182.5 1036.1 1181.5 1036.1 1180.5 1036.1 1179.5 1036.1 1178.5 1036.1 1177.5 1036.1 1176.5 1036.1 1175.5 1036.1 1174.5 1036.1 1173.5 1036.1 1172.5 1036.1 1171.5 1036.1 1170.5 1036.1 1169.5 1036.1 1168.5 1036.1 1167.5 1036.1 1166.5 1036.1 1165.5 1036.1 1164.5 1036.1 1163.5 1036.1 1162.5 1036.1 1161.5 1036.1 1160.5 1036.1 1159.5 1036.1 1158.5 1036.1 1157.5 1036.1 1156.5 1036.1 1155.5 1036.1 1154.5 1036.1 1153.5 1036.1 1152.5 1036.1 1151.5 1036.1 1150.5 1036.1 1149.5 1036.1 1148.5 1036.1 1147.5 1036.1 1146.5 1036.1 1145.5 1036.1 1144.5 1036.1 1143.5 1036.1 1142.5 1036.1 1141.5 1036.1 1140.5 1036.1 1139.5 1036.1 1138.5 1036.1 1137.5 1036.1 1136.5 1036.1 1135.5 1036.1 1134.5 1036.1 1133.5 1036.1 1132.5 1036.1 1131.5 1036.1 1130.5 1036.1 1129.5 1036.1 1128.5 1036.1 1127.5 1036.1 1126.5 1036.1 1125.5 1036.1 1124.5 1036.1 1123.5 1036.1 1122.5 1036.1 1121.5 1036.1 1120.5 1036.1 1119.5 1036.1 1118.5 1036.1 1117.5 1036.1 1116.5 1036.1 1115.5 1036.1 1114.5 1036.1 1113.5 1036.1 1112.5 1036.1 1111.5 1036.1 1110.5 1036.1 1109.5 1036.1 1108.5 1036.1 1107.5 1036.1 1106.5 1036.1 1105.5 1036.1 1104.5 1036.1 1103.5 1036.1 1102.5 1036.1 1101.5 1036.1 1100.5 1036.1 1099.5 1036.1 1098.5 1036.1 1097.5 1036.1 1096.5 1036.1 1095.5 1036.1 1094.5 1036.1 1093.5 1036.1 1092.5 1036.1 1091.5 1036.1 1090.5 1036.1 1089.5 1036.1 1088.5 1036.1 1087.5 1036.1 1086.5 1036.1 1085.5 1036.1 1084.5 1036.1 1083.5 1036.1 1082.5 1036.1 1081.5 1036.1 1080.5 1036.1 1079.5 1036.1 1078.5 1036.1 1077.5 1036.1 1076.5 1036.1 1075.5 1036.1 1074.5 1036.1 1073.5 1036.1 1072.5 1036.1 1071.5 1036.1 1070.5 1036.1 1069.5 1036.1 1068.5 1036.1 1067.5 1036.1 1066.5 1036.1 1065.5 1036.1 1064.5 1036.1 1063.5 1036.1 1062.5 1036.1 1061.5 1036.1 1060.5 1036.1 1059.5 1036.1 1058.5 1036.1 1057.5 1036.1 1056.5 1036.1 1055.5 1036.1 1054.5 1036.1 1053.5 1036.1 1052.5 1036.1 1051.5 1036.1 1050.5 1036.1 1049.5 1036.1 1048.5 1036.1 1047.5 1036.1 1046.5 1036.1 1045.5 1036.1 1044.5 1036.1 1043.5 1036.1 1042.5 1036.1 1041.5 1036.1 1040.5 1036.1 1039.5 1036.1 1038.5 1036.1 1037.5 1036.1 1036.5 1036.1 1035.5 1036.1 1034.5 1036.1 1033.5 1036.1 1032.5 1036.1 1031.5 1036.1 1030.5 1036.1 1029.5 1036.1 1028.5 1036.1 1027.5 1036.1 1026.5 1036.1 1025.5 1036.1 1024.5 1036.1 1023.5 1036.1 1022.5 1036.1 1021.5 1036.1 1020.5 1036.1 1019.5 1036.1 1018.5 1036.1 1017.5 1036.1 1016.5 1036.1 1015.5 1036.1 1014.5 1036.1 1013.5 1036.1 1012.5 1036.1 1011.5 1036.1 1010.5 1036.1 1009.5 1036.1 1008.5 1036.1 1007.5 1036.1 1006.5 1036.1 1005.5 1036.1 1004.5 1036.1 1003.5 1036.1 1002.5 1036.1 1001.5 1036.1 1000.5 1036.1 999.5 1036.1 998.5 1036.1 997.5 1036.1 996.5 1036.1 995.5 1036.1 994.5 1036.1 993.5 1036.1 992.5 1036.1 991.5 1036.1 990.5 1036.1 989.5 1036.1 988.5 1036.1 987.5 1036.1 986.5 1036.1 985.5 1036.1 984.5 1036.1 983.5 1036.1 982.5 1036.1 981.5 1036.1 980.5 1036.1 979.5 1036.1 978.5 1036.1 977.5 1036.1 976.5 1036.1 975.5 1036.1 974.5 1036.1 973.5 1036.1 972.5 1036.1 971.5 1036.1 970.5 1036.1 969.5 1036.1 968.5 1036.1 967.5 1036.1 966.5 1036.1 965.5 1036.1 964.5 1036.1 963.5 1036.1 962.5 1036.1 961.5 1036.1 960.5 1036.1 959.5 1036.1 958.5 1036.1 957.5 1036.1 956.5 1036.1 955.5 1036.1 954.5 1036.1 953.5 1036.1 952.5 1036.1 951.5 1036.1 950.5 1036.1 949.5 1036.1 948.5 1036.1 947.5 1036.1 946.5 1036.1 945.5 1036.1 944.5 1036.1 943.5 1036.1 942.5 1036.1 941.5 1036.1 940.5 1036.1 939.5 1036.1 938.5 1036.1 937.5 1036.1 936.5 1036.1 935.5 1036.1 934.5 1036.1 933.5 1036.1 932.5 1036.1 931.5 1036.1 930.5 1036.1 929.5 1036.1 928.5 1036.1 927.5 1036.1 926.5 1036.1 925.5 1036.1 924.5 1036.1 923.5 1036.1 922.5 1036.1 921.5 1036.1 920.5 1036.1 919.5 1036.1 918.5 1036.1 917.5 1036.1 916.5 1036.1 915.5 1036.1 914.5 1036.1 913.5 1036.1 912.5 1036.1 911.5 1036.1 910.5 1036.1 909.5 1036.1 908.5 1036.1 907.5 1036.1 906.5 1036.1 905.5 1036.1 904.5 1036.1 903.5 1036.1 902.5 1036.1 901.5 1036.1 900.5 1036.1 899.5 1036.1 898.5 1036.1 897.5 1036.1 896.5 1036.1 895.5 1036.1 894.5 1036.1 893.5 1036.0 892.5 1036.0 891.5 1036.0 890.5 1036.0 889.5 1036.0 888.5 1036.0 887.5 1036.0 886.5 1036.0 885.5 1036.0 884.5 1036.0 883.5 1036.0 882.5 1036.0 881.5 1036.0 880.5 1036.0 879.5 1036.0 878.5 1036.0 877.5 1036.0 876.5 1036.0 875.5 1036.0 874.5 1036.0 873.5 1036.0 872.5 1036.0 871.5 1036.0 870.5 1036.0 869.5 1036.0 868.5 1036.0 867.5 1035.9 866.5 1035.9 865.5 1035.9 864.5 1035.9 863.5 1035.9 862.5 1035.9 861.5 1035.9 860.5 1035.9 859.5 1035.9 858.5 1035.9 857.5 1035.9 856.5 1035.9 855.5 1035.9 854.5 1035.9 853.5 1035.9 852.5 1035.9 851.5 1035.9 850.5 1035.9 849.5 1035.9 848.5 1035.9 847.5 1035.9 846.5 1035.9 845.5 1035.9 844.5 1035.9 843.5 1035.9 842.5 1035.9 841.5 1035.9 840.5 1035.8 839.5 1035.8 838.5 1035.8 837.5 1035.8 836.5 1035.8 835.5 1035.8 834.5 1035.8 833.5 1035.8 832.5 1035.8 831.5 1035.8 830.5 1035.8 829.5 1035.8 828.5 1035.7 827.5 1035.7 826.5 1035.7 825.5 1035.7 824.5 1035.7 823.5 1035.6 822.5 1035.6 821.5 1035.6 820.5 1035.6 819.5 1035.6 818.5 1035.6 817.5 1035.5 816.5 1035.5 815.5 1035.5 814.5 1032.3 813.5 1032.3 812.5 1032.3 811.5 1032.2 810.5 1032.0 809.5 1031.9 808.5 1031.7 807.5 1031.5 806.5 1031.3 805.5 1030.9 804.5 1030.6 803.5 1030.2 802.5 1030.0 801.5 1029.7 800.5 1029.5 799.5 1027.9 798.5 1027.6 797.5 1027.5 796.5 1027.6 795.5 1027.7 794.5 1027.6 793.5 1027.4 792.5 1027.1 791.5 1026.2 790.5 1025.1 789.5 1024.0 788.5 1023.3 787.5 1022.8 786.5 1022.2 785.5 1021.1 784.5 1020.0 783.5 1019.1 782.5 1019.6 781.5 1020.2 780.5 1020.3 779.5 1020.3 778.5 1020.4 777.5 1020.7 776.5 1021.0 775.5 1021.2 774.5 1021.1 773.5 1020.9 772.5 1020.7 771.5 1020.4 770.5 1019.0 769.5 1017.5 768.5 1015.8 767.5 1016.3 766.5 1016.6 765.5 1016.2 764.5 1015.0 763.5 1012.9 762.5 1011.3 761.5 1009.8 760.5 1009.9 759.5 1010.6 758.5 1012.8 757.5 1014.6 756.5 1015.0 755.5 1015.1 754.5 1015.8 753.5 1016.4 752.5 1016.4 751.5 1014.6 750.5 1012.5 749.5 1011.2 748.5 1011.0 747.5 1010.0 746.5 1009.1 745.5 1008.4 744.5 1008.1 743.5 1008.6 742.5 1010.1 741.5 1011.5 740.5 1012.9 739.5 1012.9 738.5 1012.0 737.5 1010.8 736.5 1009.5 735.5 1008.8 734.5 1008.2 733.5 1008.2 732.5 1008.7 731.5 1009.4 730.5 1009.5 729.5 1009.6 728.5 1009.9 727.5 1010.9 726.5 1011.0 725.5 1010.5 724.5 1010.3 723.5 1010.7 722.5 1011.0 721.5 1010.9 720.5 1010.6 719.5 1010.2 718.5 1008.6 717.5 1006.9 716.5 1005.7 715.5 1005.2 714.5 1005.9 713.5 1005.0 712.5 1003.7 711.5 1002.7 710.5 1004.3 709.5 1003.7 708.5 1002.0 707.5 1005.2 706.5 1008.5 705.5 1011.5 704.5 1010.3 703.5 1007.2 702.5 1003.3 701.5 999.8 700.5 1000.3 699.5 1004.1 698.5 1006.6 697.5 1008.0 696.5 1009.3 695.5 1011.8 694.5 1013.4 693.5 1011.9 692.5 1009.2 691.5 1005.3 690.5 1004.1 689.5 1004.1 688.5 1004.9 687.5 1004.9 686.5 1002.0 685.5 999.6 684.5 997.4 683.5 996.5 682.5 996.4 681.5 996.6 680.5 998.1 679.5 1002.4 678.5 1006.4 677.5 1009.3 676.5 1006.3 675.5 999.3 674.5 992.6 673.5 988.4 672.5 988.4 671.5 989.0 670.5 994.9 669.5 996.8 668.5 998.3 667.5 1000.2 666.5 1000.6 665.5 1000.6 664.5 1001.4 663.5 1003.6 662.5 1002.3 661.5 998.5 660.5 995.8 659.5 995.0 658.5 998.3 657.5 1001.8 656.5 1004.5 655.5 1008.4 654.5 1010.6 653.5 1011.4 652.5 1011.3 651.5 1009.5 650.5 1007.3 649.5 1005.3 648.5 1002.8 647.5 1000.2 646.5 996.1 645.5 992.9 644.5 993.4 643.5 995.7 642.5 998.8 641.5 1000.1 640.5 1000.5 639.5 1000.4 638.5 1000.8 637.5 1001.0 636.5 1000.0 635.5 999.2 634.5 998.8 633.5 998.6 632.5 997.7 631.5 996.8 630.5 997.3 629.5 998.3 628.5 999.2 627.5 999.9 626.5 1000.3 625.5 1000.6 624.5 1000.7 623.5 1001.5 622.5 1002.9 621.5 1004.7 620.5 1005.4 619.5 1005.8 618.5 1006.2 617.5 1005.5 616.5 1002.9 615.5 999.3 614.5 994.6 613.5 993.2 612.5 995.8 611.5 998.3 610.5 1000.5 609.5 1002.9 608.5 1005.1 607.5 1006.2 606.5 1005.3 605.5 1004.9 604.5 1004.8 603.5 1004.6 602.5 1003.6 601.5 1002.7 600.5 1001.4 599.5 1002.3 598.5 1003.2 597.5 1003.9 596.5 1004.1 595.5 1002.2 594.5 1002.0 593.5 1000.8 592.5 1001.8 591.5 1004.2 590.5 1008.9 589.5 1011.9 588.5 1011.1 587.5 1008.9 586.5 1006.6 585.5 1006.7 584.5 1007.4 583.5 1007.6 582.5 1007.6 581.5 1008.5 580.5 1010.2 579.5 1011.7 578.5 1009.6 577.5 1007.5 576.5 1005.9 575.5 1004.9 574.5 1005.4 573.5 1007.2 572.5 1009.1 571.5 1008.8 570.5 1007.2 569.5 1005.3 568.5 1005.2 567.5 1006.8 566.5 1007.6 565.5 1007.0 564.5 1007.9 563.5 1009.6 562.5 1011.0 561.5 1012.2 560.5 1012.4 559.5 1011.9 558.5 1011.7 557.5 1010.8 556.5 1008.5 555.5 1005.4 554.5 1003.3 553.5 1003.6 552.5 1004.9 551.5 1006.2 550.5 1007.0 549.5 1007.7 548.5 1008.6 547.5 1009.2 546.5 1009.7 545.5 1010.1 544.5 1010.7 543.5 1011.5 542.5 1012.3 541.5 1012.7 540.5 1012.3 539.5 1010.6 538.5 1009.0 537.5 1007.3 536.5 1005.2 535.5 1003.9 534.5 1003.6 533.5 1003.7 532.5 1004.3 531.5 1004.9 530.5 1005.2 529.5 1005.3 528.5 1005.6 527.5 1005.8 526.5 1005.7 525.5 1005.1 524.5 1004.6 523.5 1004.4 522.5 1003.4 521.5 1002.2 520.5 1000.1 519.5 998.1 518.5 997.9 517.5 998.9 516.5 1000.7 515.5 1002.3 514.5 1002.7 513.5 1003.3 512.5 1004.1 511.5 1003.6 510.5 1002.4 509.5 1000.5 508.5 1000.1 507.5 1000.7 506.5 1002.3 505.5 1003.6 504.5 1003.6 503.5 1003.2 502.5 1004.4 501.5 1004.8 500.5 1004.7 499.5 1004.9 498.5 1005.4 497.5 1006.3 496.5 1005.8 495.5 1005.4 494.5 1004.8 493.5 1004.4 492.5 1003.3 491.5 1002.0 490.5 1002.9 489.5 1005.2 488.5 1007.3 487.5 1007.1 486.5 1006.3 485.5 1005.5 484.5 1007.2 483.5 1009.7 482.5 1011.3 481.5 1010.8 480.5 1009.3 479.5 1006.9 478.5 1004.4 477.5 1004.6 476.5 1005.7 475.5 1006.7 474.5 1007.0 473.5 1006.8 472.5 1006.7 471.5 1006.9 470.5 1006.9 469.5 1006.0 468.5 1004.7 467.5 1003.8 466.5 1004.1 465.5 1007.0 464.5 1009.9 463.5 1011.3 462.5 1012.6 461.5 1013.9 460.5 1014.8 459.5 1014.4 458.5 1014.1 457.5 1014.2 456.5 1014.4 455.5 1012.4 454.5 1010.7 453.5 1011.0 452.5 1012.7 451.5 1013.2 450.5 1013.4 449.5 1014.4 448.5 1015.8 447.5 1017.1 446.5 1018.1 445.5 1016.8 444.5 1014.0 443.5 1009.8 442.5 1006.1 441.5 1009.2 440.5 1012.4 439.5 1011.8 438.5 1011.6 437.5 1013.4 436.5 1016.0 435.5 1018.0 434.5 1019.0 433.5 1019.2 432.5 1019.3 431.5 1018.9 430.5 1018.2 429.5 1017.7 428.5 1016.1 427.5 1008.8 426.5 999.0 425.5 998.8 424.5 1007.6 423.5 1011.4 422.5 1011.9 421.5 1013.4 420.5 1014.9 419.5 1015.6 418.5 1015.0 417.5 1013.9 416.5 1011.2 415.5 1005.7 414.5 1002.5 413.5 1008.6 412.5 1012.5 411.5 1014.1 410.5 1013.7 409.5 1012.8 408.5 1012.1 407.5 1012.2 406.5 1013.2 405.5 1013.9 404.5 1014.3 403.5 1014.2 402.5 1014.0 401.5 1013.8 400.5 1013.8 399.5 1014.1 398.5 1013.7 397.5 1013.3 396.5 1012.7 395.5 1011.8 394.5 1010.2 393.5 1008.3 392.5 1007.9 391.5 1008.0 390.5 1008.3 389.5 1009.0 388.5 1009.2 387.5 1009.4 386.5 1010.8 385.5 1012.8 384.5 1013.5 383.5 1012.7 382.5 1011.5 381.5 1010.0 380.5 1008.6 379.5 1007.3 378.5 1005.6 377.5 1003.3 376.5 1001.0 375.5 999.1 374.5 997.4 373.5 997.2 372.5 996.8 371.5 995.1 370.5 993.7 369.5 991.8 368.5 992.7 367.5 994.4 366.5 996.6 365.5 998.7 364.5 999.6 363.5 1000.7 362.5 1001.5 361.5 1002.7 360.5 1003.8 359.5 1004.9 358.5 1005.5 357.5 1005.1 356.5 1004.8 355.5 1004.3 354.5 1005.2 353.5 1005.8 352.5 1006.6 351.5 1007.6 350.5 1007.3 349.5 1008.1 348.5 1008.5 347.5 1009.3 346.5 1010.6 345.5 1012.2 344.5 1012.4 343.5 1011.5 342.5 1010.4 341.5 1009.3 340.5 1009.1 339.5 1010.0 338.5 1010.9 337.5 1011.7 336.5 1012.1 335.5 1012.6 334.5 1013.7 333.5 1014.8 332.5 1015.5 331.5 1016.5 330.5 1017.6 329.5 1017.9 328.5 1017.6 327.5 1017.3 326.5 1015.8 325.5 1013.5 324.5 1011.2 323.5 1010.2 322.5 1010.8 321.5 1011.4 320.5 1010.7 319.5 1011.2 318.5 1012.5 317.5 1014.1 316.5 1015.3 315.5 1015.4 314.5 1015.4 313.5 1015.2 312.5 1015.9 311.5 1016.7 310.5 1017.8 309.5 1018.5 308.5 1017.9 307.5 1016.9 306.5 1015.8 305.5 1015.3 304.5 1014.9 303.5 1014.5 302.5 1013.9 301.5 1013.9 300.5 1013.8 299.5 1013.9 298.5 1014.2 297.5 1014.3 296.5 1014.1 295.5 1013.6 294.5 1012.3 293.5 1011.0 292.5 1010.4 291.5 1011.0 290.5 1012.1 289.5 1013.3 288.5 1014.2 287.5 1014.3 286.5 1014.0 285.5 1013.5 284.5 1013.7 283.5 1014.1 282.5 1014.7 281.5 1014.9 280.5 1014.3 279.5 1014.1 278.5 1014.0 277.5 1013.7 276.5 1013.1 275.5 1012.5 274.5 1013.6 273.5 1015.5 272.5 1016.8 271.5 1017.7 270.5 1017.9 269.5 1017.9 268.5 1017.9 267.5 1017.8 266.5 1017.6 265.5 1017.6 264.5 1017.5 263.5 1017.3 262.5 1017.2 261.5 1017.2 260.5 1017.4 259.5 1018.1 258.5 1018.6 257.5 1018.6 256.5 1018.4 255.5 1017.9 254.5 1017.7 253.5 1017.9 252.5 1017.0 251.5 1016.1 250.5 1014.8 249.5 1013.9 248.5 1013.1 247.5 1012.3 246.5 1011.8 245.5 1012.4 244.5 1013.4 243.5 1015.1 242.5 1015.7 241.5 1016.0 240.5 1016.2 239.5 1016.4 238.5 1016.0 237.5 1015.6 236.5 1015.4 235.5 1016.7 234.5 1018.8 233.5 1020.6 232.5 1021.8 231.5 1021.6 230.5 1021.0 229.5 1019.7 228.5 1019.3 227.5 1019.2 226.5 1018.8 225.5 1018.1 224.5 1017.5 223.5 1017.5 222.5 1017.9 221.5 1017.8 220.5 1017.4 219.5 1017.0 218.5 1016.7 217.5 1017.3 216.5 1018.2 215.5 1019.3 214.5 1019.5 213.5 1019.4 212.5 1019.6 211.5 1019.8 210.5 1019.7 209.5 1019.5 208.5 1019.4 207.5 1018.7 206.5 1017.9 205.5 1017.0 204.5 1016.4 203.5 1015.9 202.5 1015.4 201.5 1015.2 200.5 1015.4 199.5 1016.0 198.5 1016.5 197.5 1017.2 196.5 1018.4 195.5 1019.8 194.5 1020.9 193.5 1020.6 192.5 1020.0 191.5 1019.4 190.5 1018.8 189.5 1019.2 188.5 1019.7 187.5 1020.3 186.5 1020.8 185.5 1021.1 184.5 1021.2 183.5 1020.8 182.5 1019.0 181.5 1017.6 180.5 1016.3 179.5 1016.7 178.5 1017.6 177.5 1018.8 176.5 1019.8 175.5 1019.2 174.5 1018.5 173.5 1017.5 172.5 1016.5 171.5 1015.7 170.5 1013.7 169.5 1011.3 168.5 1010.2 167.5 1010.3 166.5 1011.7 165.5 1012.6 164.5 1013.9 163.5 1014.7 162.5 1015.3 161.5 1016.9 160.5 1018.4 159.5 1019.9 158.5 1020.8 157.5 1021.3 156.5 1021.8 155.5 1022.2 154.5 1022.5 153.5 1022.5 152.5 1022.3 151.5 1022.9 150.5 1023.6 149.5 1024.3 148.5 1024.9 147.5 1025.1 146.5 1025.3 145.5 1025.6 144.5 1025.5 143.5 1025.2 142.5 1025.0 141.5 1024.2 140.5 1023.7 139.5 1023.4 138.5 1023.5 137.5 1023.8 136.5 1023.9 135.5 1024.0 134.5 1024.2 133.5 1024.4 132.5 1024.8 131.5 1025.2 130.5 1025.6 129.5 1026.0 128.5 1026.3 127.5 1026.5 126.5 1026.4 125.5 1026.3 124.5 1026.2 123.5 1026.6 122.5 1027.2 121.5 1027.8 120.5 1028.1 119.5 1028.3 118.5 1028.5 117.5 1029.1 116.5 1029.6 115.5 1029.9Z" fill="#1f77b4"/>
<path d="M115.8 1024.2h0M115.3 1024.3h0M115.1 1025.4h0M115.2 1024.7h0M115.6 1030.3h0M115.2 1030.2h0M115.8 1030.2h0M116.5 1023.6h0M116.6 1024.7h0M116.6 1024.4h0M116.8 1024.2h0M116.3 1030.0h0M116.1 1030.0h0M117.0 1029.7h0M117.7 1022.7h0M117.9 1022.9h0M117.1 1022.7h0M117.8 1023.4h0M117.3 1029.6h0M117.9 1029.2h0M117.3 1029.4h0M118.3 1022.4h0M118.9 1023.1h0M118.5 1023.0h0M118.6 1023.2h0M118.4 1029.1h0M118.6 1028.5h0M118.6 1028.8h0M119.1 1022.2h0M119.5 1022.8h0M119.5 1022.4h0M119.2 1023.0h0M119.9 1028.8h0M119.1 1028.7h0M119.3 1028.5h0M120.5 1023.0h0M120.2 1023.9h0M120.5 1024.0h0M120.9 1023.4h0M120.7 1028.5h0M120.5 1028.2h0M120.7 1028.4h0M121.3 1023.4h0M121.3 1023.9h0M121.5 1023.2h0M121.5 1023.6h0M121.3 1028.2h0M121.1 1027.9h0M121.7 1027.9h0M122.8 1023.2h0M122.2 1023.9h0M122.9 1023.9h0M122.4 1023.5h0M122.9 1027.7h0M122.1 1027.7h0M122.8 1027.7h0M123.1 1022.2h0M123.2 1022.7h0M123.0 1022.8h0M123.9 1022.8h0M123.1 1027.1h0M123.9 1026.9h0M123.3 1027.1h0M124.2 1020.9h0M124.9 1021.0h0M124.6 1021.6h0M125.0 1021.5h0M124.2 1026.8h0M124.7 1026.5h0M124.7 1026.4h0M125.4 1019.5h0M125.2 1020.3h0M125.9 1020.5h0M125.4 1019.9h0M125.9 1026.9h0M125.5 1026.4h0M125.6 1026.9h0M126.4 1018.0h0M126.3 1019.1h0M126.0 1019.4h0M126.2 1018.8h0M126.6 1027.1h0M126.5 1027.1h0M126.3 1026.9h0M128.0 1016.9h0M127.7 1018.5h0M127.6 1018.5h0M127.2 1018.2h0M127.9 1027.2h0M127.7 1027.0h0M127.1 1027.2h0M128.2 1016.5h0M128.6 1016.8h0M128.3 1017.8h0M128.8 1017.7h0M128.8 1026.9h0M128.9 1026.8h0M128.2 1026.8h0M129.2 1015.7h0M129.2 1017.3h0M129.7 1016.4h0M129.3 1017.2h0M129.7 1026.7h0M129.2 1026.5h0M129.7 1026.3h0M130.8 1015.2h0M130.1 1016.0h0M130.4 1016.6h0M130.8 1015.3h0M130.9 1026.5h0M130.4 1026.4h0M130.4 1026.1h0M131.1 1014.5h0M131.9 1014.5h0M131.4 1016.1h0M131.3 1016.1h0M131.1 1025.9h0M131.5 1025.3h0M132.0 1025.8h0M132.9 1013.6h0M132.8 1015.3h0M132.3 1014.5h0M132.5 1015.2h0M132.2 1025.6h0M132.1 1025.0h0M132.5 1024.9h0M134.0 1012.4h0M133.2 1012.5h0M133.1 1013.4h0M133.1 1014.3h0M133.2 1025.1h0M133.9 1025.1h0M133.5 1024.1h0M134.7 1010.9h0M134.7 1011.1h0M134.5 1011.5h0M134.2 1012.5h0M134.7 1024.8h0M134.4 1024.2h0M134.1 1024.2h0M135.6 1009.3h0M135.1 1012.0h0M135.9 1010.1h0M135.3 1011.1h0M135.6 1024.7h0M135.4 1024.3h0M135.9 1024.0h0M136.7 1009.3h0M136.8 1010.4h0M137.0 1011.3h0M136.9 1012.0h0M136.5 1024.6h0M136.4 1023.8h0M136.2 1023.9h0M137.1 1009.8h0M137.2 1009.6h0M137.4 1011.6h0M137.9 1012.4h0M137.3 1024.5h0M137.3 1023.6h0M137.7 1024.1h0M138.7 1008.9h0M138.0 1011.8h0M138.5 1011.7h0M138.3 1011.8h0M138.5 1024.2h0M138.7 1023.8h0M138.3 1023.4h0M139.7 1006.8h0M139.9 1010.0h0M139.9 1007.0h0M139.1 1009.5h0M140.0 1024.2h0M139.6 1024.3h0M139.1 1024.2h0M140.1 1005.6h0M140.1 1009.1h0M140.1 1006.7h0M140.4 1008.1h0M140.7 1024.6h0M140.6 1023.4h0M140.9 1024.3h0M142.0 1005.4h0M141.5 1009.1h0M141.9 1008.2h0M141.7 1007.4h0M141.0 1025.0h0M141.5 1024.8h0M141.5 1024.0h0M142.9 1006.3h0M142.3 1007.5h0M142.5 1009.6h0M142.4 1007.6h0M142.2 1025.6h0M142.4 1025.1h0M142.5 1025.1h0M143.4 1008.2h0M143.1 1011.2h0M143.8 1011.3h0M143.5 1011.5h0M143.9 1026.0h0M143.9 1025.0h0M143.5 1025.8h0M144.3 1008.8h0M144.6 1010.9h0M144.4 1011.6h0M144.9 1010.7h0M144.9 1026.3h0M144.7 1025.6h0M144.9 1026.4h0M145.0 1007.9h0M145.2 1010.8h0M145.4 1008.3h0M145.6 1008.8h0M145.7 1026.5h0M145.2 1026.4h0M145.7 1025.1h0M146.3 1007.8h0M146.8 1010.3h0M146.8 1007.6h0M146.6 1010.1h0M146.8 1026.3h0M147.0 1025.7h0M146.1 1025.3h0M147.6 1007.0h0M147.8 1008.5h0M147.0 1009.8h0M147.2 1010.0h0M147.2 1025.9h0M147.4 1026.0h0M147.4 1025.9h0M148.5 1006.8h0M148.1 1008.2h0M148.7 1009.7h0M148.4 1009.2h0M148.7 1025.9h0M148.0 1024.5h0M148.9 1025.7h0M149.3 1006.3h0M149.5 1007.5h0M149.4 1008.1h0M149.3 1008.4h0M149.5 1025.3h0M149.3 1023.8h0M149.7 1025.0h0M150.8 1005.9h0M150.5 1008.8h0M150.6 1008.8h0M150.9 1008.7h0M151.0 1024.4h0M150.4 1024.0h0M150.7 1024.4h0M151.7 1005.3h0M151.5 1007.9h0M151.1 1008.4h0M151.2 1008.4h0M151.7 1023.7h0M151.5 1022.7h0M152.0 1023.9h0M152.3 1005.4h0M152.1 1008.6h0M152.8 1008.5h0M152.7 1006.4h0M152.1 1023.1h0M152.4 1022.7h0M152.3 1022.9h0M153.6 1005.4h0M153.8 1007.4h0M153.0 1005.4h0M153.7 1008.9h0M154.0 1023.2h0M153.9 1022.9h0M153.2 1022.7h0M154.8 1005.9h0M154.7 1009.0h0M154.5 1007.4h0M154.6 1009.1h0M154.2 1023.3h0M154.4 1022.9h0M154.6 1022.5h0M156.0 1006.4h0M155.9 1007.6h0M155.4 1007.9h0M155.8 1007.4h0M155.4 1023.1h0M155.5 1022.0h0M155.7 1022.3h0M156.0 1005.3h0M156.8 1006.4h0M156.7 1007.0h0M156.6 1005.7h0M156.4 1022.7h0M156.0 1022.5h0M156.5 1022.5h0M157.4 1002.8h0M157.2 1004.6h0M157.8 1005.4h0M157.5 1004.3h0M157.1 1022.2h0M157.5 1022.0h0M158.0 1022.1h0M158.6 1000.0h0M158.7 1003.5h0M158.6 1003.0h0M158.5 1003.5h0M158.3 1021.8h0M158.8 1021.2h0M158.9 1021.5h0M159.4 997.8h0M159.8 1000.9h0M159.6 999.0h0M159.8 998.9h0M159.5 1021.3h0M159.2 1021.2h0M159.8 1020.5h0M160.9 996.9h0M160.7 997.2h0M161.0 996.4h0M160.5 999.0h0M160.9 1019.3h0M160.1 1018.0h0M160.7 1018.5h0M161.0 996.1h0M161.2 999.2h0M161.2 998.2h0M161.6 997.7h0M161.5 1017.9h0M161.2 1017.8h0M161.3 1017.1h0M162.6 994.9h0M162.2 996.1h0M162.2 998.7h0M162.3 997.2h0M162.1 1016.4h0M162.1 1016.0h0M162.8 1016.2h0M163.0 995.7h0M163.7 998.0h0M163.0 998.0h0M163.6 998.8h0M163.0 1015.6h0M163.7 1015.4h0M163.5 1014.8h0M164.7 988.0h0M164.5 992.8h0M164.6 992.2h0M164.6 988.8h0M164.7 1015.1h0M164.6 1014.3h0M164.5 1014.1h0M165.0 979.6h0M166.0 979.6h0M165.4 978.8h0M165.1 979.7h0M165.6 1013.7h0M165.8 1013.8h0M165.7 1013.7h0M166.9 975.5h0M166.1 981.6h0M166.3 980.1h0M166.5 980.0h0M167.0 1012.9h0M166.1 1012.8h0M166.8 1012.7h0M167.9 969.7h0M167.5 971.9h0M167.3 976.3h0M167.5 974.9h0M167.3 1012.2h0M167.1 1012.1h0M167.1 1011.9h0M168.8 963.1h0M168.7 969.7h0M168.2 968.5h0M168.1 962.5h0M168.7 1012.3h0M168.3 1010.7h0M168.7 1012.6h0M169.6 953.1h0M169.2 963.5h0M169.6 956.4h0M169.4 960.2h0M169.9 1013.2h0M169.8 1011.8h0M169.4 1011.6h0M170.5 948.5h0M170.4 954.9h0M170.0 955.4h0M170.5 960.9h0M170.8 1015.3h0M170.0 1015.0h0M170.6 1015.6h0M171.7 958.6h0M171.1 970.1h0M172.0 962.4h0M171.7 968.3h0M171.6 1017.0h0M171.7 1015.1h0M171.0 1015.7h0M172.8 970.7h0M172.6 974.2h0M172.2 977.0h0M172.8 978.5h0M172.7 1017.8h0M172.4 1016.1h0M172.5 1015.4h0M173.2 981.7h0M173.1 985.3h0M173.4 983.7h0M173.9 983.0h0M173.2 1019.6h0M173.4 1019.3h0M173.4 1018.9h0M174.9 986.2h0M174.2 986.7h0M174.8 990.2h0M174.6 987.7h0M174.8 1019.9h0M174.8 1019.6h0M174.4 1017.2h0M175.2 984.0h0M175.6 984.4h0M175.7 987.9h0M175.8 984.8h0M175.4 1021.1h0M175.7 1018.2h0M175.6 1018.9h0M176.4 983.5h0M176.5 982.5h0M176.6 984.7h0M176.7 985.9h0M176.5 1021.7h0M176.9 1020.6h0M176.0 1020.4h0M177.5 982.1h0M177.3 987.5h0M177.0 987.1h0M177.6 985.2h0M177.8 1020.3h0M177.2 1019.1h0M177.0 1020.0h0M178.1 984.7h0M178.6 985.4h0M178.2 984.9h0M178.0 987.7h0M178.3 1019.3h0M178.5 1019.3h0M178.3 1019.3h0M179.4 988.2h0M179.1 992.6h0M179.3 990.5h0M179.8 990.3h0M179.3 1017.6h0M179.2 1017.8h0M179.6 1016.6h0M180.8 988.9h0M180.9 988.5h0M180.7 993.8h0M180.1 992.5h0M180.5 1017.5h0M181.0 1016.0h0M180.0 1017.5h0M181.7 987.7h0M181.6 992.8h0M181.4 991.5h0M181.8 990.3h0M181.8 1019.0h0M181.8 1018.0h0M181.5 1019.0h0M182.4 986.9h0M182.4 990.6h0M182.3 991.7h0M182.6 991.6h0M182.3 1020.8h0M182.7 1020.3h0M182.1 1020.4h0M183.2 986.9h0M183.4 987.4h0M183.2 987.4h0M183.1 989.8h0M183.6 1022.6h0M183.5 1022.5h0M183.2 1021.9h0M184.2 985.8h0M184.1 991.0h0M184.4 991.9h0M184.6 990.1h0M184.2 1022.3h0M184.8 1021.0h0M184.5 1021.7h0M185.8 984.8h0M185.4 988.2h0M185.1 990.9h0M185.5 988.7h0M185.2 1022.8h0M185.1 1020.2h0M185.3 1022.9h0M186.5 982.7h0M186.2 989.7h0M186.4 985.4h0M186.1 988.9h0M186.6 1022.2h0M186.3 1021.8h0M186.6 1020.2h0M187.8 982.5h0M187.0 984.8h0M187.9 988.7h0M187.6 985.8h0M187.7 1022.3h0M187.3 1021.6h0M187.3 1021.8h0M188.3 983.3h0M188.5 982.8h0M188.6 985.5h0M188.9 989.1h0M188.2 1021.1h0M188.2 1020.8h0M188.2 1018.5h0M189.5 984.4h0M189.3 988.6h0M189.5 987.8h0M190.0 986.6h0M189.4 1020.3h0M189.4 1019.8h0M189.7 1019.8h0M190.0 985.9h0M190.7 990.2h0M190.6 985.8h0M190.5 986.5h0M190.1 1019.8h0M190.4 1019.3h0M190.6 1018.7h0M191.3 987.8h0M191.0 989.9h0M191.1 993.5h0M191.7 993.3h0M191.5 1020.5h0M191.7 1020.1h0M191.3 1019.9h0M192.5 987.3h0M192.5 991.8h0M192.4 992.0h0M192.9 992.0h0M192.9 1021.2h0M192.6 1020.5h0M192.3 1020.9h0M193.7 986.4h0M193.5 989.7h0M193.8 986.5h0M193.8 990.3h0M193.7 1022.3h0M193.4 1021.2h0M193.8 1022.0h0M194.6 986.1h0M194.8 990.9h0M194.7 990.2h0M194.0 986.2h0M194.1 1022.7h0M194.3 1022.9h0M194.2 1020.6h0M195.8 982.8h0M195.3 983.8h0M195.1 987.6h0M195.1 987.1h0M195.2 1021.9h0M195.8 1020.8h0M195.8 1020.3h0M196.8 970.9h0M196.6 979.6h0M196.1 978.7h0M196.5 978.8h0M196.9 1020.0h0M196.2 1019.6h0M196.9 1020.1h0M197.5 968.3h0M198.0 969.7h0M198.0 977.0h0M197.2 977.3h0M197.3 1018.5h0M197.0 1016.9h0M197.9 1017.8h0M198.1 977.1h0M198.9 979.2h0M198.2 983.2h0M198.6 980.0h0M198.8 1017.8h0M198.3 1018.4h0M198.8 1017.5h0M199.1 983.9h0M199.2 989.3h0M199.5 989.3h0M199.9 983.6h0M199.3 1017.4h0M199.2 1016.1h0M199.3 1015.1h0M200.4 986.4h0M200.1 988.5h0M200.5 991.7h0M200.9 990.0h0M200.9 1016.6h0M200.2 1015.4h0M200.5 1015.2h0M201.5 988.3h0M201.7 987.4h0M201.4 992.9h0M201.4 990.5h0M201.1 1016.4h0M201.9 1015.8h0M201.3 1015.9h0M202.5 986.2h0M202.6 988.6h0M202.1 987.5h0M202.1 991.7h0M202.6 1016.5h0M202.6 1015.0h0M202.7 1016.7h0M203.8 984.5h0M203.2 987.4h0M203.9 988.7h0M204.0 989.5h0M203.9 1016.9h0M204.0 1016.5h0M203.8 1015.4h0M204.4 982.5h0M204.8 987.4h0M204.1 982.6h0M204.5 986.8h0M204.3 1017.6h0M204.9 1015.5h0M204.2 1015.9h0M205.3 982.3h0M205.1 985.7h0M205.0 987.1h0M205.8 987.0h0M205.4 1018.2h0M205.5 1018.3h0M205.8 1016.8h0M206.1 984.5h0M206.9 986.9h0M206.9 989.4h0M206.4 989.6h0M206.1 1019.0h0M206.6 1017.7h0M206.6 1019.6h0M207.7 986.8h0M207.2 990.8h0M207.9 988.9h0M207.5 990.0h0M207.3 1020.0h0M207.9 1017.4h0M207.8 1019.9h0M208.6 989.6h0M208.4 992.2h0M208.6 992.9h0M208.9 993.6h0M208.2 1021.1h0M208.2 1020.0h0M208.5 1019.5h0M209.8 991.3h0M209.5 992.6h0M209.4 993.2h0M209.9 991.6h0M209.3 1021.0h0M209.3 1019.5h0M209.1 1020.0h0M210.7 991.2h0M210.1 991.2h0M210.1 991.5h0M210.4 993.6h0M210.6 1020.7h0M210.5 1020.6h0M210.9 1018.8h0M211.7 991.1h0M211.3 995.1h0M211.5 994.1h0M211.9 994.7h0M211.7 1021.4h0M211.4 1021.4h0M211.9 1018.8h0M212.2 989.1h0M212.9 992.8h0M212.4 992.8h0M212.4 991.3h0M212.4 1020.8h0M212.9 1021.5h0M212.4 1020.4h0M213.8 984.7h0M213.2 984.9h0M213.5 988.5h0M213.4 986.3h0M213.8 1020.9h0M213.9 1021.2h0M213.1 1017.9h0M214.5 981.0h0M214.4 986.5h0M214.7 986.0h0M214.2 982.6h0M214.8 1021.7h0M214.7 1019.2h0M214.3 1018.8h0M215.2 977.2h0M215.3 976.8h0M215.2 982.3h0M215.7 976.5h0M215.1 1021.7h0M215.8 1018.2h0M215.9 1017.9h0M216.7 973.5h0M216.7 976.1h0M216.9 978.0h0M216.4 980.9h0M216.2 1020.1h0M216.0 1017.0h0M216.8 1018.5h0M217.8 975.5h0M217.9 975.8h0M217.8 975.7h0M217.1 982.3h0M217.3 1018.8h0M217.9 1018.8h0M217.9 1018.4h0M219.0 977.2h0M219.0 981.5h0M218.2 984.1h0M218.2 977.6h0M218.0 1018.2h0M218.9 1018.3h0M218.2 1015.5h0M220.0 980.1h0M219.7 983.8h0M219.2 985.8h0M219.8 985.4h0M219.3 1018.9h0M219.8 1018.7h0M219.8 1016.8h0M220.7 980.6h0M220.1 986.6h0M220.1 981.4h0M220.6 985.7h0M220.2 1018.7h0M220.9 1019.3h0M220.8 1018.6h0M221.8 980.9h0M221.0 986.3h0M221.8 981.2h0M221.5 986.5h0M221.1 1019.7h0M221.9 1018.6h0M221.8 1018.2h0M222.0 979.7h0M222.5 985.1h0M222.5 985.8h0M222.5 985.9h0M222.8 1019.8h0M222.5 1017.1h0M222.5 1019.1h0M223.6 981.0h0M223.3 986.9h0M223.6 987.1h0M223.5 985.2h0M223.7 1019.3h0M223.4 1019.4h0M223.8 1018.6h0M224.8 982.9h0M224.5 988.8h0M224.3 989.3h0M224.7 989.1h0M224.1 1018.8h0M224.7 1019.1h0M224.3 1017.6h0M225.2 985.6h0M225.4 988.3h0M226.0 985.9h0M225.5 991.6h0M225.5 1019.0h0M225.9 1018.7h0M225.3 1018.8h0M226.3 987.9h0M226.9 987.2h0M226.2 990.3h0M226.6 990.4h0M226.9 1019.7h0M226.1 1018.1h0M226.0 1019.3h0M227.5 988.3h0M227.0 988.5h0M227.3 988.1h0M227.6 995.0h0M227.9 1020.3h0M227.2 1020.1h0M227.6 1019.9h0M228.8 990.8h0M228.1 992.6h0M228.6 994.5h0M228.9 993.1h0M228.7 1020.5h0M228.9 1019.5h0M228.6 1018.9h0M229.6 993.1h0M229.2 996.8h0M229.1 994.8h0M229.2 997.5h0M229.7 1020.6h0M229.6 1019.2h0M229.5 1020.2h0M230.5 995.0h0M230.5 998.2h0M230.3 999.9h0M230.8 996.8h0M230.5 1022.0h0M230.3 1022.2h0M230.4 1022.1h0M231.4 996.5h0M231.5 996.0h0M231.3 1000.0h0M231.8 997.7h0M231.5 1022.6h0M231.1 1023.0h0M231.6 1022.4h0M232.5 993.9h0M232.7 996.8h0M232.4 996.6h0M232.7 997.4h0M232.1 1023.4h0M232.1 1021.4h0M232.9 1021.8h0M233.2 991.1h0M233.5 991.1h0M233.6 992.5h0M233.2 994.1h0M233.2 1021.9h0M233.8 1022.2h0M233.4 1022.3h0M234.5 988.4h0M234.4 993.9h0M234.2 991.3h0M234.1 989.3h0M234.5 1020.1h0M234.7 1018.2h0M234.4 1019.2h0M235.5 986.6h0M235.0 989.3h0M235.5 989.3h0M235.9 991.9h0M235.0 1017.7h0M235.9 1016.3h0M235.4 1017.7h0M236.5 984.9h0M236.1 989.3h0M236.7 987.5h0M236.3 985.3h0M237.0 1016.8h0M236.2 1015.5h0M236.1 1016.5h0M237.1 980.8h0M237.8 986.1h0M237.3 982.3h0M237.2 981.9h0M237.6 1017.2h0M237.7 1015.0h0M237.5 1015.6h0M238.7 977.1h0M238.3 979.9h0M238.4 979.7h0M238.1 979.3h0M238.8 1017.6h0M238.4 1017.1h0M238.6 1017.6h0M239.8 974.4h0M239.3 981.7h0M239.3 982.0h0M239.6 981.5h0M239.8 1017.7h0M239.4 1017.4h0M239.4 1016.5h0M240.1 973.1h0M240.9 973.4h0M240.2 973.1h0M240.4 976.8h0M240.4 1017.7h0M240.5 1015.8h0M240.4 1017.0h0M241.8 970.6h0M241.9 971.6h0M241.7 977.8h0M241.6 975.0h0M241.5 1017.3h0M241.9 1014.5h0M241.5 1015.4h0M242.2 970.6h0M242.6 970.9h0M242.9 977.9h0M242.9 976.2h0M242.3 1017.1h0M242.2 1014.9h0M242.6 1017.3h0M243.3 969.8h0M243.6 977.3h0M243.6 976.1h0M243.4 971.1h0M244.0 1016.6h0M243.9 1016.3h0M243.8 1014.7h0M244.2 972.2h0M244.8 972.4h0M244.8 974.7h0M244.3 977.8h0M244.2 1014.6h0M244.2 1013.2h0M245.0 1015.0h0M245.0 975.4h0M245.7 982.4h0M245.2 975.8h0M245.3 976.6h0M245.4 1014.2h0M245.1 1012.1h0M245.1 1013.3h0M246.7 978.8h0M246.7 982.9h0M246.3 980.6h0M246.7 984.7h0M246.8 1013.0h0M246.9 1013.2h0M246.6 1013.1h0M247.9 979.6h0M247.2 983.3h0M247.6 982.2h0M247.5 986.0h0M247.1 1013.3h0M247.9 1013.5h0M247.3 1012.2h0M248.9 980.6h0M249.0 986.8h0M248.1 984.2h0M248.7 986.6h0M248.2 1014.4h0M248.6 1012.3h0M248.2 1013.1h0M249.1 982.6h0M249.8 987.5h0M249.3 986.1h0M249.1 986.2h0M249.6 1015.3h0M249.4 1015.3h0M249.5 1013.5h0M250.7 983.5h0M250.3 988.9h0M250.9 984.0h0M250.2 982.7h0M250.3 1015.9h0M251.0 1014.4h0M250.1 1015.8h0M251.1 985.5h0M251.2 986.5h0M251.7 989.9h0M252.0 989.5h0M251.8 1017.1h0M251.6 1016.7h0M251.3 1017.4h0M252.9 986.0h0M252.3 990.6h0M252.4 991.1h0M253.0 986.7h0M252.3 1018.2h0M252.4 1016.2h0M252.7 1017.2h0M253.9 983.5h0M253.4 983.1h0M253.1 987.4h0M253.6 989.3h0M253.3 1019.5h0M253.5 1016.9h0M253.5 1018.2h0M254.2 972.4h0M254.8 977.5h0M254.5 976.2h0M254.6 980.9h0M254.8 1019.5h0M254.8 1018.7h0M254.5 1017.1h0M255.3 978.6h0M255.5 980.7h0M255.4 984.9h0M255.3 985.6h0M255.6 1019.5h0M255.9 1018.5h0M255.8 1018.8h0M256.1 988.9h0M256.2 993.5h0M256.7 992.2h0M256.5 993.0h0M256.3 1019.8h0M256.4 1020.2h0M256.5 1018.5h0M257.4 992.4h0M257.4 996.3h0M257.5 995.9h0M257.2 995.8h0M257.3 1019.7h0M257.3 1018.5h0M257.5 1018.7h0M258.5 993.6h0M258.0 993.4h0M258.4 997.0h0M258.1 995.7h0M258.1 1019.6h0M258.4 1019.7h0M258.4 1018.8h0M259.1 991.8h0M259.2 996.7h0M259.2 996.3h0M259.9 995.1h0M259.2 1019.2h0M259.8 1018.3h0M259.3 1018.6h0M260.4 990.4h0M260.9 994.0h0M260.0 991.6h0M261.0 992.5h0M260.3 1018.6h0M260.9 1017.4h0M260.5 1017.5h0M261.1 991.4h0M261.4 993.5h0M261.3 993.3h0M261.6 992.4h0M261.8 1018.5h0M261.2 1017.3h0M261.9 1017.7h0M262.1 992.9h0M262.9 994.8h0M262.7 995.3h0M262.7 996.6h0M262.9 1018.4h0M262.5 1016.7h0M262.9 1017.8h0M263.5 993.7h0M263.2 995.1h0M263.3 993.9h0M263.5 997.2h0M263.6 1018.3h0M263.9 1017.4h0M263.1 1017.9h0M264.9 993.6h0M264.6 997.1h0M264.4 996.2h0M265.0 997.1h0M264.4 1018.9h0M264.1 1018.5h0M264.2 1018.3h0M265.5 992.1h0M265.1 995.6h0M265.5 992.3h0M266.0 994.6h0M265.0 1018.8h0M265.7 1018.0h0M265.9 1018.8h0M266.0 991.2h0M266.2 992.9h0M266.9 995.5h0M266.8 993.9h0M266.3 1018.8h0M266.9 1018.6h0M266.4 1017.6h0M268.0 989.0h0M267.3 989.6h0M267.8 994.3h0M267.5 993.4h0M267.7 1019.2h0M267.3 1017.6h0M267.3 1018.9h0M268.7 989.2h0M268.2 994.1h0M268.8 994.1h0M268.9 992.9h0M268.5 1019.3h0M268.3 1017.2h0M268.2 1018.6h0M269.3 989.1h0M269.5 988.3h0M269.5 993.1h0M269.9 994.1h0M269.4 1018.7h0M269.2 1018.6h0M269.7 1019.0h0M270.6 988.0h0M270.3 993.4h0M270.8 993.6h0M270.6 990.1h0M270.7 1019.2h0M270.5 1018.6h0M270.0 1018.9h0M271.7 987.7h0M271.6 991.0h0M271.1 988.9h0M271.7 992.5h0M271.7 1019.0h0M271.2 1017.2h0M271.9 1017.8h0M272.6 985.7h0M272.4 988.1h0M272.6 987.3h0M272.3 987.3h0M272.5 1018.1h0M272.4 1016.4h0M272.1 1017.4h0M273.3 985.0h0M273.1 989.8h0M273.1 984.5h0M273.6 987.4h0M273.8 1016.8h0M273.9 1016.3h0M273.6 1016.4h0M274.8 983.3h0M274.9 983.7h0M274.3 987.8h0M274.6 988.7h0M274.2 1014.9h0M274.4 1014.6h0M274.8 1013.8h0M275.4 983.3h0M275.3 983.7h0M275.6 987.3h0M275.1 987.1h0M275.5 1014.0h0M275.4 1012.3h0M275.1 1013.6h0M276.8 986.0h0M276.3 989.4h0M276.7 988.7h0M277.0 990.5h0M276.1 1014.2h0M276.6 1013.7h0M276.2 1013.2h0M277.1 989.9h0M277.2 991.0h0M277.7 993.4h0M277.2 992.3h0M277.2 1015.0h0M277.2 1014.8h0M277.3 1013.6h0M278.4 990.9h0M278.3 992.6h0M278.6 990.9h0M278.5 991.4h0M278.5 1015.1h0M278.2 1014.6h0M278.5 1014.2h0M279.4 989.7h0M279.8 993.7h0M280.0 989.3h0M279.6 991.3h0M279.5 1015.0h0M279.9 1014.1h0M279.8 1015.4h0M280.9 987.9h0M280.5 992.3h0M280.2 989.4h0M280.2 989.1h0M280.7 1015.5h0M280.0 1015.6h0M280.5 1014.1h0M281.6 986.2h0M281.7 990.8h0M281.5 989.0h0M281.1 985.9h0M281.7 1016.5h0M281.2 1014.8h0M281.0 1015.4h0M282.6 984.6h0M282.9 986.2h0M282.3 988.1h0M283.0 988.5h0M282.1 1016.0h0M282.8 1014.9h0M282.2 1015.2h0M283.0 981.1h0M283.8 986.2h0M283.0 986.9h0M283.5 981.9h0M283.3 1015.5h0M283.6 1015.6h0M283.2 1014.7h0M284.8 978.8h0M285.0 980.9h0M284.3 978.3h0M284.5 983.4h0M284.9 1015.3h0M284.6 1013.9h0M284.5 1013.5h0M285.6 976.3h0M285.6 982.0h0M285.4 980.2h0M285.7 981.6h0M285.8 1014.8h0M286.0 1014.3h0M285.2 1012.8h0M286.2 980.7h0M286.3 986.4h0M286.1 980.8h0M286.7 984.3h0M286.3 1015.2h0M286.7 1015.1h0M286.9 1014.1h0M287.4 986.1h0M287.4 986.5h0M287.0 988.0h0M287.4 986.6h0M287.7 1015.7h0M287.5 1014.7h0M287.7 1014.9h0M288.9 989.6h0M288.1 989.8h0M288.6 992.9h0M288.9 991.9h0M288.2 1015.3h0M288.0 1015.0h0M288.5 1013.8h0M289.1 989.9h0M289.5 993.4h0M289.7 991.7h0M290.0 991.1h0M289.6 1014.3h0M289.5 1014.0h0M290.0 1012.8h0M290.7 990.0h0M290.4 992.1h0M290.0 993.3h0M290.3 991.9h0M290.4 1013.0h0M290.0 1012.5h0M290.9 1012.1h0M291.1 990.1h0M291.2 992.7h0M291.4 991.5h0M291.3 993.1h0M291.1 1012.0h0M291.7 1011.3h0M291.2 1012.1h0M292.2 990.4h0M292.9 990.0h0M292.7 990.1h0M292.5 991.6h0M292.6 1011.5h0M292.8 1011.0h0M292.6 1010.8h0M293.6 990.4h0M294.0 993.6h0M293.7 990.6h0M293.1 993.1h0M293.0 1012.0h0M293.8 1010.3h0M293.5 1011.1h0M294.0 990.6h0M294.8 991.0h0M294.1 993.0h0M294.9 993.7h0M294.2 1013.5h0M294.1 1012.7h0M295.0 1012.9h0M295.1 988.6h0M295.0 992.3h0M295.6 990.7h0M295.1 992.3h0M295.7 1014.6h0M295.9 1014.7h0M295.8 1013.6h0M296.1 985.7h0M296.7 988.1h0M296.7 989.6h0M296.2 989.1h0M296.4 1015.5h0M296.4 1015.8h0M296.1 1015.6h0M297.5 982.3h0M298.0 987.2h0M297.4 986.6h0M297.3 986.9h0M297.7 1015.6h0M297.4 1013.3h0M297.6 1016.1h0M298.4 978.8h0M298.6 983.4h0M298.5 981.2h0M298.9 979.4h0M298.1 1016.0h0M298.7 1014.5h0M298.0 1015.9h0M299.9 975.6h0M299.7 978.9h0M299.7 980.4h0M299.3 980.6h0M300.0 1016.0h0M299.8 1014.8h0M299.1 1013.9h0M300.9 975.3h0M300.5 981.0h0M300.6 978.4h0M300.9 980.5h0M300.6 1015.7h0M300.1 1013.6h0M300.6 1014.6h0M301.2 975.3h0M301.8 981.0h0M302.0 981.6h0M301.6 981.4h0M301.9 1015.8h0M301.9 1012.5h0M301.8 1016.1h0M302.6 974.6h0M302.8 980.0h0M302.6 978.6h0M302.7 979.1h0M302.1 1015.3h0M302.2 1014.6h0M302.8 1013.0h0M303.2 974.1h0M303.3 974.1h0M303.6 981.7h0M303.8 976.5h0M303.2 1015.7h0M303.4 1015.6h0M303.9 1014.2h0M304.2 971.8h0M305.0 978.7h0M304.3 974.5h0M304.1 972.0h0M304.3 1016.4h0M304.5 1016.8h0M304.4 1016.9h0M305.5 968.6h0M305.1 973.3h0M305.5 974.4h0M305.3 976.0h0M305.5 1017.0h0M305.7 1014.0h0M305.9 1015.9h0M306.8 967.5h0M306.1 975.4h0M306.4 970.8h0M306.1 972.7h0M306.2 1017.3h0M306.2 1015.9h0M306.3 1015.2h0M307.1 969.9h0M307.5 971.6h0M307.5 977.6h0M307.5 974.3h0M307.1 1018.5h0M307.5 1015.6h0M307.2 1018.3h0M308.7 973.4h0M308.2 979.6h0M308.3 977.3h0M308.1 977.0h0M308.9 1019.3h0M308.4 1018.9h0M309.0 1018.5h0M310.0 977.0h0M309.1 979.7h0M309.5 981.7h0M309.3 977.5h0M309.7 1020.0h0M309.7 1019.7h0M309.4 1017.7h0M310.6 975.5h0M310.1 977.5h0M310.8 981.8h0M310.8 983.0h0M310.7 1019.3h0M310.4 1018.1h0M310.6 1019.6h0M311.8 973.4h0M311.1 979.5h0M311.2 974.0h0M311.0 980.2h0M311.8 1018.7h0M311.1 1017.4h0M311.6 1017.3h0M313.0 970.3h0M312.8 976.7h0M312.0 978.6h0M312.1 977.3h0M312.6 1017.0h0M312.9 1017.5h0M312.2 1016.8h0M313.4 967.8h0M313.4 973.7h0M313.8 970.5h0M313.5 968.3h0M313.9 1016.6h0M313.3 1014.6h0M313.1 1014.1h0M314.4 966.0h0M314.0 972.1h0M314.4 974.4h0M314.8 971.1h0M314.8 1017.2h0M314.6 1014.8h0M314.9 1014.6h0M315.6 966.4h0M315.5 975.9h0M315.3 975.3h0M315.9 966.2h0M315.4 1017.0h0M315.3 1016.4h0M316.0 1017.0h0M317.0 966.0h0M316.6 975.3h0M316.4 968.7h0M316.8 968.4h0M316.1 1017.2h0M316.3 1016.1h0M316.8 1017.5h0M317.4 966.0h0M317.3 974.5h0M317.5 970.5h0M317.7 966.5h0M317.1 1016.1h0M317.2 1012.6h0M317.3 1015.5h0M318.7 965.2h0M318.9 974.1h0M318.2 973.5h0M318.1 970.9h0M318.9 1013.9h0M318.0 1011.2h0M318.2 1014.4h0M319.8 965.9h0M319.7 969.8h0M319.5 973.4h0M319.8 974.2h0M319.6 1012.7h0M319.8 1010.3h0M319.9 1010.7h0M320.6 966.2h0M320.5 971.4h0M320.6 969.5h0M320.7 970.5h0M320.4 1011.9h0M320.4 1012.0h0M320.5 1011.1h0M321.7 964.8h0M322.0 973.4h0M321.2 970.4h0M321.3 973.1h0M321.1 1012.8h0M321.7 1013.2h0M321.2 1010.2h0M322.5 963.9h0M322.7 970.9h0M322.8 971.6h0M322.9 965.5h0M322.0 1012.9h0M322.2 1012.3h0M322.3 1011.7h0M323.9 963.0h0M323.0 965.4h0M323.2 969.4h0M323.8 969.2h0M323.6 1011.7h0M323.6 1011.7h0M323.6 1009.7h0M324.2 960.5h0M324.6 969.8h0M324.1 960.9h0M324.2 969.7h0M324.6 1013.6h0M324.8 1010.1h0M324.7 1011.4h0M325.2 963.1h0M325.1 970.6h0M325.1 969.7h0M325.4 968.9h0M325.6 1016.0h0M325.0 1012.3h0M325.3 1015.3h0M326.1 962.0h0M326.2 969.8h0M326.1 971.4h0M326.5 972.1h0M326.7 1017.7h0M326.8 1018.3h0M326.5 1017.7h0M327.1 963.6h0M327.2 965.3h0M327.5 964.2h0M327.0 971.1h0M327.2 1019.1h0M327.9 1015.8h0M327.3 1019.6h0M328.5 967.6h0M328.3 972.2h0M328.2 971.4h0M328.6 973.3h0M329.0 1020.0h0M328.7 1017.7h0M328.7 1018.9h0M329.0 969.4h0M329.4 970.0h0M329.6 976.7h0M329.8 972.3h0M329.3 1019.7h0M330.0 1017.3h0M329.6 1017.2h0M330.8 970.7h0M330.2 973.4h0M330.9 973.9h0M330.6 973.0h0M330.7 1019.6h0M330.2 1015.7h0M330.6 1017.8h0M331.9 970.9h0M331.0 970.3h0M331.9 974.2h0M331.3 971.0h0M331.1 1018.1h0M331.6 1017.5h0M331.7 1014.6h0M332.5 970.6h0M332.4 974.7h0M332.3 977.1h0M332.2 975.1h0M332.9 1017.8h0M332.9 1017.5h0M332.3 1018.2h0M333.6 971.4h0M333.9 976.5h0M333.1 978.6h0M333.2 976.0h0M333.0 1016.6h0M334.0 1015.1h0M333.5 1017.1h0M334.8 972.1h0M334.6 976.5h0M334.8 979.1h0M334.6 976.1h0M334.9 1015.3h0M334.4 1014.7h0M334.1 1012.3h0M335.5 974.5h0M336.0 977.4h0M335.9 974.8h0M336.0 978.3h0M335.8 1014.7h0M335.9 1011.2h0M335.4 1013.2h0M336.7 975.1h0M336.3 980.1h0M336.4 980.9h0M336.2 977.5h0M336.7 1013.8h0M336.6 1011.9h0M336.4 1013.7h0M337.4 976.9h0M337.1 979.5h0M337.7 978.8h0M337.5 982.0h0M337.4 1013.4h0M337.1 1011.8h0M337.4 1011.5h0M338.1 977.7h0M338.2 983.7h0M338.9 977.7h0M339.0 983.8h0M338.7 1012.4h0M338.2 1011.3h0M338.4 1011.6h0M339.8 979.4h0M339.3 985.1h0M339.0 980.8h0M339.1 981.1h0M339.3 1010.9h0M339.9 1010.6h0M339.9 1009.4h0M340.5 981.1h0M340.6 984.3h0M340.9 983.4h0M340.3 984.7h0M340.6 1010.0h0M340.9 1010.1h0M340.5 1009.5h0M341.7 983.4h0M341.4 987.2h0M341.9 988.0h0M341.5 987.0h0M341.1 1010.2h0M341.6 1010.5h0M341.2 1009.1h0M342.6 984.4h0M342.8 987.2h0M342.8 987.8h0M342.9 984.7h0M342.5 1011.3h0M342.6 1010.7h0M342.8 1011.2h0M343.9 985.6h0M343.8 986.1h0M343.0 987.6h0M343.1 987.1h0M343.2 1012.7h0M343.0 1011.7h0M343.8 1010.8h0M344.6 986.1h0M344.5 990.0h0M344.1 990.3h0M344.0 987.8h0M344.5 1013.4h0M344.7 1012.0h0M344.1 1013.9h0M345.9 986.3h0M345.1 987.9h0M345.1 986.8h0M345.2 987.5h0M345.6 1013.7h0M345.2 1012.7h0M345.5 1011.6h0M346.6 984.6h0M346.2 984.6h0M346.4 988.1h0M346.9 986.2h0M346.5 1011.9h0M346.1 1012.1h0M346.4 1011.3h0M347.6 978.9h0M347.8 985.0h0M347.3 984.1h0M347.5 979.2h0M347.9 1010.2h0M348.0 1008.5h0M347.3 1009.7h0M348.8 974.5h0M348.9 981.1h0M348.9 981.2h0M348.5 974.2h0M348.5 1009.5h0M348.5 1008.7h0M348.8 1009.1h0M349.7 968.9h0M349.0 976.5h0M349.4 974.3h0M349.4 974.1h0M349.3 1009.4h0M349.5 1009.4h0M349.7 1008.5h0M350.4 962.5h0M350.6 965.5h0M350.2 965.8h0M350.8 964.9h0M350.9 1008.8h0M350.7 1008.7h0M350.2 1008.6h0M351.2 951.9h0M351.8 953.3h0M351.3 960.9h0M351.1 958.8h0M351.6 1010.6h0M351.6 1009.6h0M351.7 1006.8h0M352.5 947.2h0M352.3 955.0h0M352.4 952.6h0M352.2 952.6h0M352.3 1009.3h0M352.3 1005.2h0M352.9 1005.8h0M354.0 958.1h0M353.0 966.8h0M353.6 959.8h0M353.9 964.4h0M353.1 1007.0h0M353.0 1007.8h0M353.7 1006.4h0M354.3 968.6h0M354.4 969.4h0M354.9 972.1h0M354.8 972.2h0M355.0 1006.8h0M354.5 1005.9h0M354.1 1006.7h0M355.6 976.1h0M356.0 978.3h0M355.1 980.4h0M355.2 980.6h0M355.3 1005.3h0M355.1 1004.4h0M355.7 1005.7h0M356.0 976.3h0M356.1 978.6h0M356.4 977.4h0M356.3 977.2h0M356.2 1006.3h0M356.7 1003.9h0M356.5 1005.4h0M357.6 973.9h0M357.2 978.6h0M357.4 975.9h0M357.6 978.1h0M357.0 1006.8h0M357.6 1006.6h0M357.2 1005.9h0M358.5 972.6h0M358.1 974.6h0M358.4 972.1h0M358.6 976.3h0M358.9 1007.0h0M358.2 1006.4h0M358.5 1007.3h0M360.0 971.7h0M359.2 972.2h0M359.6 976.4h0M359.5 973.8h0M360.0 1006.6h0M359.5 1005.3h0M359.5 1006.4h0M360.8 971.3h0M360.3 972.6h0M360.6 976.6h0M361.0 976.1h0M360.7 1005.6h0M360.7 1004.0h0M360.0 1004.4h0M361.5 968.2h0M361.4 974.2h0M361.7 973.7h0M362.0 969.8h0M362.0 1003.9h0M361.3 1002.9h0M361.1 1003.8h0M362.3 962.8h0M362.9 969.9h0M362.3 963.6h0M362.0 967.0h0M362.0 1002.9h0M362.4 1002.6h0M362.7 1003.3h0M363.8 959.1h0M363.6 966.1h0M363.2 965.1h0M363.2 963.2h0M363.7 1002.1h0M363.9 1002.1h0M363.7 1001.1h0M364.4 955.8h0M365.0 962.5h0M364.9 962.8h0M364.5 960.1h0M364.9 1000.9h0M364.5 1000.6h0M364.3 1001.1h0M365.2 954.2h0M365.4 961.1h0M365.9 956.7h0M365.7 957.8h0M365.3 1000.4h0M365.7 999.1h0M365.1 999.0h0M367.0 952.8h0M366.6 955.7h0M366.4 959.1h0M366.6 959.7h0M366.2 998.8h0M366.6 999.0h0M366.4 997.6h0M367.6 951.5h0M367.4 956.1h0M367.9 958.2h0M367.5 954.4h0M367.2 996.4h0M367.2 994.4h0M367.6 994.2h0M369.0 949.2h0M369.0 953.4h0M368.3 952.4h0M368.1 957.1h0M368.5 993.9h0M368.9 992.9h0M368.7 991.6h0M369.8 946.4h0M369.6 946.4h0M369.0 949.5h0M369.5 955.5h0M369.6 993.2h0M369.8 993.2h0M369.2 990.9h0M370.5 945.3h0M371.0 948.3h0M370.7 953.7h0M370.4 953.8h0M370.0 994.9h0M370.4 993.8h0M370.4 994.9h0M371.8 944.0h0M371.8 950.5h0M371.2 950.8h0M371.8 948.2h0M371.2 996.9h0M371.3 994.3h0M371.7 995.1h0M372.7 940.0h0M372.3 941.7h0M372.9 949.9h0M372.5 939.5h0M372.1 999.4h0M372.4 999.2h0M372.2 995.8h0M373.2 936.4h0M373.4 945.6h0M373.1 936.2h0M373.1 943.4h0M373.8 999.1h0M373.2 995.8h0M373.7 999.9h0M374.3 929.9h0M374.2 937.3h0M374.4 938.6h0M374.3 938.3h0M374.2 1000.4h0M374.8 997.6h0M374.7 997.5h0M375.3 933.5h0M375.4 937.5h0M375.0 936.6h0M375.3 940.5h0M375.6 1001.6h0M375.7 1000.2h0M375.3 996.9h0M376.5 940.5h0M376.5 940.4h0M376.1 939.9h0M376.1 946.9h0M376.0 1003.2h0M376.7 999.6h0M376.1 1002.6h0M377.3 944.9h0M377.7 951.6h0M377.3 944.3h0M377.2 951.5h0M377.8 1005.5h0M377.6 1003.4h0M377.3 1004.4h0M378.8 950.7h0M378.7 957.1h0M378.9 956.8h0M378.5 956.4h0M378.7 1007.7h0M378.5 1004.8h0M378.2 1007.5h0M380.0 956.6h0M379.8 956.3h0M379.2 962.7h0M379.7 963.9h0M380.0 1009.1h0M379.3 1008.7h0M379.6 1009.4h0M380.1 964.9h0M380.0 968.8h0M380.3 971.4h0M380.9 971.6h0M380.0 1010.7h0M380.8 1008.7h0M380.9 1010.7h0M381.0 972.3h0M381.6 977.9h0M381.7 977.7h0M381.9 977.2h0M381.8 1011.7h0M381.1 1008.5h0M381.5 1008.9h0M382.7 973.6h0M382.0 979.0h0M383.0 979.8h0M383.0 977.8h0M382.4 1012.7h0M382.1 1012.3h0M382.2 1013.3h0M383.6 976.5h0M383.0 983.7h0M383.0 982.1h0M383.7 982.5h0M383.6 1013.9h0M383.7 1013.1h0M383.9 1013.9h0M385.0 979.3h0M384.4 986.8h0M384.3 985.1h0M385.0 984.8h0M384.8 1014.3h0M384.4 1013.0h0M384.3 1013.6h0M385.6 982.7h0M385.9 987.3h0M385.7 982.1h0M385.3 984.3h0M385.0 1013.8h0M385.5 1013.9h0M385.3 1013.7h0M386.2 981.0h0M386.4 982.9h0M387.0 985.2h0M386.4 987.1h0M386.6 1011.7h0M386.6 1010.3h0M386.7 1010.6h0M387.7 979.3h0M387.8 983.7h0M387.2 981.5h0M387.8 980.9h0M387.0 1010.4h0M387.0 1009.2h0M387.7 1009.8h0M388.8 977.6h0M388.5 977.1h0M388.6 980.8h0M388.0 980.9h0M388.7 1010.1h0M388.3 1010.5h0M388.5 1008.8h0M389.7 975.0h0M389.8 980.7h0M389.8 980.0h0M389.2 980.1h0M389.7 1010.3h0M389.1 1009.7h0M389.2 1008.9h0M390.8 971.9h0M390.7 978.0h0M390.4 977.8h0M391.0 975.1h0M390.3 1009.9h0M390.8 1008.9h0M390.2 1007.9h0M391.9 969.0h0M391.8 974.5h0M391.2 972.7h0M392.0 975.5h0M391.2 1009.5h0M391.9 1008.0h0M391.9 1009.2h0M392.9 964.1h0M392.3 963.9h0M392.3 970.9h0M392.6 970.8h0M392.2 1009.3h0M392.6 1008.2h0M392.9 1007.6h0M393.2 960.3h0M393.6 968.6h0M393.3 963.0h0M393.6 963.7h0M393.5 1010.3h0M393.4 1008.6h0M393.5 1010.4h0M394.4 965.9h0M394.4 973.1h0M394.1 965.8h0M394.4 972.1h0M394.9 1011.7h0M394.3 1011.3h0M394.4 1010.0h0M395.6 969.5h0M395.0 972.5h0M395.4 976.3h0M395.1 976.2h0M395.6 1013.7h0M395.6 1011.4h0M395.8 1013.6h0M396.9 971.9h0M396.8 976.8h0M396.3 976.5h0M396.6 975.4h0M396.5 1014.9h0M396.2 1011.8h0M396.6 1014.4h0M397.0 974.0h0M397.6 975.3h0M397.2 977.2h0M397.5 974.7h0M397.1 1014.8h0M397.6 1015.1h0M397.8 1014.2h0M398.3 975.9h0M398.1 981.3h0M398.4 979.7h0M398.7 980.0h0M398.9 1015.1h0M398.1 1014.7h0M398.5 1014.2h0M399.7 978.4h0M399.1 982.9h0M399.0 984.5h0M399.9 985.6h0M399.7 1015.3h0M399.1 1014.4h0M399.1 1014.2h0M400.5 980.3h0M400.7 984.3h0M400.8 981.0h0M400.8 981.2h0M400.6 1015.3h0M400.5 1015.2h0M400.9 1013.4h0M401.5 983.0h0M401.0 983.3h0M401.8 985.5h0M401.4 985.3h0M401.4 1015.0h0M401.5 1015.2h0M401.7 1015.4h0M402.6 984.1h0M402.6 984.2h0M402.2 987.7h0M402.5 987.7h0M402.9 1015.1h0M402.7 1013.5h0M402.0 1013.9h0M403.6 985.1h0M403.6 987.7h0M403.9 988.2h0M403.8 986.5h0M403.9 1015.3h0M403.1 1014.3h0M403.8 1014.9h0M404.7 985.1h0M404.4 987.9h0M404.4 985.8h0M404.4 989.1h0M404.3 1015.7h0M404.6 1015.1h0M404.0 1013.7h0M405.8 984.1h0M405.4 985.5h0M405.1 985.0h0M405.4 987.4h0M405.6 1015.2h0M405.4 1014.5h0M405.5 1014.5h0M406.7 980.3h0M406.5 983.7h0M406.8 981.8h0M406.9 985.6h0M406.7 1014.3h0M407.0 1014.4h0M406.1 1014.4h0M407.6 973.3h0M407.0 981.0h0M407.7 974.2h0M407.1 979.8h0M407.5 1013.6h0M407.4 1012.0h0M407.9 1013.3h0M408.1 969.2h0M408.6 973.2h0M408.4 971.2h0M408.2 973.6h0M408.4 1013.9h0M408.7 1013.6h0M409.0 1013.0h0M409.5 967.5h0M409.9 969.5h0M409.8 969.3h0M409.8 966.8h0M409.6 1014.8h0M409.1 1012.8h0M409.9 1014.3h0M410.9 963.9h0M410.8 969.6h0M410.3 971.3h0M410.8 968.6h0M410.5 1015.0h0M410.8 1015.6h0M410.8 1015.7h0M411.7 961.1h0M411.5 966.5h0M411.7 971.3h0M411.0 963.5h0M411.2 1016.0h0M411.5 1014.1h0M411.9 1013.8h0M412.9 955.5h0M412.1 965.3h0M412.3 966.0h0M412.7 965.1h0M412.1 1014.9h0M412.2 1013.6h0M412.4 1014.4h0M413.3 943.6h0M413.9 952.6h0M413.5 950.6h0M413.6 949.2h0M413.2 1010.7h0M413.7 1010.1h0M413.4 1006.2h0M414.5 922.8h0M414.7 922.5h0M414.4 932.5h0M414.3 930.2h0M414.9 1005.8h0M414.7 1000.7h0M414.5 1003.2h0M415.7 909.1h0M415.0 921.2h0M415.5 926.0h0M415.1 919.8h0M415.1 1008.6h0M415.5 1005.4h0M415.3 1005.3h0M416.5 922.8h0M416.1 940.7h0M416.3 932.1h0M416.9 934.8h0M416.4 1014.2h0M416.0 1009.3h0M416.9 1011.5h0M418.0 941.4h0M417.1 945.6h0M417.8 950.0h0M418.0 949.1h0M417.9 1016.9h0M417.4 1014.9h0M417.6 1016.5h0M418.2 950.3h0M418.4 960.3h0M418.3 960.2h0M418.6 959.0h0M418.8 1017.4h0M419.0 1013.9h0M418.6 1014.5h0M419.0 945.2h0M419.5 959.6h0M419.9 946.4h0M419.5 954.9h0M419.1 1017.6h0M419.9 1015.8h0M420.0 1017.3h0M420.9 942.9h0M420.1 940.8h0M421.0 954.0h0M420.2 953.5h0M420.5 1017.0h0M420.2 1013.9h0M420.0 1014.8h0M421.5 936.4h0M421.8 949.2h0M421.5 942.1h0M421.7 946.0h0M421.6 1016.9h0M421.3 1015.8h0M421.5 1015.1h0M422.4 929.8h0M422.2 943.6h0M422.1 927.9h0M422.7 933.7h0M422.4 1014.7h0M422.9 1014.7h0M422.3 1014.9h0M423.4 919.4h0M423.7 931.5h0M423.3 929.7h0M423.4 928.4h0M423.7 1014.4h0M423.7 1011.2h0M423.0 1014.3h0M424.8 909.2h0M424.9 907.9h0M424.8 916.3h0M424.2 926.8h0M424.8 1009.7h0M424.1 1008.5h0M424.7 1010.2h0M425.6 889.7h0M425.2 901.3h0M425.9 898.8h0M425.3 909.7h0M425.2 1002.0h0M425.3 1003.0h0M425.5 1001.0h0M426.9 871.2h0M426.3 891.9h0M426.1 883.9h0M426.2 872.7h0M427.0 1004.0h0M426.6 1003.9h0M426.3 1000.0h0M427.5 886.7h0M427.4 903.3h0M427.5 893.5h0M427.9 899.5h0M427.4 1012.5h0M427.9 1004.8h0M427.8 1011.2h0M428.6 898.8h0M428.2 902.1h0M428.7 919.4h0M428.9 921.2h0M428.8 1019.0h0M428.4 1018.6h0M428.6 1017.6h0M429.3 920.4h0M429.4 939.6h0M429.8 924.2h0M429.6 918.9h0M429.1 1021.2h0M430.0 1017.0h0M429.0 1020.5h0M430.1 943.8h0M430.9 957.5h0M430.3 951.9h0M430.0 956.7h0M430.1 1020.6h0M430.3 1019.9h0M430.2 1016.3h0M431.2 966.7h0M431.3 974.0h0M431.4 971.9h0M432.0 975.2h0M431.8 1021.1h0M431.8 1021.0h0M431.7 1020.5h0M432.5 975.7h0M432.5 980.3h0M432.4 982.8h0M432.3 982.1h0M432.2 1021.0h0M432.9 1019.8h0M432.8 1020.0h0M433.3 976.7h0M433.7 980.8h0M433.4 978.8h0M433.5 977.6h0M433.9 1020.5h0M433.5 1019.7h0M433.6 1021.0h0M434.5 979.7h0M434.2 981.1h0M434.4 986.1h0M434.4 981.3h0M434.7 1020.5h0M434.8 1020.0h0M434.1 1019.1h0M435.2 977.1h0M435.2 978.6h0M435.5 980.1h0M435.9 979.7h0M435.2 1019.8h0M435.0 1019.2h0M435.3 1019.2h0M436.1 969.9h0M436.3 975.8h0M436.8 975.7h0M436.8 977.2h0M436.4 1017.7h0M436.8 1017.0h0M436.9 1015.4h0M437.1 961.1h0M437.1 961.5h0M437.8 967.3h0M437.2 968.6h0M437.7 1015.2h0M437.3 1014.3h0M437.0 1016.1h0M438.1 954.0h0M438.4 956.3h0M438.8 957.8h0M438.3 963.1h0M438.1 1013.7h0M438.6 1011.1h0M438.6 1012.3h0M439.5 948.3h0M439.3 954.0h0M439.5 952.2h0M439.3 958.0h0M439.6 1013.0h0M439.7 1011.7h0M439.7 1013.3h0M440.1 942.4h0M440.7 950.5h0M441.0 950.3h0M440.6 957.6h0M440.0 1013.7h0M440.6 1013.8h0M440.5 1011.6h0M441.4 936.5h0M441.6 938.6h0M441.5 951.5h0M441.4 940.8h0M441.0 1011.7h0M441.6 1011.3h0M441.7 1008.2h0M442.1 932.0h0M442.8 935.9h0M442.8 934.5h0M442.9 937.7h0M442.0 1008.5h0M442.6 1006.8h0M442.4 1006.8h0M443.0 928.6h0M443.6 926.6h0M443.6 942.5h0M443.9 939.7h0M443.3 1012.8h0M443.7 1010.1h0M443.7 1008.1h0M444.4 933.5h0M444.4 948.4h0M444.8 937.6h0M444.5 945.1h0M444.0 1016.0h0M444.4 1017.0h0M444.7 1015.7h0M445.6 938.0h0M445.1 954.7h0M445.4 938.7h0M445.7 949.4h0M445.2 1019.5h0M445.6 1018.4h0M445.2 1019.4h0M446.0 951.1h0M446.8 954.4h0M446.5 956.3h0M446.3 963.3h0M447.0 1020.2h0M446.6 1019.3h0M446.4 1016.4h0M447.3 961.0h0M448.0 970.7h0M447.7 968.5h0M447.8 969.8h0M447.4 1019.2h0M447.5 1019.2h0M447.5 1016.4h0M448.4 959.3h0M448.8 966.5h0M448.8 968.4h0M448.9 960.8h0M448.0 1018.0h0M448.8 1016.6h0M448.2 1017.7h0M449.3 958.5h0M449.2 966.1h0M449.9 965.8h0M449.1 957.9h0M449.7 1017.1h0M449.8 1015.5h0M449.6 1016.8h0M450.8 955.8h0M450.1 958.8h0M450.8 960.9h0M450.6 967.2h0M450.4 1014.8h0M450.6 1012.9h0M450.0 1014.5h0M451.7 957.6h0M451.3 958.4h0M451.3 961.8h0M451.2 959.8h0M451.2 1014.9h0M451.1 1014.2h0M451.2 1014.5h0M452.2 959.7h0M452.9 968.6h0M452.6 970.3h0M452.9 968.5h0M452.1 1014.4h0M452.3 1012.1h0M452.6 1013.2h0M453.0 960.0h0M453.4 963.5h0M453.7 960.6h0M453.3 967.8h0M453.4 1012.8h0M453.9 1011.1h0M453.0 1012.1h0M454.7 963.4h0M454.6 972.1h0M455.0 970.4h0M454.5 970.2h0M454.9 1012.6h0M454.2 1011.4h0M454.3 1012.5h0M455.7 966.8h0M455.1 969.7h0M455.2 968.6h0M455.3 970.6h0M455.4 1014.6h0M455.0 1012.9h0M455.7 1013.3h0M456.2 971.9h0M456.7 978.2h0M456.1 976.5h0M456.7 978.0h0M456.5 1016.1h0M456.6 1013.5h0M456.6 1016.0h0M457.6 972.1h0M457.7 976.7h0M457.6 972.0h0M457.3 978.2h0M457.8 1016.0h0M457.8 1014.1h0M457.7 1015.0h0M458.5 972.4h0M458.2 972.6h0M458.3 978.2h0M458.8 975.4h0M458.9 1016.2h0M458.9 1016.5h0M458.4 1016.2h0M459.2 972.1h0M459.5 974.1h0M459.3 974.4h0M459.8 976.4h0M459.3 1016.8h0M459.8 1016.4h0M459.6 1015.2h0M460.9 971.6h0M460.4 972.0h0M460.4 977.8h0M460.5 977.6h0M460.8 1016.3h0M460.3 1016.6h0M460.4 1013.2h0M461.3 970.3h0M461.4 977.3h0M461.8 974.9h0M461.8 970.8h0M461.7 1015.8h0M461.3 1013.1h0M461.4 1015.0h0M462.8 968.8h0M462.8 973.3h0M463.0 977.1h0M462.9 972.7h0M462.9 1014.5h0M462.4 1013.6h0M462.8 1012.7h0M463.1 967.9h0M463.3 976.3h0M464.0 972.3h0M463.1 976.2h0M463.2 1013.0h0M463.3 1011.2h0M463.5 1012.1h0M464.7 966.7h0M464.8 970.1h0M464.8 966.6h0M465.0 974.5h0M464.8 1011.5h0M464.6 1009.8h0M464.9 1009.2h0M465.6 960.5h0M465.4 965.9h0M465.2 966.5h0M465.8 967.7h0M465.9 1008.4h0M465.1 1008.6h0M465.8 1007.1h0M466.5 954.2h0M466.0 955.3h0M466.2 961.6h0M466.8 959.6h0M466.9 1005.8h0M466.7 1003.1h0M466.5 1006.6h0M467.7 949.4h0M467.8 958.3h0M467.8 958.8h0M467.1 958.2h0M467.8 1005.6h0M467.3 1003.3h0M467.8 1003.3h0M468.3 956.4h0M468.1 960.6h0M468.2 961.7h0M468.2 964.5h0M468.1 1006.7h0M468.0 1006.2h0M468.0 1006.7h0M469.3 964.8h0M469.2 967.2h0M469.7 971.1h0M469.3 965.5h0M469.2 1007.5h0M469.9 1007.3h0M469.3 1006.6h0M470.1 972.5h0M471.0 977.3h0M470.9 975.7h0M470.8 977.8h0M470.1 1008.5h0M470.5 1007.6h0M471.0 1007.5h0M471.7 975.0h0M471.9 978.6h0M471.3 976.3h0M471.9 978.7h0M471.3 1008.6h0M471.1 1008.6h0M471.4 1007.3h0M472.4 972.3h0M472.3 977.5h0M472.9 976.2h0M472.1 975.1h0M472.8 1007.8h0M472.3 1007.7h0M472.7 1006.0h0M473.9 970.6h0M473.4 975.6h0M473.6 975.1h0M473.8 977.1h0M473.9 1008.4h0M473.6 1007.8h0M473.4 1008.2h0M474.2 969.4h0M474.0 973.0h0M474.0 975.8h0M474.0 969.5h0M474.3 1008.5h0M474.7 1007.0h0M474.8 1008.1h0M475.2 966.5h0M475.1 972.5h0M476.0 966.6h0M475.8 970.4h0M475.6 1008.5h0M475.2 1007.6h0M475.8 1006.5h0M476.2 958.9h0M476.3 967.9h0M476.9 961.0h0M476.7 963.0h0M476.8 1007.3h0M476.6 1004.8h0M476.0 1004.3h0M477.7 953.8h0M477.6 954.1h0M477.9 957.8h0M477.4 961.8h0M477.1 1006.0h0M477.5 1006.1h0M477.9 1004.5h0M478.7 946.8h0M478.1 955.9h0M478.3 955.7h0M478.8 956.5h0M478.1 1006.3h0M478.5 1004.4h0M478.8 1002.3h0M479.5 951.5h0M479.7 957.4h0M479.6 953.4h0M479.1 962.0h0M479.7 1009.0h0M479.3 1008.7h0M479.7 1007.7h0M480.3 960.3h0M480.6 964.3h0M480.2 962.9h0M480.1 968.5h0M480.0 1011.3h0M480.0 1008.9h0M480.1 1008.3h0M481.5 966.2h0M481.4 965.3h0M481.5 967.1h0M481.4 971.9h0M481.5 1012.1h0M481.5 1011.4h0M481.6 1010.4h0M482.9 965.5h0M482.2 970.6h0M482.3 974.3h0M482.7 974.1h0M482.2 1012.5h0M482.4 1012.4h0M482.8 1011.0h0M483.7 960.8h0M483.8 963.6h0M483.1 965.1h0M483.2 961.7h0M483.8 1011.8h0M483.9 1009.7h0M483.3 1011.7h0M484.6 953.9h0M484.6 962.8h0M484.5 961.7h0M484.7 961.8h0M484.5 1009.0h0M484.1 1006.9h0M484.4 1006.2h0M485.7 949.4h0M485.9 948.2h0M485.3 957.1h0M485.7 956.9h0M485.5 1007.6h0M485.1 1006.9h0M485.9 1003.6h0M486.7 948.6h0M486.4 948.8h0M486.7 955.8h0M486.1 947.2h0M486.4 1009.1h0M486.2 1009.1h0M486.2 1007.1h0M487.4 946.6h0M487.1 953.3h0M487.2 955.9h0M487.8 947.4h0M488.0 1009.9h0M487.7 1005.1h0M487.2 1009.0h0M488.1 946.1h0M488.5 952.6h0M488.8 951.1h0M488.4 955.9h0M488.7 1009.8h0M488.8 1009.5h0M488.8 1009.1h0M489.7 946.6h0M489.7 945.3h0M490.0 952.0h0M489.6 949.4h0M489.3 1008.0h0M489.3 1007.6h0M489.4 1007.0h0M490.7 944.1h0M490.7 954.0h0M490.3 953.2h0M490.5 950.2h0M490.7 1004.8h0M490.7 1001.9h0M491.0 1004.2h0M491.2 944.1h0M491.3 943.8h0M491.8 944.6h0M491.2 948.6h0M491.7 1003.7h0M491.5 1004.0h0M491.9 1002.2h0M492.5 948.4h0M492.9 948.0h0M492.8 950.0h0M492.9 949.7h0M492.2 1004.8h0M492.6 1004.9h0M492.2 1003.5h0M493.7 953.8h0M493.7 959.1h0M493.8 960.3h0M494.0 957.0h0M494.0 1006.4h0M493.8 1004.6h0M494.0 1004.6h0M494.9 957.1h0M494.4 963.0h0M494.1 963.9h0M494.1 966.2h0M494.5 1006.5h0M494.7 1003.3h0M494.6 1004.6h0M495.8 960.9h0M495.2 966.2h0M495.1 962.1h0M495.2 965.7h0M495.1 1007.0h0M495.8 1006.5h0M496.0 1004.8h0M496.4 959.3h0M496.2 960.1h0M496.9 958.5h0M496.6 963.6h0M496.1 1007.9h0M496.8 1004.5h0M496.9 1005.5h0M497.1 955.0h0M498.0 959.9h0M498.0 958.2h0M497.7 964.7h0M497.1 1008.2h0M497.3 1007.9h0M497.2 1008.0h0M498.8 951.3h0M498.9 951.9h0M498.1 955.9h0M499.0 958.7h0M498.8 1007.7h0M498.5 1007.7h0M498.2 1007.4h0M499.7 940.7h0M499.8 951.6h0M499.0 951.1h0M500.0 951.6h0M499.3 1008.0h0M499.6 1007.1h0M499.8 1004.4h0M500.5 928.9h0M500.3 934.0h0M500.2 941.0h0M500.4 935.2h0M500.2 1007.1h0M500.1 1004.7h0M500.8 1007.5h0M501.4 912.6h0M501.6 927.7h0M501.8 924.6h0M501.6 914.5h0M501.9 1008.7h0M501.2 1001.6h0M501.6 1002.4h0M502.7 893.0h0M502.1 897.9h0M503.0 897.1h0M502.2 892.8h0M502.7 1009.8h0M502.9 1000.2h0M502.2 1008.9h0M503.4 894.0h0M503.5 911.5h0M503.2 903.0h0M503.3 896.7h0M503.9 1008.3h0M503.5 1008.2h0M503.4 1002.7h0M504.5 916.3h0M504.6 931.3h0M504.2 916.8h0M504.8 928.8h0M504.1 1007.5h0M504.6 1007.0h0M505.0 1003.3h0M505.5 933.4h0M505.1 945.7h0M505.5 935.8h0M505.9 942.5h0M505.3 1005.9h0M505.3 1003.1h0M505.4 1006.9h0M506.5 943.2h0M506.5 951.5h0M506.7 946.7h0M506.5 947.9h0M506.0 1004.3h0M506.1 1000.8h0M506.7 1005.4h0M507.7 945.8h0M507.4 952.9h0M507.0 952.4h0M507.8 952.8h0M507.6 1003.2h0M507.7 999.3h0M508.0 1002.7h0M508.6 948.1h0M508.2 956.0h0M508.2 947.1h0M508.3 955.2h0M508.2 1003.0h0M509.0 998.3h0M508.4 1002.9h0M509.9 950.1h0M509.4 957.8h0M509.6 955.1h0M509.7 950.9h0M509.5 1003.1h0M509.0 999.2h0M509.5 1002.5h0M510.4 948.1h0M510.9 953.0h0M510.1 946.8h0M510.2 956.9h0M510.8 1004.7h0M510.8 1004.6h0M510.0 1002.6h0M511.5 946.2h0M511.9 947.4h0M512.0 952.2h0M511.7 949.0h0M511.4 1006.0h0M511.2 1002.7h0M511.4 1003.6h0M512.6 942.1h0M512.9 946.0h0M512.4 947.7h0M512.6 944.8h0M512.3 1006.4h0M512.3 1002.8h0M512.5 1003.9h0M513.0 944.7h0M513.2 948.6h0M513.8 953.5h0M513.4 948.1h0M513.8 1005.0h0M513.3 1005.9h0M513.5 1005.9h0M514.3 945.8h0M514.5 945.8h0M515.0 953.8h0M514.2 952.9h0M514.6 1004.4h0M514.2 1003.6h0M514.4 1002.2h0M515.7 951.1h0M515.8 957.0h0M515.3 949.4h0M515.6 956.6h0M515.4 1003.5h0M515.6 1004.3h0M515.7 1004.4h0M516.1 951.5h0M516.2 960.8h0M516.1 960.2h0M516.2 957.2h0M516.2 1002.0h0M516.8 1001.2h0M516.0 1000.5h0M517.3 952.2h0M517.2 959.8h0M517.6 960.2h0M517.8 958.5h0M517.1 1000.9h0M517.6 999.2h0M517.0 1001.2h0M518.3 953.0h0M518.9 960.4h0M518.2 960.1h0M518.5 957.1h0M518.3 1000.0h0M518.2 997.9h0M518.9 1000.0h0M519.0 954.3h0M519.1 962.3h0M519.0 955.3h0M519.6 959.6h0M519.4 999.9h0M519.6 998.1h0M519.4 999.3h0M520.7 956.8h0M520.1 965.5h0M520.4 957.9h0M520.1 961.3h0M520.3 1001.2h0M520.6 999.8h0M521.0 1000.7h0M521.6 959.5h0M521.7 966.8h0M521.5 967.1h0M521.4 961.5h0M521.7 1003.3h0M521.5 1001.5h0M521.2 1002.9h0M523.0 961.9h0M522.4 966.9h0M522.0 968.6h0M522.1 968.8h0M522.9 1005.5h0M522.9 1003.2h0M522.6 1001.9h0M523.8 963.5h0M524.0 969.7h0M523.9 969.2h0M523.8 964.4h0M523.2 1005.9h0M523.6 1005.6h0M523.9 1004.9h0M524.2 964.2h0M525.0 969.7h0M524.5 963.8h0M524.7 968.1h0M524.6 1006.8h0M525.0 1005.8h0M524.7 1006.6h0M525.1 965.1h0M525.8 968.1h0M525.3 967.6h0M525.9 967.9h0M525.9 1006.6h0M525.5 1005.7h0M525.1 1006.7h0M526.4 965.1h0M526.2 967.7h0M526.9 968.5h0M526.8 971.2h0M526.8 1007.3h0M526.5 1005.4h0M526.1 1006.2h0M527.7 967.2h0M527.1 967.7h0M527.3 967.6h0M527.6 970.4h0M527.3 1007.4h0M527.0 1007.9h0M527.6 1004.5h0M528.6 968.2h0M528.4 974.4h0M528.2 971.1h0M528.9 972.7h0M528.9 1007.4h0M528.3 1004.7h0M528.6 1006.3h0M529.5 966.2h0M529.6 965.7h0M529.3 965.8h0M529.7 972.6h0M529.2 1006.9h0M529.8 1006.4h0M529.3 1005.0h0M530.1 963.7h0M530.0 967.1h0M531.0 971.0h0M530.0 970.2h0M530.1 1006.7h0M530.6 1005.2h0M530.3 1004.3h0M531.2 959.9h0M532.0 968.7h0M531.4 968.5h0M531.5 966.3h0M531.5 1006.6h0M531.7 1006.9h0M531.2 1004.8h0M532.1 957.9h0M532.3 957.1h0M532.2 964.6h0M532.3 957.6h0M532.6 1006.5h0M532.6 1003.2h0M532.1 1005.8h0M533.6 953.9h0M533.2 956.3h0M533.8 961.7h0M533.1 961.7h0M533.0 1005.3h0M534.0 1004.4h0M533.5 1005.6h0M534.2 952.9h0M534.1 957.5h0M534.3 955.8h0M534.4 960.8h0M534.2 1005.6h0M534.9 1002.5h0M534.9 1001.6h0M535.9 950.4h0M535.6 955.9h0M535.3 953.2h0M535.0 957.6h0M535.7 1005.9h0M535.2 1003.4h0M535.1 1005.8h0M536.4 948.1h0M536.1 948.4h0M536.3 953.5h0M536.3 946.6h0M536.9 1007.9h0M536.5 1003.9h0M536.0 1007.2h0M537.0 948.6h0M537.1 958.4h0M537.9 957.6h0M538.0 957.7h0M537.2 1010.1h0M537.9 1009.0h0M537.5 1006.7h0M538.4 950.0h0M538.6 959.4h0M538.4 954.0h0M538.1 956.7h0M538.6 1011.0h0M538.4 1010.8h0M538.2 1007.0h0M539.8 950.9h0M539.8 956.4h0M539.4 952.3h0M539.9 959.3h0M539.5 1013.4h0M539.8 1010.6h0M539.3 1009.8h0M540.3 948.1h0M541.0 958.0h0M540.2 958.1h0M540.4 956.9h0M540.3 1015.2h0M540.4 1014.5h0M540.6 1012.7h0M541.0 946.0h0M541.8 945.2h0M541.6 955.1h0M541.7 953.3h0M541.8 1015.1h0M541.8 1011.4h0M541.3 1013.2h0M542.3 948.2h0M542.8 947.5h0M542.1 947.9h0M542.7 952.5h0M542.4 1014.9h0M542.5 1013.0h0M542.9 1014.0h0M543.9 951.1h0M543.7 961.7h0M543.0 951.7h0M543.5 959.7h0M543.2 1013.4h0M543.4 1013.1h0M543.9 1009.8h0M544.8 955.2h0M544.9 956.5h0M544.9 963.8h0M544.1 963.5h0M545.0 1013.4h0M544.2 1012.3h0M544.7 1010.2h0M545.7 958.1h0M545.2 964.1h0M545.3 967.5h0M545.7 957.9h0M545.0 1012.6h0M546.0 1012.0h0M545.2 1010.9h0M546.0 962.0h0M546.5 967.7h0M546.3 968.9h0M546.8 964.7h0M546.1 1011.7h0M546.7 1010.0h0M546.3 1009.5h0M547.8 961.3h0M547.6 965.7h0M547.6 967.7h0M547.6 967.6h0M547.4 1010.5h0M547.8 1010.3h0M547.3 1010.3h0M548.0 958.2h0M548.1 966.3h0M548.9 968.1h0M548.3 961.1h0M548.3 1010.7h0M548.5 1008.1h0M548.8 1010.4h0M549.6 955.2h0M549.1 963.8h0M550.0 958.1h0M549.7 961.6h0M549.3 1009.8h0M549.9 1008.2h0M549.7 1007.0h0M550.2 950.7h0M550.1 959.6h0M550.8 954.9h0M550.6 959.1h0M550.2 1009.1h0M550.7 1006.1h0M550.4 1006.5h0M551.3 945.6h0M551.2 947.5h0M551.1 946.2h0M551.7 954.2h0M551.4 1008.8h0M551.3 1003.9h0M551.9 1004.8h0M552.2 939.6h0M552.0 947.7h0M552.2 942.2h0M552.6 947.4h0M552.6 1007.1h0M552.8 1007.2h0M552.3 1005.5h0M554.0 932.4h0M553.3 934.8h0M553.8 939.1h0M553.0 930.6h0M553.3 1006.6h0M553.4 1003.4h0M553.6 1002.7h0M554.0 921.0h0M554.2 934.7h0M554.0 935.4h0M554.9 932.4h0M554.7 1006.2h0M554.1 1004.1h0M554.8 1005.1h0M555.9 916.1h0M555.5 933.2h0M555.5 930.4h0M555.3 925.5h0M555.4 1007.5h0M555.1 1007.9h0M555.4 1003.1h0M556.5 927.4h0M556.0 937.8h0M556.8 934.6h0M556.7 924.7h0M556.1 1010.4h0M556.3 1006.9h0M556.6 1006.6h0M557.6 933.3h0M557.3 939.3h0M557.5 949.0h0M557.4 942.0h0M557.4 1012.9h0M557.5 1011.4h0M557.4 1009.7h0M558.5 941.2h0M558.2 953.2h0M558.8 941.1h0M558.4 950.2h0M558.8 1013.8h0M558.2 1013.3h0M558.6 1014.2h0M559.3 945.8h0M559.9 956.4h0M559.6 957.0h0M559.6 948.9h0M559.5 1014.7h0M559.1 1009.5h0M559.1 1012.5h0M560.9 947.6h0M560.4 959.1h0M560.3 956.2h0M560.1 947.0h0M560.3 1014.3h0M560.3 1011.5h0M560.4 1010.8h0M561.3 947.8h0M561.7 956.8h0M561.7 949.7h0M561.5 955.9h0M561.5 1014.0h0M561.1 1010.5h0M561.3 1014.8h0M562.9 944.4h0M562.6 945.6h0M562.7 950.5h0M562.9 948.5h0M563.0 1014.3h0M562.8 1013.6h0M562.0 1009.1h0M563.1 933.5h0M563.3 942.8h0M563.9 940.3h0M563.4 946.9h0M563.5 1011.7h0M563.1 1010.0h0M563.3 1012.7h0M564.7 925.3h0M564.8 938.0h0M564.6 928.6h0M564.6 935.6h0M565.0 1011.5h0M564.8 1008.7h0M564.6 1009.0h0M565.1 916.7h0M565.9 921.4h0M565.2 923.0h0M565.0 928.4h0M565.0 1009.5h0M565.1 1010.7h0M565.9 1008.2h0M566.8 913.3h0M566.6 925.6h0M566.5 923.6h0M566.5 930.9h0M566.5 1009.7h0M566.1 1006.3h0M566.5 1007.5h0M567.3 916.0h0M567.5 930.3h0M567.1 931.5h0M567.2 932.0h0M567.2 1008.8h0M567.5 1005.8h0M567.4 1010.5h0M569.0 915.4h0M568.5 920.7h0M568.0 932.1h0M568.8 932.1h0M568.6 1008.2h0M568.8 1004.5h0M568.7 1006.7h0M569.4 917.9h0M569.6 932.2h0M569.2 933.0h0M569.9 933.0h0M569.9 1009.2h0M569.3 1003.2h0M569.9 1005.4h0M570.3 923.1h0M570.3 922.3h0M570.2 934.8h0M570.8 930.4h0M570.0 1010.0h0M571.0 1007.9h0M571.0 1010.7h0M571.6 924.9h0M572.0 939.5h0M571.1 923.5h0M571.0 932.3h0M571.3 1011.1h0M571.7 1008.8h0M571.8 1009.6h0M572.4 926.7h0M572.6 941.0h0M572.6 937.8h0M572.4 929.4h0M572.5 1012.0h0M572.8 1007.0h0M572.1 1008.0h0M573.7 927.0h0M574.0 927.6h0M573.7 929.3h0M573.8 929.9h0M574.0 1010.3h0M574.0 1008.6h0M573.3 1010.3h0M574.3 930.8h0M574.8 941.6h0M574.1 942.4h0M574.0 936.6h0M574.2 1007.8h0M574.5 1006.0h0M574.4 1007.1h0M575.9 931.8h0M575.9 933.8h0M575.0 939.3h0M575.6 944.3h0M575.4 1007.8h0M575.6 1007.1h0M575.5 1008.5h0M576.3 932.1h0M576.3 940.5h0M576.9 933.7h0M576.8 937.1h0M576.4 1008.0h0M576.2 1008.8h0M576.3 1008.7h0M577.7 932.2h0M577.4 933.9h0M577.1 932.5h0M577.9 942.1h0M578.0 1010.5h0M577.2 1008.1h0M577.5 1006.7h0M578.9 933.7h0M578.2 937.6h0M578.5 945.3h0M578.6 936.7h0M578.8 1011.9h0M579.0 1008.0h0M578.6 1006.8h0M579.9 935.7h0M579.0 950.8h0M579.9 946.1h0M579.0 934.7h0M579.8 1014.3h0M579.0 1014.3h0M579.8 1009.6h0M580.6 941.4h0M580.9 948.1h0M580.1 947.4h0M580.3 953.3h0M580.2 1012.3h0M580.9 1009.3h0M581.0 1012.8h0M581.2 941.7h0M581.8 947.6h0M581.2 951.1h0M581.3 947.6h0M581.4 1010.5h0M581.1 1006.4h0M581.1 1011.0h0M582.1 943.3h0M582.2 953.0h0M582.1 951.7h0M582.2 949.4h0M582.9 1011.0h0M583.0 1007.2h0M582.7 1010.9h0M583.4 944.2h0M583.5 944.8h0M583.6 955.7h0M583.1 947.4h0M583.9 1010.6h0M584.0 1007.8h0M583.7 1007.9h0M584.3 945.3h0M584.5 948.8h0M584.2 948.1h0M584.2 953.9h0M584.7 1009.6h0M584.2 1009.2h0M584.2 1009.3h0M585.4 943.6h0M585.6 953.8h0M585.6 943.4h0M585.6 950.3h0M585.7 1008.9h0M585.4 1009.7h0M585.4 1005.8h0M586.3 939.9h0M586.8 939.0h0M586.2 949.4h0M586.4 940.1h0M586.6 1010.1h0M586.5 1005.6h0M586.2 1009.4h0M587.9 938.6h0M587.4 948.5h0M587.1 947.7h0M587.5 949.4h0M587.4 1012.1h0M587.1 1011.2h0M587.1 1010.0h0M588.1 936.3h0M588.6 947.5h0M588.3 951.7h0M588.7 936.1h0M588.3 1013.4h0M589.0 1009.8h0M588.1 1013.6h0M589.1 936.4h0M589.2 943.8h0M589.8 947.8h0M589.1 947.3h0M589.8 1014.4h0M589.9 1014.4h0M589.9 1011.2h0M590.1 934.5h0M590.4 944.0h0M590.3 941.8h0M590.3 941.1h0M590.4 1011.0h0M590.0 1007.4h0M590.6 1007.0h0M592.0 932.3h0M591.6 934.1h0M591.7 940.9h0M591.9 935.6h0M591.4 1007.1h0M591.7 1006.8h0M591.1 1005.4h0M592.2 934.0h0M592.9 937.7h0M592.1 944.2h0M592.3 944.0h0M592.1 1005.0h0M592.1 999.3h0M592.2 1002.1h0M593.5 934.0h0M593.5 937.2h0M593.7 941.3h0M593.9 932.4h0M593.3 1002.8h0M593.7 1003.9h0M593.7 998.9h0M594.8 930.3h0M594.5 942.1h0M594.2 942.0h0M594.0 933.8h0M594.5 1004.2h0M594.8 1004.9h0M595.0 1002.8h0M595.5 925.3h0M595.9 936.7h0M595.4 933.2h0M595.8 937.7h0M595.1 1004.7h0M595.8 1001.4h0M595.1 1002.0h0M596.0 920.8h0M596.1 934.9h0M596.3 933.6h0M596.6 933.1h0M596.4 1007.9h0M596.6 1007.3h0M597.0 1005.4h0M597.2 920.7h0M597.7 929.5h0M597.8 928.4h0M597.8 922.3h0M597.4 1007.3h0M597.7 1007.4h0M597.7 1004.8h0M598.4 924.6h0M598.5 934.3h0M598.7 934.0h0M598.6 935.5h0M598.7 1005.1h0M598.7 1001.2h0M598.6 1003.6h0M599.2 928.8h0M599.4 942.6h0M599.7 942.8h0M599.7 941.5h0M599.3 1004.8h0M599.2 1003.5h0M599.1 1001.2h0M600.7 933.4h0M601.0 946.2h0M600.9 934.6h0M600.1 932.9h0M600.7 1003.3h0M600.3 1001.8h0M600.9 999.5h0M601.9 933.6h0M601.8 944.3h0M601.9 945.9h0M601.2 940.7h0M601.1 1004.8h0M601.0 1004.5h0M601.7 1003.7h0M602.9 929.3h0M602.1 937.9h0M602.3 941.7h0M602.5 942.6h0M602.1 1006.6h0M602.1 1004.4h0M602.5 1004.4h0M603.9 922.4h0M604.0 937.8h0M603.9 929.9h0M603.2 926.1h0M603.6 1008.1h0M603.3 1003.6h0M603.2 1003.7h0M604.9 916.1h0M604.6 928.9h0M604.7 932.0h0M604.1 930.4h0M604.1 1008.4h0M604.3 1002.3h0M604.5 1005.4h0M605.7 909.3h0M605.2 920.8h0M605.6 910.7h0M605.1 913.5h0M605.6 1009.5h0M605.7 1008.9h0M605.9 1006.5h0M606.8 901.2h0M606.8 906.8h0M606.5 916.6h0M606.7 908.6h0M606.2 1009.4h0M606.3 1002.6h0M606.0 1001.2h0M607.7 899.5h0M607.9 917.1h0M607.1 916.7h0M607.1 910.7h0M607.4 1009.1h0M607.9 1004.6h0M607.2 1003.3h0M608.0 901.8h0M608.3 923.6h0M608.7 921.3h0M608.0 907.8h0M608.3 1008.8h0M608.1 1005.0h0M608.4 1008.7h0M609.0 906.5h0M609.2 920.3h0M609.4 926.8h0M610.0 925.4h0M609.8 1005.9h0M609.7 1002.9h0M609.2 1004.2h0M610.4 909.9h0M610.1 910.7h0M610.7 910.7h0M610.4 929.3h0M610.7 1003.5h0M610.8 1000.1h0M610.5 1002.9h0M611.4 912.1h0M612.0 910.5h0M611.0 924.6h0M611.0 921.4h0M611.5 1000.5h0M612.0 998.5h0M611.5 1001.4h0M612.8 908.6h0M612.6 925.4h0M612.5 923.8h0M612.7 924.1h0M612.2 998.8h0M612.7 994.9h0M612.6 994.7h0M613.3 909.2h0M613.1 922.1h0M613.2 918.3h0M613.3 914.7h0M613.4 996.9h0M613.3 995.4h0M613.6 996.2h0M614.1 909.4h0M614.8 919.8h0M614.1 907.9h0M614.8 914.0h0M614.3 997.7h0M614.6 998.1h0M614.9 992.2h0M615.1 915.9h0M615.9 930.4h0M616.0 926.1h0M615.8 924.4h0M615.1 1001.3h0M615.9 1002.4h0M615.4 996.6h0M616.9 924.2h0M616.8 927.6h0M616.5 935.9h0M616.5 934.6h0M616.7 1005.4h0M616.3 1005.6h0M616.8 1001.5h0M617.3 931.0h0M617.4 930.8h0M617.8 934.8h0M617.7 942.5h0M617.2 1008.0h0M617.2 1006.1h0M617.1 1005.7h0M618.5 934.5h0M618.8 942.8h0M618.6 943.2h0M618.7 944.5h0M618.7 1008.3h0M619.0 1003.9h0M618.7 1006.5h0M619.5 928.8h0M619.6 942.7h0M619.2 942.0h0M619.5 937.7h0M619.4 1008.5h0M619.6 1005.0h0M619.5 1005.7h0M620.2 924.5h0M620.3 927.8h0M620.1 937.3h0M620.8 930.7h0M620.7 1008.4h0M620.3 1002.2h0M620.5 1008.8h0M621.9 918.8h0M621.1 930.5h0M621.8 931.8h0M621.5 919.4h0M621.3 1007.1h0M621.1 1005.4h0M621.4 1007.6h0M622.6 913.9h0M622.3 925.3h0M622.2 919.0h0M622.3 921.2h0M622.6 1006.2h0M622.8 1006.1h0M622.3 1000.4h0M623.7 913.3h0M623.5 925.6h0M623.3 928.7h0M623.9 925.4h0M623.5 1005.1h0M623.8 999.0h0M623.5 998.3h0M624.7 919.2h0M624.9 922.2h0M624.7 933.3h0M625.0 918.6h0M624.5 1004.3h0M624.3 1000.9h0M624.5 999.6h0M625.3 924.6h0M625.3 937.9h0M625.2 932.7h0M625.2 936.5h0M625.8 1003.8h0M625.8 1002.4h0M625.2 998.0h0M626.5 929.4h0M626.3 934.0h0M627.0 929.7h0M626.5 931.9h0M626.1 1002.9h0M626.3 1001.5h0M626.4 1002.1h0M627.8 931.7h0M627.6 943.8h0M627.1 942.4h0M627.1 944.0h0M627.1 1002.1h0M627.9 998.9h0M627.1 1001.5h0M628.4 933.3h0M628.4 944.2h0M628.4 943.8h0M628.9 935.7h0M628.9 1001.7h0M628.4 999.9h0M628.8 999.6h0M629.1 933.2h0M629.8 940.4h0M629.5 943.0h0M629.1 941.3h0M629.7 1000.7h0M629.8 1001.2h0M629.4 999.8h0M630.9 933.5h0M630.7 942.8h0M630.4 942.2h0M630.4 945.3h0M630.2 999.6h0M630.8 997.3h0M630.8 997.1h0M631.0 936.1h0M631.8 941.0h0M632.0 935.7h0M632.0 937.5h0M631.7 998.7h0M631.3 996.1h0M631.4 997.9h0M632.7 935.6h0M632.8 935.2h0M632.3 946.5h0M632.3 940.2h0M632.5 999.6h0M632.3 997.9h0M632.1 998.6h0M633.1 932.8h0M633.1 946.2h0M633.5 945.4h0M633.5 944.5h0M633.3 1000.7h0M633.3 1000.4h0M633.5 998.9h0M634.5 932.3h0M634.9 940.0h0M634.0 935.5h0M634.3 935.5h0M634.9 1000.6h0M634.2 997.6h0M634.1 998.6h0M635.6 930.8h0M635.7 939.5h0M635.9 941.1h0M635.6 932.6h0M635.3 1001.1h0M635.4 1001.3h0M635.9 1000.4h0M636.6 924.3h0M636.3 939.5h0M636.3 935.8h0M636.4 935.0h0M636.5 1002.6h0M636.8 1001.4h0M636.2 1003.0h0M637.9 920.3h0M637.7 935.1h0M637.4 931.3h0M637.7 935.6h0M637.6 1003.9h0M637.5 1001.1h0M637.0 1000.5h0M638.7 916.8h0M638.3 928.1h0M638.3 926.0h0M638.6 918.1h0M638.4 1003.0h0M638.1 1003.8h0M638.2 997.1h0M639.1 915.8h0M639.5 924.0h0M639.2 918.2h0M639.8 915.2h0M639.1 1004.6h0M639.3 1004.3h0M639.5 998.1h0M640.8 913.5h0M640.3 923.2h0M640.6 916.2h0M640.2 924.9h0M640.8 1003.4h0M640.3 1004.0h0M640.4 999.8h0M641.4 914.1h0M641.7 913.4h0M641.9 924.4h0M641.2 925.1h0M641.2 1004.6h0M641.8 997.7h0M641.7 999.0h0M642.9 912.8h0M642.9 912.5h0M642.2 926.3h0M642.6 915.1h0M642.0 1002.2h0M642.9 1002.8h0M642.6 999.7h0M643.5 912.1h0M643.3 915.2h0M644.0 913.6h0M643.6 918.9h0M643.6 999.6h0M643.9 997.8h0M643.5 999.3h0M644.4 912.5h0M644.4 926.8h0M644.6 921.8h0M644.8 916.6h0M644.1 996.5h0M644.2 994.1h0M644.5 992.9h0M645.7 915.9h0M645.6 927.7h0M645.6 927.0h0M645.1 915.9h0M645.4 994.9h0M645.1 995.8h0M645.3 995.5h0M646.2 920.0h0M646.5 932.6h0M646.7 925.8h0M646.7 933.5h0M646.2 999.0h0M646.8 999.0h0M646.9 995.0h0M647.2 922.8h0M647.5 937.9h0M647.1 931.6h0M647.9 931.3h0M647.9 1003.4h0M647.9 998.1h0M647.8 1000.1h0M648.9 918.2h0M648.2 926.2h0M648.6 930.7h0M648.4 928.8h0M648.5 1005.4h0M648.5 1006.2h0M648.8 1000.6h0M649.5 912.4h0M649.8 924.9h0M649.5 915.0h0M649.1 922.8h0M649.3 1010.0h0M649.5 1008.9h0M649.5 1003.2h0M650.2 908.4h0M650.6 916.1h0M650.4 924.1h0M650.0 908.2h0M650.5 1010.2h0M650.6 1003.8h0M650.5 1009.9h0M651.7 916.8h0M651.9 929.4h0M651.6 922.4h0M651.4 919.2h0M651.3 1012.2h0M651.4 1012.4h0M651.7 1007.1h0M652.9 927.7h0M652.4 938.9h0M652.8 927.3h0M652.5 936.5h0M652.9 1014.0h0M652.6 1012.6h0M652.2 1012.6h0M653.4 932.7h0M653.4 940.5h0M653.5 942.8h0M653.5 943.7h0M653.4 1014.3h0M653.7 1010.5h0M653.1 1014.1h0M654.2 926.2h0M654.8 935.3h0M654.2 935.7h0M654.9 934.2h0M654.5 1014.0h0M654.6 1011.2h0M654.3 1009.6h0M655.5 915.7h0M655.7 931.8h0M655.9 929.6h0M655.2 922.7h0M655.3 1011.0h0M655.2 1008.3h0M655.5 1010.9h0M656.2 904.7h0M656.2 923.5h0M656.9 921.1h0M656.5 907.2h0M657.0 1007.7h0M656.1 1006.1h0M656.3 1007.9h0M657.7 901.8h0M657.2 898.0h0M657.9 898.6h0M657.8 908.9h0M657.9 1005.7h0M657.7 1000.2h0M657.3 1004.0h0M658.0 890.1h0M658.1 911.0h0M658.4 892.7h0M658.3 903.1h0M658.2 1002.3h0M659.0 1002.1h0M658.5 998.9h0M659.6 886.2h0M659.7 886.9h0M659.0 891.7h0M659.6 886.6h0M659.1 998.9h0M659.2 997.3h0M659.2 994.5h0M660.3 898.0h0M660.4 903.1h0M660.9 914.1h0M660.1 913.2h0M660.5 999.2h0M660.4 1000.3h0M660.9 998.1h0M661.9 908.7h0M661.3 924.8h0M661.6 916.3h0M661.2 911.8h0M661.7 1002.0h0M661.5 1000.4h0M661.7 999.2h0M662.0 918.0h0M662.4 929.1h0M662.8 927.8h0M662.8 928.1h0M662.8 1006.0h0M662.3 1003.1h0M662.5 999.5h0M663.2 917.5h0M663.7 918.8h0M663.4 921.8h0M663.7 925.8h0M663.6 1006.2h0M663.6 1001.4h0M663.1 1007.5h0M664.9 910.1h0M664.0 924.0h0M664.4 925.6h0M664.1 924.5h0M665.0 1005.3h0M665.0 999.9h0M664.8 1001.9h0M665.1 904.3h0M665.9 906.2h0M665.7 920.2h0M665.5 910.9h0M665.9 1004.6h0M665.3 999.5h0M665.6 1002.7h0M666.2 898.3h0M666.8 909.8h0M666.7 908.4h0M666.6 917.6h0M666.7 1003.9h0M666.5 1000.1h0M666.6 1000.8h0M667.9 894.0h0M667.3 895.8h0M667.9 911.8h0M667.6 909.7h0M668.0 1002.5h0M667.7 1003.5h0M667.2 1003.7h0M668.3 883.6h0M668.3 886.3h0M668.7 887.6h0M668.8 886.6h0M668.1 1001.6h0M668.1 1000.0h0M668.3 994.8h0M670.0 872.1h0M669.4 881.7h0M669.2 891.0h0M669.3 876.6h0M669.1 999.7h0M669.7 994.9h0M669.1 1001.6h0M670.1 864.0h0M670.4 887.5h0M670.4 886.6h0M670.0 864.8h0M670.3 997.7h0M670.8 996.7h0M670.7 997.4h0M671.7 872.0h0M671.3 890.0h0M671.9 880.5h0M671.7 892.0h0M671.1 992.2h0M672.0 990.4h0M671.4 990.5h0M672.7 873.5h0M672.5 891.7h0M672.1 890.7h0M673.0 891.0h0M672.9 991.4h0M672.4 988.4h0M672.1 986.6h0M673.5 877.0h0M673.5 897.7h0M673.3 899.2h0M673.1 878.0h0M673.3 992.2h0M673.3 991.5h0M673.6 991.8h0M674.9 875.6h0M674.8 897.5h0M674.1 886.3h0M674.0 895.0h0M674.7 996.2h0M674.5 994.9h0M674.1 990.9h0M675.4 877.7h0M675.7 900.7h0M675.7 890.0h0M675.3 894.2h0M675.5 1003.9h0M676.0 1000.3h0M675.2 999.2h0M676.1 892.6h0M676.1 903.9h0M676.6 910.6h0M676.3 907.1h0M676.1 1011.0h0M676.1 1007.9h0M676.6 1005.2h0M677.1 909.4h0M677.1 912.3h0M677.9 921.8h0M677.3 924.0h0M677.4 1012.5h0M677.9 1008.3h0M677.9 1007.4h0M678.5 908.9h0M678.3 906.0h0M678.8 912.5h0M678.0 913.0h0M678.1 1008.6h0M678.4 1005.7h0M678.8 1003.7h0M679.7 907.6h0M679.2 911.7h0M679.5 905.7h0M679.7 904.3h0M679.6 1006.3h0M679.1 1005.4h0M679.2 1003.1h0M680.4 904.8h0M680.2 915.1h0M680.7 914.0h0M680.2 922.0h0M680.9 1000.9h0M681.0 999.7h0M680.9 995.1h0M681.5 903.6h0M681.0 919.6h0M681.9 919.9h0M681.1 916.8h0M681.5 1000.3h0M681.8 1000.1h0M681.9 996.9h0M682.6 907.0h0M682.5 912.5h0M682.4 915.3h0M682.8 920.5h0M682.3 999.1h0M682.2 995.3h0M682.4 998.4h0M683.2 909.6h0M683.6 912.6h0M683.2 922.8h0M683.5 915.7h0M683.6 999.0h0M683.1 995.7h0M684.0 998.1h0M684.8 912.4h0M684.1 925.4h0M684.6 923.8h0M684.6 919.8h0M684.6 1000.2h0M684.0 999.6h0M684.1 997.8h0M685.7 913.1h0M685.7 926.7h0M685.1 919.7h0M685.1 926.0h0M685.2 1004.0h0M685.7 999.6h0M685.3 1001.1h0M686.5 913.6h0M686.7 921.9h0M686.9 924.0h0M686.6 920.4h0M686.1 1005.5h0M686.5 1005.7h0M686.8 1002.1h0M687.7 908.0h0M687.6 921.2h0M687.8 919.2h0M687.9 907.7h0M687.9 1009.5h0M687.3 1007.2h0M687.8 1000.9h0M689.0 900.4h0M688.2 904.1h0M688.9 913.0h0M688.9 916.7h0M688.6 1008.5h0M688.5 1002.2h0M688.3 1008.5h0M689.8 891.5h0M690.0 891.8h0M689.8 912.7h0M689.1 901.4h0M690.0 1007.9h0M689.2 1002.1h0M689.6 1001.7h0M690.8 893.3h0M690.8 898.2h0M690.4 908.2h0M690.2 898.6h0M690.8 1007.0h0M690.3 1001.7h0M690.6 1007.8h0M691.0 898.1h0M691.1 917.4h0M691.9 918.4h0M691.5 910.1h0M691.3 1007.8h0M691.8 1006.6h0M691.5 1004.3h0M692.7 905.2h0M692.7 912.2h0M692.9 918.3h0M692.6 923.7h0M692.7 1012.1h0M692.5 1011.7h0M692.1 1006.4h0M693.9 913.5h0M693.9 915.1h0M693.7 926.9h0M693.3 927.6h0M694.0 1014.8h0M693.3 1014.3h0M693.1 1010.7h0M694.4 913.1h0M694.5 920.8h0M694.6 925.5h0M694.0 912.9h0M694.4 1016.7h0M694.5 1017.6h0M694.3 1016.8h0M695.8 910.1h0M695.9 925.9h0M695.5 926.4h0M695.3 920.6h0M695.7 1015.3h0M696.0 1016.6h0M695.1 1016.6h0M697.0 904.3h0M696.3 916.7h0M696.4 922.1h0M696.2 915.4h0M696.8 1012.0h0M696.5 1007.5h0M696.9 1009.4h0M697.2 900.7h0M697.6 917.3h0M697.2 909.4h0M697.4 902.6h0M697.4 1010.6h0M697.7 1010.4h0M697.5 1009.8h0M698.6 893.0h0M698.3 896.9h0M698.2 895.6h0M698.7 909.5h0M698.3 1010.0h0M698.3 1009.5h0M698.4 1008.1h0M699.0 889.2h0M699.7 906.5h0M699.7 901.0h0M699.9 912.0h0M699.6 1007.8h0M699.5 1002.9h0M699.8 1003.2h0M700.2 887.4h0M700.5 899.2h0M700.4 893.2h0M700.3 889.8h0M700.1 1003.3h0M700.9 997.7h0M700.3 1001.1h0M701.8 899.7h0M701.9 901.9h0M701.3 917.3h0M701.5 915.4h0M701.2 1002.2h0M701.5 998.2h0M701.0 1004.0h0M702.2 908.4h0M702.2 912.7h0M702.8 923.3h0M702.1 925.4h0M702.7 1005.6h0M702.2 1005.4h0M702.3 1006.2h0M703.9 916.0h0M703.4 931.2h0M703.5 920.2h0M703.8 930.1h0M703.5 1010.8h0M703.2 1009.7h0M704.0 1010.5h0M704.2 916.8h0M704.7 926.6h0M704.5 924.7h0M704.3 918.6h0M704.9 1013.3h0M704.2 1008.7h0M704.5 1010.8h0M705.5 919.9h0M705.1 929.1h0M705.7 930.1h0M705.6 935.2h0M705.3 1015.2h0M705.3 1009.1h0M706.0 1012.3h0M706.4 923.9h0M706.3 929.9h0M706.1 931.9h0M706.4 925.6h0M706.4 1012.3h0M706.3 1009.1h0M706.3 1010.4h0M707.5 931.7h0M707.1 934.4h0M707.9 942.4h0M707.9 939.3h0M707.9 1008.9h0M707.1 1008.4h0M707.7 1005.0h0M708.4 935.2h0M708.9 945.3h0M708.1 943.6h0M708.1 938.1h0M708.3 1004.0h0M708.8 1005.1h0M708.6 1001.9h0M709.3 934.2h0M709.8 944.2h0M709.3 943.1h0M709.9 934.5h0M709.3 1006.0h0M709.8 1001.7h0M709.6 1001.8h0M710.7 933.1h0M710.9 941.1h0M710.3 944.8h0M710.2 942.4h0M710.2 1007.0h0M710.4 1003.9h0M710.5 1002.4h0M711.9 928.3h0M711.7 935.1h0M711.2 927.9h0M711.3 936.5h0M711.4 1006.2h0M711.4 1002.3h0M711.1 1004.7h0M712.1 928.2h0M712.1 940.6h0M712.6 940.6h0M712.3 939.9h0M713.0 1007.1h0M712.3 1003.1h0M712.6 1001.2h0M713.4 928.7h0M713.5 937.3h0M713.9 939.6h0M713.9 936.5h0M713.3 1007.5h0M713.7 1005.8h0M713.6 1004.4h0M714.3 929.4h0M714.0 939.4h0M714.2 938.0h0M714.6 943.6h0M714.5 1008.6h0M714.5 1004.9h0M715.0 1004.8h0M716.0 931.5h0M715.8 944.2h0M715.7 935.6h0M715.8 943.3h0M715.1 1007.4h0M715.9 1003.6h0M715.1 1007.0h0M716.7 930.3h0M717.0 929.8h0M716.5 933.3h0M716.3 936.5h0M716.0 1007.9h0M717.0 1003.4h0M716.5 1006.0h0M717.7 931.6h0M717.7 944.1h0M717.3 932.0h0M717.3 937.0h0M717.7 1010.1h0M717.2 1005.6h0M717.5 1005.3h0M718.9 933.2h0M718.6 943.6h0M718.1 937.0h0M718.3 943.6h0M718.6 1012.2h0M718.9 1010.6h0M718.4 1006.8h0M719.4 933.0h0M719.3 945.9h0M719.9 934.3h0M719.4 945.0h0M719.3 1012.6h0M719.6 1009.9h0M720.0 1008.8h0M720.7 932.2h0M720.1 933.8h0M720.4 944.1h0M720.9 940.8h0M720.3 1013.8h0M720.0 1007.7h0M720.4 1012.6h0M721.0 931.8h0M721.5 934.9h0M721.6 944.1h0M721.7 939.9h0M721.4 1013.5h0M721.5 1011.4h0M721.1 1011.6h0M722.9 930.7h0M722.6 940.4h0M722.9 942.1h0M722.5 937.9h0M722.7 1013.9h0M722.1 1008.5h0M722.9 1011.6h0M724.0 929.6h0M723.9 930.2h0M723.7 933.2h0M723.6 939.7h0M723.6 1015.0h0M723.6 1009.8h0M723.5 1014.1h0M724.5 926.2h0M724.2 938.9h0M724.6 937.0h0M724.7 929.5h0M724.1 1013.4h0M724.8 1006.1h0M724.4 1008.0h0M725.6 926.3h0M725.8 926.2h0M725.1 935.1h0M725.4 936.8h0M725.2 1013.9h0M725.3 1012.3h0M725.8 1014.1h0M726.3 925.6h0M726.1 931.3h0M726.7 935.5h0M726.9 936.8h0M726.4 1014.1h0M726.2 1014.2h0M726.5 1011.8h0M727.3 929.4h0M727.4 943.1h0M727.7 939.9h0M727.2 940.9h0M727.9 1013.3h0M727.8 1014.8h0M727.4 1010.7h0M728.6 931.6h0M728.3 938.1h0M729.0 943.6h0M728.1 935.4h0M728.7 1013.8h0M728.1 1012.4h0M728.7 1011.2h0M729.3 934.2h0M729.2 945.2h0M729.6 945.3h0M729.2 937.5h0M729.2 1012.1h0M729.8 1008.5h0M729.3 1010.9h0M730.8 934.0h0M730.4 941.2h0M730.8 940.0h0M730.9 935.3h0M730.2 1011.8h0M730.5 1012.5h0M730.4 1012.4h0M732.0 931.2h0M731.2 939.3h0M731.0 941.3h0M731.8 930.4h0M731.1 1012.0h0M732.0 1013.1h0M731.8 1012.3h0M732.5 927.0h0M732.7 942.0h0M732.3 927.1h0M733.0 941.3h0M733.0 1012.4h0M732.1 1010.9h0M732.7 1006.5h0M733.5 922.7h0M733.7 936.6h0M733.0 931.2h0M733.3 936.9h0M733.2 1010.4h0M733.7 1011.5h0M733.4 1009.0h0M734.9 918.1h0M734.8 920.5h0M734.2 930.9h0M734.1 922.9h0M734.6 1010.5h0M734.2 1007.7h0M734.3 1008.7h0M735.1 922.9h0M735.3 922.2h0M735.6 929.0h0M735.5 931.0h0M735.8 1012.6h0M735.1 1006.9h0M735.0 1006.3h0M736.3 927.7h0M736.8 930.5h0M736.2 942.8h0M737.0 939.7h0M736.1 1012.8h0M737.0 1007.8h0M736.1 1012.5h0M737.0 936.2h0M738.0 947.1h0M737.0 938.5h0M737.5 942.6h0M737.6 1013.1h0M737.1 1010.8h0M737.6 1010.2h0M738.5 936.1h0M738.9 945.8h0M738.7 948.2h0M738.7 943.1h0M738.2 1014.9h0M738.8 1011.3h0M738.4 1011.3h0M739.3 937.5h0M739.7 941.2h0M739.1 944.1h0M739.3 941.9h0M739.7 1015.8h0M739.2 1011.9h0M739.5 1011.5h0M740.8 938.3h0M740.2 944.2h0M740.2 947.3h0M740.9 939.4h0M740.5 1016.2h0M740.0 1014.1h0M740.3 1015.0h0M741.6 938.5h0M741.5 949.4h0M741.3 948.7h0M741.6 944.5h0M742.0 1013.7h0M742.0 1011.1h0M741.6 1010.6h0M742.8 939.2h0M743.0 941.8h0M742.1 949.2h0M742.6 947.1h0M742.6 1012.2h0M742.9 1007.8h0M742.4 1013.3h0M743.3 937.9h0M743.9 949.1h0M743.7 947.0h0M743.1 945.2h0M743.7 1010.7h0M743.5 1010.2h0M744.0 1012.0h0M744.8 937.0h0M744.6 938.2h0M744.5 948.4h0M744.3 943.9h0M744.9 1011.6h0M744.5 1007.6h0M744.4 1010.0h0M745.3 935.4h0M745.2 946.5h0M745.1 948.1h0M745.7 935.7h0M745.3 1011.7h0M745.3 1007.9h0M745.6 1007.0h0M746.1 934.5h0M746.4 948.6h0M746.0 945.4h0M746.3 947.8h0M746.9 1011.8h0M746.9 1008.7h0M746.4 1009.2h0M747.1 936.1h0M747.4 937.0h0M747.9 946.3h0M747.7 949.5h0M747.9 1012.6h0M747.3 1010.4h0M747.8 1008.9h0M748.7 939.5h0M748.4 949.9h0M748.5 949.9h0M748.8 945.1h0M749.0 1013.7h0M748.9 1013.7h0M748.6 1013.8h0M749.9 940.9h0M749.9 946.4h0M749.2 951.3h0M749.3 949.3h0M749.8 1014.5h0M749.1 1012.9h0M749.6 1009.8h0M750.9 943.0h0M750.0 951.7h0M750.6 943.5h0M750.7 944.2h0M750.0 1015.3h0M750.5 1010.9h0M750.7 1015.7h0M752.0 945.9h0M751.3 956.8h0M751.3 954.1h0M751.2 951.9h0M751.0 1017.6h0M751.3 1017.6h0M751.0 1017.0h0M752.1 950.7h0M752.3 961.4h0M752.0 957.8h0M752.7 950.6h0M752.1 1019.1h0M752.4 1014.8h0M752.9 1019.2h0M753.6 957.0h0M753.1 964.6h0M753.9 967.6h0M753.6 965.7h0M753.8 1018.5h0M753.5 1018.1h0M753.2 1016.6h0M754.5 961.4h0M754.2 965.8h0M754.1 970.2h0M754.0 970.2h0M754.1 1018.6h0M754.4 1018.1h0M754.5 1014.4h0M755.4 966.1h0M755.3 972.7h0M755.1 966.4h0M755.4 967.7h0M755.2 1017.0h0M755.8 1016.3h0M755.4 1013.4h0M756.2 968.5h0M756.6 973.6h0M756.1 968.4h0M756.1 973.9h0M756.5 1017.3h0M756.6 1015.4h0M756.6 1016.0h0M757.7 967.7h0M757.1 971.3h0M757.7 966.8h0M757.0 970.5h0M757.1 1016.6h0M757.4 1016.2h0M757.7 1013.9h0M758.7 967.0h0M758.2 972.6h0M759.0 972.1h0M758.9 974.7h0M758.4 1014.6h0M758.3 1012.5h0M758.7 1012.8h0M759.3 967.2h0M759.9 973.0h0M759.7 971.9h0M759.5 969.5h0M759.0 1012.5h0M760.0 1011.3h0M759.9 1010.4h0M760.7 971.9h0M760.8 971.8h0M760.9 976.8h0M760.7 974.5h0M760.0 1011.6h0M760.9 1009.0h0M760.0 1010.6h0M761.6 976.3h0M761.0 981.3h0M761.9 979.4h0M761.7 980.4h0M761.6 1011.2h0M761.0 1011.4h0M761.2 1009.3h0M762.7 978.6h0M763.0 981.4h0M762.0 979.7h0M762.2 980.9h0M762.8 1013.2h0M762.6 1013.1h0M762.8 1013.2h0M763.4 979.7h0M764.0 980.3h0M763.9 984.7h0M763.1 984.3h0M763.7 1015.0h0M763.4 1014.4h0M763.6 1012.8h0M764.6 981.7h0M764.3 985.6h0M764.5 982.0h0M764.4 986.2h0M765.0 1016.3h0M764.1 1016.9h0M764.9 1013.7h0M765.3 984.8h0M765.5 985.2h0M765.4 989.5h0M765.6 985.7h0M765.3 1018.0h0M766.0 1017.2h0M765.1 1017.3h0M766.2 984.9h0M766.4 990.2h0M766.5 988.9h0M766.5 987.8h0M766.8 1017.9h0M766.5 1017.1h0M766.2 1018.1h0M767.2 982.6h0M767.6 983.6h0M767.5 988.7h0M767.4 982.6h0M767.1 1017.3h0M767.8 1016.2h0M767.2 1017.5h0M768.5 982.0h0M768.4 986.2h0M768.0 984.3h0M768.9 985.2h0M768.5 1017.4h0M768.8 1015.3h0M768.4 1015.5h0M769.6 984.4h0M769.2 988.8h0M769.8 988.9h0M769.1 985.7h0M769.2 1018.9h0M769.6 1017.5h0M769.8 1017.4h0M770.8 985.9h0M771.0 992.0h0M770.0 991.7h0M770.8 990.3h0M771.0 1020.5h0M770.1 1018.8h0M770.1 1020.2h0M771.8 989.0h0M771.7 994.2h0M771.5 994.0h0M771.5 994.5h0M771.2 1021.9h0M771.5 1021.8h0M772.0 1021.9h0M772.1 990.2h0M772.5 991.4h0M772.9 994.1h0M772.1 993.4h0M772.3 1022.4h0M772.2 1022.2h0M772.9 1022.3h0M773.9 991.5h0M774.0 995.6h0M773.9 994.6h0M773.4 994.1h0M773.9 1022.3h0M773.4 1020.6h0M773.0 1020.2h0M774.5 989.9h0M774.3 992.6h0M774.7 994.4h0M774.2 991.7h0M774.4 1022.6h0M774.9 1022.3h0M774.1 1022.0h0M775.3 982.8h0M775.8 987.1h0M775.6 988.9h0M775.9 986.6h0M775.4 1022.9h0M775.5 1021.1h0M775.6 1021.0h0M777.0 975.8h0M776.0 981.1h0M776.0 983.0h0M776.2 983.5h0M776.1 1022.3h0M776.4 1020.0h0M776.9 1019.3h0M777.2 973.7h0M777.5 981.4h0M777.2 974.9h0M777.2 980.6h0M777.8 1022.2h0M777.8 1022.2h0M777.5 1020.4h0M778.8 973.5h0M778.1 980.2h0M778.7 974.3h0M778.5 980.6h0M778.7 1022.9h0M778.6 1020.6h0M778.6 1021.4h0M779.5 972.6h0M779.9 980.5h0M779.2 976.1h0M779.2 975.6h0M779.6 1022.1h0M779.3 1019.6h0M779.2 1020.8h0M781.0 973.8h0M780.6 981.4h0M780.6 978.8h0M780.4 975.5h0M780.7 1022.4h0M780.7 1022.2h0M780.1 1020.1h0M781.0 971.9h0M781.7 981.3h0M781.5 973.7h0M781.7 980.4h0M781.8 1021.7h0M781.2 1019.8h0M781.2 1021.6h0M782.4 971.8h0M782.5 971.1h0M782.6 978.3h0M782.5 973.7h0M782.3 1021.0h0M782.2 1020.1h0M782.5 1019.9h0M783.1 970.2h0M783.2 974.8h0M783.1 974.4h0M783.1 977.0h0M783.2 1020.7h0M783.8 1020.7h0M783.2 1018.9h0M784.4 976.3h0M784.2 982.4h0M784.4 983.7h0M784.9 978.6h0M784.2 1021.0h0M784.9 1021.4h0M784.7 1021.1h0M785.9 982.7h0M785.0 987.8h0M785.9 987.4h0M785.6 988.9h0M785.8 1021.9h0M786.0 1021.5h0M785.8 1021.3h0M786.6 997.2h0M787.0 997.3h0M786.9 1002.6h0M787.0 1002.9h0M786.4 1023.1h0M786.6 1022.9h0M786.8 1022.0h0M787.5 1005.9h0M787.6 1009.0h0M787.1 1009.1h0M787.6 1007.0h0M787.6 1023.4h0M787.5 1023.5h0M787.4 1023.6h0M788.8 1006.2h0M788.9 1008.2h0M789.0 1007.6h0M788.9 1006.9h0M788.1 1024.0h0M788.6 1024.1h0M788.7 1024.1h0M789.4 1006.3h0M789.9 1009.6h0M789.2 1006.2h0M789.0 1009.2h0M789.6 1024.8h0M789.6 1024.4h0M789.9 1024.3h0M790.0 1007.8h0M790.0 1010.2h0M790.8 1009.0h0M790.2 1010.8h0M790.5 1025.9h0M790.4 1024.9h0M790.1 1025.9h0M791.4 1010.4h0M791.3 1013.7h0M791.1 1012.0h0M791.9 1012.8h0M791.3 1026.8h0M791.3 1026.6h0M791.5 1026.9h0M792.7 1013.4h0M792.8 1015.6h0M792.8 1015.4h0M792.6 1015.3h0M792.3 1027.8h0M792.6 1027.9h0M792.1 1027.9h0M793.6 1015.7h0M793.7 1017.3h0M793.4 1017.7h0M793.5 1015.3h0M793.7 1028.0h0M794.0 1027.5h0M793.7 1027.8h0M794.1 1017.9h0M794.7 1019.3h0M794.8 1018.1h0M794.1 1019.8h0M794.4 1028.1h0M794.9 1027.9h0M794.4 1027.8h0M796.0 1019.7h0M795.9 1021.3h0M795.7 1020.1h0M795.7 1020.0h0M795.2 1028.3h0M795.6 1028.2h0M795.8 1028.3h0M796.2 1019.5h0M796.8 1019.5h0M796.2 1020.8h0M796.6 1019.8h0M796.8 1028.1h0M796.2 1028.2h0M796.6 1028.0h0M797.8 1019.4h0M797.9 1020.7h0M797.3 1020.6h0M797.4 1019.4h0M797.6 1028.2h0M797.4 1027.9h0M797.2 1028.0h0M798.0 1019.5h0M798.5 1020.8h0M798.0 1020.8h0M798.8 1019.8h0M798.2 1028.1h0M798.8 1027.5h0M798.5 1028.0h0M799.4 1019.5h0M799.0 1020.9h0M799.2 1020.6h0M799.8 1020.0h0M799.8 1028.3h0M799.4 1028.4h0M799.6 1028.3h0M800.5 1019.8h0M800.1 1020.7h0M800.1 1019.6h0M800.5 1021.7h0M801.0 1030.1h0M800.2 1029.7h0M800.6 1030.1h0M801.6 1019.8h0M801.9 1021.3h0M801.8 1021.4h0M801.8 1021.1h0M801.8 1030.4h0M801.9 1030.2h0M801.8 1030.2h0M802.7 1019.6h0M802.2 1021.5h0M802.2 1021.4h0M802.0 1021.6h0M802.4 1030.6h0M802.3 1030.4h0M802.1 1030.5h0M803.0 1020.0h0M803.0 1021.5h0M803.9 1021.4h0M803.3 1021.6h0M803.3 1030.8h0M803.2 1030.4h0M803.7 1030.9h0M804.9 1021.6h0M804.1 1023.1h0M804.6 1023.2h0M804.8 1023.1h0M804.9 1031.2h0M804.9 1030.7h0M804.2 1030.8h0M805.4 1023.5h0M805.1 1023.6h0M805.4 1023.9h0M805.7 1024.5h0M805.5 1031.5h0M805.5 1031.2h0M805.4 1031.4h0M806.7 1025.4h0M806.1 1026.1h0M806.8 1026.3h0M806.1 1026.3h0M806.7 1031.8h0M806.7 1031.7h0M806.4 1031.3h0M807.5 1026.6h0M807.8 1027.4h0M807.6 1027.4h0M807.2 1027.1h0M807.5 1031.9h0M807.9 1031.8h0M807.6 1031.9h0M808.3 1027.5h0M808.6 1028.2h0M808.0 1028.2h0M808.9 1028.1h0M808.4 1032.1h0M808.2 1031.9h0M808.4 1031.8h0M809.1 1028.5h0M809.4 1028.9h0M809.9 1028.6h0M809.2 1028.6h0M809.2 1032.2h0M809.2 1032.2h0M809.1 1032.1h0M810.7 1029.5h0M810.3 1029.6h0M810.2 1029.4h0M810.1 1029.8h0M810.4 1032.4h0M810.3 1032.2h0M810.6 1032.3h0M811.5 1029.9h0M811.8 1030.0h0M811.4 1030.2h0M811.3 1030.0h0M811.8 1032.6h0M811.9 1032.4h0M811.6 1032.6h0M812.5 1030.2h0M812.5 1030.5h0M812.5 1030.5h0M812.8 1030.4h0M812.2 1032.7h0M813.0 1032.6h0M812.9 1032.6h0M813.0 1030.5h0M813.9 1030.7h0M813.4 1030.7h0M813.1 1030.8h0M813.3 1032.7h0M813.1 1032.6h0M813.7 1032.6h0M814.4 1030.8h0M814.7 1030.9h0M814.7 1030.8h0M814.1 1030.8h0M814.3 1032.7h0M814.0 1032.7h0M814.2 1032.7h0M816.0 1030.6h0M815.3 1030.9h0M815.3 1030.8h0M815.7 1030.7h0M815.2 1032.7h0M815.3 1032.6h0M815.0 1032.7h0M816.6 1030.8h0M816.9 1031.1h0M816.8 1031.0h0M816.3 1031.1h0M817.0 1032.8h0M816.0 1032.6h0M816.9 1032.8h0M817.7 1030.9h0M817.8 1030.9h0M817.1 1031.0h0M817.8 1031.1h0M817.6 1032.8h0M817.1 1032.7h0M817.1 1032.8h0M819.0 1031.0h0M818.3 1031.0h0M818.0 1031.0h0M818.1 1031.2h0M818.7 1032.8h0M818.6 1032.8h0M818.4 1032.7h0M819.7 1031.0h0M819.8 1031.0h0M819.6 1031.2h0M819.0 1031.2h0M819.3 1032.8h0M819.9 1032.8h0M819.8 1032.8h0M116.0 1023.4h0M119.4 1020.8h0M122.8 1021.7h0M127.1 1014.9h0M132.2 1012.3h0M135.6 1007.2h0M138.2 1008.9h0M139.0 1012.6h0M141.2 1002.1h0M141.1 1007.9h0M144.1 1008.0h0M144.1 1012.7h0M147.5 1006.3h0M151.8 1003.8h0M152.1 1009.5h0M156.1 1005.5h0M159.5 994.4h0M160.3 999.4h0M163.8 994.4h0M164.0 998.1h0M165.5 973.9h0M166.4 979.5h0M165.1 983.6h0M168.0 962.0h0M168.1 967.8h0M167.6 973.5h0M170.6 944.9h0M171.2 949.8h0M170.9 954.9h0M171.1 960.6h0M172.3 962.0h0M173.1 966.1h0M173.3 971.4h0M172.6 977.6h0M174.0 982.4h0M174.3 987.5h0M177.4 974.8h0M176.7 980.9h0M176.8 986.4h0M180.0 984.1h0M179.1 987.9h0M183.4 983.3h0M182.6 987.9h0M183.7 991.5h0M188.2 978.2h0M188.8 981.9h0M187.2 985.4h0M191.9 982.4h0M192.0 987.7h0M195.3 979.0h0M194.5 983.4h0M195.9 989.6h0M197.0 960.3h0M197.4 964.2h0M197.1 970.8h0M196.5 975.4h0M199.1 979.0h0M199.4 984.2h0M200.1 987.8h0M201.3 984.1h0M200.3 990.3h0M205.6 979.0h0M206.3 985.1h0M209.0 987.6h0M209.7 992.1h0M212.4 984.1h0M212.1 988.6h0M212.3 993.1h0M216.7 970.5h0M217.6 975.4h0M217.4 981.0h0M220.1 979.9h0M220.6 985.4h0M219.4 989.7h0M223.5 979.0h0M222.5 983.5h0M222.8 987.3h0M227.7 985.9h0M227.9 990.7h0M227.8 995.5h0M231.2 994.4h0M231.4 998.1h0M234.6 984.1h0M234.0 988.3h0M238.3 973.9h0M237.9 980.3h0M237.8 984.6h0M243.4 967.9h0M243.9 972.4h0M244.1 978.6h0M246.5 975.6h0M245.7 979.5h0M246.7 985.8h0M251.6 984.1h0M251.4 991.1h0M253.3 982.4h0M252.7 986.0h0M254.1 991.6h0M254.7 964.5h0M255.5 970.1h0M255.2 974.3h0M254.3 978.1h0M256.4 983.3h0M257.1 989.7h0M258.5 989.3h0M259.3 994.2h0M263.6 991.0h0M263.0 995.9h0M270.4 986.7h0M271.0 990.4h0M270.9 995.0h0M275.2 978.2h0M275.9 983.4h0M278.1 989.3h0M278.9 993.4h0M282.4 982.4h0M282.4 986.7h0M285.4 970.5h0M286.3 975.0h0M285.1 979.1h0M288.3 987.6h0M289.3 992.8h0M294.3 988.4h0M293.6 992.7h0M299.4 973.9h0M298.6 980.3h0M303.7 970.5h0M304.5 974.8h0M302.9 980.8h0M306.2 960.3h0M305.8 964.2h0M306.0 970.5h0M309.7 975.6h0M309.9 980.7h0M310.3 985.7h0M313.9 964.5h0M313.1 970.8h0M314.2 975.0h0M318.2 961.1h0M318.0 967.8h0M318.4 971.9h0M324.2 956.0h0M323.7 962.4h0M324.1 968.4h0M330.0 965.4h0M330.7 970.9h0M329.5 976.5h0M331.9 965.4h0M332.4 971.5h0M331.9 976.6h0M336.2 973.9h0M336.0 978.0h0M336.8 982.6h0M341.3 980.7h0M341.7 987.1h0M346.5 982.4h0M346.8 987.2h0M349.0 968.8h0M349.4 974.5h0M348.4 979.5h0M350.7 955.1h0M350.3 960.9h0M351.1 966.4h0M352.4 935.5h0M353.2 940.8h0M353.1 946.6h0M352.7 950.8h0M354.1 955.1h0M354.7 960.0h0M354.0 965.8h0M355.1 970.1h0M355.8 972.2h0M356.8 977.2h0M361.0 970.5h0M361.4 975.9h0M364.4 951.7h0M364.2 958.0h0M364.4 964.5h0M368.6 945.8h0M368.0 950.5h0M367.7 957.2h0M372.0 938.1h0M371.1 944.1h0M372.9 948.6h0M374.6 924.4h0M374.9 930.6h0M373.7 935.4h0M373.7 940.3h0M377.2 938.1h0M376.7 941.8h0M376.6 945.6h0M377.8 951.9h0M378.9 950.0h0M378.2 955.1h0M379.2 961.7h0M381.4 970.5h0M380.7 974.2h0M381.1 978.0h0M385.7 980.7h0M386.5 986.8h0M386.4 991.0h0M389.1 973.9h0M388.9 977.7h0M388.2 983.9h0M391.7 965.4h0M392.0 970.9h0M390.7 974.6h0M393.4 956.0h0M393.3 960.0h0M392.5 967.0h0M395.1 965.4h0M394.1 969.8h0M396.0 975.9h0M396.8 970.5h0M397.7 976.8h0M401.1 979.0h0M401.4 985.7h0M406.2 979.0h0M406.1 984.1h0M409.6 962.0h0M409.3 967.9h0M409.0 972.1h0M409.3 976.4h0M413.0 944.9h0M412.1 950.0h0M413.3 956.7h0M413.4 961.3h0M415.6 898.8h0M415.1 902.4h0M414.8 909.3h0M415.4 915.0h0M418.1 948.3h0M417.8 955.2h0M418.5 961.3h0M421.5 927.8h0M422.4 931.9h0M422.4 938.1h0M421.3 944.2h0M424.1 903.9h0M424.3 910.1h0M424.6 914.7h0M423.8 920.9h0M426.7 860.4h0M426.8 864.3h0M426.0 869.6h0M427.3 874.3h0M429.2 903.9h0M428.3 907.6h0M429.4 912.6h0M429.6 916.2h0M431.8 963.7h0M432.7 967.4h0M432.2 971.1h0M432.1 976.0h0M435.2 975.6h0M434.5 979.3h0M434.3 983.2h0M437.7 955.1h0M438.1 962.0h0M437.3 967.0h0M438.5 971.0h0M441.2 934.7h0M441.2 938.3h0M441.9 942.4h0M441.8 946.7h0M443.4 918.4h0M444.1 925.1h0M444.3 930.1h0M442.5 935.0h0M445.9 934.7h0M446.8 938.7h0M445.5 942.4h0M445.0 946.7h0M447.1 955.1h0M446.7 961.5h0M446.3 967.7h0M446.9 972.8h0M450.5 950.9h0M450.7 955.7h0M450.0 962.6h0M450.8 968.4h0M454.8 962.0h0M455.8 968.9h0M454.5 974.4h0M459.1 968.8h0M459.7 975.5h0M464.2 965.4h0M463.9 969.7h0M463.8 975.1h0M467.6 941.5h0M468.2 947.1h0M467.8 951.6h0M467.2 958.4h0M471.0 970.5h0M471.1 977.4h0M475.3 963.7h0M476.1 969.4h0M474.3 975.1h0M478.7 941.5h0M478.0 945.2h0M478.8 949.7h0M478.5 954.5h0M482.1 962.0h0M482.8 968.9h0M482.1 975.3h0M485.5 946.6h0M484.6 952.6h0M486.3 957.9h0M491.5 942.3h0M492.0 948.9h0M490.8 952.9h0M491.7 959.6h0M495.8 955.1h0M495.2 960.1h0M495.2 964.2h0M496.0 968.7h0M499.2 934.7h0M498.4 938.7h0M498.5 944.1h0M499.0 951.0h0M501.2 914.2h0M501.8 918.7h0M500.5 925.4h0M501.7 930.3h0M503.1 879.2h0M502.5 885.3h0M503.2 890.0h0M503.5 896.9h0M505.0 914.2h0M504.7 920.7h0M505.6 925.2h0M504.2 929.2h0M506.9 934.7h0M506.4 939.4h0M506.2 945.5h0M506.5 949.2h0M509.4 938.9h0M509.2 945.8h0M509.7 950.8h0M509.7 954.4h0M514.5 941.5h0M514.6 947.9h0M514.6 954.5h0M514.9 958.8h0M518.8 945.8h0M517.8 949.9h0M519.2 955.4h0M519.4 960.9h0M523.9 956.0h0M523.6 960.3h0M524.5 964.3h0M524.6 968.0h0M528.2 963.7h0M528.8 967.5h0M527.8 971.7h0M532.5 950.0h0M532.6 954.0h0M532.8 957.6h0M532.4 963.5h0M536.7 941.5h0M537.1 948.1h0M535.8 953.0h0M536.8 958.3h0M540.0 948.3h0M540.5 954.3h0M540.7 960.1h0M540.3 964.3h0M541.9 938.1h0M542.2 941.9h0M542.5 946.7h0M541.3 952.3h0M547.1 953.4h0M547.1 957.8h0M547.3 962.0h0M548.0 965.8h0M551.3 941.5h0M551.7 946.1h0M550.5 949.7h0M552.2 955.4h0M553.5 927.8h0M554.4 932.3h0M554.5 935.9h0M553.4 942.1h0M555.3 912.5h0M555.7 917.7h0M554.4 921.3h0M554.4 925.7h0M557.0 927.8h0M557.6 932.4h0M557.5 939.1h0M556.5 943.5h0M559.0 941.5h0M559.6 946.8h0M559.1 952.8h0M558.5 957.0h0M562.4 934.7h0M562.4 940.2h0M562.5 946.3h0M561.9 952.4h0M564.1 921.0h0M564.6 927.5h0M563.8 933.0h0M565.1 937.4h0M566.2 909.1h0M566.5 913.4h0M566.6 919.2h0M567.1 924.4h0M571.0 915.9h0M571.9 919.5h0M570.9 923.1h0M571.9 929.9h0M576.1 915.9h0M575.4 922.7h0M575.9 927.3h0M576.6 932.9h0M580.3 934.7h0M580.7 940.9h0M580.7 944.8h0M580.1 951.6h0M584.6 936.4h0M585.5 940.2h0M585.0 947.1h0M584.4 953.6h0M589.7 924.4h0M590.4 929.6h0M589.8 935.0h0M589.3 939.2h0M597.4 916.7h0M598.1 920.7h0M598.0 925.8h0M597.9 930.4h0M601.7 926.1h0M601.7 930.6h0M601.2 937.2h0M601.4 943.6h0M605.1 907.4h0M605.0 913.0h0M604.3 918.4h0M605.9 923.6h0M607.1 888.6h0M607.2 894.1h0M606.7 899.7h0M607.2 903.5h0M610.2 903.9h0M610.2 907.5h0M609.3 913.8h0M610.5 918.2h0M614.5 902.2h0M613.5 907.7h0M613.8 911.7h0M614.3 918.1h0M618.7 921.0h0M619.6 927.9h0M618.7 933.3h0M619.6 937.4h0M623.0 903.9h0M623.0 907.6h0M622.0 913.1h0M622.4 918.4h0M627.3 922.7h0M626.4 929.3h0M627.1 935.1h0M628.0 939.3h0M632.4 921.9h0M632.8 928.8h0M631.6 934.2h0M632.2 939.5h0M637.5 915.9h0M638.4 919.9h0M637.0 926.7h0M637.2 932.1h0M643.5 906.5h0M643.3 913.3h0M644.4 917.5h0M642.9 924.3h0M647.7 915.9h0M647.6 919.8h0M647.2 925.6h0M647.8 931.2h0M650.3 887.7h0M651.3 893.6h0M649.5 897.6h0M651.0 904.1h0M653.7 922.7h0M654.0 926.7h0M654.1 931.2h0M653.7 938.2h0M657.1 895.4h0M657.8 899.1h0M656.6 904.6h0M656.7 909.7h0M659.4 865.5h0M659.3 869.9h0M659.3 875.6h0M659.0 881.9h0M662.3 903.9h0M662.4 909.8h0M662.6 913.6h0M662.8 919.2h0M664.8 898.8h0M664.6 904.8h0M665.6 909.9h0M664.3 913.5h0M668.2 878.3h0M667.8 885.1h0M668.2 890.1h0M667.6 894.6h0M669.9 852.8h0M670.8 857.6h0M670.9 863.0h0M670.5 868.2h0M675.1 852.8h0M674.6 856.5h0M675.0 862.7h0M675.8 869.7h0M677.6 903.9h0M678.0 907.7h0M678.6 914.4h0M677.6 918.1h0M682.7 898.0h0M682.4 901.8h0M682.8 906.7h0M683.4 910.8h0M686.1 902.2h0M685.6 908.3h0M685.4 914.2h0M686.5 919.7h0M689.6 880.9h0M690.5 885.9h0M688.9 891.0h0M689.9 896.2h0M693.0 903.9h0M692.9 910.0h0M692.0 915.0h0M693.3 919.5h0M697.2 895.4h0M697.2 900.6h0M697.5 906.9h0M697.4 913.9h0M700.6 869.8h0M701.5 873.5h0M701.2 877.4h0M699.8 883.2h0M703.2 903.9h0M703.8 907.5h0M702.4 913.1h0M702.9 917.4h0M707.5 921.9h0M707.0 927.0h0M707.4 933.2h0M706.9 938.2h0M712.6 926.1h0M712.8 930.4h0M713.3 936.9h0M713.5 941.7h0M720.3 918.4h0M720.0 923.0h0M719.8 927.4h0M719.4 931.4h0M728.8 921.0h0M729.7 927.6h0M728.8 932.5h0M728.2 938.5h0M732.2 917.6h0M731.9 922.9h0M732.3 926.6h0M731.6 932.9h0M734.4 908.2h0M735.3 914.1h0M734.4 920.7h0M735.3 925.2h0M737.3 933.0h0M737.4 938.6h0M737.4 942.3h0M738.0 947.0h0M741.6 936.4h0M741.5 942.3h0M740.9 947.0h0M742.2 951.0h0M746.7 932.1h0M746.5 936.6h0M747.4 941.2h0M746.6 948.2h0M750.0 934.7h0M749.6 939.0h0M749.5 943.6h0M750.0 947.3h0M751.8 938.0h0M752.7 942.5h0M752.1 948.7h0M751.9 953.4h0M753.7 954.0h0M752.7 959.3h0M752.7 965.2h0M753.0 969.8h0M756.2 966.8h0M755.9 970.8h0M755.4 977.5h0M759.7 962.9h0M759.9 966.8h0M760.4 971.0h0M762.6 974.4h0M762.1 978.8h0M762.0 983.7h0M765.8 982.1h0M766.2 988.0h0M768.4 977.6h0M767.8 981.6h0M768.4 985.6h0M771.6 986.0h0M771.7 990.7h0M774.2 989.8h0M773.5 996.8h0M776.7 971.9h0M776.6 976.3h0M776.7 981.2h0M780.6 971.9h0M780.3 976.4h0M779.9 983.2h0M783.5 966.8h0M784.5 970.8h0M784.0 975.2h0M783.6 981.9h0M785.7 979.6h0M785.6 984.1h0M784.7 990.5h0M787.0 1003.9h0M787.7 1009.6h0M790.2 1006.4h0M789.7 1011.7h0M792.7 1012.8h0M795.3 1019.2h0M799.1 1018.6h0M803.6 1019.2h0M806.8 1025.6h0M810.6 1029.5h0M817.0 1030.9h0M116.0 1030.7h0M120.2 1029.8h0M127.1 1028.1h0M133.9 1026.4h0M140.7 1028.1h0M145.8 1027.3h0M151.0 1026.4h0M157.8 1023.0h0M156.8 1018.6h0M162.9 1019.6h0M168.0 1015.3h0M168.2 1010.3h0M168.1 1006.4h0M170.6 1020.5h0M170.6 1014.3h0M170.3 1009.5h0M174.8 1022.2h0M175.1 1016.7h0M181.7 1023.0h0M182.5 1019.1h0M191.9 1023.9h0M191.7 1020.2h0M202.2 1021.3h0M203.1 1014.6h0M212.4 1023.0h0M212.1 1017.0h0M217.5 1022.2h0M218.1 1017.6h0M216.6 1012.6h0M224.3 1021.3h0M224.2 1014.4h0M230.3 1024.7h0M231.1 1019.6h0M236.3 1023.0h0M236.7 1016.0h0M244.8 1017.9h0M244.0 1013.3h0M249.9 1020.5h0M250.1 1016.3h0M260.2 1022.2h0M259.7 1018.5h0M267.0 1020.5h0M267.6 1015.4h0M273.8 1021.3h0M274.5 1017.6h0M280.6 1017.9h0M279.8 1012.5h0M287.5 1017.0h0M288.3 1010.8h0M293.4 1014.5h0M294.4 1009.1h0M297.7 1017.0h0M298.6 1011.8h0M302.8 1017.9h0M303.7 1012.8h0M309.7 1023.0h0M308.7 1016.8h0M318.2 1020.5h0M317.8 1013.5h0M325.0 1019.6h0M324.0 1014.2h0M325.6 1009.8h0M330.0 1021.3h0M329.7 1016.1h0M329.5 1010.6h0M335.4 1016.2h0M335.8 1010.8h0M340.5 1013.6h0M340.0 1007.8h0M345.6 1016.2h0M345.9 1012.6h0M350.7 1011.9h0M351.5 1007.3h0M351.3 1002.4h0M355.0 1011.9h0M355.4 1008.0h0M361.0 1006.0h0M361.4 999.0h0M366.1 1001.7h0M367.0 994.9h0M369.5 999.1h0M369.4 993.1h0M374.6 1001.7h0M375.6 996.9h0M373.9 991.0h0M378.9 1010.2h0M378.0 1005.7h0M379.6 1000.3h0M384.8 1017.0h0M391.7 1015.3h0M391.1 1010.0h0M398.5 1016.2h0M398.9 1010.8h0M405.3 1017.0h0M405.6 1012.6h0M412.2 1018.8h0M413.0 1011.8h0M419.0 1020.5h0M418.9 1013.5h0M418.2 1009.3h0M425.8 1022.2h0M426.3 1015.3h0M426.0 1009.2h0M425.3 1005.0h0M432.6 1022.2h0M432.5 1016.9h0M431.7 1013.1h0M439.5 1021.3h0M438.8 1014.5h0M438.9 1010.4h0M446.3 1021.3h0M445.9 1014.6h0M453.1 1019.6h0M452.5 1014.8h0M453.4 1010.9h0M461.6 1017.9h0M461.8 1011.5h0M468.5 1013.6h0M467.9 1007.3h0M475.3 1012.8h0M475.7 1006.5h0M482.1 1017.9h0M481.1 1011.3h0M481.4 1007.7h0M487.2 1013.6h0M487.1 1009.4h0M487.8 1005.4h0M486.9 1000.0h0M494.1 1011.9h0M495.0 1006.6h0M499.2 1013.6h0M499.4 1009.3h0M499.9 1004.2h0M499.3 999.2h0M506.0 1011.1h0M506.9 1007.5h0M506.4 1002.0h0M506.3 995.3h0M512.8 1009.4h0M513.2 1004.2h0M513.8 998.4h0M518.8 1006.8h0M519.0 1000.3h0M518.4 996.7h0M524.8 1008.5h0M525.7 1002.2h0M531.6 1012.8h0M531.5 1007.6h0M540.0 1016.2h0M540.5 1011.8h0M540.3 1007.0h0M541.9 1017.0h0M542.8 1011.4h0M541.5 1005.8h0M548.8 1015.3h0M548.6 1011.2h0M549.2 1004.5h0M555.6 1014.5h0M556.2 1009.4h0M555.1 1004.8h0M556.0 1000.8h0M560.7 1016.2h0M561.0 1010.4h0M559.9 1006.4h0M567.5 1017.0h0M568.1 1013.3h0M567.7 1007.9h0M567.0 1001.6h0M574.4 1015.3h0M573.5 1011.2h0M574.2 1004.5h0M575.0 1000.5h0M579.5 1020.5h0M580.4 1016.6h0M578.8 1010.1h0M584.6 1015.3h0M583.9 1011.7h0M583.7 1006.4h0M584.5 1002.2h0M589.7 1017.9h0M589.7 1012.2h0M589.2 1007.9h0M590.2 1004.2h0M596.6 1015.3h0M597.1 1008.5h0M595.6 1002.8h0M596.7 997.6h0M603.4 1014.5h0M604.1 1007.5h0M603.3 1001.7h0M610.2 1013.6h0M609.9 1009.4h0M610.4 1002.8h0M609.3 996.5h0M617.0 1010.2h0M616.4 1006.6h0M617.4 1000.4h0M617.4 995.2h0M625.6 1008.5h0M625.4 1002.4h0M625.3 998.9h0M624.9 994.6h0M632.4 1010.2h0M631.4 1004.9h0M632.6 998.4h0M639.2 1009.4h0M639.1 1005.3h0M640.2 1001.2h0M638.9 996.9h0M644.3 1004.2h0M644.4 998.9h0M645.1 994.3h0M644.3 990.1h0M649.5 1011.1h0M649.3 1007.0h0M650.1 1002.2h0M650.3 996.0h0M655.4 1020.5h0M656.0 1015.7h0M655.8 1010.2h0M655.5 1006.3h0M661.4 1014.5h0M662.0 1008.5h0M661.6 1002.0h0M662.3 995.5h0M666.5 1020.5h0M667.1 1016.9h0M666.6 1012.3h0M666.3 1007.6h0M671.6 999.1h0M672.5 993.1h0M671.3 986.4h0M671.6 979.7h0M676.8 1015.3h0M676.4 1009.3h0M676.0 1002.3h0M676.9 995.7h0M683.6 1016.2h0M684.4 1012.4h0M683.9 1007.9h0M683.5 1004.1h0M692.1 1022.2h0M691.8 1015.4h0M691.9 1009.0h0M691.3 1003.9h0M698.9 1017.9h0M698.9 1011.6h0M699.3 1004.8h0M698.3 998.3h0M705.8 1017.9h0M705.9 1012.2h0M704.9 1007.4h0M706.0 1001.5h0M712.6 1016.2h0M712.5 1011.5h0M713.4 1007.9h0M712.7 1003.3h0M719.4 1017.9h0M719.6 1012.4h0M719.5 1007.9h0M720.1 1001.4h0M726.2 1016.2h0M726.3 1009.8h0M726.9 1005.1h0M726.7 998.1h0M733.1 1017.9h0M733.6 1013.3h0M732.5 1009.7h0M733.9 1004.6h0M739.0 1020.5h0M738.7 1015.0h0M738.2 1009.3h0M738.6 1004.7h0M745.0 1017.0h0M744.9 1011.9h0M744.3 1006.5h0M744.1 1000.8h0M750.0 1016.2h0M749.4 1009.7h0M750.5 1005.9h0M752.4 1020.1h0M752.9 1013.9h0M752.1 1008.5h0M758.2 1016.9h0M757.4 1012.2h0M761.4 1015.0h0M761.2 1009.1h0M765.8 1020.8h0M766.0 1017.2h0M765.0 1013.7h0M771.0 1022.1h0M770.2 1015.9h0M776.1 1023.3h0M776.9 1017.0h0M781.2 1023.3h0M781.3 1017.4h0M786.3 1026.5h0M792.7 1028.5h0M799.1 1029.7h0M806.8 1031.9h0M811.9 1032.7h0M672.4 597.3h0M672.4 604.3h0M673.0 646.3h0M672.4 651.8h0M673.2 692.6h0M671.5 697.6h0M672.2 701.3h0M672.6 703.8h0M671.6 714.4h0M659.5 863.4h0M700.3 868.4h0M672.1 724.8h0M671.4 726.5h0M673.5 728.2h0M672.5 731.3h0M671.3 734.4h0M672.3 737.2h0M673.2 740.0h0M672.6 742.3h0M672.4 744.2h0M673.5 747.0h0M672.2 750.4h0M671.7 752.3h0M673.1 754.8h0M672.0 757.6h0M673.7 759.8h0M673.3 762.2h0M671.3 765.3h0M671.5 767.1h0M671.1 770.2h0M672.7 771.8h0M672.9 773.5h0M673.6 776.9h0M671.6 780.1h0M671.1 782.3h0M673.1 784.9h0M671.3 787.0h0M672.6 789.8h0M671.5 792.5h0M671.9 795.6h0M672.9 798.6h0M671.8 800.7h0M672.5 803.4h0M673.3 806.8h0M672.5 809.4h0M672.4 812.8h0M671.6 815.8h0M671.4 818.5h0M672.5 820.7h0M673.0 822.7h0M672.8 826.2h0M671.7 829.2h0M673.3 831.5h0M672.5 834.8h0M671.3 837.2h0M673.2 838.9h0M672.6 841.1h0M673.5 844.1h0M673.1 845.7h0M672.3 848.6h0M672.0 850.2h0M673.6 852.3h0M672.5 855.7h0M673.0 857.7h0M671.5 859.6h0M672.0 861.3h0M672.9 863.1h0M671.1 865.2h0M672.4 867.9h0" stroke="#1f77b4" stroke-width="5.5" stroke-linecap="round" fill="none"/>
<path d="M115.6 1029.5 117.0 1028.3 118.1 1025.1 118.5 1025.2 119.3 1025.8 120.8 1027.3 121.1 1027.4 122.1 1025.9 123.5 1024.6 123.7 1024.4 124.9 1023.6 126.3 1023.6 127.1 1022.7 127.7 1024.1 128.8 1022.0 130.3 1020.3 131.7 1020.5 132.2 1019.4 132.8 1020.7 134.0 1018.6 135.3 1021.7 136.7 1019.3 137.3 1021.1 138.1 1018.2 139.2 1020.3 139.9 1017.4 140.5 1020.4 141.7 1023.0 142.4 1024.3 143.0 1023.8 144.1 1021.0 145.4 1020.7 145.8 1019.3 146.5 1020.0 147.7 1017.3 149.2 1016.0 149.2 1015.6 150.6 1018.1 151.7 1015.7 153.1 1019.9 154.4 1019.0 154.4 1020.3 155.8 1016.8 157.3 1014.8 157.8 1012.5 158.8 1013.9 160.2 1010.1 161.2 1009.3 161.7 1007.3 163.1 1007.6 164.4 1004.1 164.6 1006.8 165.6 999.7 166.9 994.9 167.2 995.6 168.1 994.4 169.5 992.0 169.7 990.3 170.6 998.0 171.4 1005.3 171.7 1001.4 173.2 1002.5 174.0 1000.3 174.5 1002.0 175.5 1002.5 176.6 1002.2 176.8 1002.0 178.0 1006.3 179.1 1008.8 180.0 1009.1 180.4 1011.4 181.8 1006.1 182.5 1007.1 183.3 1007.2 184.6 1008.7 185.1 1012.6 185.9 1012.4 187.2 1007.5 187.6 1008.1 188.4 1007.7 189.6 1011.7 190.8 1011.6 191.1 1013.2 192.2 1008.3 193.4 1009.1 194.5 1006.7 194.6 1003.5 195.9 1005.0 197.3 1002.0 197.9 1002.1 198.4 1004.0 199.8 1006.2 201.2 1009.0 201.3 1009.6 202.3 1006.9 203.4 1006.9 204.7 1006.2 204.7 1006.6 206.1 1004.6 207.4 1004.1 208.1 1004.0 208.6 1006.6 209.7 1004.4 211.0 1011.2 211.5 1010.6 212.5 1005.0 213.2 1001.6 213.8 1003.6 215.0 1001.1 216.1 1003.1 216.7 1000.7 217.3 1003.1 218.7 1003.1 219.2 1003.3 220.1 1003.4 221.6 1002.2 222.6 1002.0 222.8 1003.1 223.8 1003.0 225.3 1010.6 226.7 1015.8 226.9 1014.4 227.9 1013.1 228.9 1015.2 229.5 1011.9 229.9 1012.5 230.9 1012.3 231.2 1014.1 232.0 1010.6 233.5 1009.9 234.6 1006.4 235.4 1006.7 235.9 1004.4 237.2 1006.3 238.3 1004.3 239.6 1004.7 239.7 1005.1 240.7 1003.3 242.1 1002.9 243.1 999.4 243.5 1001.0 244.7 999.7 245.8 997.4 246.5 999.6 246.9 1001.4 248.0 1002.4 249.2 1004.5 250.6 1007.3 251.6 1008.6 251.7 1005.3 252.9 1005.1 254.1 1008.7 255.4 1003.2 255.9 1004.8 256.9 1006.2 257.9 1010.0 258.5 1010.1 259.0 1010.2 260.4 1008.5 261.4 1009.9 262.5 1005.6 263.5 1006.4 263.6 1005.5 264.8 1005.9 266.0 1009.7 267.5 1007.5 267.8 1008.9 268.6 1011.1 269.7 1007.5 271.1 1010.9 272.1 1011.6 272.2 1010.3 273.6 1006.6 275.0 1001.5 275.5 1001.2 276.1 1002.1 277.3 1004.4 278.1 1006.1 278.4 1009.4 279.8 1004.8 281.2 1004.3 282.3 1003.6 283.6 1000.0 284.1 1001.0 285.0 1001.4 286.1 1004.0 287.2 1004.3 287.5 1005.7 288.7 1003.1 290.2 1003.9 290.9 1002.7 291.7 1001.6 292.8 1002.3 294.1 1001.1 295.2 1004.0 296.0 1002.9 296.5 1000.2 297.6 999.4 298.6 998.4 299.8 995.6 300.1 997.7 301.2 1000.3 302.3 999.2 303.4 1000.5 303.7 1002.3 304.6 999.9 305.9 1002.5 306.2 999.9 307.0 1001.2 308.3 1007.2 308.8 1009.9 309.8 1010.1 311.0 1003.1 311.4 1004.9 312.2 1006.5 313.6 1003.8 314.8 1005.5 315.1 1002.7 316.4 1001.0 317.7 999.0 318.9 996.4 319.0 996.7 320.1 999.4 321.5 999.8 321.6 1002.8 322.6 999.0 324.0 989.4 324.2 991.9 325.4 993.9 326.7 999.2 326.8 1000.3 328.0 996.4 329.4 996.8 330.0 994.4 330.8 993.1 331.9 992.5 332.2 995.0 333.6 998.8 333.7 998.1 334.9 995.0 335.4 994.1 336.0 994.5 337.4 999.7 338.5 997.1 338.8 1000.9 339.7 998.4 340.9 1002.7 342.4 1002.5 343.9 1001.5 343.9 1004.1 345.3 1000.5 346.5 998.3 346.5 999.8 347.6 1000.6 348.6 1005.1 349.0 1005.7 349.9 999.8 351.2 990.4 351.6 985.5 352.6 991.8 353.8 998.3 354.1 998.2 355.1 999.8 356.5 991.4 357.9 993.8 358.4 990.2 359.0 991.0 360.4 989.6 361.0 992.4 361.9 989.6 363.2 990.9 363.5 989.2 364.3 986.0 365.7 983.1 366.9 977.3 367.0 974.5 368.1 981.9 369.2 981.1 370.3 985.3 370.4 986.3 371.6 979.7 372.8 979.2 373.8 975.3 374.1 975.4 375.2 975.4 376.3 976.8 376.7 980.1 378.0 987.1 378.9 991.8 379.4 992.0 380.6 995.6 381.4 995.0 382.0 1000.4 383.5 1003.5 384.6 1011.8 384.8 1010.8 386.0 1006.8 387.3 1000.5 387.4 1000.0 388.3 1000.9 389.4 1001.3 390.0 1002.2 390.8 999.6 391.9 993.9 393.3 991.9 393.4 989.7 394.4 996.1 395.7 1000.8 395.9 1000.1 397.1 992.2 397.1 993.1 398.3 1002.9 399.4 1007.7 399.7 1009.6 401.2 1004.3 401.9 1001.9 402.6 1004.8 403.7 1004.3 404.8 1003.5 405.3 1005.2 406.2 1006.6 407.6 999.7 408.7 1000.0 408.8 999.0 410.2 1002.0 411.2 1004.8 411.3 1007.0 412.4 999.9 413.0 999.0 413.9 977.8 414.4 964.0 415.3 980.1 416.7 998.7 416.8 1001.3 418.0 992.4 418.5 990.8 419.4 997.1 419.8 1003.6 420.5 994.2 421.9 983.9 422.0 983.4 423.2 1000.5 424.1 1007.6 424.6 988.2 425.8 950.8 426.3 931.4 427.1 953.4 428.1 982.8 428.7 1000.5 429.5 999.4 430.6 999.0 430.8 1001.3 432.2 1003.5 433.5 1009.9 434.3 1010.6 434.8 1008.2 435.9 1002.3 437.0 998.7 438.1 990.6 438.4 995.4 439.9 1007.4 440.3 1010.5 441.3 993.9 442.5 976.0 442.6 975.0 443.9 991.6 445.1 1005.6 445.2 1004.9 446.6 1005.0 447.6 1001.5 448.0 1000.7 449.1 1001.5 450.0 996.3 450.5 996.5 451.8 1006.7 452.3 1008.9 453.2 1005.6 454.7 992.2 454.8 991.6 456.0 1000.8 456.5 1007.1 457.0 1004.5 458.0 996.0 459.1 990.2 459.2 989.8 460.5 998.3 461.6 1000.1 461.7 1000.0 463.0 999.9 464.2 1003.3 464.3 1004.3 465.7 988.0 466.4 980.9 466.8 982.1 467.8 987.1 469.3 993.6 470.2 996.4 470.6 997.6 472.0 993.1 472.7 993.7 473.1 994.3 474.4 997.9 475.3 997.3 475.7 993.2 476.9 991.6 478.4 981.8 478.4 982.8 479.7 987.9 480.4 995.6 481.0 995.3 482.3 998.0 483.0 1000.0 483.6 996.5 485.0 979.2 485.5 975.9 486.5 981.3 487.7 984.8 488.1 990.4 488.9 986.6 490.2 983.1 490.6 979.6 491.6 985.0 492.9 993.9 493.2 996.4 494.1 997.2 495.2 990.5 495.8 991.8 496.5 992.4 497.5 995.7 497.8 994.0 499.2 980.9 500.0 974.6 500.5 972.1 501.6 966.9 502.8 960.8 502.9 960.7 504.2 975.3 505.2 985.0 505.6 981.1 507.0 977.2 507.7 972.9 508.1 976.7 509.6 982.6 510.8 989.5 511.1 991.7 512.1 989.3 513.1 987.3 513.7 985.0 514.6 989.4 515.4 992.3 515.7 990.3 517.0 986.2 518.0 979.4 518.4 984.3 519.8 989.9 520.9 992.0 521.4 994.7 522.1 993.4 523.4 986.0 523.9 987.1 524.6 984.7 525.6 990.3 527.1 990.2 527.3 991.9 528.2 990.2 529.5 997.3 530.8 997.0 530.8 995.4 532.2 994.2 533.3 989.0 533.4 987.3 534.5 983.1 535.5 978.2 535.9 978.8 536.7 980.6 537.6 986.6 537.9 988.6 539.2 984.3 540.0 985.8 540.2 984.2 541.3 989.6 541.9 992.4 542.6 991.7 544.1 990.8 544.5 991.5 545.6 995.4 546.9 995.3 547.9 1001.2 547.9 1000.6 549.1 993.5 550.3 988.1 551.3 981.1 551.5 979.1 552.9 975.6 553.9 967.1 554.4 969.8 555.7 983.5 556.9 993.3 557.3 997.2 558.4 991.2 559.0 986.0 559.6 991.3 560.6 994.1 560.7 996.0 562.0 988.9 562.4 986.9 563.2 984.3 564.4 981.3 565.0 982.1 565.7 988.0 566.7 990.5 567.2 986.1 568.2 978.8 569.2 970.0 569.7 970.2 570.8 981.2 571.8 986.3 571.9 986.5 573.1 984.4 574.1 983.7 574.4 980.5 575.4 982.2 576.6 983.9 577.8 984.6 578.0 985.4 579.3 993.4 579.5 994.7 580.4 988.1 581.8 978.6 582.0 978.7 583.0 982.2 584.1 987.7 584.6 991.9 585.2 988.2 586.3 978.9 586.3 979.6 587.3 988.7 588.6 996.2 588.9 998.3 590.1 984.5 591.4 968.4 591.5 968.6 592.8 973.3 594.0 982.2 594.2 978.7 595.5 972.1 595.7 968.5 596.9 975.9 598.2 982.0 599.1 986.3 599.2 986.7 600.4 987.3 601.5 984.6 602.5 983.1 603.4 981.3 603.8 982.1 605.2 972.8 606.4 967.7 606.5 967.3 607.8 981.2 608.5 985.6 609.3 987.0 610.4 981.6 611.1 980.7 611.8 976.5 613.2 966.3 613.6 961.9 614.5 966.8 615.7 980.7 616.2 982.2 616.7 981.5 617.9 982.6 618.7 981.3 619.2 981.6 620.2 977.0 621.7 977.3 622.8 972.3 623.0 971.9 624.0 977.8 625.3 982.2 625.6 983.4 626.5 980.2 627.7 978.9 628.1 978.4 629.0 976.9 630.2 976.2 630.7 976.0 631.6 980.9 632.7 983.4 633.2 985.0 633.9 981.5 635.2 981.3 636.4 982.6 637.5 979.1 637.7 977.0 638.8 963.0 639.2 958.9 640.2 964.3 640.9 967.2 641.4 964.3 642.6 962.2 642.7 962.7 643.8 963.8 645.0 971.5 646.2 973.5 647.6 977.0 647.7 979.5 648.8 967.5 649.5 961.8 650.0 967.0 651.2 981.6 651.3 979.9 652.6 982.8 653.8 986.4 654.6 988.9 655.2 984.6 656.6 981.3 657.1 979.9 657.9 972.6 659.0 965.1 660.0 956.5 660.2 959.1 661.6 969.3 662.9 979.5 663.1 979.3 664.3 972.4 664.8 966.0 665.3 969.5 666.6 978.1 667.4 981.8 667.8 979.4 669.1 969.5 671.0 828.7 672.3 828.7 674.7 966.0 677.0 976.2 678.3 983.2 678.5 982.3 679.8 978.3 681.3 969.1 681.9 970.1 682.7 966.1 684.0 966.6 685.4 960.6 686.1 962.2 686.8 964.7 687.9 968.0 689.0 976.6 690.4 979.3 690.4 980.3 691.9 984.3 693.1 989.4 693.8 992.0 694.2 989.4 695.6 977.2 696.4 972.8 696.9 973.8 698.1 983.0 698.9 986.4 699.4 981.1 700.6 968.1 700.6 965.9 702.0 974.6 703.1 977.9 704.6 986.9 704.9 986.8 705.8 983.0 706.9 975.3 708.3 971.8 708.4 973.6 709.7 986.8 710.0 988.9 711.0 974.9 711.7 967.7 712.2 972.6 713.5 981.9 714.3 989.9 714.6 988.8 716.1 985.8 717.2 977.8 717.7 977.9 718.5 979.5 719.6 978.0 720.8 981.2 721.1 980.9 721.8 980.7 722.9 975.3 724.2 968.6 724.9 967.1 725.3 969.3 726.5 983.7 727.1 989.1 727.9 978.6 728.8 971.9 729.3 975.2 730.4 979.6 731.4 984.5 731.8 985.6 733.0 983.3 734.1 981.9 735.4 981.6 736.6 983.8 737.3 981.2 737.7 982.7 738.7 981.7 739.8 978.1 740.8 979.3 740.9 979.3 742.0 978.6 743.3 975.7 744.7 975.5 745.0 979.0 745.8 981.3 747.0 986.5 748.2 992.9 748.4 994.0 749.2 992.3 750.0 986.9 750.4 983.9 750.5 986.4 751.7 993.3 752.8 995.3 753.7 998.7 754.0 998.4 755.2 990.7 755.6 992.6 756.5 998.5 757.1 1005.2 757.9 999.4 759.2 991.5 759.4 988.5 760.3 993.3 761.4 998.1 761.7 998.0 763.2 995.0 763.3 996.1 764.5 998.0 765.7 1006.1 766.7 1006.7 767.1 1009.0 767.9 1006.8 768.4 1003.3 769.1 1007.9 770.1 1006.4 771.2 1012.7 771.6 1013.1 772.6 1012.0 773.7 1009.6 774.2 1007.6 775.2 1011.3 775.4 1009.9 776.3 1006.2 777.7 1001.6 778.6 999.4 779.1 1001.2 780.4 1005.3 781.2 1011.2 781.5 1006.9 782.9 1002.4 782.9 1002.9 784.3 1014.7 785.3 1023.0 785.7 1020.2 786.9 1019.9 787.6 1018.8 787.9 1022.0 789.3 1019.1 790.7 1021.9 791.4 1023.3 792.1 1026.5 793.3 1024.3 794.7 1026.2 795.3 1025.4 796.0 1024.1 797.1 1025.6 797.8 1023.4 798.1 1023.2 799.5 1026.1 800.4 1028.1 801.0 1026.9 802.0 1027.7 803.0 1026.7 803.3 1027.0 804.8 1028.1 805.5 1028.5 805.9 1028.7 807.1 1029.2 808.4 1030.3 809.4 1030.9 809.6 1030.6 810.9 1030.5 817.0 1031.8 900.0 1032.4 1400.0 1032.3 1410.0 1032.0 1425.0 1031.7 1438.0 1031.4 1440.0 1031.2 1442.0 1029.4 1443.5 1031.0 1446.0 1028.2 1447.5 1030.4 1449.0 1028.6 1451.0 1030.0 1453.0 1029.0 1455.0 1029.4 1458.0 1028.4 1463.0 1028.5" stroke="#ff7f0e" stroke-width="2.3" stroke-linejoin="round" stroke-linecap="butt" fill="none"/>
</g>
<rect x="1047.4" y="48.6" width="406.0" height="79.2" rx="2.8" fill="#fff" fill-opacity="0.8" stroke="#ccc" stroke-opacity="0.8" stroke-width="1.39"/>
<circle cx="1073" cy="63.6" r="2.75" fill="#1f77b4"/>
<path d="M1053.4 101.6H1092.4" stroke="#ff7f0e" stroke-width="2.08"/>
<text x="1105.90" y="68.60" font-size="19.25" textLength="97.74" lengthAdjust="spacingAndGlyphs" stroke="#000" stroke-width="0.33">Raw Data</text>
<text x="1105.90" y="95.60" font-size="19.25" textLength="270.08" lengthAdjust="spacingAndGlyphs" stroke="#000" stroke-width="0.33">Butterworth Filtered Data</text>
<text x="1106.60" y="116.60" font-size="19.25" textLength="339.37" lengthAdjust="spacingAndGlyphs" stroke="#000" stroke-width="0.33">(N=6, Tc=3.3333 min, Type: low)</text>
<rect x="1047.4" y="585.6" width="406.0" height="79.2" rx="2.8" fill="#fff" fill-opacity="0.8" stroke="#ccc" stroke-opacity="0.8" stroke-width="1.39"/>
<circle cx="1073" cy="600.6" r="2.75" fill="#1f77b4"/>
<path d="M1053.4 638.6H1092.4" stroke="#ff7f0e" stroke-width="2.08"/>
<text x="1105.90" y="605.60" font-size="19.25" textLength="97.74" lengthAdjust="spacingAndGlyphs" stroke="#000" stroke-width="0.33">Raw Data</text>
<text x="1105.90" y="632.60" font-size="19.25" textLength="270.08" lengthAdjust="spacingAndGlyphs" stroke="#000" stroke-width="0.33">Butterworth Filtered Data</text>
<text x="1106.60" y="653.60" font-size="19.25" textLength="339.37" lengthAdjust="spacingAndGlyphs" stroke="#000" stroke-width="0.33">(N=6, Tc=3.3333 min, Type: low)</text>
<path d="M115.50 518.5v5.4M284.50 518.5v5.4M452.50 518.5v5.4M620.50 518.5v5.4M789.50 518.5v5.4M957.50 518.5v5.4M1126.50 518.5v5.4M1294.50 518.5v5.4M115.5 141.50h-5.4M115.5 246.50h-5.4M115.5 351.50h-5.4M115.5 456.50h-5.4" stroke="#000" stroke-width="1.11" fill="none"/>
<rect x="115.5" y="38.5" width="1347.0" height="480.0" fill="none" stroke="#000" stroke-width="1.11"/>
<path d="M115.50 1054.5v5.4M284.50 1054.5v5.4M452.50 1054.5v5.4M620.50 1054.5v5.4M789.50 1054.5v5.4M957.50 1054.5v5.4M1126.50 1054.5v5.4M1294.50 1054.5v5.4M115.5 1033.50h-5.4M115.5 955.50h-5.4M115.5 877.50h-5.4M115.5 799.50h-5.4M115.5 721.50h-5.4M115.5 643.50h-5.4" stroke="#000" stroke-width="1.11" fill="none"/>
<rect x="115.5" y="575.5" width="1347.0" height="479.0" fill="none" stroke="#000" stroke-width="1.11"/>
<text x="643.50" y="29.70" font-size="28.13" textLength="281.41" lengthAdjust="spacingAndGlyphs" stroke="#000" stroke-width="0.48">2.5 MHz N0000003</text>
<text x="116.00" y="30.20" font-size="26.65" textLength="40.00" lengthAdjust="spacingAndGlyphs" stroke="#000" stroke-width="0.45">(a)</text>
<text x="116.00" y="567.20" font-size="26.65" textLength="41.03" lengthAdjust="spacingAndGlyphs" stroke="#000" stroke-width="0.45">(b)</text>
<text x="89.15" y="148.80" font-size="22.33" textLength="14.75" lengthAdjust="spacingAndGlyphs" stroke="#000" stroke-width="0.36">2</text>
<text x="89.15" y="253.80" font-size="22.33" textLength="14.75" lengthAdjust="spacingAndGlyphs" stroke="#000" stroke-width="0.36">0</text>
<text x="71.38" y="358.80" font-size="22.33" textLength="32.52" lengthAdjust="spacingAndGlyphs" stroke="#000" stroke-width="0.36">−2</text>
<text x="71.38" y="463.80" font-size="22.33" textLength="32.52" lengthAdjust="spacingAndGlyphs" stroke="#000" stroke-width="0.36">−4</text>
<text x="51.58" y="1040.80" font-size="22.33" textLength="52.32" lengthAdjust="spacingAndGlyphs" stroke="#000" stroke-width="0.36">0.00</text>
<text x="51.58" y="962.80" font-size="22.33" textLength="52.32" lengthAdjust="spacingAndGlyphs" stroke="#000" stroke-width="0.36">0.05</text>
<text x="51.58" y="884.80" font-size="22.33" textLength="52.32" lengthAdjust="spacingAndGlyphs" stroke="#000" stroke-width="0.36">0.10</text>
<text x="51.58" y="806.80" font-size="22.33" textLength="52.32" lengthAdjust="spacingAndGlyphs" stroke="#000" stroke-width="0.36">0.15</text>
<text x="51.58" y="728.80" font-size="22.33" textLength="52.32" lengthAdjust="spacingAndGlyphs" stroke="#000" stroke-width="0.36">0.20</text>
<text x="51.58" y="650.80" font-size="22.33" textLength="52.32" lengthAdjust="spacingAndGlyphs" stroke="#000" stroke-width="0.36">0.25</text>
<text x="-109.59" y="0.00" font-size="23.37" textLength="109.59" lengthAdjust="spacingAndGlyphs" transform="translate(112.50,1078.00) rotate(-30)" stroke="#000" stroke-width="0.36">09-28 00</text>
<text x="-109.59" y="0.00" font-size="23.37" textLength="109.59" lengthAdjust="spacingAndGlyphs" transform="translate(281.50,1078.00) rotate(-30)" stroke="#000" stroke-width="0.36">09-28 03</text>
<text x="-109.59" y="0.00" font-size="23.37" textLength="109.59" lengthAdjust="spacingAndGlyphs" transform="translate(449.50,1078.00) rotate(-30)" stroke="#000" stroke-width="0.36">09-28 06</text>
<text x="-109.59" y="0.00" font-size="23.37" textLength="109.59" lengthAdjust="spacingAndGlyphs" transform="translate(617.50,1078.00) rotate(-30)" stroke="#000" stroke-width="0.36">09-28 09</text>
<text x="-109.59" y="0.00" font-size="23.37" textLength="109.59" lengthAdjust="spacingAndGlyphs" transform="translate(786.50,1078.00) rotate(-30)" stroke="#000" stroke-width="0.36">09-28 12</text>
<text x="-109.59" y="0.00" font-size="23.37" textLength="109.59" lengthAdjust="spacingAndGlyphs" transform="translate(954.50,1078.00) rotate(-30)" stroke="#000" stroke-width="0.36">09-28 15</text>
<text x="-109.59" y="0.00" font-size="23.37" textLength="109.59" lengthAdjust="spacingAndGlyphs" transform="translate(1123.50,1078.00) rotate(-30)" stroke="#000" stroke-width="0.36">09-28 18</text>
<text x="-109.59" y="0.00" font-size="23.37" textLength="109.59" lengthAdjust="spacingAndGlyphs" transform="translate(1291.50,1078.00) rotate(-30)" stroke="#000" stroke-width="0.36">09-28 21</text>
<text x="-113.89" y="0.00" font-size="23.69" textLength="227.79" lengthAdjust="spacingAndGlyphs" transform="translate(61.50,278.50) rotate(-90)" stroke="#000" stroke-width="0.40">Doppler Shift [Hz]</text>
<text x="-106.13" y="0.00" font-size="23.69" textLength="212.25" lengthAdjust="spacingAndGlyphs" transform="translate(40.00,815.80) rotate(-90)" stroke="#000" stroke-width="0.40">Peak Voltage [V]</text>
<text x="764.07" y="1158.00" font-size="23.69" textLength="49.85" lengthAdjust="spacingAndGlyphs" stroke="#000" stroke-width="0.40">UTC</text>
</svg></body></html>
